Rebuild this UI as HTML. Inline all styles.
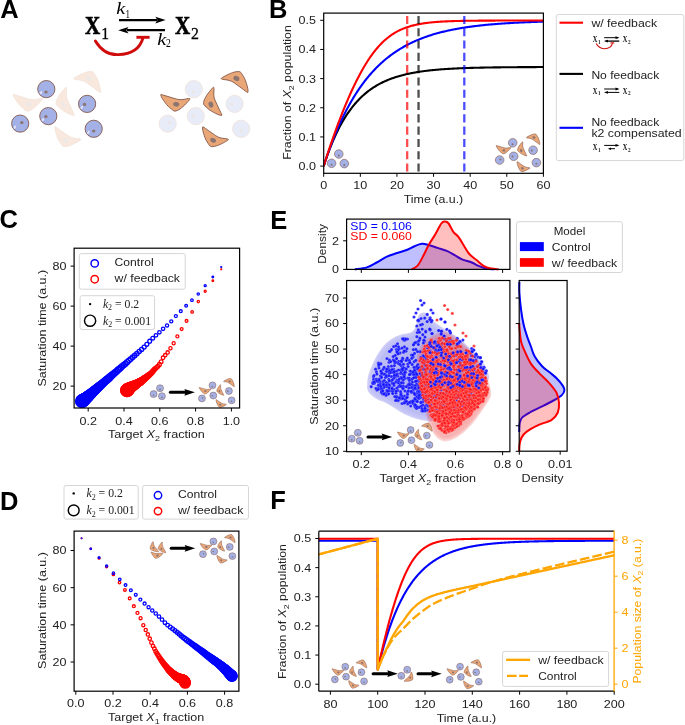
<!DOCTYPE html>
<html><head><meta charset="utf-8"><style>
html,body{margin:0;padding:0;background:#fff;}
svg{display:block;will-change:transform;}

</style></head><body>
<svg width="685" height="725" viewBox="0 0 685 725" font-family="'Liberation Sans', sans-serif" fill="#222222">
<rect width="685" height="725" fill="#fff"/>
<text x="0.30" y="18.00" font-size="25.5" fill="#000" font-weight="bold">A</text>
<text x="85.00" y="34.00" font-size="25" fill="#000" textLength="15.20" lengthAdjust="spacingAndGlyphs" font-weight="bold" font-family="'Liberation Serif', serif" stroke="#000" stroke-width="0.7">X</text>
<text x="101.30" y="38.90" font-size="16.5" fill="#000" textLength="7.80" lengthAdjust="spacingAndGlyphs" font-family="'Liberation Serif', serif" stroke="#000" stroke-width="0.3">1</text>
<text x="174.90" y="34.00" font-size="25" fill="#000" textLength="15.20" lengthAdjust="spacingAndGlyphs" font-weight="bold" font-family="'Liberation Serif', serif" stroke="#000" stroke-width="0.7">X</text>
<text x="190.90" y="38.90" font-size="16.5" fill="#000" textLength="7.90" lengthAdjust="spacingAndGlyphs" font-family="'Liberation Serif', serif" stroke="#000" stroke-width="0.3">2</text>
<text x="116.30" y="14.00" font-size="16.5" fill="#000" textLength="9.00" lengthAdjust="spacingAndGlyphs" font-family="'Liberation Serif', serif" font-style="italic">k</text>
<text x="125.50" y="17.60" font-size="11.5" fill="#000" textLength="4.50" lengthAdjust="spacingAndGlyphs" font-family="'Liberation Serif', serif">1</text>
<text x="157.20" y="44.60" font-size="16.5" fill="#000" textLength="9.00" lengthAdjust="spacingAndGlyphs" font-family="'Liberation Serif', serif" font-style="italic">k</text>
<text x="166.00" y="47.40" font-size="11.5" fill="#000" textLength="4.80" lengthAdjust="spacingAndGlyphs" font-family="'Liberation Serif', serif">2</text>
<line x1="119.00" y1="20.10" x2="157.00" y2="20.10" stroke="#000" stroke-width="2.3"/>
<path d="M165.6,20.1 L155.3,16.8 L157.5,20.1 L155.3,23.4 Z" fill="#000"/>
<line x1="127.00" y1="30.20" x2="165.00" y2="30.20" stroke="#000" stroke-width="2.3"/>
<path d="M118.2,30.2 L128.5,26.9 L126.3,30.2 L128.5,33.5 Z" fill="#000"/>
<path d="M95.4,40.9 Q104,55.2 118.2,54.6 Q138.5,54 143.0,37.8" stroke="#d00c0c" stroke-width="2.9" fill="none" stroke-linecap="round"/>
<line x1="136.40" y1="37.30" x2="149.60" y2="37.30" stroke="#d00c0c" stroke-width="2.9"/>
<path d="M73.70,78.40 C73.90,77.92 75.43,77.22 76.63,76.54 C77.82,75.86 79.45,74.97 80.86,74.32 C82.26,73.67 83.84,73.07 85.06,72.65 C86.28,72.22 87.15,71.95 88.19,71.77 C89.23,71.59 90.44,71.47 91.29,71.57 C92.14,71.67 92.65,71.76 93.31,72.38 C93.96,73.01 94.58,74.29 95.22,75.31 C95.85,76.33 96.50,77.17 97.11,78.52 C97.73,79.87 98.41,81.77 98.92,83.40 C99.44,85.04 99.94,86.95 100.21,88.32 C100.49,89.69 100.59,90.93 100.56,91.63 C100.52,92.32 100.51,92.65 100.00,92.50 C99.49,92.35 98.51,91.44 97.52,90.72 C96.53,90.00 95.20,89.02 94.05,88.17 C92.89,87.32 91.73,86.47 90.57,85.62 C89.42,84.77 88.26,83.83 87.10,83.07 C85.94,82.32 84.86,81.60 83.60,81.08 C82.34,80.56 80.90,80.24 79.54,79.96 C78.18,79.68 76.42,79.66 75.45,79.40 C74.48,79.14 73.50,78.88 73.70,78.40 Z" fill="#f8e8de" stroke="#f3e3da" stroke-width="0.9" stroke-linejoin="round"/>
<ellipse cx="88.90" cy="78.40" rx="3.13" ry="2.39" transform="rotate(28.2 88.90 78.40)" fill="#efe9e6"/>
<path d="M42.50,98.90 C42.48,99.40 41.29,100.56 40.41,101.58 C39.53,102.60 38.32,103.96 37.23,105.01 C36.15,106.07 34.89,107.14 33.90,107.93 C32.91,108.72 32.19,109.26 31.29,109.77 C30.39,110.27 29.32,110.78 28.50,110.97 C27.68,111.15 27.18,111.24 26.37,110.88 C25.56,110.52 24.57,109.54 23.65,108.80 C22.73,108.07 21.86,107.50 20.85,106.46 C19.83,105.42 18.59,103.88 17.58,102.55 C16.56,101.21 15.47,99.61 14.77,98.43 C14.07,97.25 13.57,96.14 13.37,95.49 C13.17,94.83 13.08,94.53 13.60,94.50 C14.12,94.47 15.32,94.99 16.47,95.33 C17.63,95.67 19.17,96.14 20.52,96.55 C21.86,96.95 23.21,97.36 24.56,97.76 C25.90,98.17 27.28,98.66 28.60,98.98 C29.92,99.29 31.15,99.60 32.48,99.67 C33.82,99.74 35.25,99.56 36.60,99.38 C37.95,99.19 39.57,98.63 40.56,98.55 C41.54,98.47 42.52,98.40 42.50,98.90 Z" fill="#f8e8de" stroke="#f3e3da" stroke-width="0.9" stroke-linejoin="round"/>
<ellipse cx="28.70" cy="104.30" rx="3.07" ry="2.34" transform="rotate(-171.3 28.70 104.30)" fill="#efe9e6"/>
<path d="M65.90,87.20 C65.41,87.30 64.44,88.63 63.57,89.65 C62.69,90.66 61.53,92.05 60.64,93.27 C59.76,94.49 58.89,95.88 58.26,96.97 C57.62,98.06 57.20,98.84 56.83,99.80 C56.46,100.75 56.11,101.89 56.05,102.72 C55.98,103.55 55.97,104.06 56.44,104.80 C56.91,105.54 58.02,106.38 58.88,107.18 C59.74,107.98 60.41,108.75 61.59,109.60 C62.76,110.44 64.45,111.45 65.91,112.25 C67.37,113.05 69.11,113.89 70.36,114.41 C71.62,114.93 72.79,115.27 73.46,115.37 C74.13,115.47 74.45,115.51 74.40,115.00 C74.35,114.49 73.67,113.38 73.17,112.29 C72.66,111.21 71.98,109.76 71.39,108.49 C70.80,107.22 70.20,105.96 69.61,104.69 C69.02,103.42 68.33,102.14 67.83,100.89 C67.33,99.63 66.85,98.47 66.59,97.17 C66.33,95.86 66.29,94.43 66.28,93.07 C66.27,91.72 66.59,90.04 66.52,89.06 C66.46,88.08 66.39,87.10 65.90,87.20 Z" fill="#f8e8de" stroke="#f3e3da" stroke-width="0.9" stroke-linejoin="round"/>
<ellipse cx="63.40" cy="104.60" rx="3.05" ry="2.33" transform="rotate(73.0 63.40 104.60)" fill="#efe9e6"/>
<path d="M80.90,139.70 C80.72,140.16 79.27,140.86 78.15,141.54 C77.02,142.21 75.48,143.10 74.16,143.75 C72.83,144.40 71.34,145.00 70.18,145.43 C69.02,145.86 68.20,146.14 67.21,146.33 C66.22,146.52 65.07,146.67 64.26,146.59 C63.44,146.51 62.95,146.44 62.31,145.86 C61.68,145.28 61.06,144.07 60.43,143.10 C59.80,142.14 59.17,141.36 58.55,140.08 C57.93,138.81 57.25,137.01 56.72,135.46 C56.19,133.91 55.67,132.10 55.39,130.79 C55.10,129.49 54.97,128.31 54.98,127.64 C55.00,126.98 55.01,126.67 55.50,126.80 C55.99,126.93 56.94,127.78 57.91,128.45 C58.87,129.12 60.15,130.02 61.27,130.81 C62.40,131.59 63.52,132.38 64.64,133.17 C65.76,133.95 66.89,134.83 68.01,135.52 C69.14,136.22 70.18,136.88 71.39,137.35 C72.61,137.82 73.99,138.10 75.29,138.34 C76.60,138.58 78.27,138.56 79.21,138.79 C80.14,139.01 81.08,139.24 80.90,139.70 Z" fill="#f8e8de" stroke="#f3e3da" stroke-width="0.9" stroke-linejoin="round"/>
<ellipse cx="65.60" cy="140.20" rx="2.99" ry="2.28" transform="rotate(-153.1 65.60 140.20)" fill="#efe9e6"/>
<circle cx="46.30" cy="89.10" r="8.60" fill="#a3b1e7" stroke="#84574a" stroke-width="0.9"/>
<ellipse cx="40.97" cy="92.71" rx="1.03" ry="1.72" transform="rotate(30 40.97 92.71)" fill="#dfe4fa"/>
<ellipse cx="45.96" cy="92.02" rx="1.72" ry="1.55" fill="#8c7470"/>
<circle cx="87.10" cy="103.90" r="8.60" fill="#a3b1e7" stroke="#84574a" stroke-width="0.9"/>
<ellipse cx="81.77" cy="107.51" rx="1.03" ry="1.72" transform="rotate(30 81.77 107.51)" fill="#dfe4fa"/>
<ellipse cx="84.52" cy="104.42" rx="1.72" ry="1.55" fill="#8c7470"/>
<circle cx="48.30" cy="116.10" r="8.60" fill="#a3b1e7" stroke="#84574a" stroke-width="0.9"/>
<ellipse cx="42.97" cy="119.71" rx="1.03" ry="1.72" transform="rotate(30 42.97 119.71)" fill="#dfe4fa"/>
<ellipse cx="45.89" cy="116.44" rx="1.72" ry="1.55" fill="#8c7470"/>
<circle cx="20.20" cy="123.60" r="8.60" fill="#a3b1e7" stroke="#84574a" stroke-width="0.9"/>
<ellipse cx="14.87" cy="127.21" rx="1.03" ry="1.72" transform="rotate(30 14.87 127.21)" fill="#dfe4fa"/>
<ellipse cx="21.83" cy="122.48" rx="1.72" ry="1.55" fill="#8c7470"/>
<circle cx="93.70" cy="128.80" r="8.60" fill="#a3b1e7" stroke="#84574a" stroke-width="0.9"/>
<ellipse cx="88.37" cy="132.41" rx="1.03" ry="1.72" transform="rotate(30 88.37 132.41)" fill="#dfe4fa"/>
<ellipse cx="93.70" cy="130.95" rx="1.72" ry="1.55" fill="#8c7470"/>
<path d="M221.20,78.40 C221.40,77.92 222.93,77.22 224.13,76.54 C225.32,75.86 226.95,74.97 228.36,74.32 C229.76,73.67 231.34,73.07 232.56,72.65 C233.78,72.22 234.65,71.95 235.69,71.77 C236.73,71.59 237.94,71.47 238.79,71.57 C239.64,71.67 240.15,71.76 240.81,72.38 C241.46,73.01 242.08,74.29 242.72,75.31 C243.35,76.33 244.00,77.17 244.61,78.52 C245.23,79.87 245.91,81.77 246.42,83.40 C246.94,85.04 247.44,86.95 247.71,88.32 C247.99,89.69 248.09,90.93 248.06,91.63 C248.02,92.32 248.01,92.65 247.50,92.50 C246.99,92.35 246.01,91.44 245.02,90.72 C244.03,90.00 242.70,89.02 241.55,88.17 C240.39,87.32 239.23,86.47 238.07,85.62 C236.92,84.77 235.76,83.83 234.60,83.07 C233.44,82.32 232.36,81.60 231.10,81.08 C229.84,80.56 228.40,80.24 227.04,79.96 C225.68,79.68 223.92,79.66 222.95,79.40 C221.98,79.14 221.00,78.88 221.20,78.40 Z" fill="#e9a677" stroke="#84574a" stroke-width="0.9" stroke-linejoin="round"/>
<ellipse cx="236.40" cy="78.40" rx="3.13" ry="2.39" transform="rotate(28.2 236.40 78.40)" fill="#8c7470"/>
<path d="M190.00,98.90 C189.98,99.40 188.79,100.56 187.91,101.58 C187.03,102.60 185.82,103.96 184.73,105.01 C183.65,106.07 182.39,107.14 181.40,107.93 C180.41,108.72 179.69,109.26 178.79,109.77 C177.89,110.27 176.82,110.78 176.00,110.97 C175.18,111.15 174.68,111.24 173.87,110.88 C173.06,110.52 172.07,109.54 171.15,108.80 C170.23,108.07 169.36,107.50 168.35,106.46 C167.33,105.42 166.09,103.88 165.08,102.55 C164.06,101.21 162.97,99.61 162.27,98.43 C161.57,97.25 161.07,96.14 160.87,95.49 C160.67,94.83 160.58,94.53 161.10,94.50 C161.62,94.47 162.82,94.99 163.97,95.33 C165.13,95.67 166.67,96.14 168.02,96.55 C169.36,96.95 170.71,97.36 172.06,97.76 C173.40,98.17 174.78,98.66 176.10,98.98 C177.42,99.29 178.65,99.60 179.98,99.67 C181.32,99.74 182.75,99.56 184.10,99.38 C185.45,99.19 187.07,98.63 188.06,98.55 C189.04,98.47 190.02,98.40 190.00,98.90 Z" fill="#e9a677" stroke="#84574a" stroke-width="0.9" stroke-linejoin="round"/>
<ellipse cx="176.20" cy="104.30" rx="3.07" ry="2.34" transform="rotate(-171.3 176.20 104.30)" fill="#8c7470"/>
<path d="M213.40,87.20 C212.91,87.30 211.94,88.63 211.07,89.65 C210.19,90.66 209.03,92.05 208.14,93.27 C207.26,94.49 206.39,95.88 205.76,96.97 C205.12,98.06 204.70,98.84 204.33,99.80 C203.96,100.75 203.61,101.89 203.55,102.72 C203.48,103.55 203.47,104.06 203.94,104.80 C204.41,105.54 205.52,106.38 206.38,107.18 C207.24,107.98 207.91,108.75 209.09,109.60 C210.26,110.44 211.95,111.45 213.41,112.25 C214.87,113.05 216.61,113.89 217.86,114.41 C219.12,114.93 220.29,115.27 220.96,115.37 C221.63,115.47 221.95,115.51 221.90,115.00 C221.85,114.49 221.17,113.38 220.67,112.29 C220.16,111.21 219.48,109.76 218.89,108.49 C218.30,107.22 217.70,105.96 217.11,104.69 C216.52,103.42 215.83,102.14 215.33,100.89 C214.83,99.63 214.35,98.47 214.09,97.17 C213.83,95.86 213.79,94.43 213.78,93.07 C213.77,91.72 214.09,90.04 214.02,89.06 C213.96,88.08 213.89,87.10 213.40,87.20 Z" fill="#e9a677" stroke="#84574a" stroke-width="0.9" stroke-linejoin="round"/>
<ellipse cx="210.90" cy="104.60" rx="3.05" ry="2.33" transform="rotate(73.0 210.90 104.60)" fill="#8c7470"/>
<path d="M228.40,139.70 C228.22,140.16 226.77,140.86 225.65,141.54 C224.52,142.21 222.98,143.10 221.66,143.75 C220.33,144.40 218.84,145.00 217.68,145.43 C216.52,145.86 215.70,146.14 214.71,146.33 C213.72,146.52 212.57,146.67 211.76,146.59 C210.94,146.51 210.45,146.44 209.81,145.86 C209.18,145.28 208.56,144.07 207.93,143.10 C207.30,142.14 206.67,141.36 206.05,140.08 C205.43,138.81 204.75,137.01 204.22,135.46 C203.69,133.91 203.17,132.10 202.89,130.79 C202.60,129.49 202.47,128.31 202.48,127.64 C202.50,126.98 202.51,126.67 203.00,126.80 C203.49,126.93 204.44,127.78 205.41,128.45 C206.37,129.12 207.65,130.02 208.77,130.81 C209.90,131.59 211.02,132.38 212.14,133.17 C213.26,133.95 214.39,134.83 215.51,135.52 C216.64,136.22 217.68,136.88 218.89,137.35 C220.11,137.82 221.49,138.10 222.79,138.34 C224.10,138.58 225.77,138.56 226.71,138.79 C227.64,139.01 228.58,139.24 228.40,139.70 Z" fill="#e9a677" stroke="#84574a" stroke-width="0.9" stroke-linejoin="round"/>
<ellipse cx="213.10" cy="140.20" rx="2.99" ry="2.28" transform="rotate(-153.1 213.10 140.20)" fill="#8c7470"/>
<circle cx="193.80" cy="89.10" r="8.60" fill="#e8ecf8" stroke="#efe3dc" stroke-width="0.9"/>
<circle cx="193.46" cy="92.02" r="1.72" fill="#ebe6e6"/>
<circle cx="234.60" cy="103.90" r="8.60" fill="#e8ecf8" stroke="#efe3dc" stroke-width="0.9"/>
<circle cx="232.02" cy="104.42" r="1.72" fill="#ebe6e6"/>
<circle cx="195.80" cy="116.10" r="8.60" fill="#e8ecf8" stroke="#efe3dc" stroke-width="0.9"/>
<circle cx="193.39" cy="116.44" r="1.72" fill="#ebe6e6"/>
<circle cx="167.70" cy="123.60" r="8.60" fill="#e8ecf8" stroke="#efe3dc" stroke-width="0.9"/>
<circle cx="169.33" cy="122.48" r="1.72" fill="#ebe6e6"/>
<circle cx="241.20" cy="128.80" r="8.60" fill="#e8ecf8" stroke="#efe3dc" stroke-width="0.9"/>
<circle cx="241.20" cy="130.95" r="1.72" fill="#ebe6e6"/>
<text x="269.00" y="18.20" font-size="25.5" fill="#000" font-weight="bold">B</text>
<clipPath id="cB"><rect x="323.7" y="13.1" width="219.7" height="160.20000000000002"/></clipPath>
<g clip-path="url(#cB)">
<circle cx="338.80" cy="154.00" r="4.30" fill="#a3b1e7" stroke="#84574a" stroke-width="0.6"/>
<ellipse cx="338.80" cy="155.46" rx="1.07" ry="0.99" fill="#8c7470"/>
<circle cx="331.60" cy="163.30" r="4.30" fill="#a3b1e7" stroke="#84574a" stroke-width="0.6"/>
<ellipse cx="331.60" cy="164.76" rx="1.07" ry="0.99" fill="#8c7470"/>
<circle cx="344.30" cy="163.60" r="4.30" fill="#a3b1e7" stroke="#84574a" stroke-width="0.6"/>
<ellipse cx="344.30" cy="165.06" rx="1.07" ry="0.99" fill="#8c7470"/>
<path d="M526.40,137.45 C526.50,137.21 527.27,136.86 527.86,136.52 C528.46,136.18 529.28,135.73 529.98,135.41 C530.68,135.08 531.47,134.79 532.08,134.57 C532.69,134.36 533.13,134.23 533.65,134.14 C534.17,134.05 534.77,133.98 535.20,134.04 C535.62,134.09 535.88,134.13 536.20,134.44 C536.53,134.75 536.84,135.39 537.16,135.91 C537.48,136.42 537.80,136.84 538.11,137.51 C538.42,138.18 538.75,139.13 539.01,139.95 C539.27,140.77 539.52,141.72 539.66,142.41 C539.79,143.10 539.85,143.72 539.83,144.06 C539.81,144.41 539.80,144.58 539.55,144.50 C539.30,144.42 538.81,143.97 538.31,143.61 C537.81,143.25 537.15,142.76 536.57,142.34 C535.99,141.91 535.42,141.49 534.84,141.06 C534.26,140.64 533.68,140.16 533.10,139.79 C532.52,139.41 531.98,139.05 531.35,138.79 C530.72,138.53 530.00,138.37 529.32,138.23 C528.64,138.09 527.76,138.08 527.28,137.95 C526.79,137.82 526.30,137.69 526.40,137.45 Z" fill="#e9a677" stroke="#84574a" stroke-width="0.6" stroke-linejoin="round"/>
<ellipse cx="534.00" cy="137.45" rx="1.57" ry="1.19" transform="rotate(28.2 534.00 137.45)" fill="#8c7470"/>
<path d="M510.80,147.70 C510.79,147.95 510.19,148.53 509.75,149.04 C509.31,149.55 508.71,150.23 508.17,150.76 C507.62,151.29 506.99,151.82 506.50,152.22 C506.00,152.61 505.65,152.88 505.20,153.13 C504.75,153.39 504.21,153.64 503.80,153.73 C503.39,153.83 503.14,153.87 502.74,153.69 C502.33,153.51 501.83,153.02 501.37,152.65 C500.91,152.28 500.48,152.00 499.97,151.48 C499.47,150.96 498.84,150.19 498.34,149.52 C497.83,148.85 497.29,148.05 496.94,147.46 C496.59,146.88 496.33,146.32 496.23,145.99 C496.14,145.67 496.09,145.51 496.35,145.50 C496.61,145.49 497.21,145.75 497.79,145.92 C498.36,146.09 499.13,146.32 499.81,146.52 C500.48,146.73 501.15,146.93 501.83,147.13 C502.50,147.33 503.19,147.58 503.85,147.74 C504.51,147.90 505.12,148.05 505.79,148.09 C506.46,148.12 507.18,148.03 507.85,147.94 C508.52,147.84 509.34,147.57 509.83,147.53 C510.32,147.49 510.81,147.45 510.80,147.70 Z" fill="#e9a677" stroke="#84574a" stroke-width="0.6" stroke-linejoin="round"/>
<ellipse cx="503.90" cy="150.40" rx="1.53" ry="1.17" transform="rotate(-171.3 503.90 150.40)" fill="#8c7470"/>
<path d="M522.50,141.85 C522.25,141.90 521.77,142.57 521.33,143.07 C520.90,143.58 520.31,144.27 519.87,144.88 C519.43,145.49 519.00,146.19 518.68,146.73 C518.36,147.28 518.15,147.67 517.96,148.15 C517.78,148.63 517.61,149.19 517.57,149.61 C517.54,150.03 517.53,150.28 517.77,150.65 C518.01,151.02 518.56,151.44 518.99,151.84 C519.42,152.24 519.76,152.63 520.34,153.05 C520.93,153.47 521.77,153.97 522.50,154.37 C523.24,154.78 524.10,155.20 524.73,155.46 C525.36,155.72 525.94,155.89 526.28,155.93 C526.62,155.98 526.77,156.01 526.75,155.75 C526.73,155.49 526.38,154.94 526.13,154.40 C525.88,153.85 525.54,153.13 525.24,152.50 C524.95,151.86 524.65,151.23 524.35,150.60 C524.06,149.96 523.72,149.32 523.47,148.69 C523.21,148.07 522.97,147.48 522.84,146.83 C522.72,146.18 522.70,145.46 522.69,144.79 C522.69,144.11 522.84,143.27 522.81,142.78 C522.78,142.29 522.75,141.80 522.50,141.85 Z" fill="#e9a677" stroke="#84574a" stroke-width="0.6" stroke-linejoin="round"/>
<ellipse cx="521.25" cy="150.55" rx="1.53" ry="1.16" transform="rotate(73.0 521.25 150.55)" fill="#8c7470"/>
<path d="M530.00,168.10 C529.91,168.33 529.18,168.68 528.62,169.02 C528.06,169.36 527.29,169.80 526.63,170.12 C525.96,170.45 525.22,170.75 524.64,170.97 C524.06,171.18 523.65,171.32 523.15,171.42 C522.66,171.51 522.09,171.58 521.68,171.55 C521.27,171.51 521.03,171.47 520.71,171.18 C520.39,170.89 520.08,170.28 519.76,169.80 C519.45,169.32 519.13,168.93 518.83,168.29 C518.52,167.65 518.17,166.75 517.91,165.98 C517.65,165.21 517.39,164.30 517.24,163.65 C517.10,163.00 517.03,162.41 517.04,162.07 C517.05,161.74 517.06,161.58 517.30,161.65 C517.54,161.72 518.02,162.14 518.50,162.47 C518.98,162.81 519.63,163.26 520.19,163.65 C520.75,164.05 521.31,164.44 521.87,164.83 C522.43,165.23 522.99,165.66 523.56,166.01 C524.12,166.36 524.64,166.69 525.25,166.93 C525.85,167.16 526.55,167.30 527.20,167.42 C527.85,167.54 528.69,167.53 529.15,167.64 C529.62,167.76 530.09,167.87 530.00,168.10 Z" fill="#e9a677" stroke="#84574a" stroke-width="0.6" stroke-linejoin="round"/>
<ellipse cx="522.35" cy="168.35" rx="1.50" ry="1.14" transform="rotate(-153.1 522.35 168.35)" fill="#8c7470"/>
<circle cx="512.70" cy="142.80" r="4.30" fill="#a3b1e7" stroke="#84574a" stroke-width="0.6"/>
<ellipse cx="512.53" cy="144.26" rx="1.07" ry="0.99" fill="#8c7470"/>
<circle cx="533.10" cy="150.20" r="4.30" fill="#a3b1e7" stroke="#84574a" stroke-width="0.6"/>
<ellipse cx="531.81" cy="150.46" rx="1.07" ry="0.99" fill="#8c7470"/>
<circle cx="513.70" cy="156.30" r="4.30" fill="#a3b1e7" stroke="#84574a" stroke-width="0.6"/>
<ellipse cx="512.50" cy="156.47" rx="1.07" ry="0.99" fill="#8c7470"/>
<circle cx="499.65" cy="160.05" r="4.30" fill="#a3b1e7" stroke="#84574a" stroke-width="0.6"/>
<ellipse cx="500.47" cy="159.49" rx="1.07" ry="0.99" fill="#8c7470"/>
<circle cx="536.40" cy="162.65" r="4.30" fill="#a3b1e7" stroke="#84574a" stroke-width="0.6"/>
<ellipse cx="536.40" cy="163.72" rx="1.07" ry="0.99" fill="#8c7470"/>
<path d="M323.70,166.10 L324.62,163.27 L325.53,160.52 L326.45,157.85 L327.36,155.26 L328.28,152.74 L329.19,150.29 L330.11,147.91 L331.02,145.60 L331.94,143.36 L332.85,141.18 L333.77,139.06 L334.69,137.00 L335.60,135.00 L336.52,133.06 L337.43,131.18 L338.35,129.34 L339.26,127.56 L340.18,125.83 L341.09,124.15 L342.01,122.52 L342.92,120.94 L343.84,119.40 L344.75,117.90 L345.67,116.45 L346.59,115.03 L347.50,113.66 L348.42,112.33 L349.33,111.03 L350.25,109.78 L351.16,108.55 L352.08,107.37 L352.99,106.21 L353.91,105.09 L354.82,104.01 L355.74,102.95 L356.65,101.92 L357.57,100.92 L358.49,99.95 L359.40,99.01 L360.32,98.10 L361.23,97.21 L362.15,96.35 L363.06,95.51 L363.98,94.69 L364.89,93.90 L365.81,93.13 L366.72,92.39 L367.64,91.66 L368.56,90.96 L369.47,90.27 L370.39,89.61 L371.30,88.96 L372.22,88.33 L373.13,87.72 L374.05,87.13 L374.96,86.55 L375.88,85.99 L376.79,85.45 L377.71,84.92 L378.62,84.41 L379.54,83.91 L380.46,83.43 L381.37,82.96 L382.29,82.50 L383.20,82.06 L384.12,81.63 L385.03,81.21 L385.95,80.80 L386.86,80.41 L387.78,80.02 L388.69,79.65 L389.61,79.29 L390.53,78.94 L391.44,78.59 L392.36,78.26 L393.27,77.94 L394.19,77.63 L395.10,77.32 L396.02,77.03 L396.93,76.74 L397.85,76.46 L398.76,76.19 L399.68,75.92 L400.59,75.67 L401.51,75.42 L402.43,75.18 L403.34,74.94 L404.26,74.72 L405.17,74.49 L406.09,74.28 L407.00,74.07 L407.92,73.87 L408.83,73.67 L409.75,73.48 L410.66,73.29 L411.58,73.11 L412.50,72.94 L413.41,72.77 L414.33,72.60 L415.24,72.44 L416.16,72.28 L417.07,72.13 L417.99,71.98 L418.90,71.84 L419.82,71.70 L420.73,71.56 L421.65,71.43 L422.56,71.31 L423.48,71.18 L424.40,71.06 L425.31,70.94 L426.23,70.83 L427.14,70.72 L428.06,70.61 L428.97,70.51 L429.89,70.41 L430.80,70.31 L431.72,70.21 L432.63,70.12 L433.55,70.03 L434.47,69.94 L435.38,69.86 L436.30,69.77 L437.21,69.69 L438.13,69.61 L439.04,69.54 L439.96,69.47 L440.87,69.39 L441.79,69.32 L442.70,69.26 L443.62,69.19 L444.53,69.13 L445.45,69.07 L446.37,69.00 L447.28,68.95 L448.20,68.89 L449.11,68.83 L450.03,68.78 L450.94,68.73 L451.86,68.68 L452.77,68.63 L453.69,68.58 L454.60,68.53 L455.52,68.49 L456.44,68.45 L457.35,68.40 L458.27,68.36 L459.18,68.32 L460.10,68.28 L461.01,68.25 L461.93,68.21 L462.84,68.17 L463.76,68.14 L464.67,68.10 L465.59,68.07 L466.50,68.04 L467.42,68.01 L468.34,67.98 L469.25,67.95 L470.17,67.92 L471.08,67.89 L472.00,67.87 L472.91,67.84 L473.83,67.82 L474.74,67.79 L475.66,67.77 L476.57,67.74 L477.49,67.72 L478.41,67.70 L479.32,67.68 L480.24,67.66 L481.15,67.64 L482.07,67.62 L482.98,67.60 L483.90,67.58 L484.81,67.56 L485.73,67.55 L486.64,67.53 L487.56,67.51 L488.48,67.50 L489.39,67.48 L490.31,67.47 L491.22,67.45 L492.14,67.44 L493.05,67.42 L493.97,67.41 L494.88,67.40 L495.80,67.39 L496.71,67.37 L497.63,67.36 L498.54,67.35 L499.46,67.34 L500.38,67.33 L501.29,67.32 L502.21,67.31 L503.12,67.30 L504.04,67.29 L504.95,67.28 L505.87,67.27 L506.78,67.26 L507.70,67.25 L508.61,67.24 L509.53,67.23 L510.44,67.23 L511.36,67.22 L512.28,67.21 L513.19,67.20 L514.11,67.20 L515.02,67.19 L515.94,67.18 L516.85,67.18 L517.77,67.17 L518.68,67.16 L519.60,67.16 L520.51,67.15 L521.43,67.15 L522.35,67.14 L523.26,67.14 L524.18,67.13 L525.09,67.13 L526.01,67.12 L526.92,67.12 L527.84,67.11 L528.75,67.11 L529.67,67.10 L530.58,67.10 L531.50,67.09 L532.41,67.09 L533.33,67.09 L534.25,67.08 L535.16,67.08 L536.08,67.08 L536.99,67.07 L537.91,67.07 L538.82,67.07 L539.74,67.06 L540.65,67.06 L541.57,67.06 L542.48,67.05 L543.40,67.05" stroke="#000" stroke-width="2.1" fill="none" stroke-linejoin="round"/>
<path d="M323.70,166.10 L324.62,163.28 L325.53,160.52 L326.45,157.82 L327.36,155.16 L328.28,152.56 L329.19,150.00 L330.11,147.50 L331.02,145.04 L331.94,142.63 L332.85,140.27 L333.77,137.95 L334.69,135.68 L335.60,133.45 L336.52,131.27 L337.43,129.12 L338.35,127.02 L339.26,124.96 L340.18,122.94 L341.09,120.96 L342.01,119.01 L342.92,117.11 L343.84,115.24 L344.75,113.41 L345.67,111.61 L346.59,109.84 L347.50,108.12 L348.42,106.42 L349.33,104.76 L350.25,103.13 L351.16,101.53 L352.08,99.96 L352.99,98.42 L353.91,96.91 L354.82,95.43 L355.74,93.98 L356.65,92.56 L357.57,91.16 L358.49,89.79 L359.40,88.45 L360.32,87.14 L361.23,85.84 L362.15,84.58 L363.06,83.34 L363.98,82.12 L364.89,80.93 L365.81,79.76 L366.72,78.61 L367.64,77.48 L368.56,76.38 L369.47,75.29 L370.39,74.23 L371.30,73.19 L372.22,72.17 L373.13,71.17 L374.05,70.19 L374.96,69.22 L375.88,68.28 L376.79,67.35 L377.71,66.44 L378.62,65.55 L379.54,64.68 L380.46,63.82 L381.37,62.98 L382.29,62.16 L383.20,61.35 L384.12,60.56 L385.03,59.78 L385.95,59.02 L386.86,58.27 L387.78,57.53 L388.69,56.82 L389.61,56.11 L390.53,55.42 L391.44,54.74 L392.36,54.08 L393.27,53.42 L394.19,52.78 L395.10,52.16 L396.02,51.54 L396.93,50.94 L397.85,50.35 L398.76,49.77 L399.68,49.20 L400.59,48.64 L401.51,48.09 L402.43,47.55 L403.34,47.03 L404.26,46.51 L405.17,46.01 L406.09,45.51 L407.00,45.02 L407.92,44.55 L408.83,44.08 L409.75,43.62 L410.66,43.17 L411.58,42.73 L412.50,42.29 L413.41,41.87 L414.33,41.45 L415.24,41.04 L416.16,40.64 L417.07,40.25 L417.99,39.86 L418.90,39.49 L419.82,39.12 L420.73,38.75 L421.65,38.40 L422.56,38.05 L423.48,37.70 L424.40,37.37 L425.31,37.04 L426.23,36.72 L427.14,36.40 L428.06,36.09 L428.97,35.78 L429.89,35.48 L430.80,35.19 L431.72,34.90 L432.63,34.62 L433.55,34.34 L434.47,34.07 L435.38,33.81 L436.30,33.55 L437.21,33.29 L438.13,33.04 L439.04,32.79 L439.96,32.55 L440.87,32.32 L441.79,32.08 L442.70,31.86 L443.62,31.63 L444.53,31.41 L445.45,31.20 L446.37,30.99 L447.28,30.78 L448.20,30.58 L449.11,30.38 L450.03,30.19 L450.94,30.00 L451.86,29.81 L452.77,29.63 L453.69,29.45 L454.60,29.27 L455.52,29.10 L456.44,28.93 L457.35,28.76 L458.27,28.60 L459.18,28.44 L460.10,28.28 L461.01,28.12 L461.93,27.97 L462.84,27.83 L463.76,27.68 L464.67,27.54 L465.59,27.40 L466.50,27.26 L467.42,27.13 L468.34,26.99 L469.25,26.86 L470.17,26.74 L471.08,26.61 L472.00,26.49 L472.91,26.37 L473.83,26.26 L474.74,26.14 L475.66,26.03 L476.57,25.92 L477.49,25.81 L478.41,25.70 L479.32,25.60 L480.24,25.50 L481.15,25.39 L482.07,25.30 L482.98,25.20 L483.90,25.11 L484.81,25.01 L485.73,24.92 L486.64,24.83 L487.56,24.74 L488.48,24.66 L489.39,24.57 L490.31,24.49 L491.22,24.41 L492.14,24.33 L493.05,24.25 L493.97,24.18 L494.88,24.10 L495.80,24.03 L496.71,23.96 L497.63,23.89 L498.54,23.82 L499.46,23.75 L500.38,23.68 L501.29,23.62 L502.21,23.55 L503.12,23.49 L504.04,23.43 L504.95,23.37 L505.87,23.31 L506.78,23.25 L507.70,23.19 L508.61,23.14 L509.53,23.08 L510.44,23.03 L511.36,22.98 L512.28,22.93 L513.19,22.87 L514.11,22.82 L515.02,22.78 L515.94,22.73 L516.85,22.68 L517.77,22.64 L518.68,22.59 L519.60,22.55 L520.51,22.50 L521.43,22.46 L522.35,22.42 L523.26,22.38 L524.18,22.34 L525.09,22.30 L526.01,22.26 L526.92,22.22 L527.84,22.18 L528.75,22.15 L529.67,22.11 L530.58,22.08 L531.50,22.04 L532.41,22.01 L533.33,21.98 L534.25,21.94 L535.16,21.91 L536.08,21.88 L536.99,21.85 L537.91,21.82 L538.82,21.79 L539.74,21.76 L540.65,21.73 L541.57,21.71 L542.48,21.68 L543.40,21.65" stroke="#0000ff" stroke-width="2.1" fill="none" stroke-linejoin="round"/>
<path d="M323.70,166.10 L324.62,163.19 L325.53,160.32 L326.45,157.47 L327.36,154.66 L328.28,151.87 L329.19,149.12 L330.11,146.40 L331.02,143.70 L331.94,141.04 L332.85,138.41 L333.77,135.80 L334.69,133.23 L335.60,130.68 L336.52,128.17 L337.43,125.68 L338.35,123.23 L339.26,120.80 L340.18,118.41 L341.09,116.04 L342.01,113.71 L342.92,111.40 L343.84,109.13 L344.75,106.88 L345.67,104.67 L346.59,102.48 L347.50,100.33 L348.42,98.20 L349.33,96.11 L350.25,94.05 L351.16,92.02 L352.08,90.02 L352.99,88.06 L353.91,86.12 L354.82,84.22 L355.74,82.35 L356.65,80.51 L357.57,78.70 L358.49,76.93 L359.40,75.19 L360.32,73.48 L361.23,71.81 L362.15,70.17 L363.06,68.56 L363.98,66.99 L364.89,65.45 L365.81,63.95 L366.72,62.47 L367.64,61.04 L368.56,59.64 L369.47,58.27 L370.39,56.93 L371.30,55.63 L372.22,54.36 L373.13,53.13 L374.05,51.93 L374.96,50.76 L375.88,49.63 L376.79,48.52 L377.71,47.45 L378.62,46.42 L379.54,45.41 L380.46,44.44 L381.37,43.49 L382.29,42.58 L383.20,41.70 L384.12,40.84 L385.03,40.02 L385.95,39.22 L386.86,38.45 L387.78,37.71 L388.69,36.99 L389.61,36.30 L390.53,35.64 L391.44,34.99 L392.36,34.38 L393.27,33.78 L394.19,33.21 L395.10,32.67 L396.02,32.14 L396.93,31.63 L397.85,31.15 L398.76,30.68 L399.68,30.23 L400.59,29.80 L401.51,29.39 L402.43,28.99 L403.34,28.62 L404.26,28.25 L405.17,27.90 L406.09,27.57 L407.00,27.25 L407.92,26.95 L408.83,26.66 L409.75,26.38 L410.66,26.11 L411.58,25.85 L412.50,25.61 L413.41,25.38 L414.33,25.15 L415.24,24.94 L416.16,24.73 L417.07,24.54 L417.99,24.35 L418.90,24.18 L419.82,24.01 L420.73,23.84 L421.65,23.69 L422.56,23.54 L423.48,23.40 L424.40,23.26 L425.31,23.14 L426.23,23.01 L427.14,22.90 L428.06,22.78 L428.97,22.68 L429.89,22.58 L430.80,22.48 L431.72,22.39 L432.63,22.30 L433.55,22.22 L434.47,22.14 L435.38,22.06 L436.30,21.99 L437.21,21.92 L438.13,21.85 L439.04,21.79 L439.96,21.73 L440.87,21.67 L441.79,21.61 L442.70,21.56 L443.62,21.51 L444.53,21.47 L445.45,21.42 L446.37,21.38 L447.28,21.34 L448.20,21.30 L449.11,21.26 L450.03,21.22 L450.94,21.19 L451.86,21.16 L452.77,21.13 L453.69,21.10 L454.60,21.07 L455.52,21.04 L456.44,21.02 L457.35,21.00 L458.27,20.97 L459.18,20.95 L460.10,20.93 L461.01,20.91 L461.93,20.89 L462.84,20.87 L463.76,20.86 L464.67,20.84 L465.59,20.82 L466.50,20.81 L467.42,20.80 L468.34,20.78 L469.25,20.77 L470.17,20.76 L471.08,20.75 L472.00,20.73 L472.91,20.72 L473.83,20.71 L474.74,20.70 L475.66,20.69 L476.57,20.69 L477.49,20.68 L478.41,20.67 L479.32,20.66 L480.24,20.66 L481.15,20.65 L482.07,20.64 L482.98,20.64 L483.90,20.63 L484.81,20.62 L485.73,20.62 L486.64,20.61 L487.56,20.61 L488.48,20.60 L489.39,20.60 L490.31,20.60 L491.22,20.59 L492.14,20.59 L493.05,20.58 L493.97,20.58 L494.88,20.58 L495.80,20.57 L496.71,20.57 L497.63,20.57 L498.54,20.57 L499.46,20.56 L500.38,20.56 L501.29,20.56 L502.21,20.56 L503.12,20.55 L504.04,20.55 L504.95,20.55 L505.87,20.55 L506.78,20.55 L507.70,20.55 L508.61,20.54 L509.53,20.54 L510.44,20.54 L511.36,20.54 L512.28,20.54 L513.19,20.54 L514.11,20.54 L515.02,20.54 L515.94,20.53 L516.85,20.53 L517.77,20.53 L518.68,20.53 L519.60,20.53 L520.51,20.53 L521.43,20.53 L522.35,20.53 L523.26,20.53 L524.18,20.53 L525.09,20.53 L526.01,20.53 L526.92,20.52 L527.84,20.52 L528.75,20.52 L529.67,20.52 L530.58,20.52 L531.50,20.52 L532.41,20.52 L533.33,20.52 L534.25,20.52 L535.16,20.52 L536.08,20.52 L536.99,20.52 L537.91,20.52 L538.82,20.52 L539.74,20.52 L540.65,20.52 L541.57,20.52 L542.48,20.52 L543.40,20.52" stroke="#ff0000" stroke-width="2.1" fill="none" stroke-linejoin="round"/>
<line x1="407.19" y1="13.10" x2="407.19" y2="173.30" stroke="#ff0000" stroke-width="2.3" stroke-dasharray="8.1,4.2" stroke-dashoffset="9.5" stroke-opacity="0.7"/>
<line x1="418.54" y1="13.10" x2="418.54" y2="173.30" stroke="#000" stroke-width="2.3" stroke-dasharray="8.1,4.2" stroke-dashoffset="9.5" stroke-opacity="0.7"/>
<line x1="464.31" y1="13.10" x2="464.31" y2="173.30" stroke="#0000ff" stroke-width="2.3" stroke-dasharray="8.1,4.2" stroke-dashoffset="9.5" stroke-opacity="0.7"/>
</g>
<rect x="323.70" y="13.10" width="219.70" height="160.20" fill="none" stroke="#000" stroke-width="1.2"/>
<line x1="320.20" y1="166.10" x2="323.70" y2="166.10" stroke="#000" stroke-width="1"/>
<text x="316.10" y="170.00" font-size="11.3" text-anchor="end" textLength="17.49" lengthAdjust="spacingAndGlyphs">0.0</text>
<line x1="320.20" y1="136.94" x2="323.70" y2="136.94" stroke="#000" stroke-width="1"/>
<text x="316.10" y="140.84" font-size="11.3" text-anchor="end" textLength="17.49" lengthAdjust="spacingAndGlyphs">0.1</text>
<line x1="320.20" y1="107.78" x2="323.70" y2="107.78" stroke="#000" stroke-width="1"/>
<text x="316.10" y="111.68" font-size="11.3" text-anchor="end" textLength="17.49" lengthAdjust="spacingAndGlyphs">0.2</text>
<line x1="320.20" y1="78.62" x2="323.70" y2="78.62" stroke="#000" stroke-width="1"/>
<text x="316.10" y="82.52" font-size="11.3" text-anchor="end" textLength="17.49" lengthAdjust="spacingAndGlyphs">0.3</text>
<line x1="320.20" y1="49.46" x2="323.70" y2="49.46" stroke="#000" stroke-width="1"/>
<text x="316.10" y="53.36" font-size="11.3" text-anchor="end" textLength="17.49" lengthAdjust="spacingAndGlyphs">0.4</text>
<line x1="320.20" y1="20.30" x2="323.70" y2="20.30" stroke="#000" stroke-width="1"/>
<text x="316.10" y="24.20" font-size="11.3" text-anchor="end" textLength="17.49" lengthAdjust="spacingAndGlyphs">0.5</text>
<line x1="323.70" y1="173.30" x2="323.70" y2="176.80" stroke="#000" stroke-width="1"/>
<text x="323.70" y="188.80" font-size="11.3" text-anchor="middle" textLength="7.00" lengthAdjust="spacingAndGlyphs">0</text>
<line x1="360.32" y1="173.30" x2="360.32" y2="176.80" stroke="#000" stroke-width="1"/>
<text x="360.32" y="188.80" font-size="11.3" text-anchor="middle" textLength="13.99" lengthAdjust="spacingAndGlyphs">10</text>
<line x1="396.93" y1="173.30" x2="396.93" y2="176.80" stroke="#000" stroke-width="1"/>
<text x="396.93" y="188.80" font-size="11.3" text-anchor="middle" textLength="13.99" lengthAdjust="spacingAndGlyphs">20</text>
<line x1="433.55" y1="173.30" x2="433.55" y2="176.80" stroke="#000" stroke-width="1"/>
<text x="433.55" y="188.80" font-size="11.3" text-anchor="middle" textLength="13.99" lengthAdjust="spacingAndGlyphs">30</text>
<line x1="470.17" y1="173.30" x2="470.17" y2="176.80" stroke="#000" stroke-width="1"/>
<text x="470.17" y="188.80" font-size="11.3" text-anchor="middle" textLength="13.99" lengthAdjust="spacingAndGlyphs">40</text>
<line x1="506.78" y1="173.30" x2="506.78" y2="176.80" stroke="#000" stroke-width="1"/>
<text x="506.78" y="188.80" font-size="11.3" text-anchor="middle" textLength="13.99" lengthAdjust="spacingAndGlyphs">50</text>
<line x1="543.40" y1="173.30" x2="543.40" y2="176.80" stroke="#000" stroke-width="1"/>
<text x="543.40" y="188.80" font-size="11.3" text-anchor="middle" textLength="13.99" lengthAdjust="spacingAndGlyphs">60</text>
<text x="433.50" y="202.50" font-size="11.3" text-anchor="middle" textLength="59.50" lengthAdjust="spacingAndGlyphs">Time (a.u.)</text>
<text transform="translate(291.4,92.5) rotate(-90)" font-size="11.3" text-anchor="middle" textLength="134.5" lengthAdjust="spacingAndGlyphs" fill="#222222">Fraction of <tspan font-style="italic">X</tspan><tspan font-size="8" dy="2.5">2</tspan><tspan dy="-2.5"> population</tspan></text>
<rect x="556.30" y="14.50" width="127.50" height="146.10" rx="2" fill="#fff" fill-opacity="0.8" stroke="#d6d6d6" stroke-width="1"/>
<line x1="559.50" y1="22.70" x2="583.00" y2="22.70" stroke="#ff0000" stroke-width="2.1"/>
<line x1="559.50" y1="73.90" x2="583.00" y2="73.90" stroke="#000" stroke-width="2.1"/>
<line x1="559.50" y1="127.80" x2="583.00" y2="127.80" stroke="#0000ff" stroke-width="2.1"/>
<text x="591.40" y="26.60" font-size="11.3" textLength="65.70" lengthAdjust="spacingAndGlyphs">w/ feedback</text>
<text x="591.40" y="78.50" font-size="11.3" textLength="67.80" lengthAdjust="spacingAndGlyphs">No feedback</text>
<text x="591.40" y="125.90" font-size="11.3" textLength="67.80" lengthAdjust="spacingAndGlyphs">No feedback</text>
<text x="591.40" y="137.30" font-size="11.3" textLength="90.30" lengthAdjust="spacingAndGlyphs">k2 compensated</text>
<text x="592.80" y="42.20" font-size="7.6" fill="#111" textLength="4.60" lengthAdjust="spacingAndGlyphs" font-weight="bold" font-family="'Liberation Serif', serif">X</text>
<text x="597.90" y="43.90" font-size="5.2" fill="#222" font-weight="bold" font-family="'Liberation Serif', serif">1</text>
<text x="622.80" y="42.20" font-size="7.6" fill="#111" textLength="4.60" lengthAdjust="spacingAndGlyphs" font-weight="bold" font-family="'Liberation Serif', serif">X</text>
<text x="628.00" y="43.90" font-size="5.2" fill="#222" font-weight="bold" font-family="'Liberation Serif', serif">2</text>
<line x1="604.20" y1="37.70" x2="618.00" y2="37.70" stroke="#000" stroke-width="1.0"/>
<path d="M619.5,37.70 L615.5,36.30 L615.5,39.10 Z" fill="#000"/>
<line x1="605.50" y1="41.10" x2="619.30" y2="41.10" stroke="#000" stroke-width="1.3"/>
<path d="M604.0,41.10 L608,39.70 L608,42.50 Z" fill="#000"/>
<path d="M596.2,43.60 Q599,48.90 604.5,48.70 Q611.5,48.30 612.5,43.10" stroke="#d00c0c" stroke-width="1.1" fill="none"/>
<line x1="610.40" y1="42.90" x2="614.30" y2="42.90" stroke="#d00c0c" stroke-width="1.1"/>
<text x="592.80" y="93.50" font-size="7.6" fill="#111" textLength="4.60" lengthAdjust="spacingAndGlyphs" font-weight="bold" font-family="'Liberation Serif', serif">X</text>
<text x="597.90" y="95.20" font-size="5.2" fill="#222" font-weight="bold" font-family="'Liberation Serif', serif">1</text>
<text x="622.80" y="93.50" font-size="7.6" fill="#111" textLength="4.60" lengthAdjust="spacingAndGlyphs" font-weight="bold" font-family="'Liberation Serif', serif">X</text>
<text x="628.00" y="95.20" font-size="5.2" fill="#222" font-weight="bold" font-family="'Liberation Serif', serif">2</text>
<line x1="604.20" y1="89.00" x2="618.00" y2="89.00" stroke="#000" stroke-width="1.0"/>
<path d="M619.5,89.00 L615.5,87.60 L615.5,90.40 Z" fill="#000"/>
<line x1="605.50" y1="92.40" x2="619.30" y2="92.40" stroke="#000" stroke-width="1.0"/>
<path d="M604.0,92.40 L608,91.00 L608,93.80 Z" fill="#000"/>
<text x="592.80" y="149.90" font-size="7.6" fill="#111" textLength="4.60" lengthAdjust="spacingAndGlyphs" font-weight="bold" font-family="'Liberation Serif', serif">X</text>
<text x="597.90" y="151.60" font-size="5.2" fill="#222" font-weight="bold" font-family="'Liberation Serif', serif">1</text>
<text x="622.80" y="149.90" font-size="7.6" fill="#111" textLength="4.60" lengthAdjust="spacingAndGlyphs" font-weight="bold" font-family="'Liberation Serif', serif">X</text>
<text x="628.00" y="151.60" font-size="5.2" fill="#222" font-weight="bold" font-family="'Liberation Serif', serif">2</text>
<line x1="604.20" y1="145.40" x2="618.00" y2="145.40" stroke="#000" stroke-width="1.0"/>
<path d="M619.5,145.40 L615.5,144.00 L615.5,146.80 Z" fill="#000"/>
<line x1="609.50" y1="148.70" x2="615.00" y2="148.70" stroke="#000" stroke-width="1.0"/>
<path d="M607.8,148.70 L611,147.50 L611,149.90 Z" fill="#000"/>
<text x="-0.60" y="228.30" font-size="25.5" fill="#000" font-weight="bold">C</text>
<clipPath id="cC"><rect x="74.1" y="248.2" width="165.5" height="159.8"/></clipPath>
<g fill="none" stroke="#0000ff" stroke-width="1.3" clip-path="url(#cC)">
<circle cx="221.25" cy="267.10" r="0.50"/>
<circle cx="212.82" cy="277.09" r="0.82"/>
<circle cx="205.20" cy="285.67" r="1.03"/>
<circle cx="198.26" cy="293.95" r="1.17"/>
<circle cx="191.93" cy="300.17" r="1.27"/>
<circle cx="186.13" cy="305.85" r="1.36"/>
<circle cx="180.79" cy="311.18" r="1.43"/>
<circle cx="175.86" cy="316.07" r="1.49"/>
<circle cx="171.29" cy="321.35" r="1.56"/>
<circle cx="167.05" cy="325.40" r="1.62"/>
<circle cx="163.10" cy="328.83" r="1.68"/>
<circle cx="159.42" cy="332.29" r="1.73"/>
<circle cx="155.97" cy="335.34" r="1.79"/>
<circle cx="152.74" cy="338.17" r="1.85"/>
<circle cx="149.70" cy="341.18" r="1.91"/>
<circle cx="146.84" cy="344.26" r="1.97"/>
<circle cx="144.15" cy="347.06" r="2.02"/>
<circle cx="141.60" cy="349.42" r="2.08"/>
<circle cx="139.19" cy="351.55" r="2.14"/>
<circle cx="136.91" cy="353.52" r="2.20"/>
<circle cx="134.75" cy="355.39" r="2.26"/>
<circle cx="132.69" cy="357.20" r="2.31"/>
<circle cx="130.73" cy="358.93" r="2.37"/>
<circle cx="128.87" cy="360.59" r="2.43"/>
<circle cx="127.09" cy="362.16" r="2.49"/>
<circle cx="125.40" cy="363.64" r="2.54"/>
<circle cx="123.78" cy="365.03" r="2.60"/>
<circle cx="122.23" cy="366.37" r="2.66"/>
<circle cx="120.74" cy="367.65" r="2.72"/>
<circle cx="119.32" cy="368.88" r="2.78"/>
<circle cx="117.96" cy="370.05" r="2.83"/>
<circle cx="116.65" cy="371.18" r="2.89"/>
<circle cx="115.39" cy="372.27" r="2.95"/>
<circle cx="114.18" cy="373.32" r="3.01"/>
<circle cx="113.01" cy="374.34" r="3.06"/>
<circle cx="111.89" cy="375.34" r="3.12"/>
<circle cx="110.81" cy="376.30" r="3.18"/>
<circle cx="109.77" cy="377.23" r="3.24"/>
<circle cx="108.76" cy="378.13" r="3.30"/>
<circle cx="107.79" cy="378.99" r="3.35"/>
<circle cx="106.85" cy="379.81" r="3.41"/>
<circle cx="105.94" cy="380.59" r="3.47"/>
<circle cx="105.07" cy="381.35" r="3.53"/>
<circle cx="104.22" cy="382.09" r="3.58"/>
<circle cx="103.40" cy="382.81" r="3.64"/>
<circle cx="102.60" cy="383.50" r="3.70"/>
<circle cx="101.83" cy="384.18" r="3.76"/>
<circle cx="101.08" cy="384.84" r="3.82"/>
<circle cx="100.35" cy="385.48" r="3.87"/>
<circle cx="99.65" cy="386.10" r="3.93"/>
<circle cx="98.96" cy="386.70" r="3.99"/>
<circle cx="98.30" cy="387.28" r="4.05"/>
<circle cx="97.65" cy="387.84" r="4.10"/>
<circle cx="97.03" cy="388.38" r="4.16"/>
<circle cx="96.41" cy="388.90" r="4.22"/>
<circle cx="95.82" cy="389.42" r="4.28"/>
<circle cx="95.24" cy="389.92" r="4.34"/>
<circle cx="94.68" cy="390.42" r="4.39"/>
<circle cx="94.13" cy="390.91" r="4.45"/>
<circle cx="93.59" cy="391.38" r="4.51"/>
<circle cx="93.07" cy="391.85" r="4.57"/>
<circle cx="92.57" cy="392.31" r="4.62"/>
<circle cx="92.07" cy="392.76" r="4.68"/>
<circle cx="91.59" cy="393.19" r="4.74"/>
<circle cx="91.11" cy="393.62" r="4.80"/>
<circle cx="90.65" cy="394.03" r="4.86"/>
<circle cx="90.20" cy="394.43" r="4.91"/>
<circle cx="89.76" cy="394.82" r="4.97"/>
<circle cx="89.34" cy="395.20" r="5.03"/>
<circle cx="88.92" cy="395.57" r="5.09"/>
<circle cx="88.51" cy="395.92" r="5.14"/>
<circle cx="88.10" cy="396.26" r="5.20"/>
<circle cx="87.71" cy="396.59" r="5.26"/>
<circle cx="87.33" cy="396.91" r="5.32"/>
<circle cx="86.95" cy="397.22" r="5.38"/>
<circle cx="86.59" cy="397.53" r="5.43"/>
<circle cx="86.23" cy="397.83" r="5.49"/>
<circle cx="85.87" cy="398.12" r="5.55"/>
<circle cx="85.53" cy="398.41" r="5.61"/>
<circle cx="85.19" cy="398.69" r="5.66"/>
<circle cx="84.86" cy="398.97" r="5.72"/>
<circle cx="84.54" cy="399.23" r="5.78"/>
<circle cx="84.22" cy="399.49" r="5.84"/>
<circle cx="83.91" cy="399.74" r="5.90"/>
<circle cx="83.60" cy="399.98" r="5.95"/>
<circle cx="83.30" cy="400.21" r="6.01"/>
<circle cx="83.01" cy="400.43" r="6.07"/>
<circle cx="82.72" cy="400.64" r="6.13"/>
<circle cx="82.43" cy="400.84" r="6.18"/>
<circle cx="82.16" cy="401.02" r="6.24"/>
<circle cx="81.88" cy="401.20" r="6.30"/>
</g>
<g fill="none" stroke="#ff0000" stroke-width="1.3" clip-path="url(#cC)">
<circle cx="221.25" cy="269.30" r="0.50"/>
<circle cx="212.82" cy="280.69" r="0.82"/>
<circle cx="205.21" cy="291.23" r="1.03"/>
<circle cx="198.31" cy="301.62" r="1.17"/>
<circle cx="192.10" cy="311.89" r="1.27"/>
<circle cx="186.55" cy="320.88" r="1.36"/>
<circle cx="181.65" cy="329.09" r="1.43"/>
<circle cx="177.37" cy="336.41" r="1.49"/>
<circle cx="173.66" cy="343.22" r="1.56"/>
<circle cx="170.45" cy="348.32" r="1.62"/>
<circle cx="167.66" cy="352.42" r="1.68"/>
<circle cx="165.21" cy="355.22" r="1.73"/>
<circle cx="163.06" cy="357.77" r="1.79"/>
<circle cx="161.14" cy="361.69" r="1.85"/>
<circle cx="159.43" cy="364.41" r="1.91"/>
<circle cx="157.87" cy="366.33" r="1.97"/>
<circle cx="156.46" cy="367.60" r="2.02"/>
<circle cx="155.17" cy="368.64" r="2.08"/>
<circle cx="153.98" cy="369.89" r="2.14"/>
<circle cx="152.88" cy="371.29" r="2.20"/>
<circle cx="151.85" cy="372.40" r="2.26"/>
<circle cx="150.90" cy="373.37" r="2.31"/>
<circle cx="150.00" cy="374.20" r="2.37"/>
<circle cx="149.15" cy="374.92" r="2.43"/>
<circle cx="148.36" cy="375.58" r="2.49"/>
<circle cx="147.60" cy="376.19" r="2.54"/>
<circle cx="146.88" cy="376.76" r="2.60"/>
<circle cx="146.20" cy="377.29" r="2.66"/>
<circle cx="145.55" cy="377.78" r="2.72"/>
<circle cx="144.93" cy="378.25" r="2.78"/>
<circle cx="144.33" cy="378.71" r="2.83"/>
<circle cx="143.76" cy="379.14" r="2.89"/>
<circle cx="143.21" cy="379.56" r="2.95"/>
<circle cx="142.69" cy="379.96" r="3.01"/>
<circle cx="142.18" cy="380.35" r="3.06"/>
<circle cx="141.69" cy="380.71" r="3.12"/>
<circle cx="141.21" cy="381.06" r="3.18"/>
<circle cx="140.76" cy="381.38" r="3.24"/>
<circle cx="140.31" cy="381.69" r="3.30"/>
<circle cx="139.88" cy="381.98" r="3.35"/>
<circle cx="139.47" cy="382.25" r="3.41"/>
<circle cx="139.06" cy="382.51" r="3.47"/>
<circle cx="138.67" cy="382.76" r="3.53"/>
<circle cx="138.29" cy="383.01" r="3.58"/>
<circle cx="137.92" cy="383.24" r="3.64"/>
<circle cx="137.55" cy="383.46" r="3.70"/>
<circle cx="137.20" cy="383.68" r="3.76"/>
<circle cx="136.86" cy="383.89" r="3.82"/>
<circle cx="136.52" cy="384.09" r="3.87"/>
<circle cx="136.20" cy="384.29" r="3.93"/>
<circle cx="135.88" cy="384.48" r="3.99"/>
<circle cx="135.56" cy="384.67" r="4.05"/>
<circle cx="135.26" cy="384.85" r="4.10"/>
<circle cx="134.96" cy="385.02" r="4.16"/>
<circle cx="134.67" cy="385.19" r="4.22"/>
<circle cx="134.38" cy="385.36" r="4.28"/>
<circle cx="134.10" cy="385.52" r="4.34"/>
<circle cx="133.83" cy="385.67" r="4.39"/>
<circle cx="133.56" cy="385.82" r="4.45"/>
<circle cx="133.29" cy="385.97" r="4.51"/>
<circle cx="133.03" cy="386.11" r="4.57"/>
<circle cx="132.78" cy="386.25" r="4.62"/>
<circle cx="132.53" cy="386.38" r="4.68"/>
<circle cx="132.28" cy="386.52" r="4.74"/>
<circle cx="132.04" cy="386.65" r="4.80"/>
<circle cx="131.81" cy="386.78" r="4.86"/>
<circle cx="131.57" cy="386.92" r="4.91"/>
<circle cx="131.34" cy="387.05" r="4.97"/>
<circle cx="131.12" cy="387.18" r="5.03"/>
<circle cx="130.90" cy="387.31" r="5.09"/>
<circle cx="130.68" cy="387.45" r="5.14"/>
<circle cx="130.46" cy="387.59" r="5.20"/>
<circle cx="130.25" cy="387.73" r="5.26"/>
<circle cx="130.04" cy="387.87" r="5.32"/>
<circle cx="129.84" cy="388.01" r="5.38"/>
<circle cx="129.64" cy="388.16" r="5.43"/>
<circle cx="129.44" cy="388.31" r="5.49"/>
<circle cx="129.24" cy="388.45" r="5.55"/>
<circle cx="129.05" cy="388.60" r="5.61"/>
<circle cx="128.86" cy="388.75" r="5.66"/>
<circle cx="128.67" cy="388.90" r="5.72"/>
<circle cx="128.48" cy="389.05" r="5.78"/>
<circle cx="128.30" cy="389.20" r="5.84"/>
<circle cx="128.12" cy="389.34" r="5.90"/>
<circle cx="127.94" cy="389.49" r="5.95"/>
<circle cx="127.77" cy="389.64" r="6.01"/>
<circle cx="127.59" cy="389.80" r="6.07"/>
<circle cx="127.42" cy="389.95" r="6.13"/>
<circle cx="127.25" cy="390.10" r="6.18"/>
<circle cx="127.08" cy="390.25" r="6.24"/>
<circle cx="126.92" cy="390.40" r="6.30"/>
</g>
<circle cx="160.00" cy="388.20" r="3.50" fill="#a3b1e7" stroke="#84574a" stroke-width="0.5"/>
<ellipse cx="160.00" cy="389.39" rx="0.88" ry="0.81" fill="#8c7470"/>
<circle cx="153.60" cy="394.10" r="3.50" fill="#a3b1e7" stroke="#84574a" stroke-width="0.5"/>
<ellipse cx="153.60" cy="395.29" rx="0.88" ry="0.81" fill="#8c7470"/>
<circle cx="161.90" cy="396.20" r="3.50" fill="#a3b1e7" stroke="#84574a" stroke-width="0.5"/>
<ellipse cx="161.90" cy="397.39" rx="0.88" ry="0.81" fill="#8c7470"/>
<line x1="170.40" y1="392.30" x2="186.50" y2="392.30" stroke="#000" stroke-width="3.0" stroke-linecap="round"/>
<path d="M194.90,392.30 L184.40,388.90 L185.66,392.30 L184.40,395.70 Z" fill="#000"/>
<path d="M223.53,381.31 C223.61,381.12 224.21,380.82 224.68,380.54 C225.15,380.26 225.78,379.89 226.34,379.61 C226.89,379.34 227.51,379.09 227.99,378.91 C228.47,378.73 228.81,378.61 229.23,378.53 C229.64,378.44 230.11,378.38 230.45,378.41 C230.79,378.45 231.00,378.47 231.26,378.72 C231.53,378.96 231.79,379.46 232.05,379.86 C232.32,380.26 232.58,380.59 232.84,381.12 C233.10,381.64 233.39,382.39 233.61,383.04 C233.83,383.68 234.05,384.44 234.17,384.98 C234.30,385.52 234.35,386.01 234.35,386.29 C234.34,386.57 234.34,386.70 234.13,386.64 C233.93,386.59 233.53,386.24 233.13,385.96 C232.73,385.68 232.19,385.31 231.72,384.98 C231.25,384.66 230.78,384.33 230.32,384.01 C229.85,383.68 229.38,383.32 228.91,383.03 C228.44,382.74 228.00,382.47 227.50,382.27 C226.99,382.08 226.41,381.97 225.87,381.87 C225.33,381.77 224.63,381.78 224.24,381.69 C223.85,381.60 223.46,381.50 223.53,381.31 Z" fill="#e9a677" stroke="#84574a" stroke-width="0.5" stroke-linejoin="round"/>
<ellipse cx="229.66" cy="381.31" rx="1.25" ry="0.95" transform="rotate(26.7 229.66 381.31)" fill="#8c7470"/>
<path d="M210.96,389.06 C210.95,389.26 210.48,389.73 210.13,390.15 C209.78,390.56 209.30,391.11 208.86,391.54 C208.43,391.97 207.93,392.40 207.53,392.73 C207.14,393.05 206.85,393.27 206.49,393.47 C206.13,393.68 205.70,393.89 205.37,393.97 C205.04,394.05 204.84,394.08 204.51,393.94 C204.19,393.80 203.78,393.41 203.41,393.12 C203.04,392.82 202.69,392.60 202.27,392.18 C201.86,391.77 201.36,391.16 200.94,390.62 C200.53,390.09 200.09,389.44 199.80,388.97 C199.51,388.50 199.31,388.06 199.23,387.80 C199.14,387.53 199.11,387.41 199.31,387.40 C199.52,387.38 200.01,387.59 200.47,387.72 C200.94,387.85 201.56,388.04 202.10,388.19 C202.65,388.35 203.19,388.51 203.74,388.67 C204.28,388.83 204.83,389.02 205.37,389.14 C205.90,389.27 206.40,389.39 206.93,389.41 C207.47,389.43 208.05,389.35 208.59,389.27 C209.13,389.19 209.78,388.96 210.18,388.93 C210.57,388.89 210.97,388.86 210.96,389.06 Z" fill="#e9a677" stroke="#84574a" stroke-width="0.5" stroke-linejoin="round"/>
<ellipse cx="205.40" cy="391.10" rx="1.24" ry="0.94" transform="rotate(-171.9 205.40 391.10)" fill="#8c7470"/>
<path d="M220.39,384.64 C220.20,384.68 219.85,385.19 219.52,385.58 C219.20,385.97 218.76,386.51 218.44,386.98 C218.11,387.45 217.79,387.99 217.55,388.40 C217.32,388.82 217.16,389.12 217.03,389.49 C216.90,389.86 216.77,390.29 216.75,390.61 C216.74,390.92 216.73,391.11 216.92,391.39 C217.10,391.67 217.53,391.98 217.86,392.28 C218.19,392.58 218.46,392.87 218.91,393.18 C219.36,393.49 220.01,393.86 220.57,394.16 C221.13,394.45 221.80,394.76 222.28,394.95 C222.76,395.14 223.21,395.26 223.46,395.29 C223.72,395.33 223.84,395.34 223.82,395.15 C223.79,394.95 223.53,394.53 223.33,394.13 C223.13,393.72 222.86,393.17 222.63,392.69 C222.39,392.22 222.16,391.74 221.92,391.26 C221.69,390.78 221.42,390.30 221.22,389.83 C221.02,389.35 220.83,388.91 220.72,388.42 C220.62,387.93 220.59,387.38 220.58,386.87 C220.56,386.35 220.67,385.71 220.64,385.34 C220.61,384.97 220.58,384.60 220.39,384.64 Z" fill="#e9a677" stroke="#84574a" stroke-width="0.5" stroke-linejoin="round"/>
<ellipse cx="219.38" cy="391.21" rx="1.16" ry="0.88" transform="rotate(71.9 219.38 391.21)" fill="#8c7470"/>
<path d="M226.44,404.48 C226.37,404.67 225.80,404.96 225.36,405.24 C224.92,405.52 224.32,405.89 223.79,406.16 C223.27,406.43 222.69,406.69 222.23,406.87 C221.77,407.05 221.45,407.17 221.06,407.26 C220.66,407.35 220.21,407.42 219.88,407.39 C219.56,407.37 219.36,407.35 219.10,407.12 C218.84,406.90 218.58,406.42 218.33,406.04 C218.07,405.67 217.81,405.36 217.55,404.86 C217.29,404.36 217.00,403.65 216.77,403.04 C216.55,402.43 216.32,401.71 216.19,401.20 C216.07,400.68 216.00,400.21 216.00,399.95 C216.00,399.68 216.00,399.56 216.20,399.61 C216.40,399.65 216.78,399.98 217.17,400.24 C217.56,400.49 218.08,400.84 218.54,401.14 C218.99,401.44 219.45,401.75 219.90,402.05 C220.36,402.35 220.81,402.69 221.27,402.95 C221.72,403.22 222.14,403.47 222.63,403.64 C223.12,403.82 223.67,403.92 224.19,404.00 C224.71,404.08 225.38,404.05 225.75,404.14 C226.13,404.22 226.50,404.30 226.44,404.48 Z" fill="#e9a677" stroke="#84574a" stroke-width="0.5" stroke-linejoin="round"/>
<ellipse cx="220.27" cy="404.67" rx="1.19" ry="0.91" transform="rotate(-154.5 220.27 404.67)" fill="#8c7470"/>
<circle cx="212.49" cy="385.36" r="3.47" fill="#a3b1e7" stroke="#84574a" stroke-width="0.5"/>
<ellipse cx="212.35" cy="386.53" rx="0.87" ry="0.80" fill="#8c7470"/>
<circle cx="228.93" cy="390.95" r="3.47" fill="#a3b1e7" stroke="#84574a" stroke-width="0.5"/>
<ellipse cx="227.90" cy="391.16" rx="0.87" ry="0.80" fill="#8c7470"/>
<circle cx="213.30" cy="395.56" r="3.47" fill="#a3b1e7" stroke="#84574a" stroke-width="0.5"/>
<ellipse cx="212.33" cy="395.70" rx="0.87" ry="0.80" fill="#8c7470"/>
<circle cx="201.97" cy="398.40" r="3.47" fill="#a3b1e7" stroke="#84574a" stroke-width="0.5"/>
<ellipse cx="202.63" cy="397.95" rx="0.87" ry="0.80" fill="#8c7470"/>
<circle cx="231.59" cy="400.36" r="3.47" fill="#a3b1e7" stroke="#84574a" stroke-width="0.5"/>
<ellipse cx="231.59" cy="401.23" rx="0.87" ry="0.80" fill="#8c7470"/>
<rect x="74.10" y="248.20" width="165.50" height="159.80" fill="none" stroke="#000" stroke-width="1.2"/>
<line x1="70.60" y1="386.10" x2="74.10" y2="386.10" stroke="#000" stroke-width="1"/>
<text x="66.50" y="390.00" font-size="11.3" text-anchor="end" textLength="13.99" lengthAdjust="spacingAndGlyphs">20</text>
<line x1="70.60" y1="346.10" x2="74.10" y2="346.10" stroke="#000" stroke-width="1"/>
<text x="66.50" y="350.00" font-size="11.3" text-anchor="end" textLength="13.99" lengthAdjust="spacingAndGlyphs">40</text>
<line x1="70.60" y1="306.10" x2="74.10" y2="306.10" stroke="#000" stroke-width="1"/>
<text x="66.50" y="310.00" font-size="11.3" text-anchor="end" textLength="13.99" lengthAdjust="spacingAndGlyphs">60</text>
<line x1="70.60" y1="266.10" x2="74.10" y2="266.10" stroke="#000" stroke-width="1"/>
<text x="66.50" y="270.00" font-size="11.3" text-anchor="end" textLength="13.99" lengthAdjust="spacingAndGlyphs">80</text>
<line x1="88.20" y1="408.00" x2="88.20" y2="411.50" stroke="#000" stroke-width="1"/>
<text x="88.20" y="425.00" font-size="11.3" text-anchor="middle" textLength="17.49" lengthAdjust="spacingAndGlyphs">0.2</text>
<line x1="124.00" y1="408.00" x2="124.00" y2="411.50" stroke="#000" stroke-width="1"/>
<text x="124.00" y="425.00" font-size="11.3" text-anchor="middle" textLength="17.49" lengthAdjust="spacingAndGlyphs">0.4</text>
<line x1="159.80" y1="408.00" x2="159.80" y2="411.50" stroke="#000" stroke-width="1"/>
<text x="159.80" y="425.00" font-size="11.3" text-anchor="middle" textLength="17.49" lengthAdjust="spacingAndGlyphs">0.6</text>
<line x1="195.60" y1="408.00" x2="195.60" y2="411.50" stroke="#000" stroke-width="1"/>
<text x="195.60" y="425.00" font-size="11.3" text-anchor="middle" textLength="17.49" lengthAdjust="spacingAndGlyphs">0.8</text>
<line x1="231.40" y1="408.00" x2="231.40" y2="411.50" stroke="#000" stroke-width="1"/>
<text x="231.40" y="425.00" font-size="11.3" text-anchor="middle" textLength="17.49" lengthAdjust="spacingAndGlyphs">1.0</text>
<text x="156.4" y="438.3" font-size="11.3" text-anchor="middle" textLength="96.8" lengthAdjust="spacingAndGlyphs" fill="#222222">Target <tspan font-style="italic">X</tspan><tspan font-size="8" dy="2.5">2</tspan><tspan dy="-2.5"> fraction</tspan></text>
<text x="46.30" y="328.20" font-size="11.3" text-anchor="middle" textLength="116.80" lengthAdjust="spacingAndGlyphs" transform="rotate(-90 46.30 328.20)">Saturation time (a.u.)</text>
<rect x="79.30" y="253.60" width="105.90" height="35.60" rx="2" fill="#fff" fill-opacity="0.8" stroke="#d6d6d6" stroke-width="1"/>
<circle cx="94.7" cy="263.4" r="3.7" fill="none" stroke="#0000ff" stroke-width="1.45"/>
<circle cx="94.7" cy="279.2" r="3.7" fill="none" stroke="#ff0000" stroke-width="1.45"/>
<text x="114.60" y="266.40" font-size="11.3" textLength="39.10" lengthAdjust="spacingAndGlyphs">Control</text>
<text x="114.60" y="282.40" font-size="11.3" textLength="65.40" lengthAdjust="spacingAndGlyphs">w/ feedback</text>
<rect x="80.10" y="295.70" width="74.50" height="33.80" rx="2" fill="#fff" fill-opacity="0.8" stroke="#d6d6d6" stroke-width="1"/>
<circle cx="90.1" cy="304.1" r="1.2" fill="#000"/>
<circle cx="90.1" cy="320.7" r="5.6" fill="none" stroke="#000" stroke-width="1.45"/>
<text x="102.90" y="308.10" font-family="'Liberation Serif', serif" font-size="12.5" fill="#222222" textLength="36.30" lengthAdjust="spacingAndGlyphs"><tspan font-style="italic">k</tspan><tspan font-size="8.5" dy="2.2">2</tspan><tspan dy="-2.2"> = 0.2</tspan></text>
<text x="102.90" y="325.10" font-family="'Liberation Serif', serif" font-size="12.5" fill="#222222" textLength="48.20" lengthAdjust="spacingAndGlyphs"><tspan font-style="italic">k</tspan><tspan font-size="8.5" dy="2.2">2</tspan><tspan dy="-2.2"> = 0.001</tspan></text>
<text x="0.00" y="510.40" font-size="25.5" fill="#000" font-weight="bold">D</text>
<clipPath id="cD"><rect x="74.1" y="531.1" width="164.8" height="160.10000000000002"/></clipPath>
<g fill="none" stroke="#ff0000" stroke-width="1.3" clip-path="url(#cD)">
<circle cx="81.57" cy="538.30" r="0.30"/>
<circle cx="90.77" cy="548.76" r="0.70"/>
<circle cx="99.07" cy="558.22" r="0.94"/>
<circle cx="106.58" cy="566.66" r="1.09"/>
<circle cx="113.38" cy="574.44" r="1.20"/>
<circle cx="119.49" cy="582.57" r="1.28"/>
<circle cx="124.92" cy="589.93" r="1.34"/>
<circle cx="129.69" cy="598.38" r="1.39"/>
<circle cx="133.85" cy="606.20" r="1.44"/>
<circle cx="137.45" cy="612.93" r="1.49"/>
<circle cx="140.58" cy="618.21" r="1.53"/>
<circle cx="143.31" cy="625.18" r="1.58"/>
<circle cx="145.71" cy="630.00" r="1.62"/>
<circle cx="147.83" cy="634.42" r="1.67"/>
<circle cx="149.73" cy="638.70" r="1.71"/>
<circle cx="151.44" cy="642.71" r="1.75"/>
<circle cx="152.99" cy="646.09" r="1.80"/>
<circle cx="154.40" cy="648.85" r="1.84"/>
<circle cx="155.70" cy="651.18" r="1.89"/>
<circle cx="156.89" cy="653.26" r="1.93"/>
<circle cx="158.01" cy="655.11" r="1.97"/>
<circle cx="159.04" cy="656.73" r="2.02"/>
<circle cx="160.01" cy="658.23" r="2.06"/>
<circle cx="160.92" cy="659.63" r="2.10"/>
<circle cx="161.78" cy="660.92" r="2.15"/>
<circle cx="162.59" cy="662.08" r="2.19"/>
<circle cx="163.36" cy="663.12" r="2.23"/>
<circle cx="164.10" cy="664.06" r="2.28"/>
<circle cx="164.79" cy="664.95" r="2.32"/>
<circle cx="165.46" cy="665.80" r="2.36"/>
<circle cx="166.09" cy="666.60" r="2.41"/>
<circle cx="166.70" cy="667.36" r="2.45"/>
<circle cx="167.29" cy="668.08" r="2.50"/>
<circle cx="167.85" cy="668.74" r="2.54"/>
<circle cx="168.39" cy="669.36" r="2.58"/>
<circle cx="168.91" cy="669.92" r="2.63"/>
<circle cx="169.42" cy="670.43" r="2.67"/>
<circle cx="169.90" cy="670.89" r="2.71"/>
<circle cx="170.37" cy="671.32" r="2.76"/>
<circle cx="170.83" cy="671.75" r="2.80"/>
<circle cx="171.27" cy="672.15" r="2.84"/>
<circle cx="171.70" cy="672.55" r="2.89"/>
<circle cx="172.12" cy="672.92" r="2.93"/>
<circle cx="172.52" cy="673.29" r="2.98"/>
<circle cx="172.91" cy="673.64" r="3.02"/>
<circle cx="173.30" cy="673.97" r="3.06"/>
<circle cx="173.67" cy="674.29" r="3.11"/>
<circle cx="174.03" cy="674.60" r="3.15"/>
<circle cx="174.39" cy="674.90" r="3.19"/>
<circle cx="174.73" cy="675.18" r="3.24"/>
<circle cx="175.07" cy="675.45" r="3.28"/>
<circle cx="175.40" cy="675.71" r="3.32"/>
<circle cx="175.72" cy="675.96" r="3.37"/>
<circle cx="176.04" cy="676.19" r="3.41"/>
<circle cx="176.35" cy="676.42" r="3.46"/>
<circle cx="176.65" cy="676.63" r="3.50"/>
<circle cx="176.95" cy="676.83" r="3.54"/>
<circle cx="177.24" cy="677.02" r="3.59"/>
<circle cx="177.52" cy="677.20" r="3.63"/>
<circle cx="177.80" cy="677.37" r="3.67"/>
<circle cx="178.07" cy="677.52" r="3.72"/>
<circle cx="178.34" cy="677.67" r="3.76"/>
<circle cx="178.60" cy="677.80" r="3.80"/>
<circle cx="178.86" cy="677.92" r="3.85"/>
<circle cx="179.12" cy="678.04" r="3.89"/>
<circle cx="179.37" cy="678.15" r="3.94"/>
<circle cx="179.61" cy="678.25" r="3.98"/>
<circle cx="179.85" cy="678.35" r="4.02"/>
<circle cx="180.09" cy="678.44" r="4.07"/>
<circle cx="180.32" cy="678.53" r="4.11"/>
<circle cx="180.55" cy="678.61" r="4.15"/>
<circle cx="180.78" cy="678.70" r="4.20"/>
<circle cx="181.00" cy="678.78" r="4.24"/>
<circle cx="181.22" cy="678.86" r="4.28"/>
<circle cx="181.43" cy="678.95" r="4.33"/>
<circle cx="181.65" cy="679.03" r="4.37"/>
<circle cx="181.86" cy="679.12" r="4.41"/>
<circle cx="182.06" cy="679.21" r="4.46"/>
<circle cx="182.27" cy="679.31" r="4.50"/>
<circle cx="182.47" cy="679.41" r="4.55"/>
<circle cx="182.66" cy="679.52" r="4.59"/>
<circle cx="182.86" cy="679.64" r="4.63"/>
<circle cx="183.05" cy="679.76" r="4.68"/>
<circle cx="183.24" cy="679.90" r="4.72"/>
<circle cx="183.43" cy="680.04" r="4.76"/>
<circle cx="183.61" cy="680.19" r="4.81"/>
<circle cx="183.80" cy="680.36" r="4.85"/>
<circle cx="183.98" cy="680.54" r="4.89"/>
<circle cx="184.15" cy="680.74" r="4.94"/>
<circle cx="184.33" cy="680.94" r="4.98"/>
<circle cx="184.50" cy="681.17" r="5.03"/>
<circle cx="184.68" cy="681.43" r="5.07"/>
<circle cx="184.85" cy="681.88" r="5.11"/>
<circle cx="185.01" cy="682.44" r="5.16"/>
<circle cx="185.18" cy="683.00" r="5.20"/>
</g>
<g fill="none" stroke="#0000ff" stroke-width="1.3" clip-path="url(#cD)">
<circle cx="81.57" cy="538.30" r="0.30"/>
<circle cx="90.77" cy="548.79" r="0.70"/>
<circle cx="99.07" cy="557.57" r="0.94"/>
<circle cx="106.61" cy="565.95" r="1.09"/>
<circle cx="113.47" cy="573.13" r="1.20"/>
<circle cx="119.76" cy="579.34" r="1.28"/>
<circle cx="125.54" cy="585.11" r="1.34"/>
<circle cx="130.86" cy="590.28" r="1.39"/>
<circle cx="135.78" cy="594.79" r="1.44"/>
<circle cx="140.35" cy="599.62" r="1.49"/>
<circle cx="144.60" cy="603.53" r="1.53"/>
<circle cx="148.56" cy="607.19" r="1.58"/>
<circle cx="152.26" cy="610.49" r="1.62"/>
<circle cx="155.73" cy="613.45" r="1.67"/>
<circle cx="158.98" cy="616.58" r="1.71"/>
<circle cx="162.04" cy="619.68" r="1.75"/>
<circle cx="164.93" cy="622.68" r="1.80"/>
<circle cx="167.65" cy="625.16" r="1.84"/>
<circle cx="170.22" cy="627.06" r="1.89"/>
<circle cx="172.66" cy="628.78" r="1.93"/>
<circle cx="174.97" cy="630.55" r="1.97"/>
<circle cx="177.16" cy="632.30" r="2.02"/>
<circle cx="179.24" cy="634.01" r="2.06"/>
<circle cx="181.23" cy="635.65" r="2.10"/>
<circle cx="183.12" cy="637.19" r="2.15"/>
<circle cx="184.92" cy="638.59" r="2.19"/>
<circle cx="186.65" cy="639.89" r="2.23"/>
<circle cx="188.30" cy="641.13" r="2.28"/>
<circle cx="189.87" cy="642.31" r="2.32"/>
<circle cx="191.39" cy="643.44" r="2.36"/>
<circle cx="192.83" cy="644.51" r="2.41"/>
<circle cx="194.23" cy="645.54" r="2.45"/>
<circle cx="195.56" cy="646.52" r="2.50"/>
<circle cx="196.84" cy="647.46" r="2.54"/>
<circle cx="198.08" cy="648.37" r="2.58"/>
<circle cx="199.27" cy="649.25" r="2.63"/>
<circle cx="200.41" cy="650.10" r="2.67"/>
<circle cx="201.52" cy="650.93" r="2.71"/>
<circle cx="202.58" cy="651.74" r="2.76"/>
<circle cx="203.61" cy="652.52" r="2.80"/>
<circle cx="204.60" cy="653.28" r="2.84"/>
<circle cx="205.56" cy="654.01" r="2.89"/>
<circle cx="206.49" cy="654.71" r="2.93"/>
<circle cx="207.39" cy="655.39" r="2.98"/>
<circle cx="208.26" cy="656.04" r="3.02"/>
<circle cx="209.10" cy="656.66" r="3.06"/>
<circle cx="209.92" cy="657.26" r="3.11"/>
<circle cx="210.71" cy="657.83" r="3.15"/>
<circle cx="211.48" cy="658.39" r="3.19"/>
<circle cx="212.22" cy="658.93" r="3.24"/>
<circle cx="212.94" cy="659.46" r="3.28"/>
<circle cx="213.64" cy="659.98" r="3.32"/>
<circle cx="214.33" cy="660.48" r="3.37"/>
<circle cx="214.99" cy="660.97" r="3.41"/>
<circle cx="215.63" cy="661.45" r="3.46"/>
<circle cx="216.26" cy="661.91" r="3.50"/>
<circle cx="216.87" cy="662.37" r="3.54"/>
<circle cx="217.47" cy="662.82" r="3.59"/>
<circle cx="218.05" cy="663.26" r="3.63"/>
<circle cx="218.61" cy="663.69" r="3.67"/>
<circle cx="219.16" cy="664.12" r="3.72"/>
<circle cx="219.69" cy="664.54" r="3.76"/>
<circle cx="220.22" cy="664.95" r="3.80"/>
<circle cx="220.73" cy="665.36" r="3.85"/>
<circle cx="221.22" cy="665.77" r="3.89"/>
<circle cx="221.71" cy="666.17" r="3.94"/>
<circle cx="222.18" cy="666.57" r="3.98"/>
<circle cx="222.65" cy="666.97" r="4.02"/>
<circle cx="223.10" cy="667.36" r="4.07"/>
<circle cx="223.54" cy="667.76" r="4.11"/>
<circle cx="223.97" cy="668.14" r="4.15"/>
<circle cx="224.39" cy="668.53" r="4.20"/>
<circle cx="224.81" cy="668.91" r="4.24"/>
<circle cx="225.21" cy="669.29" r="4.28"/>
<circle cx="225.61" cy="669.67" r="4.33"/>
<circle cx="225.99" cy="670.04" r="4.37"/>
<circle cx="226.37" cy="670.40" r="4.41"/>
<circle cx="226.74" cy="670.77" r="4.46"/>
<circle cx="227.10" cy="671.13" r="4.50"/>
<circle cx="227.46" cy="671.48" r="4.55"/>
<circle cx="227.81" cy="671.83" r="4.59"/>
<circle cx="228.15" cy="672.18" r="4.63"/>
<circle cx="228.48" cy="672.52" r="4.68"/>
<circle cx="228.81" cy="672.85" r="4.72"/>
<circle cx="229.13" cy="673.19" r="4.76"/>
<circle cx="229.45" cy="673.51" r="4.81"/>
<circle cx="229.76" cy="673.83" r="4.85"/>
<circle cx="230.06" cy="674.15" r="4.89"/>
<circle cx="230.36" cy="674.46" r="4.94"/>
<circle cx="230.65" cy="674.76" r="4.98"/>
<circle cx="230.94" cy="675.06" r="5.03"/>
<circle cx="231.22" cy="675.36" r="5.07"/>
<circle cx="231.50" cy="675.64" r="5.11"/>
<circle cx="231.77" cy="675.92" r="5.16"/>
<circle cx="232.04" cy="676.20" r="5.20"/>
</g>
<path d="M152.90,541.60 C152.71,541.69 152.42,542.31 152.15,542.79 C151.87,543.27 151.51,543.92 151.24,544.49 C150.98,545.05 150.74,545.68 150.57,546.16 C150.40,546.65 150.29,546.99 150.21,547.40 C150.14,547.81 150.09,548.28 150.13,548.61 C150.17,548.93 150.21,549.13 150.46,549.37 C150.71,549.60 151.23,549.81 151.64,550.02 C152.06,550.24 152.40,550.47 152.94,550.67 C153.49,550.87 154.26,551.08 154.92,551.24 C155.58,551.39 156.35,551.53 156.91,551.60 C157.46,551.67 157.96,551.67 158.25,551.64 C158.53,551.61 158.66,551.59 158.60,551.40 C158.54,551.21 158.17,550.85 157.88,550.49 C157.59,550.12 157.19,549.64 156.85,549.21 C156.51,548.79 156.16,548.36 155.82,547.94 C155.47,547.51 155.09,547.09 154.79,546.66 C154.48,546.23 154.19,545.84 153.98,545.36 C153.77,544.89 153.64,544.34 153.53,543.82 C153.42,543.30 153.41,542.62 153.30,542.25 C153.20,541.88 153.09,541.51 152.90,541.60 Z" fill="#e9a677" stroke="#84574a" stroke-width="0.5" stroke-linejoin="round"/>
<ellipse cx="153.40" cy="548.00" rx="1.19" ry="0.91" transform="rotate(59.8 153.40 548.00)" fill="#8c7470"/>
<path d="M162.10,542.00 C161.90,542.05 161.51,542.60 161.16,543.02 C160.81,543.43 160.34,544.01 159.99,544.51 C159.63,545.01 159.29,545.57 159.04,546.01 C158.79,546.45 158.62,546.77 158.48,547.15 C158.33,547.53 158.20,547.98 158.18,548.30 C158.16,548.63 158.16,548.82 158.37,549.10 C158.57,549.37 159.04,549.66 159.40,549.94 C159.76,550.23 160.05,550.51 160.54,550.80 C161.04,551.09 161.75,551.43 162.36,551.69 C162.97,551.96 163.70,552.23 164.22,552.39 C164.75,552.56 165.24,552.65 165.52,552.67 C165.79,552.69 165.93,552.70 165.90,552.50 C165.87,552.30 165.58,551.89 165.36,551.49 C165.14,551.08 164.85,550.54 164.59,550.07 C164.33,549.60 164.07,549.13 163.81,548.66 C163.55,548.18 163.26,547.71 163.04,547.24 C162.82,546.77 162.61,546.33 162.49,545.84 C162.37,545.34 162.34,544.78 162.32,544.26 C162.30,543.74 162.41,543.08 162.38,542.70 C162.34,542.32 162.30,541.95 162.10,542.00 Z" fill="#e9a677" stroke="#84574a" stroke-width="0.5" stroke-linejoin="round"/>
<ellipse cx="161.40" cy="548.80" rx="1.17" ry="0.89" transform="rotate(70.1 161.40 548.80)" fill="#8c7470"/>
<path d="M151.00,552.10 C150.96,552.30 151.33,552.87 151.58,553.36 C151.83,553.85 152.18,554.51 152.51,555.03 C152.84,555.55 153.24,556.10 153.56,556.51 C153.88,556.91 154.11,557.20 154.42,557.48 C154.73,557.77 155.11,558.07 155.42,558.23 C155.72,558.38 155.91,558.46 156.27,558.39 C156.62,558.33 157.11,558.03 157.55,557.83 C157.98,557.62 158.38,557.48 158.88,557.16 C159.39,556.84 160.03,556.35 160.56,555.92 C161.08,555.48 161.67,554.95 162.06,554.55 C162.45,554.15 162.76,553.76 162.90,553.51 C163.04,553.27 163.10,553.16 162.90,553.10 C162.70,553.04 162.17,553.13 161.68,553.16 C161.19,553.18 160.53,553.22 159.96,553.26 C159.38,553.29 158.81,553.32 158.24,553.35 C157.66,553.39 157.07,553.45 156.52,553.45 C155.96,553.45 155.44,553.46 154.91,553.36 C154.37,553.26 153.82,553.05 153.30,552.85 C152.78,552.65 152.19,552.27 151.80,552.15 C151.42,552.02 151.04,551.90 151.00,552.10 Z" fill="#e9a677" stroke="#84574a" stroke-width="0.5" stroke-linejoin="round"/>
<ellipse cx="157.40" cy="555.50" rx="1.25" ry="0.96" transform="rotate(4.8 157.40 555.50)" fill="#8c7470"/>
<line x1="171.20" y1="548.30" x2="186.80" y2="548.30" stroke="#000" stroke-width="3.0" stroke-linecap="round"/>
<path d="M195.20,548.30 L184.70,544.90 L185.96,548.30 L184.70,551.70 Z" fill="#000"/>
<path d="M224.38,537.45 C224.45,537.26 225.05,536.96 225.51,536.68 C225.97,536.40 226.60,536.03 227.14,535.75 C227.69,535.48 228.30,535.23 228.78,535.04 C229.25,534.86 229.59,534.74 230.00,534.66 C230.40,534.58 230.88,534.51 231.21,534.54 C231.55,534.57 231.75,534.60 232.02,534.84 C232.28,535.07 232.54,535.57 232.80,535.96 C233.07,536.36 233.33,536.68 233.59,537.20 C233.85,537.73 234.14,538.46 234.36,539.10 C234.59,539.74 234.81,540.48 234.93,541.02 C235.06,541.55 235.11,542.04 235.11,542.31 C235.10,542.59 235.10,542.72 234.90,542.66 C234.70,542.61 234.30,542.27 233.90,542.00 C233.50,541.72 232.97,541.36 232.50,541.04 C232.04,540.72 231.57,540.40 231.11,540.08 C230.64,539.76 230.17,539.40 229.71,539.12 C229.24,538.83 228.81,538.57 228.31,538.38 C227.81,538.19 227.23,538.08 226.70,537.99 C226.16,537.89 225.47,537.91 225.08,537.82 C224.70,537.73 224.31,537.64 224.38,537.45 Z" fill="#e9a677" stroke="#84574a" stroke-width="0.5" stroke-linejoin="round"/>
<ellipse cx="230.46" cy="537.45" rx="1.23" ry="0.94" transform="rotate(26.4 230.46 537.45)" fill="#8c7470"/>
<path d="M211.90,545.03 C211.89,545.23 211.42,545.70 211.08,546.11 C210.73,546.52 210.25,547.07 209.82,547.50 C209.39,547.93 208.90,548.36 208.51,548.68 C208.11,549.00 207.83,549.22 207.47,549.42 C207.12,549.63 206.69,549.84 206.36,549.91 C206.04,549.99 205.84,550.03 205.51,549.89 C205.19,549.75 204.79,549.36 204.42,549.07 C204.04,548.78 203.70,548.56 203.29,548.15 C202.88,547.74 202.37,547.13 201.96,546.60 C201.55,546.07 201.11,545.44 200.83,544.97 C200.54,544.50 200.33,544.06 200.25,543.80 C200.17,543.54 200.13,543.42 200.34,543.40 C200.55,543.39 201.03,543.59 201.49,543.72 C201.95,543.86 202.57,544.04 203.11,544.19 C203.65,544.35 204.19,544.50 204.73,544.66 C205.27,544.81 205.82,545.00 206.35,545.13 C206.88,545.25 207.37,545.36 207.90,545.39 C208.44,545.41 209.01,545.33 209.55,545.25 C210.08,545.17 210.73,544.94 211.12,544.90 C211.51,544.87 211.91,544.83 211.90,545.03 Z" fill="#e9a677" stroke="#84574a" stroke-width="0.5" stroke-linejoin="round"/>
<ellipse cx="206.38" cy="547.03" rx="1.23" ry="0.93" transform="rotate(-172.0 206.38 547.03)" fill="#8c7470"/>
<path d="M221.26,540.70 C221.08,540.74 220.73,541.25 220.41,541.63 C220.09,542.02 219.67,542.55 219.35,543.01 C219.03,543.47 218.72,544.00 218.49,544.41 C218.27,544.82 218.11,545.11 217.99,545.47 C217.86,545.83 217.74,546.26 217.72,546.57 C217.70,546.88 217.70,547.07 217.88,547.34 C218.07,547.61 218.49,547.92 218.81,548.21 C219.14,548.50 219.40,548.78 219.84,549.08 C220.28,549.39 220.92,549.75 221.47,550.04 C222.03,550.32 222.68,550.62 223.15,550.81 C223.62,550.99 224.06,551.10 224.31,551.14 C224.56,551.17 224.68,551.18 224.66,550.99 C224.64,550.80 224.37,550.39 224.18,549.99 C223.98,549.59 223.72,549.06 223.48,548.59 C223.25,548.12 223.02,547.66 222.79,547.19 C222.56,546.72 222.29,546.25 222.09,545.79 C221.90,545.32 221.71,544.89 221.60,544.41 C221.49,543.93 221.47,543.39 221.45,542.89 C221.44,542.39 221.54,541.76 221.51,541.39 C221.48,541.03 221.44,540.66 221.26,540.70 Z" fill="#e9a677" stroke="#84574a" stroke-width="0.5" stroke-linejoin="round"/>
<ellipse cx="220.26" cy="547.14" rx="1.14" ry="0.87" transform="rotate(71.7 220.26 547.14)" fill="#8c7470"/>
<path d="M227.26,560.13 C227.20,560.31 226.63,560.61 226.20,560.89 C225.76,561.17 225.17,561.53 224.65,561.81 C224.14,562.08 223.56,562.33 223.11,562.52 C222.66,562.70 222.33,562.82 221.95,562.91 C221.56,562.99 221.11,563.07 220.79,563.04 C220.47,563.02 220.27,563.00 220.01,562.78 C219.76,562.56 219.50,562.09 219.24,561.72 C218.98,561.35 218.72,561.04 218.46,560.55 C218.20,560.06 217.91,559.36 217.69,558.75 C217.46,558.15 217.23,557.44 217.10,556.93 C216.97,556.42 216.91,555.96 216.91,555.69 C216.91,555.43 216.91,555.31 217.10,555.36 C217.29,555.40 217.68,555.72 218.07,555.98 C218.45,556.23 218.97,556.57 219.42,556.86 C219.87,557.16 220.33,557.46 220.78,557.75 C221.23,558.05 221.68,558.38 222.13,558.64 C222.59,558.90 223.00,559.15 223.49,559.32 C223.97,559.49 224.52,559.58 225.04,559.66 C225.55,559.74 226.21,559.71 226.58,559.79 C226.95,559.87 227.32,559.95 227.26,560.13 Z" fill="#e9a677" stroke="#84574a" stroke-width="0.5" stroke-linejoin="round"/>
<ellipse cx="221.14" cy="560.31" rx="1.18" ry="0.90" transform="rotate(-154.8 221.14 560.31)" fill="#8c7470"/>
<circle cx="213.42" cy="541.41" r="3.44" fill="#a3b1e7" stroke="#84574a" stroke-width="0.5"/>
<ellipse cx="213.28" cy="542.58" rx="0.86" ry="0.79" fill="#8c7470"/>
<circle cx="229.74" cy="546.88" r="3.44" fill="#a3b1e7" stroke="#84574a" stroke-width="0.5"/>
<ellipse cx="228.71" cy="547.09" rx="0.86" ry="0.79" fill="#8c7470"/>
<circle cx="214.22" cy="551.40" r="3.44" fill="#a3b1e7" stroke="#84574a" stroke-width="0.5"/>
<ellipse cx="213.26" cy="551.53" rx="0.86" ry="0.79" fill="#8c7470"/>
<circle cx="202.98" cy="554.17" r="3.44" fill="#a3b1e7" stroke="#84574a" stroke-width="0.5"/>
<ellipse cx="203.63" cy="553.72" rx="0.86" ry="0.79" fill="#8c7470"/>
<circle cx="232.38" cy="556.10" r="3.44" fill="#a3b1e7" stroke="#84574a" stroke-width="0.5"/>
<ellipse cx="232.38" cy="556.96" rx="0.86" ry="0.79" fill="#8c7470"/>
<rect x="74.10" y="531.10" width="164.80" height="160.10" fill="none" stroke="#000" stroke-width="1.2"/>
<line x1="70.60" y1="662.00" x2="74.10" y2="662.00" stroke="#000" stroke-width="1"/>
<text x="66.50" y="665.90" font-size="11.3" text-anchor="end" textLength="13.99" lengthAdjust="spacingAndGlyphs">20</text>
<line x1="70.60" y1="624.84" x2="74.10" y2="624.84" stroke="#000" stroke-width="1"/>
<text x="66.50" y="628.74" font-size="11.3" text-anchor="end" textLength="13.99" lengthAdjust="spacingAndGlyphs">40</text>
<line x1="70.60" y1="587.68" x2="74.10" y2="587.68" stroke="#000" stroke-width="1"/>
<text x="66.50" y="591.58" font-size="11.3" text-anchor="end" textLength="13.99" lengthAdjust="spacingAndGlyphs">60</text>
<line x1="70.60" y1="550.52" x2="74.10" y2="550.52" stroke="#000" stroke-width="1"/>
<text x="66.50" y="554.42" font-size="11.3" text-anchor="end" textLength="13.99" lengthAdjust="spacingAndGlyphs">80</text>
<line x1="75.80" y1="691.20" x2="75.80" y2="694.70" stroke="#000" stroke-width="1"/>
<text x="75.80" y="707.40" font-size="11.3" text-anchor="middle" textLength="17.49" lengthAdjust="spacingAndGlyphs">0.0</text>
<line x1="113.00" y1="691.20" x2="113.00" y2="694.70" stroke="#000" stroke-width="1"/>
<text x="113.00" y="707.40" font-size="11.3" text-anchor="middle" textLength="17.49" lengthAdjust="spacingAndGlyphs">0.2</text>
<line x1="150.20" y1="691.20" x2="150.20" y2="694.70" stroke="#000" stroke-width="1"/>
<text x="150.20" y="707.40" font-size="11.3" text-anchor="middle" textLength="17.49" lengthAdjust="spacingAndGlyphs">0.4</text>
<line x1="187.40" y1="691.20" x2="187.40" y2="694.70" stroke="#000" stroke-width="1"/>
<text x="187.40" y="707.40" font-size="11.3" text-anchor="middle" textLength="17.49" lengthAdjust="spacingAndGlyphs">0.6</text>
<line x1="224.60" y1="691.20" x2="224.60" y2="694.70" stroke="#000" stroke-width="1"/>
<text x="224.60" y="707.40" font-size="11.3" text-anchor="middle" textLength="17.49" lengthAdjust="spacingAndGlyphs">0.8</text>
<text x="156.1" y="721.2" font-size="11.3" text-anchor="middle" textLength="96.2" lengthAdjust="spacingAndGlyphs" fill="#222222">Target <tspan font-style="italic">X</tspan><tspan font-size="8" dy="2.5">1</tspan><tspan dy="-2.5"> fraction</tspan></text>
<text x="46.30" y="610.50" font-size="11.3" text-anchor="middle" textLength="116.80" lengthAdjust="spacingAndGlyphs" transform="rotate(-90 46.30 610.50)">Saturation time (a.u.)</text>
<rect x="64.00" y="485.50" width="74.20" height="33.60" rx="2" fill="#fff" fill-opacity="0.8" stroke="#d6d6d6" stroke-width="1"/>
<circle cx="73.7" cy="493.4" r="1.2" fill="#000"/>
<circle cx="73.7" cy="510.4" r="5.4" fill="none" stroke="#000" stroke-width="1.45"/>
<text x="86.40" y="497.40" font-family="'Liberation Serif', serif" font-size="12.5" fill="#222222" textLength="36.50" lengthAdjust="spacingAndGlyphs"><tspan font-style="italic">k</tspan><tspan font-size="8.5" dy="2.2">2</tspan><tspan dy="-2.2"> = 0.2</tspan></text>
<text x="86.40" y="514.40" font-family="'Liberation Serif', serif" font-size="12.5" fill="#222222" textLength="48.20" lengthAdjust="spacingAndGlyphs"><tspan font-style="italic">k</tspan><tspan font-size="8.5" dy="2.2">2</tspan><tspan dy="-2.2"> = 0.001</tspan></text>
<rect x="142.60" y="485.50" width="105.90" height="33.60" rx="2" fill="#fff" fill-opacity="0.8" stroke="#d6d6d6" stroke-width="1"/>
<circle cx="158.0" cy="495.3" r="3.7" fill="none" stroke="#0000ff" stroke-width="1.45"/>
<circle cx="158.0" cy="511.1" r="3.7" fill="none" stroke="#ff0000" stroke-width="1.45"/>
<text x="177.90" y="498.30" font-size="11.3" textLength="39.10" lengthAdjust="spacingAndGlyphs">Control</text>
<text x="177.90" y="514.30" font-size="11.3" textLength="65.40" lengthAdjust="spacingAndGlyphs">w/ feedback</text>
<text x="270.30" y="228.50" font-size="25.5" fill="#000" font-weight="bold">E</text>
<clipPath id="cE"><rect x="346.6" y="280.5" width="163.29999999999995" height="171.2"/></clipPath>
<g clip-path="url(#cE)">
<path d="M367.20,384.90 C367.37,382.13 367.25,378.58 368.80,373.80 C370.35,369.02 373.75,361.17 376.50,356.20 C379.25,351.23 382.37,347.13 385.30,344.00 C388.23,340.87 391.17,339.05 394.10,337.40 C397.03,335.75 399.95,335.02 402.90,334.10 C405.85,333.18 409.58,333.37 411.80,331.90 C414.02,330.43 415.28,327.50 416.20,325.30 C417.12,323.10 416.57,320.72 417.30,318.70 C418.03,316.68 418.95,314.12 420.60,313.20 C422.25,312.28 425.55,312.28 427.20,313.20 C428.85,314.12 429.03,317.05 430.50,318.70 C431.97,320.35 433.23,321.08 436.00,323.10 C438.77,325.12 443.42,328.42 447.10,330.80 C450.78,333.18 454.43,334.63 458.10,337.40 C461.77,340.17 465.80,344.27 469.10,347.40 C472.40,350.53 475.32,353.27 477.90,356.20 C480.48,359.13 482.75,361.70 484.60,365.00 C486.45,368.30 488.63,373.05 489.00,376.00 C489.37,378.95 488.63,379.70 486.80,382.70 C484.97,385.70 482.13,390.12 478.00,394.00 C473.87,397.88 467.50,402.33 462.00,406.00 C456.50,409.67 450.00,413.50 445.00,416.00 C440.00,418.50 435.32,420.20 432.00,421.00 C428.68,421.80 427.62,421.12 425.10,420.80 C422.58,420.48 419.63,419.88 416.90,419.10 C414.17,418.32 411.43,417.28 408.70,416.10 C405.97,414.92 403.03,413.45 400.50,412.00 C397.97,410.55 396.02,408.95 393.50,407.40 C390.98,405.85 388.12,404.07 385.40,402.70 C382.68,401.33 379.55,400.47 377.20,399.20 C374.85,397.93 372.87,396.57 371.30,395.10 C369.73,393.63 368.48,392.10 367.80,390.40 C367.12,388.70 367.03,387.67 367.20,384.90 Z" fill="#5a5ae6" fill-opacity="0.3"/>
<path d="M369.51,384.38 C369.67,381.73 369.56,378.32 371.05,373.73 C372.54,369.14 375.80,361.60 378.44,356.83 C381.08,352.06 384.07,348.13 386.89,345.12 C389.70,342.11 392.52,340.37 395.34,338.78 C398.15,337.20 400.95,336.50 403.78,335.62 C406.62,334.74 410.20,334.91 412.33,333.50 C414.46,332.10 415.67,329.28 416.55,327.17 C417.43,325.06 416.90,322.77 417.61,320.83 C418.31,318.90 419.19,316.43 420.78,315.55 C422.36,314.67 425.53,314.67 427.11,315.55 C428.70,316.43 428.87,319.25 430.28,320.83 C431.69,322.42 432.90,323.12 435.56,325.06 C438.22,326.99 442.68,330.16 446.22,332.45 C449.75,334.74 453.26,336.13 456.78,338.78 C460.30,341.44 464.17,345.38 467.34,348.38 C470.50,351.39 473.30,354.02 475.78,356.83 C478.26,359.65 480.44,362.11 482.22,365.28 C483.99,368.45 486.09,373.01 486.44,375.84 C486.79,378.67 486.09,379.39 484.33,382.27 C482.57,385.15 479.85,389.39 475.88,393.12 C471.91,396.85 465.80,401.12 460.52,404.64 C455.24,408.16 449.00,411.84 444.20,414.24 C439.40,416.64 434.90,418.27 431.72,419.04 C428.54,419.81 427.51,419.15 425.10,418.85 C422.68,418.54 419.85,417.97 417.22,417.22 C414.60,416.46 411.98,415.47 409.35,414.34 C406.73,413.20 403.91,411.79 401.48,410.40 C399.05,409.01 397.18,407.47 394.76,405.98 C392.34,404.50 389.59,402.78 386.98,401.47 C384.38,400.16 381.37,399.33 379.11,398.11 C376.86,396.90 374.95,395.58 373.45,394.18 C371.94,392.77 370.74,391.30 370.09,389.66 C369.43,388.03 369.35,387.04 369.51,384.38 Z" fill="#5a5ae6" fill-opacity="0.08"/>
<path d="M372.98,383.61 C373.13,381.12 373.03,377.93 374.42,373.62 C375.81,369.31 378.88,362.25 381.35,357.78 C383.83,353.31 386.63,349.62 389.27,346.80 C391.91,343.98 394.55,342.34 397.19,340.86 C399.83,339.37 402.45,338.72 405.11,337.89 C407.76,337.07 411.12,337.23 413.12,335.91 C415.12,334.59 416.25,331.95 417.08,329.97 C417.90,327.99 417.41,325.84 418.07,324.03 C418.73,322.21 419.56,319.90 421.04,319.08 C422.53,318.25 425.50,318.25 426.98,319.08 C428.47,319.90 428.63,322.54 429.95,324.03 C431.27,325.51 432.41,326.18 434.90,327.99 C437.39,329.81 441.58,332.78 444.89,334.92 C448.21,337.06 451.49,338.37 454.79,340.86 C458.09,343.35 461.72,347.04 464.69,349.86 C467.66,352.68 470.28,355.14 472.61,357.78 C474.93,360.42 476.98,362.73 478.64,365.70 C480.31,368.67 482.27,372.95 482.60,375.60 C482.93,378.25 482.27,378.93 480.62,381.63 C478.97,384.33 476.42,388.31 472.70,391.80 C468.98,395.30 463.25,399.30 458.30,402.60 C453.35,405.90 447.50,409.35 443.00,411.60 C438.50,413.85 434.29,415.38 431.30,416.10 C428.31,416.82 427.36,416.21 425.09,415.92 C422.83,415.63 420.17,415.10 417.71,414.39 C415.25,413.69 412.79,412.75 410.33,411.69 C407.87,410.62 405.23,409.31 402.95,408.00 C400.67,406.69 398.91,405.25 396.65,403.86 C394.38,402.46 391.80,400.86 389.36,399.63 C386.91,398.40 384.10,397.62 381.98,396.48 C379.87,395.34 378.08,394.11 376.67,392.79 C375.26,391.47 374.13,390.09 373.52,388.56 C372.90,387.03 372.83,386.10 372.98,383.61 Z" fill="#5a5ae6" fill-opacity="0.06"/>
<path d="M381.65,381.67 C381.77,379.60 381.69,376.94 382.85,373.35 C384.01,369.76 386.56,363.88 388.62,360.15 C390.69,356.42 393.03,353.35 395.23,351.00 C397.43,348.65 399.63,347.29 401.83,346.05 C404.03,344.81 406.21,344.26 408.42,343.58 C410.64,342.89 413.44,343.02 415.10,341.92 C416.76,340.82 417.71,338.62 418.40,336.98 C419.09,335.33 418.68,333.54 419.23,332.02 C419.78,330.51 420.46,328.59 421.70,327.90 C422.94,327.21 425.41,327.21 426.65,327.90 C427.89,328.59 428.02,330.79 429.12,332.02 C430.23,333.26 431.18,333.81 433.25,335.33 C435.32,336.84 438.81,339.31 441.58,341.10 C444.34,342.89 447.08,343.97 449.83,346.05 C452.58,348.12 455.60,351.20 458.08,353.55 C460.55,355.90 462.74,357.95 464.67,360.15 C466.61,362.35 468.31,364.27 469.70,366.75 C471.09,369.23 472.73,372.79 473.00,375.00 C473.27,377.21 472.73,377.77 471.35,380.02 C469.98,382.27 467.85,385.59 464.75,388.50 C461.65,391.41 456.88,394.75 452.75,397.50 C448.62,400.25 443.75,403.12 440.00,405.00 C436.25,406.88 432.74,408.15 430.25,408.75 C427.76,409.35 426.96,408.84 425.08,408.60 C423.19,408.36 420.97,407.91 418.92,407.33 C416.87,406.74 414.82,405.96 412.77,405.08 C410.72,404.19 408.52,403.09 406.62,402.00 C404.73,400.91 403.26,399.71 401.38,398.55 C399.49,397.39 397.34,396.05 395.30,395.02 C393.26,394.00 390.91,393.35 389.15,392.40 C387.39,391.45 385.90,390.43 384.73,389.33 C383.55,388.23 382.61,387.07 382.10,385.80 C381.59,384.52 381.52,383.75 381.65,381.67 Z" fill="#5a5ae6" fill-opacity="0.05"/>
<path d="M393.21,379.09 C393.30,377.57 393.24,375.62 394.09,372.99 C394.94,370.36 396.81,366.04 398.32,363.31 C399.84,360.58 401.55,358.32 403.17,356.60 C404.78,354.88 406.39,353.88 408.00,352.97 C409.62,352.06 411.22,351.66 412.84,351.16 C414.47,350.65 416.52,350.75 417.74,349.94 C418.96,349.14 419.66,347.52 420.16,346.31 C420.66,345.11 420.36,343.79 420.76,342.69 C421.17,341.58 421.67,340.16 422.58,339.66 C423.49,339.16 425.30,339.16 426.21,339.66 C427.12,340.16 427.22,341.78 428.02,342.69 C428.83,343.59 429.53,344.00 431.05,345.11 C432.57,346.21 435.13,348.03 437.16,349.34 C439.18,350.65 441.19,351.45 443.21,352.97 C445.22,354.49 447.44,356.75 449.25,358.47 C451.07,360.19 452.67,361.70 454.09,363.31 C455.52,364.92 456.76,366.33 457.78,368.15 C458.80,369.96 460.00,372.58 460.20,374.20 C460.40,375.82 460.00,376.24 458.99,377.88 C457.98,379.53 456.42,381.96 454.15,384.10 C451.88,386.24 448.38,388.68 445.35,390.70 C442.33,392.72 438.75,394.82 436.00,396.20 C433.25,397.57 430.67,398.51 428.85,398.95 C427.03,399.39 426.44,399.01 425.06,398.84 C423.67,398.67 422.05,398.34 420.54,397.91 C419.04,397.47 417.54,396.91 416.03,396.25 C414.53,395.60 412.92,394.80 411.52,394.00 C410.13,393.20 409.06,392.32 407.68,391.47 C406.29,390.62 404.71,389.64 403.22,388.88 C401.73,388.13 400.00,387.66 398.71,386.96 C397.42,386.26 396.33,385.51 395.47,384.71 C394.60,383.90 393.92,383.06 393.54,382.12 C393.16,381.19 393.12,380.62 393.21,379.09 Z" fill="#5a5ae6" fill-opacity="0.04"/>
<path d="M418.40,351.80 C419.87,348.12 421.70,343.83 425.00,340.70 C428.30,337.57 434.52,334.47 438.20,333.00 C441.88,331.53 443.42,330.62 447.10,331.90 C450.78,333.18 455.90,337.02 460.30,340.70 C464.70,344.38 469.82,349.58 473.50,354.00 C477.18,358.42 479.82,362.42 482.40,367.20 C484.98,371.98 487.53,378.28 489.00,382.70 C490.47,387.12 491.20,390.77 491.20,393.70 C491.20,396.63 490.47,397.55 489.00,400.30 C487.53,403.05 484.98,406.52 482.40,410.20 C479.82,413.88 476.82,418.53 473.50,422.40 C470.18,426.27 466.17,430.47 462.50,433.40 C458.83,436.33 454.80,438.72 451.50,440.00 C448.20,441.28 445.47,441.83 442.70,441.10 C439.93,440.37 437.12,438.35 434.90,435.60 C432.68,432.85 431.05,428.65 429.40,424.60 C427.75,420.55 426.47,416.08 425.00,411.30 C423.53,406.52 422.07,401.42 420.60,395.90 C419.13,390.38 416.93,383.72 416.20,378.20 C415.47,372.68 415.83,367.20 416.20,362.80 C416.57,358.40 416.93,355.48 418.40,351.80 Z" fill="#f03a3a" fill-opacity="0.22"/>
<path d="M419.68,353.21 C421.10,349.65 422.87,345.52 426.05,342.50 C429.23,339.47 435.23,336.48 438.79,335.06 C442.34,333.65 443.82,332.77 447.38,334.00 C450.93,335.24 455.87,338.94 460.11,342.50 C464.36,346.05 469.30,351.07 472.85,355.33 C476.41,359.59 478.95,363.45 481.44,368.07 C483.93,372.68 486.39,378.76 487.81,383.03 C489.23,387.29 489.93,390.81 489.93,393.64 C489.93,396.47 489.23,397.36 487.81,400.01 C486.39,402.66 483.93,406.01 481.44,409.56 C478.95,413.12 476.05,417.60 472.85,421.34 C469.65,425.07 465.78,429.12 462.24,431.95 C458.70,434.78 454.81,437.08 451.62,438.32 C448.44,439.56 445.80,440.09 443.13,439.38 C440.46,438.67 437.74,436.73 435.60,434.07 C433.46,431.42 431.89,427.37 430.30,423.46 C428.70,419.55 427.47,415.24 426.05,410.62 C424.63,406.01 423.22,401.09 421.80,395.76 C420.39,390.44 418.27,384.01 417.56,378.68 C416.85,373.36 417.20,368.07 417.56,363.82 C417.91,359.58 418.27,356.76 419.68,353.21 Z" fill="#f03a3a" fill-opacity="0.12"/>
<path d="M420.96,354.61 C422.33,351.19 424.03,347.20 427.10,344.29 C430.17,341.38 435.95,338.49 439.38,337.13 C442.80,335.77 444.23,334.91 447.65,336.11 C451.08,337.30 455.84,340.87 459.93,344.29 C464.02,347.72 468.78,352.55 472.20,356.66 C475.63,360.77 478.08,364.49 480.48,368.94 C482.88,373.38 485.26,379.24 486.62,383.35 C487.98,387.46 488.67,390.85 488.67,393.58 C488.67,396.31 487.98,397.16 486.62,399.72 C485.26,402.28 482.88,405.50 480.48,408.93 C478.08,412.35 475.29,416.68 472.20,420.27 C469.12,423.87 465.38,427.77 461.98,430.50 C458.57,433.23 454.81,435.45 451.75,436.64 C448.68,437.83 446.13,438.35 443.56,437.66 C440.99,436.98 438.37,435.11 436.31,432.55 C434.25,429.99 432.73,426.08 431.19,422.32 C429.66,418.55 428.46,414.40 427.10,409.95 C425.74,405.50 424.37,400.76 423.01,395.63 C421.64,390.50 419.60,384.30 418.92,379.17 C418.23,374.04 418.57,368.94 418.92,364.84 C419.26,360.75 419.60,358.04 420.96,354.61 Z" fill="#f03a3a" fill-opacity="0.1"/>
<path d="M423.89,357.83 C425.14,354.70 426.69,351.06 429.50,348.39 C432.31,345.73 437.59,343.10 440.72,341.85 C443.85,340.60 445.15,339.82 448.29,340.91 C451.42,342.01 455.76,345.26 459.50,348.39 C463.25,351.53 467.59,355.95 470.73,359.70 C473.86,363.45 476.09,366.85 478.29,370.92 C480.49,374.99 482.65,380.34 483.90,384.09 C485.15,387.85 485.77,390.95 485.77,393.44 C485.77,395.94 485.15,396.72 483.90,399.06 C482.65,401.39 480.49,404.34 478.29,407.47 C476.09,410.60 473.54,414.55 470.73,417.84 C467.91,421.13 464.49,424.70 461.38,427.19 C458.26,429.68 454.83,431.71 452.02,432.80 C449.22,433.89 446.90,434.36 444.55,433.74 C442.19,433.11 439.80,431.40 437.91,429.06 C436.03,426.72 434.64,423.15 433.24,419.71 C431.84,416.27 430.75,412.47 429.50,408.41 C428.25,404.34 427.01,400.00 425.76,395.31 C424.51,390.63 422.64,384.96 422.02,380.27 C421.40,375.58 421.71,370.92 422.02,367.18 C422.33,363.44 422.64,360.96 423.89,357.83 Z" fill="#f03a3a" fill-opacity="0.08"/>
<path d="M429.38,363.86 C430.41,361.28 431.69,358.28 434.00,356.09 C436.31,353.90 440.66,351.73 443.24,350.70 C445.82,349.67 446.89,349.03 449.47,349.93 C452.05,350.83 455.63,353.51 458.71,356.09 C461.79,358.67 465.37,362.31 467.95,365.40 C470.53,368.49 472.37,371.29 474.18,374.64 C475.99,377.99 477.77,382.40 478.80,385.49 C479.83,388.58 480.34,391.14 480.34,393.19 C480.34,395.24 479.83,395.88 478.80,397.81 C477.77,399.74 475.99,402.16 474.18,404.74 C472.37,407.32 470.27,410.57 467.95,413.28 C465.63,415.99 462.82,418.93 460.25,420.98 C457.68,423.03 454.86,424.70 452.55,425.60 C450.24,426.50 448.33,426.88 446.39,426.37 C444.45,425.86 442.48,424.45 440.93,422.52 C439.38,420.60 438.24,417.65 437.08,414.82 C435.92,411.99 435.03,408.86 434.00,405.51 C432.97,402.16 431.95,398.59 430.92,394.73 C429.89,390.87 428.35,386.20 427.84,382.34 C427.33,378.48 427.58,374.64 427.84,371.56 C428.10,368.48 428.35,366.44 429.38,363.86 Z" fill="#f03a3a" fill-opacity="0.06"/>
<g stroke="#fff" stroke-width="0.35" stroke-opacity="0.45">
<circle cx="447.4" cy="340.8" r="1.6" fill="#1010ff" fill-opacity="0.9"/>
<circle cx="462.1" cy="381.0" r="1.6" fill="#1010ff" fill-opacity="0.9"/>
<circle cx="393.6" cy="369.1" r="1.6" fill="#1010ff" fill-opacity="0.9"/>
<circle cx="411.1" cy="373.0" r="1.6" fill="#1010ff" fill-opacity="0.9"/>
<circle cx="463.8" cy="401.0" r="1.6" fill="#1010ff" fill-opacity="0.9"/>
<circle cx="424.4" cy="340.9" r="1.6" fill="#1010ff" fill-opacity="0.9"/>
<circle cx="474.8" cy="356.5" r="1.6" fill="#1010ff" fill-opacity="0.9"/>
<circle cx="476.0" cy="383.7" r="1.6" fill="#1010ff" fill-opacity="0.9"/>
<circle cx="439.9" cy="403.9" r="1.6" fill="#1010ff" fill-opacity="0.9"/>
<circle cx="404.0" cy="386.8" r="1.6" fill="#1010ff" fill-opacity="0.9"/>
<circle cx="387.2" cy="376.5" r="1.6" fill="#1010ff" fill-opacity="0.9"/>
<circle cx="421.6" cy="392.8" r="1.6" fill="#1010ff" fill-opacity="0.9"/>
<circle cx="398.3" cy="349.1" r="1.6" fill="#1010ff" fill-opacity="0.9"/>
<circle cx="471.8" cy="377.5" r="1.6" fill="#1010ff" fill-opacity="0.9"/>
<circle cx="383.1" cy="369.3" r="1.6" fill="#1010ff" fill-opacity="0.9"/>
<circle cx="407.7" cy="378.2" r="1.6" fill="#1010ff" fill-opacity="0.9"/>
<circle cx="416.0" cy="405.6" r="1.6" fill="#1010ff" fill-opacity="0.9"/>
<circle cx="476.1" cy="384.0" r="1.6" fill="#1010ff" fill-opacity="0.9"/>
<circle cx="464.3" cy="382.3" r="1.6" fill="#1010ff" fill-opacity="0.9"/>
<circle cx="401.0" cy="393.1" r="1.6" fill="#1010ff" fill-opacity="0.9"/>
<circle cx="403.2" cy="374.4" r="1.6" fill="#1010ff" fill-opacity="0.9"/>
<circle cx="397.8" cy="376.1" r="1.6" fill="#1010ff" fill-opacity="0.9"/>
<circle cx="418.3" cy="369.1" r="1.6" fill="#1010ff" fill-opacity="0.9"/>
<circle cx="387.8" cy="394.1" r="1.6" fill="#1010ff" fill-opacity="0.9"/>
<circle cx="404.7" cy="378.4" r="1.6" fill="#1010ff" fill-opacity="0.9"/>
<circle cx="457.6" cy="351.9" r="1.6" fill="#1010ff" fill-opacity="0.9"/>
<circle cx="435.3" cy="392.4" r="1.6" fill="#1010ff" fill-opacity="0.9"/>
<circle cx="434.8" cy="395.7" r="1.6" fill="#1010ff" fill-opacity="0.9"/>
<circle cx="394.0" cy="385.4" r="1.6" fill="#1010ff" fill-opacity="0.9"/>
<circle cx="412.2" cy="364.4" r="1.6" fill="#1010ff" fill-opacity="0.9"/>
<circle cx="414.9" cy="388.0" r="1.6" fill="#1010ff" fill-opacity="0.9"/>
<circle cx="422.7" cy="401.8" r="1.6" fill="#1010ff" fill-opacity="0.9"/>
<circle cx="412.5" cy="403.1" r="1.6" fill="#1010ff" fill-opacity="0.9"/>
<circle cx="417.4" cy="388.7" r="1.6" fill="#1010ff" fill-opacity="0.9"/>
<circle cx="387.6" cy="371.3" r="1.6" fill="#1010ff" fill-opacity="0.9"/>
<circle cx="439.3" cy="381.3" r="1.6" fill="#1010ff" fill-opacity="0.9"/>
<circle cx="389.1" cy="362.3" r="1.6" fill="#1010ff" fill-opacity="0.9"/>
<circle cx="389.4" cy="373.2" r="1.6" fill="#1010ff" fill-opacity="0.9"/>
<circle cx="415.6" cy="372.1" r="1.6" fill="#1010ff" fill-opacity="0.9"/>
<circle cx="425.7" cy="366.1" r="1.6" fill="#1010ff" fill-opacity="0.9"/>
<circle cx="446.9" cy="329.3" r="1.6" fill="#1010ff" fill-opacity="0.9"/>
<circle cx="418.4" cy="392.8" r="1.6" fill="#1010ff" fill-opacity="0.9"/>
<circle cx="375.6" cy="369.2" r="1.6" fill="#1010ff" fill-opacity="0.9"/>
<circle cx="411.3" cy="379.5" r="1.6" fill="#1010ff" fill-opacity="0.9"/>
<circle cx="377.9" cy="381.8" r="1.6" fill="#1010ff" fill-opacity="0.9"/>
<circle cx="398.8" cy="386.3" r="1.6" fill="#1010ff" fill-opacity="0.9"/>
<circle cx="405.5" cy="372.3" r="1.6" fill="#1010ff" fill-opacity="0.9"/>
<circle cx="413.8" cy="385.5" r="1.6" fill="#1010ff" fill-opacity="0.9"/>
<circle cx="441.7" cy="331.0" r="1.6" fill="#1010ff" fill-opacity="0.9"/>
<circle cx="461.2" cy="355.6" r="1.6" fill="#1010ff" fill-opacity="0.9"/>
<circle cx="415.9" cy="394.2" r="1.6" fill="#1010ff" fill-opacity="0.9"/>
<circle cx="442.1" cy="376.8" r="1.6" fill="#1010ff" fill-opacity="0.9"/>
<circle cx="391.5" cy="366.2" r="1.6" fill="#1010ff" fill-opacity="0.9"/>
<circle cx="445.0" cy="374.6" r="1.6" fill="#1010ff" fill-opacity="0.9"/>
<circle cx="407.8" cy="364.0" r="1.6" fill="#1010ff" fill-opacity="0.9"/>
<circle cx="406.5" cy="401.1" r="1.6" fill="#1010ff" fill-opacity="0.9"/>
<circle cx="452.8" cy="386.3" r="1.6" fill="#1010ff" fill-opacity="0.9"/>
<circle cx="444.1" cy="336.0" r="1.6" fill="#1010ff" fill-opacity="0.9"/>
<circle cx="400.6" cy="396.0" r="1.6" fill="#1010ff" fill-opacity="0.9"/>
<circle cx="396.4" cy="349.5" r="1.6" fill="#1010ff" fill-opacity="0.9"/>
<circle cx="430.5" cy="382.1" r="1.6" fill="#1010ff" fill-opacity="0.9"/>
<circle cx="398.7" cy="361.3" r="1.6" fill="#1010ff" fill-opacity="0.9"/>
<circle cx="388.3" cy="366.7" r="1.6" fill="#1010ff" fill-opacity="0.9"/>
<circle cx="451.0" cy="381.0" r="1.6" fill="#1010ff" fill-opacity="0.9"/>
<circle cx="444.6" cy="406.6" r="1.6" fill="#1010ff" fill-opacity="0.9"/>
<circle cx="420.9" cy="402.0" r="1.6" fill="#1010ff" fill-opacity="0.9"/>
<circle cx="442.9" cy="398.9" r="1.6" fill="#1010ff" fill-opacity="0.9"/>
<circle cx="442.4" cy="411.5" r="1.6" fill="#1010ff" fill-opacity="0.9"/>
<circle cx="450.2" cy="344.3" r="1.6" fill="#1010ff" fill-opacity="0.9"/>
<circle cx="422.2" cy="361.6" r="1.6" fill="#1010ff" fill-opacity="0.9"/>
<circle cx="400.6" cy="373.4" r="1.6" fill="#1010ff" fill-opacity="0.9"/>
<circle cx="376.9" cy="390.1" r="1.6" fill="#1010ff" fill-opacity="0.9"/>
<circle cx="462.3" cy="360.0" r="1.6" fill="#1010ff" fill-opacity="0.9"/>
<circle cx="435.5" cy="357.8" r="1.6" fill="#1010ff" fill-opacity="0.9"/>
<circle cx="425.9" cy="378.7" r="1.6" fill="#1010ff" fill-opacity="0.9"/>
<circle cx="426.1" cy="401.4" r="1.6" fill="#1010ff" fill-opacity="0.9"/>
<circle cx="412.3" cy="382.2" r="1.6" fill="#1010ff" fill-opacity="0.9"/>
<circle cx="399.5" cy="382.5" r="1.6" fill="#1010ff" fill-opacity="0.9"/>
<circle cx="430.3" cy="404.5" r="1.6" fill="#1010ff" fill-opacity="0.9"/>
<circle cx="392.6" cy="370.3" r="1.6" fill="#1010ff" fill-opacity="0.9"/>
<circle cx="438.6" cy="390.0" r="1.6" fill="#1010ff" fill-opacity="0.9"/>
<circle cx="385.2" cy="374.0" r="1.6" fill="#1010ff" fill-opacity="0.9"/>
<circle cx="453.8" cy="389.3" r="1.6" fill="#1010ff" fill-opacity="0.9"/>
<circle cx="400.2" cy="384.1" r="1.6" fill="#1010ff" fill-opacity="0.9"/>
<circle cx="413.4" cy="401.4" r="1.6" fill="#1010ff" fill-opacity="0.9"/>
<circle cx="412.5" cy="387.1" r="1.6" fill="#1010ff" fill-opacity="0.9"/>
<circle cx="401.0" cy="399.0" r="1.6" fill="#1010ff" fill-opacity="0.9"/>
<circle cx="415.4" cy="395.0" r="1.6" fill="#1010ff" fill-opacity="0.9"/>
<circle cx="459.4" cy="394.1" r="1.6" fill="#1010ff" fill-opacity="0.9"/>
<circle cx="420.9" cy="402.7" r="1.6" fill="#1010ff" fill-opacity="0.9"/>
<circle cx="465.2" cy="367.6" r="1.6" fill="#1010ff" fill-opacity="0.9"/>
<circle cx="448.6" cy="386.7" r="1.6" fill="#1010ff" fill-opacity="0.9"/>
<circle cx="405.0" cy="391.0" r="1.6" fill="#1010ff" fill-opacity="0.9"/>
<circle cx="432.7" cy="394.8" r="1.6" fill="#1010ff" fill-opacity="0.9"/>
<circle cx="457.3" cy="370.2" r="1.6" fill="#1010ff" fill-opacity="0.9"/>
<circle cx="438.0" cy="352.6" r="1.6" fill="#1010ff" fill-opacity="0.9"/>
<circle cx="418.8" cy="320.8" r="1.6" fill="#1010ff" fill-opacity="0.9"/>
<circle cx="438.1" cy="396.7" r="1.6" fill="#1010ff" fill-opacity="0.9"/>
<circle cx="402.2" cy="368.4" r="1.6" fill="#1010ff" fill-opacity="0.9"/>
<circle cx="396.9" cy="380.1" r="1.6" fill="#1010ff" fill-opacity="0.9"/>
<circle cx="429.9" cy="376.6" r="1.6" fill="#1010ff" fill-opacity="0.9"/>
<circle cx="409.2" cy="378.0" r="1.6" fill="#1010ff" fill-opacity="0.9"/>
<circle cx="425.9" cy="358.8" r="1.6" fill="#1010ff" fill-opacity="0.9"/>
<circle cx="436.3" cy="380.9" r="1.6" fill="#1010ff" fill-opacity="0.9"/>
<circle cx="396.5" cy="358.3" r="1.6" fill="#1010ff" fill-opacity="0.9"/>
<circle cx="396.6" cy="374.8" r="1.6" fill="#1010ff" fill-opacity="0.9"/>
<circle cx="425.3" cy="372.4" r="1.6" fill="#1010ff" fill-opacity="0.9"/>
<circle cx="450.4" cy="340.1" r="1.6" fill="#1010ff" fill-opacity="0.9"/>
<circle cx="418.3" cy="344.4" r="1.6" fill="#1010ff" fill-opacity="0.9"/>
<circle cx="450.4" cy="376.2" r="1.6" fill="#1010ff" fill-opacity="0.9"/>
<circle cx="380.3" cy="381.8" r="1.6" fill="#1010ff" fill-opacity="0.9"/>
<circle cx="441.6" cy="352.8" r="1.6" fill="#1010ff" fill-opacity="0.9"/>
<circle cx="471.1" cy="394.0" r="1.6" fill="#1010ff" fill-opacity="0.9"/>
<circle cx="417.4" cy="392.9" r="1.6" fill="#1010ff" fill-opacity="0.9"/>
<circle cx="445.7" cy="354.1" r="1.6" fill="#1010ff" fill-opacity="0.9"/>
<circle cx="443.7" cy="358.0" r="1.6" fill="#1010ff" fill-opacity="0.9"/>
<circle cx="401.2" cy="365.8" r="1.6" fill="#1010ff" fill-opacity="0.9"/>
<circle cx="449.5" cy="356.3" r="1.6" fill="#1010ff" fill-opacity="0.9"/>
<circle cx="407.3" cy="402.0" r="1.6" fill="#1010ff" fill-opacity="0.9"/>
<circle cx="419.9" cy="390.2" r="1.6" fill="#1010ff" fill-opacity="0.9"/>
<circle cx="404.8" cy="401.7" r="1.6" fill="#1010ff" fill-opacity="0.9"/>
<circle cx="388.4" cy="368.8" r="1.6" fill="#1010ff" fill-opacity="0.9"/>
<circle cx="401.2" cy="372.1" r="1.6" fill="#1010ff" fill-opacity="0.9"/>
<circle cx="433.4" cy="347.6" r="1.6" fill="#1010ff" fill-opacity="0.9"/>
<circle cx="417.8" cy="364.6" r="1.6" fill="#1010ff" fill-opacity="0.9"/>
<circle cx="410.0" cy="371.0" r="1.6" fill="#1010ff" fill-opacity="0.9"/>
<circle cx="426.8" cy="397.3" r="1.6" fill="#1010ff" fill-opacity="0.9"/>
<circle cx="392.8" cy="370.0" r="1.6" fill="#1010ff" fill-opacity="0.9"/>
<circle cx="426.6" cy="381.9" r="1.6" fill="#1010ff" fill-opacity="0.9"/>
<circle cx="463.9" cy="386.1" r="1.6" fill="#1010ff" fill-opacity="0.9"/>
<circle cx="459.9" cy="341.7" r="1.6" fill="#1010ff" fill-opacity="0.9"/>
<circle cx="431.2" cy="346.3" r="1.6" fill="#1010ff" fill-opacity="0.9"/>
<circle cx="398.3" cy="383.0" r="1.6" fill="#1010ff" fill-opacity="0.9"/>
<circle cx="380.5" cy="389.2" r="1.6" fill="#1010ff" fill-opacity="0.9"/>
<circle cx="456.5" cy="398.8" r="1.6" fill="#1010ff" fill-opacity="0.9"/>
<circle cx="420.7" cy="397.6" r="1.6" fill="#1010ff" fill-opacity="0.9"/>
<circle cx="376.5" cy="371.9" r="1.6" fill="#1010ff" fill-opacity="0.9"/>
<circle cx="469.6" cy="369.8" r="1.6" fill="#1010ff" fill-opacity="0.9"/>
<circle cx="412.0" cy="391.9" r="1.6" fill="#1010ff" fill-opacity="0.9"/>
<circle cx="429.5" cy="395.7" r="1.6" fill="#1010ff" fill-opacity="0.9"/>
<circle cx="410.8" cy="371.4" r="1.6" fill="#1010ff" fill-opacity="0.9"/>
<circle cx="400.4" cy="398.2" r="1.6" fill="#1010ff" fill-opacity="0.9"/>
<circle cx="454.4" cy="400.3" r="1.6" fill="#1010ff" fill-opacity="0.9"/>
<circle cx="373.5" cy="376.8" r="1.6" fill="#1010ff" fill-opacity="0.9"/>
<circle cx="400.0" cy="352.9" r="1.6" fill="#1010ff" fill-opacity="0.9"/>
<circle cx="403.3" cy="374.1" r="1.6" fill="#1010ff" fill-opacity="0.9"/>
<circle cx="441.1" cy="379.0" r="1.6" fill="#1010ff" fill-opacity="0.9"/>
<circle cx="373.7" cy="379.4" r="1.6" fill="#1010ff" fill-opacity="0.9"/>
<circle cx="395.2" cy="355.4" r="1.6" fill="#1010ff" fill-opacity="0.9"/>
<circle cx="388.7" cy="393.8" r="1.6" fill="#1010ff" fill-opacity="0.9"/>
<circle cx="469.7" cy="381.7" r="1.6" fill="#1010ff" fill-opacity="0.9"/>
<circle cx="425.4" cy="369.3" r="1.6" fill="#1010ff" fill-opacity="0.9"/>
<circle cx="459.3" cy="397.6" r="1.6" fill="#1010ff" fill-opacity="0.9"/>
<circle cx="450.3" cy="391.1" r="1.6" fill="#1010ff" fill-opacity="0.9"/>
<circle cx="383.4" cy="385.3" r="1.6" fill="#1010ff" fill-opacity="0.9"/>
<circle cx="476.1" cy="355.3" r="1.6" fill="#1010ff" fill-opacity="0.9"/>
<circle cx="456.6" cy="395.5" r="1.6" fill="#1010ff" fill-opacity="0.9"/>
<circle cx="397.5" cy="343.8" r="1.6" fill="#1010ff" fill-opacity="0.9"/>
<circle cx="476.5" cy="383.0" r="1.6" fill="#1010ff" fill-opacity="0.9"/>
<circle cx="443.0" cy="399.8" r="1.6" fill="#1010ff" fill-opacity="0.9"/>
<circle cx="472.9" cy="376.2" r="1.6" fill="#1010ff" fill-opacity="0.9"/>
<circle cx="434.3" cy="372.7" r="1.6" fill="#1010ff" fill-opacity="0.9"/>
<circle cx="409.3" cy="402.7" r="1.6" fill="#1010ff" fill-opacity="0.9"/>
<circle cx="381.7" cy="384.6" r="1.6" fill="#1010ff" fill-opacity="0.9"/>
<circle cx="380.6" cy="363.6" r="1.6" fill="#1010ff" fill-opacity="0.9"/>
<circle cx="403.1" cy="388.8" r="1.6" fill="#1010ff" fill-opacity="0.9"/>
<circle cx="402.4" cy="368.0" r="1.6" fill="#1010ff" fill-opacity="0.9"/>
<circle cx="376.9" cy="374.1" r="1.6" fill="#1010ff" fill-opacity="0.9"/>
<circle cx="450.3" cy="388.8" r="1.6" fill="#1010ff" fill-opacity="0.9"/>
<circle cx="403.2" cy="382.9" r="1.6" fill="#1010ff" fill-opacity="0.9"/>
<circle cx="411.3" cy="391.2" r="1.6" fill="#1010ff" fill-opacity="0.9"/>
<circle cx="422.2" cy="385.2" r="1.6" fill="#1010ff" fill-opacity="0.9"/>
<circle cx="451.5" cy="409.0" r="1.6" fill="#1010ff" fill-opacity="0.9"/>
<circle cx="458.1" cy="378.8" r="1.6" fill="#1010ff" fill-opacity="0.9"/>
<circle cx="462.5" cy="405.6" r="1.6" fill="#1010ff" fill-opacity="0.9"/>
<circle cx="456.6" cy="400.9" r="1.6" fill="#1010ff" fill-opacity="0.9"/>
<circle cx="379.0" cy="368.0" r="1.6" fill="#1010ff" fill-opacity="0.9"/>
<circle cx="448.4" cy="359.8" r="1.6" fill="#1010ff" fill-opacity="0.9"/>
<circle cx="403.5" cy="364.3" r="1.6" fill="#1010ff" fill-opacity="0.9"/>
<circle cx="415.9" cy="367.9" r="1.6" fill="#1010ff" fill-opacity="0.9"/>
<circle cx="427.7" cy="369.0" r="1.6" fill="#1010ff" fill-opacity="0.9"/>
<circle cx="480.8" cy="367.5" r="1.6" fill="#1010ff" fill-opacity="0.9"/>
<circle cx="455.0" cy="361.8" r="1.6" fill="#1010ff" fill-opacity="0.9"/>
<circle cx="414.2" cy="361.7" r="1.6" fill="#1010ff" fill-opacity="0.9"/>
<circle cx="450.4" cy="332.8" r="1.6" fill="#1010ff" fill-opacity="0.9"/>
<circle cx="434.8" cy="391.6" r="1.6" fill="#1010ff" fill-opacity="0.9"/>
<circle cx="425.0" cy="337.1" r="1.6" fill="#1010ff" fill-opacity="0.9"/>
<circle cx="476.1" cy="354.2" r="1.6" fill="#1010ff" fill-opacity="0.9"/>
<circle cx="444.5" cy="359.3" r="1.6" fill="#1010ff" fill-opacity="0.9"/>
<circle cx="400.4" cy="397.5" r="1.6" fill="#1010ff" fill-opacity="0.9"/>
<circle cx="415.2" cy="377.4" r="1.6" fill="#1010ff" fill-opacity="0.9"/>
<circle cx="402.5" cy="358.2" r="1.6" fill="#1010ff" fill-opacity="0.9"/>
<circle cx="414.5" cy="404.6" r="1.6" fill="#1010ff" fill-opacity="0.9"/>
<circle cx="416.6" cy="400.3" r="1.6" fill="#1010ff" fill-opacity="0.9"/>
<circle cx="378.4" cy="388.3" r="1.6" fill="#1010ff" fill-opacity="0.9"/>
<circle cx="441.3" cy="348.5" r="1.6" fill="#1010ff" fill-opacity="0.9"/>
<circle cx="407.5" cy="339.0" r="1.6" fill="#1010ff" fill-opacity="0.9"/>
<circle cx="398.9" cy="386.6" r="1.6" fill="#1010ff" fill-opacity="0.9"/>
<circle cx="438.4" cy="345.2" r="1.6" fill="#1010ff" fill-opacity="0.9"/>
<circle cx="477.7" cy="375.5" r="1.6" fill="#1010ff" fill-opacity="0.9"/>
<circle cx="432.8" cy="405.2" r="1.6" fill="#1010ff" fill-opacity="0.9"/>
<circle cx="469.6" cy="359.9" r="1.6" fill="#1010ff" fill-opacity="0.9"/>
<circle cx="425.1" cy="406.4" r="1.6" fill="#1010ff" fill-opacity="0.9"/>
<circle cx="436.2" cy="392.8" r="1.6" fill="#1010ff" fill-opacity="0.9"/>
<circle cx="383.2" cy="374.2" r="1.6" fill="#1010ff" fill-opacity="0.9"/>
<circle cx="424.5" cy="375.9" r="1.6" fill="#1010ff" fill-opacity="0.9"/>
<circle cx="423.9" cy="399.0" r="1.6" fill="#1010ff" fill-opacity="0.9"/>
<circle cx="447.3" cy="385.7" r="1.6" fill="#1010ff" fill-opacity="0.9"/>
<circle cx="393.8" cy="376.4" r="1.6" fill="#1010ff" fill-opacity="0.9"/>
<circle cx="387.0" cy="358.6" r="1.6" fill="#1010ff" fill-opacity="0.9"/>
<circle cx="375.7" cy="380.7" r="1.6" fill="#1010ff" fill-opacity="0.9"/>
<circle cx="414.5" cy="353.4" r="1.6" fill="#1010ff" fill-opacity="0.9"/>
<circle cx="409.8" cy="374.7" r="1.6" fill="#1010ff" fill-opacity="0.9"/>
<circle cx="388.7" cy="384.8" r="1.6" fill="#1010ff" fill-opacity="0.9"/>
<circle cx="416.3" cy="375.4" r="1.6" fill="#1010ff" fill-opacity="0.9"/>
<circle cx="447.2" cy="372.8" r="1.6" fill="#1010ff" fill-opacity="0.9"/>
<circle cx="387.5" cy="369.4" r="1.6" fill="#1010ff" fill-opacity="0.9"/>
<circle cx="402.8" cy="358.6" r="1.6" fill="#1010ff" fill-opacity="0.9"/>
<circle cx="408.4" cy="360.1" r="1.6" fill="#1010ff" fill-opacity="0.9"/>
<circle cx="419.5" cy="407.2" r="1.6" fill="#1010ff" fill-opacity="0.9"/>
<circle cx="418.1" cy="396.0" r="1.6" fill="#1010ff" fill-opacity="0.9"/>
<circle cx="417.0" cy="407.9" r="1.6" fill="#1010ff" fill-opacity="0.9"/>
<circle cx="466.1" cy="352.8" r="1.6" fill="#1010ff" fill-opacity="0.9"/>
<circle cx="418.3" cy="395.9" r="1.6" fill="#1010ff" fill-opacity="0.9"/>
<circle cx="431.5" cy="367.2" r="1.6" fill="#1010ff" fill-opacity="0.9"/>
<circle cx="462.9" cy="365.4" r="1.6" fill="#1010ff" fill-opacity="0.9"/>
<circle cx="482.8" cy="384.6" r="1.6" fill="#1010ff" fill-opacity="0.9"/>
<circle cx="483.4" cy="371.6" r="1.6" fill="#1010ff" fill-opacity="0.9"/>
<circle cx="485.6" cy="373.0" r="1.6" fill="#1010ff" fill-opacity="0.9"/>
<circle cx="413.1" cy="356.7" r="1.6" fill="#1010ff" fill-opacity="0.9"/>
<circle cx="420.5" cy="382.8" r="1.6" fill="#1010ff" fill-opacity="0.9"/>
<circle cx="390.2" cy="370.5" r="1.6" fill="#1010ff" fill-opacity="0.9"/>
<circle cx="473.7" cy="350.0" r="1.6" fill="#1010ff" fill-opacity="0.9"/>
<circle cx="482.9" cy="379.9" r="1.6" fill="#1010ff" fill-opacity="0.9"/>
<circle cx="468.0" cy="384.8" r="1.6" fill="#1010ff" fill-opacity="0.9"/>
<circle cx="453.9" cy="387.8" r="1.6" fill="#1010ff" fill-opacity="0.9"/>
<circle cx="459.6" cy="377.1" r="1.6" fill="#1010ff" fill-opacity="0.9"/>
<circle cx="407.1" cy="396.5" r="1.6" fill="#1010ff" fill-opacity="0.9"/>
<circle cx="402.5" cy="338.8" r="1.6" fill="#1010ff" fill-opacity="0.9"/>
<circle cx="403.1" cy="386.1" r="1.6" fill="#1010ff" fill-opacity="0.9"/>
<circle cx="406.9" cy="359.2" r="1.6" fill="#1010ff" fill-opacity="0.9"/>
<circle cx="389.1" cy="389.6" r="1.6" fill="#1010ff" fill-opacity="0.9"/>
<circle cx="473.7" cy="390.5" r="1.6" fill="#1010ff" fill-opacity="0.9"/>
<circle cx="471.5" cy="355.7" r="1.6" fill="#1010ff" fill-opacity="0.9"/>
<circle cx="422.8" cy="334.7" r="1.6" fill="#1010ff" fill-opacity="0.9"/>
<circle cx="473.7" cy="382.5" r="1.6" fill="#1010ff" fill-opacity="0.9"/>
<circle cx="430.9" cy="387.3" r="1.6" fill="#1010ff" fill-opacity="0.9"/>
<circle cx="404.4" cy="346.9" r="1.6" fill="#1010ff" fill-opacity="0.9"/>
<circle cx="467.9" cy="370.4" r="1.6" fill="#1010ff" fill-opacity="0.9"/>
<circle cx="419.7" cy="339.7" r="1.6" fill="#1010ff" fill-opacity="0.9"/>
<circle cx="404.4" cy="396.1" r="1.6" fill="#1010ff" fill-opacity="0.9"/>
<circle cx="420.1" cy="351.7" r="1.6" fill="#1010ff" fill-opacity="0.9"/>
<circle cx="427.2" cy="314.4" r="1.6" fill="#1010ff" fill-opacity="0.9"/>
<circle cx="383.6" cy="387.8" r="1.6" fill="#1010ff" fill-opacity="0.9"/>
<circle cx="458.5" cy="343.1" r="1.6" fill="#1010ff" fill-opacity="0.9"/>
<circle cx="434.5" cy="342.0" r="1.6" fill="#1010ff" fill-opacity="0.9"/>
<circle cx="486.4" cy="370.8" r="1.6" fill="#1010ff" fill-opacity="0.9"/>
<circle cx="381.2" cy="371.9" r="1.6" fill="#1010ff" fill-opacity="0.9"/>
<circle cx="417.9" cy="398.7" r="1.6" fill="#1010ff" fill-opacity="0.9"/>
<circle cx="424.6" cy="392.9" r="1.6" fill="#1010ff" fill-opacity="0.9"/>
<circle cx="435.6" cy="381.8" r="1.6" fill="#1010ff" fill-opacity="0.9"/>
<circle cx="394.4" cy="365.6" r="1.6" fill="#1010ff" fill-opacity="0.9"/>
<circle cx="436.5" cy="396.8" r="1.6" fill="#1010ff" fill-opacity="0.9"/>
<circle cx="398.1" cy="363.3" r="1.6" fill="#1010ff" fill-opacity="0.9"/>
<circle cx="386.4" cy="371.3" r="1.6" fill="#1010ff" fill-opacity="0.9"/>
<circle cx="441.9" cy="405.8" r="1.6" fill="#1010ff" fill-opacity="0.9"/>
<circle cx="383.1" cy="381.7" r="1.6" fill="#1010ff" fill-opacity="0.9"/>
<circle cx="432.0" cy="333.6" r="1.6" fill="#1010ff" fill-opacity="0.9"/>
<circle cx="447.5" cy="385.2" r="1.6" fill="#1010ff" fill-opacity="0.9"/>
<circle cx="443.6" cy="369.1" r="1.6" fill="#1010ff" fill-opacity="0.9"/>
<circle cx="385.4" cy="377.5" r="1.6" fill="#1010ff" fill-opacity="0.9"/>
<circle cx="391.2" cy="380.9" r="1.6" fill="#1010ff" fill-opacity="0.9"/>
<circle cx="459.7" cy="382.3" r="1.6" fill="#1010ff" fill-opacity="0.9"/>
<circle cx="444.4" cy="338.9" r="1.6" fill="#1010ff" fill-opacity="0.9"/>
<circle cx="423.8" cy="340.2" r="1.6" fill="#1010ff" fill-opacity="0.9"/>
<circle cx="414.6" cy="405.9" r="1.6" fill="#1010ff" fill-opacity="0.9"/>
<circle cx="477.5" cy="390.6" r="1.6" fill="#1010ff" fill-opacity="0.9"/>
<circle cx="407.7" cy="403.9" r="1.6" fill="#1010ff" fill-opacity="0.9"/>
<circle cx="411.5" cy="391.8" r="1.6" fill="#1010ff" fill-opacity="0.9"/>
<circle cx="449.5" cy="388.9" r="1.6" fill="#1010ff" fill-opacity="0.9"/>
<circle cx="461.6" cy="387.0" r="1.6" fill="#1010ff" fill-opacity="0.9"/>
<circle cx="430.3" cy="371.1" r="1.6" fill="#1010ff" fill-opacity="0.9"/>
<circle cx="407.3" cy="358.1" r="1.6" fill="#1010ff" fill-opacity="0.9"/>
<circle cx="436.4" cy="384.1" r="1.6" fill="#1010ff" fill-opacity="0.9"/>
<circle cx="408.1" cy="366.6" r="1.6" fill="#1010ff" fill-opacity="0.9"/>
<circle cx="384.2" cy="374.1" r="1.6" fill="#1010ff" fill-opacity="0.9"/>
<circle cx="393.7" cy="346.7" r="1.6" fill="#1010ff" fill-opacity="0.9"/>
<circle cx="373.0" cy="382.2" r="1.6" fill="#1010ff" fill-opacity="0.9"/>
<circle cx="441.5" cy="376.6" r="1.6" fill="#1010ff" fill-opacity="0.9"/>
<circle cx="430.1" cy="362.7" r="1.6" fill="#1010ff" fill-opacity="0.9"/>
<circle cx="407.7" cy="385.7" r="1.6" fill="#1010ff" fill-opacity="0.9"/>
<circle cx="395.7" cy="382.1" r="1.6" fill="#1010ff" fill-opacity="0.9"/>
<circle cx="381.6" cy="388.9" r="1.6" fill="#1010ff" fill-opacity="0.9"/>
<circle cx="391.5" cy="391.0" r="1.6" fill="#1010ff" fill-opacity="0.9"/>
<circle cx="436.6" cy="343.5" r="1.6" fill="#1010ff" fill-opacity="0.9"/>
<circle cx="409.5" cy="360.5" r="1.6" fill="#1010ff" fill-opacity="0.9"/>
<circle cx="404.7" cy="402.7" r="1.6" fill="#1010ff" fill-opacity="0.9"/>
<circle cx="384.3" cy="380.5" r="1.6" fill="#1010ff" fill-opacity="0.9"/>
<circle cx="430.1" cy="352.7" r="1.6" fill="#1010ff" fill-opacity="0.9"/>
<circle cx="398.1" cy="353.4" r="1.6" fill="#1010ff" fill-opacity="0.9"/>
<circle cx="436.2" cy="357.3" r="1.6" fill="#1010ff" fill-opacity="0.9"/>
<circle cx="380.5" cy="375.8" r="1.6" fill="#1010ff" fill-opacity="0.9"/>
<circle cx="386.8" cy="390.4" r="1.6" fill="#1010ff" fill-opacity="0.9"/>
<circle cx="399.4" cy="348.8" r="1.6" fill="#1010ff" fill-opacity="0.9"/>
<circle cx="418.2" cy="385.7" r="1.6" fill="#1010ff" fill-opacity="0.9"/>
<circle cx="477.2" cy="366.0" r="1.6" fill="#1010ff" fill-opacity="0.9"/>
<circle cx="472.7" cy="366.3" r="1.6" fill="#1010ff" fill-opacity="0.9"/>
<circle cx="389.7" cy="385.5" r="1.6" fill="#1010ff" fill-opacity="0.9"/>
<circle cx="414.0" cy="344.1" r="1.6" fill="#1010ff" fill-opacity="0.9"/>
<circle cx="471.6" cy="373.5" r="1.6" fill="#1010ff" fill-opacity="0.9"/>
<circle cx="420.5" cy="392.1" r="1.6" fill="#1010ff" fill-opacity="0.9"/>
<circle cx="425.3" cy="408.7" r="1.6" fill="#1010ff" fill-opacity="0.9"/>
<circle cx="473.7" cy="373.8" r="1.6" fill="#1010ff" fill-opacity="0.9"/>
<circle cx="418.3" cy="380.4" r="1.6" fill="#1010ff" fill-opacity="0.9"/>
<circle cx="464.6" cy="384.5" r="1.6" fill="#1010ff" fill-opacity="0.9"/>
<circle cx="440.7" cy="398.6" r="1.6" fill="#1010ff" fill-opacity="0.9"/>
<circle cx="462.6" cy="368.9" r="1.6" fill="#1010ff" fill-opacity="0.9"/>
<circle cx="436.3" cy="375.4" r="1.6" fill="#1010ff" fill-opacity="0.9"/>
<circle cx="458.0" cy="406.1" r="1.6" fill="#1010ff" fill-opacity="0.9"/>
<circle cx="441.1" cy="389.8" r="1.6" fill="#1010ff" fill-opacity="0.9"/>
<circle cx="478.1" cy="383.9" r="1.6" fill="#1010ff" fill-opacity="0.9"/>
<circle cx="460.9" cy="395.8" r="1.6" fill="#1010ff" fill-opacity="0.9"/>
<circle cx="424.2" cy="411.0" r="1.6" fill="#1010ff" fill-opacity="0.9"/>
<circle cx="483.2" cy="367.5" r="1.6" fill="#1010ff" fill-opacity="0.9"/>
<circle cx="381.7" cy="392.3" r="1.6" fill="#1010ff" fill-opacity="0.9"/>
<circle cx="423.2" cy="357.8" r="1.6" fill="#1010ff" fill-opacity="0.9"/>
<circle cx="430.1" cy="329.8" r="1.6" fill="#1010ff" fill-opacity="0.9"/>
<circle cx="432.1" cy="388.4" r="1.6" fill="#1010ff" fill-opacity="0.9"/>
<circle cx="433.1" cy="382.3" r="1.6" fill="#1010ff" fill-opacity="0.9"/>
<circle cx="427.2" cy="321.6" r="1.6" fill="#1010ff" fill-opacity="0.9"/>
<circle cx="405.0" cy="371.1" r="1.6" fill="#1010ff" fill-opacity="0.9"/>
<circle cx="453.2" cy="352.9" r="1.6" fill="#1010ff" fill-opacity="0.9"/>
<circle cx="481.8" cy="380.0" r="1.6" fill="#1010ff" fill-opacity="0.9"/>
<circle cx="429.7" cy="344.3" r="1.6" fill="#1010ff" fill-opacity="0.9"/>
<circle cx="395.9" cy="393.2" r="1.6" fill="#1010ff" fill-opacity="0.9"/>
<circle cx="438.5" cy="410.5" r="1.6" fill="#1010ff" fill-opacity="0.9"/>
<circle cx="445.8" cy="372.0" r="1.6" fill="#1010ff" fill-opacity="0.9"/>
<circle cx="425.4" cy="409.1" r="1.6" fill="#1010ff" fill-opacity="0.9"/>
<circle cx="440.5" cy="393.5" r="1.6" fill="#1010ff" fill-opacity="0.9"/>
<circle cx="397.0" cy="400.1" r="1.6" fill="#1010ff" fill-opacity="0.9"/>
<circle cx="439.6" cy="409.8" r="1.6" fill="#1010ff" fill-opacity="0.9"/>
<circle cx="472.0" cy="398.5" r="1.6" fill="#1010ff" fill-opacity="0.9"/>
<circle cx="455.4" cy="407.9" r="1.6" fill="#1010ff" fill-opacity="0.9"/>
<circle cx="389.6" cy="370.8" r="1.6" fill="#1010ff" fill-opacity="0.9"/>
<circle cx="460.2" cy="365.2" r="1.6" fill="#1010ff" fill-opacity="0.9"/>
<circle cx="418.9" cy="388.2" r="1.6" fill="#1010ff" fill-opacity="0.9"/>
<circle cx="467.0" cy="367.3" r="1.6" fill="#1010ff" fill-opacity="0.9"/>
<circle cx="432.5" cy="398.1" r="1.6" fill="#1010ff" fill-opacity="0.9"/>
<circle cx="469.1" cy="360.7" r="1.6" fill="#1010ff" fill-opacity="0.9"/>
<circle cx="381.5" cy="392.6" r="1.6" fill="#1010ff" fill-opacity="0.9"/>
<circle cx="394.3" cy="373.2" r="1.6" fill="#1010ff" fill-opacity="0.9"/>
<circle cx="443.4" cy="403.9" r="1.6" fill="#1010ff" fill-opacity="0.9"/>
<circle cx="440.4" cy="404.7" r="1.6" fill="#1010ff" fill-opacity="0.9"/>
<circle cx="435.0" cy="395.1" r="1.6" fill="#1010ff" fill-opacity="0.9"/>
<circle cx="426.9" cy="361.3" r="1.6" fill="#1010ff" fill-opacity="0.9"/>
<circle cx="454.4" cy="393.3" r="1.6" fill="#1010ff" fill-opacity="0.9"/>
<circle cx="442.4" cy="401.7" r="1.6" fill="#1010ff" fill-opacity="0.9"/>
<circle cx="375.0" cy="381.7" r="1.6" fill="#1010ff" fill-opacity="0.9"/>
<circle cx="412.2" cy="391.6" r="1.6" fill="#1010ff" fill-opacity="0.9"/>
<circle cx="376.0" cy="388.4" r="1.6" fill="#1010ff" fill-opacity="0.9"/>
<circle cx="384.6" cy="386.8" r="1.6" fill="#1010ff" fill-opacity="0.9"/>
<circle cx="412.8" cy="371.6" r="1.6" fill="#1010ff" fill-opacity="0.9"/>
<circle cx="412.4" cy="373.8" r="1.6" fill="#1010ff" fill-opacity="0.9"/>
<circle cx="469.2" cy="385.4" r="1.6" fill="#1010ff" fill-opacity="0.9"/>
<circle cx="404.8" cy="340.3" r="1.6" fill="#1010ff" fill-opacity="0.9"/>
<circle cx="435.9" cy="351.7" r="1.6" fill="#1010ff" fill-opacity="0.9"/>
<circle cx="373.9" cy="383.4" r="1.6" fill="#1010ff" fill-opacity="0.9"/>
<circle cx="386.6" cy="369.0" r="1.6" fill="#1010ff" fill-opacity="0.9"/>
<circle cx="414.8" cy="398.4" r="1.6" fill="#1010ff" fill-opacity="0.9"/>
<circle cx="447.7" cy="356.0" r="1.6" fill="#1010ff" fill-opacity="0.9"/>
<circle cx="431.3" cy="321.7" r="1.6" fill="#1010ff" fill-opacity="0.9"/>
<circle cx="449.4" cy="379.7" r="1.6" fill="#1010ff" fill-opacity="0.9"/>
<circle cx="388.0" cy="383.5" r="1.6" fill="#1010ff" fill-opacity="0.9"/>
<circle cx="481.4" cy="380.0" r="1.6" fill="#1010ff" fill-opacity="0.9"/>
<circle cx="415.7" cy="406.7" r="1.6" fill="#1010ff" fill-opacity="0.9"/>
<circle cx="424.6" cy="364.5" r="1.6" fill="#1010ff" fill-opacity="0.9"/>
<circle cx="424.7" cy="318.1" r="1.6" fill="#1010ff" fill-opacity="0.9"/>
<circle cx="432.6" cy="393.5" r="1.6" fill="#1010ff" fill-opacity="0.9"/>
<circle cx="457.3" cy="338.4" r="1.6" fill="#1010ff" fill-opacity="0.9"/>
<circle cx="438.8" cy="330.6" r="1.6" fill="#1010ff" fill-opacity="0.9"/>
<circle cx="396.8" cy="388.2" r="1.6" fill="#1010ff" fill-opacity="0.9"/>
<circle cx="437.1" cy="403.2" r="1.6" fill="#1010ff" fill-opacity="0.9"/>
<circle cx="421.3" cy="376.1" r="1.6" fill="#1010ff" fill-opacity="0.9"/>
<circle cx="437.5" cy="405.7" r="1.6" fill="#1010ff" fill-opacity="0.9"/>
<circle cx="430.1" cy="406.7" r="1.6" fill="#1010ff" fill-opacity="0.9"/>
<circle cx="391.1" cy="372.3" r="1.6" fill="#1010ff" fill-opacity="0.9"/>
<circle cx="423.0" cy="356.2" r="1.6" fill="#1010ff" fill-opacity="0.9"/>
<circle cx="409.0" cy="384.8" r="1.6" fill="#1010ff" fill-opacity="0.9"/>
<circle cx="410.6" cy="374.0" r="1.6" fill="#1010ff" fill-opacity="0.9"/>
<circle cx="472.0" cy="351.0" r="1.6" fill="#1010ff" fill-opacity="0.9"/>
<circle cx="481.7" cy="361.8" r="1.6" fill="#1010ff" fill-opacity="0.9"/>
<circle cx="385.7" cy="393.4" r="1.6" fill="#1010ff" fill-opacity="0.9"/>
<circle cx="434.2" cy="383.8" r="1.6" fill="#1010ff" fill-opacity="0.9"/>
<circle cx="422.3" cy="374.7" r="1.6" fill="#1010ff" fill-opacity="0.9"/>
<circle cx="439.1" cy="385.8" r="1.6" fill="#1010ff" fill-opacity="0.9"/>
<circle cx="392.3" cy="383.3" r="1.6" fill="#1010ff" fill-opacity="0.9"/>
<circle cx="427.3" cy="386.0" r="1.6" fill="#1010ff" fill-opacity="0.9"/>
<circle cx="473.7" cy="395.0" r="1.6" fill="#1010ff" fill-opacity="0.9"/>
<circle cx="412.0" cy="384.6" r="1.6" fill="#1010ff" fill-opacity="0.9"/>
<circle cx="447.2" cy="395.6" r="1.6" fill="#1010ff" fill-opacity="0.9"/>
<circle cx="442.9" cy="377.0" r="1.6" fill="#1010ff" fill-opacity="0.9"/>
<circle cx="397.7" cy="390.5" r="1.6" fill="#1010ff" fill-opacity="0.9"/>
<circle cx="446.6" cy="376.0" r="1.6" fill="#1010ff" fill-opacity="0.9"/>
<circle cx="425.7" cy="331.0" r="1.6" fill="#1010ff" fill-opacity="0.9"/>
<circle cx="391.3" cy="376.5" r="1.6" fill="#1010ff" fill-opacity="0.9"/>
<circle cx="471.7" cy="348.5" r="1.6" fill="#1010ff" fill-opacity="0.9"/>
<circle cx="459.6" cy="385.0" r="1.6" fill="#1010ff" fill-opacity="0.9"/>
<circle cx="436.6" cy="372.8" r="1.6" fill="#1010ff" fill-opacity="0.9"/>
<circle cx="389.0" cy="391.0" r="1.6" fill="#1010ff" fill-opacity="0.9"/>
<circle cx="415.9" cy="372.9" r="1.6" fill="#1010ff" fill-opacity="0.9"/>
<circle cx="440.4" cy="364.4" r="1.6" fill="#1010ff" fill-opacity="0.9"/>
<circle cx="382.6" cy="393.8" r="1.6" fill="#1010ff" fill-opacity="0.9"/>
<circle cx="436.4" cy="399.1" r="1.6" fill="#1010ff" fill-opacity="0.9"/>
<circle cx="467.1" cy="369.1" r="1.6" fill="#1010ff" fill-opacity="0.9"/>
<circle cx="442.6" cy="373.6" r="1.6" fill="#1010ff" fill-opacity="0.9"/>
<circle cx="444.5" cy="406.3" r="1.6" fill="#1010ff" fill-opacity="0.9"/>
<circle cx="457.6" cy="406.1" r="1.6" fill="#1010ff" fill-opacity="0.9"/>
<circle cx="427.7" cy="381.9" r="1.6" fill="#1010ff" fill-opacity="0.9"/>
<circle cx="427.6" cy="391.1" r="1.6" fill="#1010ff" fill-opacity="0.9"/>
<circle cx="403.5" cy="352.3" r="1.6" fill="#1010ff" fill-opacity="0.9"/>
<circle cx="477.4" cy="391.2" r="1.6" fill="#1010ff" fill-opacity="0.9"/>
<circle cx="417.3" cy="332.5" r="1.6" fill="#1010ff" fill-opacity="0.9"/>
<circle cx="417.3" cy="375.2" r="1.6" fill="#1010ff" fill-opacity="0.9"/>
<circle cx="398.2" cy="400.6" r="1.6" fill="#1010ff" fill-opacity="0.9"/>
<circle cx="414.6" cy="369.6" r="1.6" fill="#1010ff" fill-opacity="0.9"/>
<circle cx="457.0" cy="391.8" r="1.6" fill="#1010ff" fill-opacity="0.9"/>
<circle cx="426.3" cy="398.9" r="1.6" fill="#1010ff" fill-opacity="0.9"/>
<circle cx="414.1" cy="392.8" r="1.6" fill="#1010ff" fill-opacity="0.9"/>
<circle cx="422.3" cy="324.3" r="1.6" fill="#1010ff" fill-opacity="0.9"/>
<circle cx="433.0" cy="364.4" r="1.6" fill="#1010ff" fill-opacity="0.9"/>
<circle cx="470.7" cy="367.3" r="1.6" fill="#1010ff" fill-opacity="0.9"/>
<circle cx="423.6" cy="389.0" r="1.6" fill="#1010ff" fill-opacity="0.9"/>
<circle cx="429.7" cy="376.0" r="1.6" fill="#1010ff" fill-opacity="0.9"/>
<circle cx="371.2" cy="386.7" r="1.6" fill="#1010ff" fill-opacity="0.9"/>
<circle cx="425.2" cy="384.5" r="1.6" fill="#1010ff" fill-opacity="0.9"/>
<circle cx="419.7" cy="367.7" r="1.6" fill="#1010ff" fill-opacity="0.9"/>
<circle cx="407.6" cy="392.2" r="1.6" fill="#1010ff" fill-opacity="0.9"/>
<circle cx="426.9" cy="396.2" r="1.6" fill="#1010ff" fill-opacity="0.9"/>
<circle cx="460.8" cy="351.6" r="1.6" fill="#1010ff" fill-opacity="0.9"/>
<circle cx="434.1" cy="342.9" r="1.6" fill="#1010ff" fill-opacity="0.9"/>
<circle cx="418.3" cy="396.8" r="1.6" fill="#1010ff" fill-opacity="0.9"/>
<circle cx="427.1" cy="388.7" r="1.6" fill="#1010ff" fill-opacity="0.9"/>
<circle cx="389.2" cy="385.0" r="1.6" fill="#1010ff" fill-opacity="0.9"/>
<circle cx="411.5" cy="355.1" r="1.6" fill="#1010ff" fill-opacity="0.9"/>
<circle cx="450.5" cy="362.9" r="1.6" fill="#1010ff" fill-opacity="0.9"/>
<circle cx="467.6" cy="400.7" r="1.6" fill="#1010ff" fill-opacity="0.9"/>
<circle cx="431.3" cy="403.8" r="1.6" fill="#1010ff" fill-opacity="0.9"/>
<circle cx="398.1" cy="350.1" r="1.6" fill="#1010ff" fill-opacity="0.9"/>
<circle cx="416.3" cy="401.2" r="1.6" fill="#1010ff" fill-opacity="0.9"/>
<circle cx="457.2" cy="344.1" r="1.6" fill="#1010ff" fill-opacity="0.9"/>
<circle cx="417.8" cy="320.6" r="1.6" fill="#1010ff" fill-opacity="0.9"/>
<circle cx="416.8" cy="326.0" r="1.6" fill="#1010ff" fill-opacity="0.9"/>
<circle cx="423.3" cy="368.6" r="1.6" fill="#1010ff" fill-opacity="0.9"/>
<circle cx="389.5" cy="360.1" r="1.6" fill="#1010ff" fill-opacity="0.9"/>
<circle cx="429.7" cy="329.0" r="1.6" fill="#1010ff" fill-opacity="0.9"/>
<circle cx="409.5" cy="374.5" r="1.6" fill="#1010ff" fill-opacity="0.9"/>
<circle cx="417.5" cy="369.1" r="1.6" fill="#1010ff" fill-opacity="0.9"/>
<circle cx="435.7" cy="349.7" r="1.6" fill="#1010ff" fill-opacity="0.9"/>
<circle cx="398.5" cy="346.8" r="1.6" fill="#1010ff" fill-opacity="0.9"/>
<circle cx="416.9" cy="396.9" r="1.6" fill="#1010ff" fill-opacity="0.9"/>
<circle cx="386.3" cy="382.5" r="1.6" fill="#1010ff" fill-opacity="0.9"/>
<circle cx="438.8" cy="402.8" r="1.6" fill="#1010ff" fill-opacity="0.9"/>
<circle cx="462.4" cy="386.6" r="1.6" fill="#1010ff" fill-opacity="0.9"/>
<circle cx="437.4" cy="352.6" r="1.6" fill="#1010ff" fill-opacity="0.9"/>
<circle cx="450.3" cy="371.8" r="1.6" fill="#1010ff" fill-opacity="0.9"/>
<circle cx="397.6" cy="397.1" r="1.6" fill="#1010ff" fill-opacity="0.9"/>
<circle cx="419.0" cy="387.7" r="1.6" fill="#1010ff" fill-opacity="0.9"/>
<circle cx="456.7" cy="405.3" r="1.6" fill="#1010ff" fill-opacity="0.9"/>
<circle cx="441.7" cy="373.2" r="1.6" fill="#1010ff" fill-opacity="0.9"/>
<circle cx="394.8" cy="362.8" r="1.6" fill="#1010ff" fill-opacity="0.9"/>
<circle cx="390.8" cy="361.6" r="1.6" fill="#1010ff" fill-opacity="0.9"/>
<circle cx="402.6" cy="397.2" r="1.6" fill="#1010ff" fill-opacity="0.9"/>
<circle cx="412.4" cy="378.8" r="1.6" fill="#1010ff" fill-opacity="0.9"/>
<circle cx="447.1" cy="403.3" r="1.6" fill="#1010ff" fill-opacity="0.9"/>
<circle cx="404.8" cy="338.9" r="1.6" fill="#1010ff" fill-opacity="0.9"/>
<circle cx="441.5" cy="381.2" r="1.6" fill="#1010ff" fill-opacity="0.9"/>
<circle cx="381.8" cy="372.5" r="1.6" fill="#1010ff" fill-opacity="0.9"/>
<circle cx="401.1" cy="369.8" r="1.6" fill="#1010ff" fill-opacity="0.9"/>
<circle cx="470.8" cy="397.8" r="1.6" fill="#1010ff" fill-opacity="0.9"/>
<circle cx="437.5" cy="396.4" r="1.6" fill="#1010ff" fill-opacity="0.9"/>
<circle cx="422.8" cy="405.0" r="1.6" fill="#1010ff" fill-opacity="0.9"/>
<circle cx="405.1" cy="368.4" r="1.6" fill="#1010ff" fill-opacity="0.9"/>
<circle cx="374.6" cy="382.8" r="1.6" fill="#1010ff" fill-opacity="0.9"/>
<circle cx="447.4" cy="409.2" r="1.6" fill="#1010ff" fill-opacity="0.9"/>
<circle cx="457.1" cy="372.8" r="1.6" fill="#1010ff" fill-opacity="0.9"/>
<circle cx="454.2" cy="398.8" r="1.6" fill="#1010ff" fill-opacity="0.9"/>
<circle cx="414.8" cy="376.2" r="1.6" fill="#1010ff" fill-opacity="0.9"/>
<circle cx="429.9" cy="406.2" r="1.6" fill="#1010ff" fill-opacity="0.9"/>
<circle cx="438.8" cy="385.3" r="1.6" fill="#1010ff" fill-opacity="0.9"/>
<circle cx="386.0" cy="395.3" r="1.6" fill="#1010ff" fill-opacity="0.9"/>
<circle cx="435.2" cy="341.6" r="1.6" fill="#1010ff" fill-opacity="0.9"/>
<circle cx="465.5" cy="376.0" r="1.6" fill="#1010ff" fill-opacity="0.9"/>
<circle cx="459.1" cy="361.6" r="1.6" fill="#1010ff" fill-opacity="0.9"/>
<circle cx="478.0" cy="377.3" r="1.6" fill="#1010ff" fill-opacity="0.9"/>
<circle cx="450.3" cy="395.1" r="1.6" fill="#1010ff" fill-opacity="0.9"/>
<circle cx="387.3" cy="386.7" r="1.6" fill="#1010ff" fill-opacity="0.9"/>
<circle cx="425.9" cy="372.7" r="1.6" fill="#1010ff" fill-opacity="0.9"/>
<circle cx="401.6" cy="396.0" r="1.6" fill="#1010ff" fill-opacity="0.9"/>
<circle cx="376.4" cy="379.0" r="1.6" fill="#1010ff" fill-opacity="0.9"/>
<circle cx="402.7" cy="370.2" r="1.6" fill="#1010ff" fill-opacity="0.9"/>
<circle cx="418.5" cy="320.1" r="1.6" fill="#1010ff" fill-opacity="0.9"/>
<circle cx="431.2" cy="382.3" r="1.6" fill="#1010ff" fill-opacity="0.9"/>
<circle cx="425.3" cy="356.3" r="1.6" fill="#1010ff" fill-opacity="0.9"/>
<circle cx="430.0" cy="342.6" r="1.6" fill="#1010ff" fill-opacity="0.9"/>
<circle cx="439.5" cy="346.4" r="1.6" fill="#1010ff" fill-opacity="0.9"/>
<circle cx="402.0" cy="348.1" r="1.6" fill="#1010ff" fill-opacity="0.9"/>
<circle cx="415.3" cy="407.1" r="1.6" fill="#1010ff" fill-opacity="0.9"/>
<circle cx="381.7" cy="373.3" r="1.6" fill="#1010ff" fill-opacity="0.9"/>
<circle cx="447.9" cy="376.5" r="1.6" fill="#1010ff" fill-opacity="0.9"/>
<circle cx="402.3" cy="360.1" r="1.6" fill="#1010ff" fill-opacity="0.9"/>
<circle cx="446.5" cy="391.9" r="1.6" fill="#1010ff" fill-opacity="0.9"/>
<circle cx="419.4" cy="398.3" r="1.6" fill="#1010ff" fill-opacity="0.9"/>
<circle cx="401.6" cy="382.7" r="1.6" fill="#1010ff" fill-opacity="0.9"/>
<circle cx="387.6" cy="391.3" r="1.6" fill="#1010ff" fill-opacity="0.9"/>
<circle cx="407.5" cy="394.3" r="1.6" fill="#1010ff" fill-opacity="0.9"/>
<circle cx="403.8" cy="340.0" r="1.6" fill="#1010ff" fill-opacity="0.9"/>
<circle cx="450.5" cy="383.1" r="1.6" fill="#1010ff" fill-opacity="0.9"/>
<circle cx="435.6" cy="372.1" r="1.6" fill="#1010ff" fill-opacity="0.9"/>
<circle cx="416.5" cy="384.0" r="1.6" fill="#1010ff" fill-opacity="0.9"/>
<circle cx="425.6" cy="398.6" r="1.6" fill="#1010ff" fill-opacity="0.9"/>
<circle cx="383.7" cy="383.9" r="1.6" fill="#1010ff" fill-opacity="0.9"/>
<circle cx="413.4" cy="374.5" r="1.6" fill="#1010ff" fill-opacity="0.9"/>
<circle cx="418.5" cy="341.2" r="1.6" fill="#1010ff" fill-opacity="0.9"/>
<circle cx="411.4" cy="392.3" r="1.6" fill="#1010ff" fill-opacity="0.9"/>
<circle cx="419.0" cy="407.3" r="1.6" fill="#1010ff" fill-opacity="0.9"/>
<circle cx="400.9" cy="377.4" r="1.6" fill="#1010ff" fill-opacity="0.9"/>
<circle cx="472.7" cy="377.4" r="1.6" fill="#1010ff" fill-opacity="0.9"/>
<circle cx="416.0" cy="377.5" r="1.6" fill="#1010ff" fill-opacity="0.9"/>
<circle cx="448.6" cy="382.2" r="1.6" fill="#1010ff" fill-opacity="0.9"/>
<circle cx="454.4" cy="380.5" r="1.6" fill="#1010ff" fill-opacity="0.9"/>
<circle cx="425.3" cy="386.4" r="1.6" fill="#1010ff" fill-opacity="0.9"/>
<circle cx="396.6" cy="371.0" r="1.6" fill="#1010ff" fill-opacity="0.9"/>
<circle cx="390.2" cy="351.3" r="1.6" fill="#1010ff" fill-opacity="0.9"/>
<circle cx="411.2" cy="401.4" r="1.6" fill="#1010ff" fill-opacity="0.9"/>
<circle cx="416.8" cy="366.4" r="1.6" fill="#1010ff" fill-opacity="0.9"/>
<circle cx="402.8" cy="388.3" r="1.6" fill="#1010ff" fill-opacity="0.9"/>
<circle cx="452.2" cy="396.8" r="1.6" fill="#1010ff" fill-opacity="0.9"/>
<circle cx="477.5" cy="383.7" r="1.6" fill="#1010ff" fill-opacity="0.9"/>
<circle cx="479.7" cy="383.0" r="1.6" fill="#1010ff" fill-opacity="0.9"/>
<circle cx="423.1" cy="369.0" r="1.6" fill="#1010ff" fill-opacity="0.9"/>
<circle cx="413.8" cy="374.6" r="1.6" fill="#1010ff" fill-opacity="0.9"/>
<circle cx="447.4" cy="344.2" r="1.6" fill="#1010ff" fill-opacity="0.9"/>
<circle cx="406.1" cy="360.5" r="1.6" fill="#1010ff" fill-opacity="0.9"/>
<circle cx="455.8" cy="355.5" r="1.6" fill="#1010ff" fill-opacity="0.9"/>
<circle cx="428.2" cy="403.8" r="1.6" fill="#1010ff" fill-opacity="0.9"/>
<circle cx="380.8" cy="364.1" r="1.6" fill="#1010ff" fill-opacity="0.9"/>
<circle cx="421.3" cy="406.2" r="1.6" fill="#1010ff" fill-opacity="0.9"/>
<circle cx="435.1" cy="348.9" r="1.6" fill="#1010ff" fill-opacity="0.9"/>
<circle cx="416.0" cy="342.4" r="1.6" fill="#1010ff" fill-opacity="0.9"/>
<circle cx="458.5" cy="404.3" r="1.6" fill="#1010ff" fill-opacity="0.9"/>
<circle cx="431.8" cy="320.7" r="1.6" fill="#1010ff" fill-opacity="0.9"/>
<circle cx="432.3" cy="404.7" r="1.6" fill="#1010ff" fill-opacity="0.9"/>
<circle cx="410.6" cy="384.2" r="1.6" fill="#1010ff" fill-opacity="0.9"/>
<circle cx="413.4" cy="349.6" r="1.6" fill="#1010ff" fill-opacity="0.9"/>
<circle cx="479.5" cy="387.3" r="1.6" fill="#1010ff" fill-opacity="0.9"/>
<circle cx="402.1" cy="403.5" r="1.6" fill="#1010ff" fill-opacity="0.9"/>
<circle cx="427.8" cy="360.6" r="1.6" fill="#1010ff" fill-opacity="0.9"/>
<circle cx="399.9" cy="364.3" r="1.6" fill="#1010ff" fill-opacity="0.9"/>
<circle cx="425.0" cy="356.3" r="1.6" fill="#1010ff" fill-opacity="0.9"/>
<circle cx="432.3" cy="396.9" r="1.6" fill="#1010ff" fill-opacity="0.9"/>
<circle cx="427.1" cy="396.9" r="1.6" fill="#1010ff" fill-opacity="0.9"/>
<circle cx="446.0" cy="374.4" r="1.6" fill="#1010ff" fill-opacity="0.9"/>
<circle cx="435.4" cy="396.7" r="1.6" fill="#1010ff" fill-opacity="0.9"/>
<circle cx="470.7" cy="398.1" r="1.6" fill="#1010ff" fill-opacity="0.9"/>
<circle cx="393.8" cy="383.7" r="1.6" fill="#1010ff" fill-opacity="0.9"/>
<circle cx="417.0" cy="401.1" r="1.6" fill="#1010ff" fill-opacity="0.9"/>
<circle cx="395.4" cy="376.4" r="1.6" fill="#1010ff" fill-opacity="0.9"/>
<circle cx="423.1" cy="410.3" r="1.6" fill="#1010ff" fill-opacity="0.9"/>
<circle cx="418.3" cy="329.8" r="1.6" fill="#1010ff" fill-opacity="0.9"/>
<circle cx="372.9" cy="383.4" r="1.6" fill="#1010ff" fill-opacity="0.9"/>
<circle cx="435.7" cy="410.7" r="1.6" fill="#1010ff" fill-opacity="0.9"/>
<circle cx="403.2" cy="338.8" r="1.6" fill="#1010ff" fill-opacity="0.9"/>
<circle cx="436.2" cy="368.9" r="1.6" fill="#1010ff" fill-opacity="0.9"/>
<circle cx="431.1" cy="374.4" r="1.6" fill="#1010ff" fill-opacity="0.9"/>
<circle cx="397.3" cy="373.9" r="1.6" fill="#1010ff" fill-opacity="0.9"/>
<circle cx="389.0" cy="375.7" r="1.6" fill="#1010ff" fill-opacity="0.9"/>
<circle cx="450.0" cy="399.9" r="1.6" fill="#1010ff" fill-opacity="0.9"/>
<circle cx="438.8" cy="350.0" r="1.6" fill="#1010ff" fill-opacity="0.9"/>
<circle cx="469.3" cy="383.9" r="1.6" fill="#1010ff" fill-opacity="0.9"/>
<circle cx="439.5" cy="404.0" r="1.6" fill="#1010ff" fill-opacity="0.9"/>
<circle cx="477.1" cy="393.9" r="1.6" fill="#1010ff" fill-opacity="0.9"/>
<circle cx="450.7" cy="369.5" r="1.6" fill="#1010ff" fill-opacity="0.9"/>
<circle cx="402.0" cy="378.8" r="1.6" fill="#1010ff" fill-opacity="0.9"/>
<circle cx="477.8" cy="393.2" r="1.6" fill="#1010ff" fill-opacity="0.9"/>
<circle cx="444.7" cy="407.3" r="1.6" fill="#1010ff" fill-opacity="0.9"/>
<circle cx="478.4" cy="357.2" r="1.6" fill="#1010ff" fill-opacity="0.9"/>
<circle cx="452.3" cy="377.0" r="1.6" fill="#1010ff" fill-opacity="0.9"/>
<circle cx="417.5" cy="351.6" r="1.6" fill="#1010ff" fill-opacity="0.9"/>
<circle cx="428.4" cy="382.9" r="1.6" fill="#1010ff" fill-opacity="0.9"/>
<circle cx="460.1" cy="375.9" r="1.6" fill="#1010ff" fill-opacity="0.9"/>
<circle cx="398.6" cy="380.7" r="1.6" fill="#1010ff" fill-opacity="0.9"/>
<circle cx="420.6" cy="325.0" r="1.6" fill="#1010ff" fill-opacity="0.9"/>
<circle cx="466.2" cy="401.4" r="1.6" fill="#1010ff" fill-opacity="0.9"/>
<circle cx="430.1" cy="350.9" r="1.6" fill="#1010ff" fill-opacity="0.9"/>
<circle cx="417.3" cy="401.5" r="1.6" fill="#1010ff" fill-opacity="0.9"/>
<circle cx="425.3" cy="410.7" r="1.6" fill="#1010ff" fill-opacity="0.9"/>
<circle cx="431.5" cy="320.5" r="1.6" fill="#1010ff" fill-opacity="0.9"/>
<circle cx="423.6" cy="376.9" r="1.6" fill="#1010ff" fill-opacity="0.9"/>
<circle cx="413.7" cy="377.8" r="1.6" fill="#1010ff" fill-opacity="0.9"/>
<circle cx="454.3" cy="388.9" r="1.6" fill="#1010ff" fill-opacity="0.9"/>
<circle cx="414.2" cy="374.3" r="1.6" fill="#1010ff" fill-opacity="0.9"/>
<circle cx="423.2" cy="385.1" r="1.6" fill="#1010ff" fill-opacity="0.9"/>
<circle cx="417.6" cy="391.4" r="1.6" fill="#1010ff" fill-opacity="0.9"/>
<circle cx="441.8" cy="344.1" r="1.6" fill="#1010ff" fill-opacity="0.9"/>
<circle cx="460.1" cy="394.8" r="1.6" fill="#1010ff" fill-opacity="0.9"/>
<circle cx="453.9" cy="377.1" r="1.6" fill="#1010ff" fill-opacity="0.9"/>
<circle cx="391.9" cy="369.7" r="1.6" fill="#1010ff" fill-opacity="0.9"/>
<circle cx="394.0" cy="389.5" r="1.6" fill="#1010ff" fill-opacity="0.9"/>
<circle cx="396.6" cy="396.6" r="1.6" fill="#1010ff" fill-opacity="0.9"/>
<circle cx="423.8" cy="399.2" r="1.6" fill="#1010ff" fill-opacity="0.9"/>
<circle cx="418.8" cy="393.6" r="1.6" fill="#1010ff" fill-opacity="0.9"/>
<circle cx="448.2" cy="384.6" r="1.6" fill="#1010ff" fill-opacity="0.9"/>
<circle cx="429.9" cy="399.8" r="1.6" fill="#1010ff" fill-opacity="0.9"/>
<circle cx="441.4" cy="372.9" r="1.6" fill="#1010ff" fill-opacity="0.9"/>
<circle cx="381.1" cy="378.0" r="1.6" fill="#1010ff" fill-opacity="0.9"/>
<circle cx="381.5" cy="377.1" r="1.6" fill="#1010ff" fill-opacity="0.9"/>
<circle cx="468.0" cy="393.8" r="1.6" fill="#1010ff" fill-opacity="0.9"/>
<circle cx="421.8" cy="410.8" r="1.6" fill="#1010ff" fill-opacity="0.9"/>
<circle cx="425.4" cy="372.7" r="1.6" fill="#1010ff" fill-opacity="0.9"/>
<circle cx="381.7" cy="391.4" r="1.6" fill="#1010ff" fill-opacity="0.9"/>
<circle cx="424.9" cy="408.4" r="1.6" fill="#1010ff" fill-opacity="0.9"/>
<circle cx="426.9" cy="366.4" r="1.6" fill="#1010ff" fill-opacity="0.9"/>
<circle cx="432.2" cy="401.9" r="1.6" fill="#1010ff" fill-opacity="0.9"/>
<circle cx="435.2" cy="384.7" r="1.6" fill="#1010ff" fill-opacity="0.9"/>
<circle cx="439.9" cy="385.7" r="1.6" fill="#1010ff" fill-opacity="0.9"/>
<circle cx="443.4" cy="408.2" r="1.6" fill="#1010ff" fill-opacity="0.9"/>
<circle cx="378.5" cy="363.2" r="1.6" fill="#1010ff" fill-opacity="0.9"/>
<circle cx="418.8" cy="398.2" r="1.6" fill="#1010ff" fill-opacity="0.9"/>
<circle cx="442.3" cy="384.6" r="1.6" fill="#1010ff" fill-opacity="0.9"/>
<circle cx="426.1" cy="387.9" r="1.6" fill="#1010ff" fill-opacity="0.9"/>
<circle cx="448.8" cy="341.9" r="1.6" fill="#1010ff" fill-opacity="0.9"/>
<circle cx="413.6" cy="389.3" r="1.6" fill="#1010ff" fill-opacity="0.9"/>
<circle cx="447.8" cy="405.8" r="1.6" fill="#1010ff" fill-opacity="0.9"/>
<circle cx="448.1" cy="342.4" r="1.6" fill="#1010ff" fill-opacity="0.9"/>
<circle cx="428.2" cy="410.2" r="1.6" fill="#1010ff" fill-opacity="0.9"/>
<circle cx="444.5" cy="365.3" r="1.6" fill="#1010ff" fill-opacity="0.9"/>
<circle cx="403.3" cy="367.7" r="1.6" fill="#1010ff" fill-opacity="0.9"/>
<circle cx="428.2" cy="396.2" r="1.6" fill="#1010ff" fill-opacity="0.9"/>
<circle cx="396.4" cy="397.3" r="1.6" fill="#1010ff" fill-opacity="0.9"/>
<circle cx="457.8" cy="405.7" r="1.6" fill="#1010ff" fill-opacity="0.9"/>
<circle cx="447.8" cy="368.4" r="1.6" fill="#1010ff" fill-opacity="0.9"/>
<circle cx="430.0" cy="319.5" r="1.6" fill="#1010ff" fill-opacity="0.9"/>
<circle cx="392.7" cy="391.5" r="1.6" fill="#1010ff" fill-opacity="0.9"/>
<circle cx="422.7" cy="410.9" r="1.6" fill="#1010ff" fill-opacity="0.9"/>
<circle cx="433.9" cy="402.4" r="1.6" fill="#1010ff" fill-opacity="0.9"/>
<circle cx="457.9" cy="384.8" r="1.6" fill="#1010ff" fill-opacity="0.9"/>
<circle cx="437.6" cy="408.4" r="1.6" fill="#1010ff" fill-opacity="0.9"/>
<circle cx="389.1" cy="387.8" r="1.6" fill="#1010ff" fill-opacity="0.9"/>
<circle cx="449.5" cy="368.7" r="1.6" fill="#1010ff" fill-opacity="0.9"/>
<circle cx="389.5" cy="351.4" r="1.6" fill="#1010ff" fill-opacity="0.9"/>
<circle cx="460.2" cy="359.1" r="1.6" fill="#1010ff" fill-opacity="0.9"/>
<circle cx="431.1" cy="363.3" r="1.6" fill="#1010ff" fill-opacity="0.9"/>
<circle cx="436.1" cy="381.5" r="1.6" fill="#1010ff" fill-opacity="0.9"/>
<circle cx="419.2" cy="392.1" r="1.6" fill="#1010ff" fill-opacity="0.9"/>
<circle cx="415.3" cy="388.8" r="1.6" fill="#1010ff" fill-opacity="0.9"/>
<circle cx="423.9" cy="387.1" r="1.6" fill="#1010ff" fill-opacity="0.9"/>
<circle cx="409.3" cy="380.4" r="1.6" fill="#1010ff" fill-opacity="0.9"/>
<circle cx="426.3" cy="388.5" r="1.6" fill="#1010ff" fill-opacity="0.9"/>
<circle cx="393.4" cy="372.3" r="1.6" fill="#1010ff" fill-opacity="0.9"/>
<circle cx="476.0" cy="377.0" r="1.6" fill="#1010ff" fill-opacity="0.9"/>
<circle cx="399.4" cy="398.0" r="1.6" fill="#1010ff" fill-opacity="0.9"/>
<circle cx="439.9" cy="384.6" r="1.6" fill="#1010ff" fill-opacity="0.9"/>
<circle cx="437.0" cy="345.9" r="1.6" fill="#1010ff" fill-opacity="0.9"/>
<circle cx="374.0" cy="375.6" r="1.6" fill="#1010ff" fill-opacity="0.9"/>
<circle cx="393.3" cy="359.9" r="1.6" fill="#1010ff" fill-opacity="0.9"/>
<circle cx="435.7" cy="409.0" r="1.6" fill="#1010ff" fill-opacity="0.9"/>
<circle cx="459.9" cy="385.3" r="1.6" fill="#1010ff" fill-opacity="0.9"/>
<circle cx="480.5" cy="364.0" r="1.6" fill="#1010ff" fill-opacity="0.9"/>
<circle cx="405.9" cy="351.2" r="1.6" fill="#1010ff" fill-opacity="0.9"/>
<circle cx="395.7" cy="362.1" r="1.6" fill="#1010ff" fill-opacity="0.9"/>
<circle cx="378.7" cy="365.8" r="1.6" fill="#1010ff" fill-opacity="0.9"/>
<circle cx="445.0" cy="366.0" r="1.6" fill="#1010ff" fill-opacity="0.9"/>
<circle cx="478.7" cy="387.9" r="1.6" fill="#1010ff" fill-opacity="0.9"/>
<circle cx="457.2" cy="384.3" r="1.6" fill="#1010ff" fill-opacity="0.9"/>
<circle cx="416.5" cy="408.3" r="1.6" fill="#1010ff" fill-opacity="0.9"/>
<circle cx="450.8" cy="387.6" r="1.6" fill="#1010ff" fill-opacity="0.9"/>
<circle cx="416.9" cy="336.7" r="1.6" fill="#1010ff" fill-opacity="0.9"/>
<circle cx="405.9" cy="339.2" r="1.6" fill="#1010ff" fill-opacity="0.9"/>
<circle cx="399.9" cy="385.5" r="1.6" fill="#1010ff" fill-opacity="0.9"/>
<circle cx="428.3" cy="394.8" r="1.6" fill="#1010ff" fill-opacity="0.9"/>
<circle cx="392.0" cy="387.9" r="1.6" fill="#1010ff" fill-opacity="0.9"/>
<circle cx="393.2" cy="356.5" r="1.6" fill="#1010ff" fill-opacity="0.9"/>
<circle cx="484.1" cy="367.3" r="1.6" fill="#1010ff" fill-opacity="0.9"/>
<circle cx="396.5" cy="374.9" r="1.6" fill="#1010ff" fill-opacity="0.9"/>
<circle cx="413.4" cy="400.6" r="1.6" fill="#1010ff" fill-opacity="0.9"/>
<circle cx="473.8" cy="370.1" r="1.6" fill="#1010ff" fill-opacity="0.9"/>
<circle cx="409.5" cy="362.7" r="1.6" fill="#1010ff" fill-opacity="0.9"/>
<circle cx="426.8" cy="391.9" r="1.6" fill="#1010ff" fill-opacity="0.9"/>
<circle cx="404.2" cy="350.9" r="1.6" fill="#1010ff" fill-opacity="0.9"/>
<circle cx="411.8" cy="358.3" r="1.6" fill="#1010ff" fill-opacity="0.9"/>
<circle cx="437.6" cy="371.0" r="1.6" fill="#1010ff" fill-opacity="0.9"/>
<circle cx="428.6" cy="375.7" r="1.6" fill="#1010ff" fill-opacity="0.9"/>
<circle cx="400.6" cy="391.7" r="1.6" fill="#1010ff" fill-opacity="0.9"/>
<circle cx="423.4" cy="342.9" r="1.6" fill="#1010ff" fill-opacity="0.9"/>
<circle cx="406.9" cy="348.7" r="1.6" fill="#1010ff" fill-opacity="0.9"/>
<circle cx="377.9" cy="389.6" r="1.6" fill="#1010ff" fill-opacity="0.9"/>
<circle cx="437.6" cy="409.1" r="1.6" fill="#1010ff" fill-opacity="0.9"/>
<circle cx="473.1" cy="360.6" r="1.6" fill="#1010ff" fill-opacity="0.9"/>
<circle cx="396.5" cy="358.8" r="1.6" fill="#1010ff" fill-opacity="0.9"/>
<circle cx="423.0" cy="389.0" r="1.6" fill="#1010ff" fill-opacity="0.9"/>
<circle cx="428.1" cy="405.9" r="1.6" fill="#1010ff" fill-opacity="0.9"/>
<circle cx="395.7" cy="400.4" r="1.6" fill="#1010ff" fill-opacity="0.9"/>
<circle cx="431.1" cy="386.1" r="1.6" fill="#1010ff" fill-opacity="0.9"/>
<circle cx="423.8" cy="369.2" r="1.6" fill="#1010ff" fill-opacity="0.9"/>
<circle cx="379.1" cy="379.1" r="1.6" fill="#1010ff" fill-opacity="0.9"/>
<circle cx="398.6" cy="370.0" r="1.6" fill="#1010ff" fill-opacity="0.9"/>
<circle cx="431.8" cy="407.0" r="1.6" fill="#1010ff" fill-opacity="0.9"/>
<circle cx="411.2" cy="387.5" r="1.6" fill="#1010ff" fill-opacity="0.9"/>
<circle cx="379.0" cy="364.6" r="1.6" fill="#1010ff" fill-opacity="0.9"/>
<circle cx="451.8" cy="383.0" r="1.6" fill="#1010ff" fill-opacity="0.9"/>
<circle cx="406.4" cy="386.7" r="1.6" fill="#1010ff" fill-opacity="0.9"/>
<circle cx="410.0" cy="362.6" r="1.6" fill="#1010ff" fill-opacity="0.9"/>
<circle cx="403.9" cy="376.3" r="1.6" fill="#1010ff" fill-opacity="0.9"/>
<circle cx="435.1" cy="408.8" r="1.6" fill="#1010ff" fill-opacity="0.9"/>
<circle cx="415.4" cy="385.8" r="1.6" fill="#1010ff" fill-opacity="0.9"/>
<circle cx="424.0" cy="376.8" r="1.6" fill="#1010ff" fill-opacity="0.9"/>
<circle cx="434.9" cy="401.7" r="1.6" fill="#1010ff" fill-opacity="0.9"/>
<circle cx="457.4" cy="376.7" r="1.6" fill="#1010ff" fill-opacity="0.9"/>
<circle cx="415.3" cy="381.6" r="1.6" fill="#1010ff" fill-opacity="0.9"/>
<circle cx="419.8" cy="382.3" r="1.6" fill="#1010ff" fill-opacity="0.9"/>
<circle cx="397.4" cy="352.4" r="1.6" fill="#1010ff" fill-opacity="0.9"/>
<circle cx="420.0" cy="373.4" r="1.6" fill="#1010ff" fill-opacity="0.9"/>
<circle cx="412.7" cy="402.9" r="1.6" fill="#1010ff" fill-opacity="0.9"/>
<circle cx="449.4" cy="388.0" r="1.6" fill="#1010ff" fill-opacity="0.9"/>
<circle cx="380.0" cy="383.8" r="1.6" fill="#1010ff" fill-opacity="0.9"/>
<circle cx="427.0" cy="396.4" r="1.6" fill="#1010ff" fill-opacity="0.9"/>
<circle cx="455.9" cy="389.4" r="1.6" fill="#1010ff" fill-opacity="0.9"/>
<circle cx="388.9" cy="379.4" r="1.6" fill="#1010ff" fill-opacity="0.9"/>
<circle cx="407.0" cy="397.2" r="1.6" fill="#1010ff" fill-opacity="0.9"/>
<circle cx="392.0" cy="388.7" r="1.6" fill="#1010ff" fill-opacity="0.9"/>
<circle cx="408.9" cy="388.0" r="1.6" fill="#1010ff" fill-opacity="0.9"/>
<circle cx="445.1" cy="395.8" r="1.6" fill="#1010ff" fill-opacity="0.9"/>
<circle cx="476.2" cy="386.0" r="1.6" fill="#1010ff" fill-opacity="0.9"/>
<circle cx="483.1" cy="368.8" r="1.6" fill="#1010ff" fill-opacity="0.9"/>
<circle cx="394.8" cy="396.6" r="1.6" fill="#1010ff" fill-opacity="0.9"/>
<circle cx="415.9" cy="349.4" r="1.6" fill="#1010ff" fill-opacity="0.9"/>
<circle cx="400.9" cy="394.5" r="1.6" fill="#1010ff" fill-opacity="0.9"/>
<circle cx="480.6" cy="371.1" r="1.6" fill="#1010ff" fill-opacity="0.9"/>
<circle cx="398.1" cy="353.8" r="1.6" fill="#1010ff" fill-opacity="0.9"/>
<circle cx="383.6" cy="384.7" r="1.6" fill="#1010ff" fill-opacity="0.9"/>
<circle cx="420.0" cy="338.1" r="1.6" fill="#1010ff" fill-opacity="0.9"/>
<circle cx="414.6" cy="370.6" r="1.6" fill="#1010ff" fill-opacity="0.9"/>
<circle cx="384.1" cy="367.4" r="1.6" fill="#1010ff" fill-opacity="0.9"/>
<circle cx="403.3" cy="380.0" r="1.6" fill="#1010ff" fill-opacity="0.9"/>
<circle cx="472.1" cy="399.2" r="1.6" fill="#1010ff" fill-opacity="0.9"/>
<circle cx="415.0" cy="387.9" r="1.6" fill="#1010ff" fill-opacity="0.9"/>
<circle cx="431.6" cy="320.3" r="1.6" fill="#1010ff" fill-opacity="0.9"/>
<circle cx="412.8" cy="355.0" r="1.6" fill="#1010ff" fill-opacity="0.9"/>
<circle cx="418.8" cy="397.3" r="1.6" fill="#1010ff" fill-opacity="0.9"/>
<circle cx="462.8" cy="389.7" r="1.6" fill="#1010ff" fill-opacity="0.9"/>
<circle cx="472.2" cy="351.6" r="1.6" fill="#1010ff" fill-opacity="0.9"/>
<circle cx="409.7" cy="402.4" r="1.6" fill="#1010ff" fill-opacity="0.9"/>
<circle cx="441.2" cy="349.5" r="1.6" fill="#1010ff" fill-opacity="0.9"/>
<circle cx="394.3" cy="375.4" r="1.6" fill="#1010ff" fill-opacity="0.9"/>
<circle cx="433.0" cy="359.6" r="1.6" fill="#1010ff" fill-opacity="0.9"/>
<circle cx="466.0" cy="392.9" r="1.6" fill="#1010ff" fill-opacity="0.9"/>
<circle cx="443.1" cy="400.2" r="1.6" fill="#1010ff" fill-opacity="0.9"/>
<circle cx="420.8" cy="395.3" r="1.6" fill="#1010ff" fill-opacity="0.9"/>
<circle cx="456.9" cy="374.5" r="1.6" fill="#1010ff" fill-opacity="0.9"/>
<circle cx="423.6" cy="355.9" r="1.6" fill="#1010ff" fill-opacity="0.9"/>
<circle cx="401.5" cy="362.0" r="1.6" fill="#1010ff" fill-opacity="0.9"/>
<circle cx="440.9" cy="411.2" r="1.6" fill="#1010ff" fill-opacity="0.9"/>
<circle cx="414.8" cy="342.8" r="1.6" fill="#1010ff" fill-opacity="0.9"/>
<circle cx="408.4" cy="384.7" r="1.6" fill="#1010ff" fill-opacity="0.9"/>
<circle cx="379.9" cy="384.9" r="1.6" fill="#1010ff" fill-opacity="0.9"/>
<circle cx="413.1" cy="372.3" r="1.6" fill="#1010ff" fill-opacity="0.9"/>
<circle cx="449.7" cy="331.0" r="1.6" fill="#1010ff" fill-opacity="0.9"/>
<circle cx="386.3" cy="375.7" r="1.6" fill="#1010ff" fill-opacity="0.9"/>
<circle cx="477.2" cy="381.9" r="1.6" fill="#1010ff" fill-opacity="0.9"/>
<circle cx="402.4" cy="369.1" r="1.6" fill="#1010ff" fill-opacity="0.9"/>
<circle cx="481.4" cy="371.4" r="1.6" fill="#1010ff" fill-opacity="0.9"/>
<circle cx="439.9" cy="347.2" r="1.6" fill="#1010ff" fill-opacity="0.9"/>
<circle cx="457.2" cy="400.8" r="1.6" fill="#1010ff" fill-opacity="0.9"/>
<circle cx="437.0" cy="409.1" r="1.6" fill="#1010ff" fill-opacity="0.9"/>
<circle cx="430.5" cy="372.8" r="1.6" fill="#1010ff" fill-opacity="0.9"/>
<circle cx="427.0" cy="404.4" r="1.6" fill="#1010ff" fill-opacity="0.9"/>
<circle cx="435.6" cy="401.2" r="1.6" fill="#1010ff" fill-opacity="0.9"/>
<circle cx="437.6" cy="378.3" r="1.6" fill="#1010ff" fill-opacity="0.9"/>
<circle cx="380.9" cy="371.1" r="1.6" fill="#1010ff" fill-opacity="0.9"/>
<circle cx="425.0" cy="393.1" r="1.6" fill="#1010ff" fill-opacity="0.9"/>
<circle cx="453.6" cy="394.9" r="1.6" fill="#1010ff" fill-opacity="0.9"/>
<circle cx="404.5" cy="375.1" r="1.6" fill="#1010ff" fill-opacity="0.9"/>
<circle cx="442.3" cy="400.4" r="1.6" fill="#1010ff" fill-opacity="0.9"/>
<circle cx="405.2" cy="399.4" r="1.6" fill="#1010ff" fill-opacity="0.9"/>
<circle cx="391.5" cy="349.7" r="1.6" fill="#1010ff" fill-opacity="0.9"/>
<circle cx="416.6" cy="374.1" r="1.6" fill="#1010ff" fill-opacity="0.9"/>
<circle cx="386.4" cy="385.0" r="1.6" fill="#1010ff" fill-opacity="0.9"/>
<circle cx="394.4" cy="371.7" r="1.6" fill="#1010ff" fill-opacity="0.9"/>
<circle cx="406.3" cy="369.0" r="1.6" fill="#1010ff" fill-opacity="0.9"/>
<circle cx="415.1" cy="399.2" r="1.6" fill="#1010ff" fill-opacity="0.9"/>
<circle cx="438.9" cy="397.7" r="1.6" fill="#1010ff" fill-opacity="0.9"/>
<circle cx="374.0" cy="382.1" r="1.6" fill="#1010ff" fill-opacity="0.9"/>
<circle cx="414.0" cy="367.3" r="1.6" fill="#1010ff" fill-opacity="0.9"/>
<circle cx="404.8" cy="372.5" r="1.6" fill="#1010ff" fill-opacity="0.9"/>
<circle cx="410.7" cy="406.0" r="1.6" fill="#1010ff" fill-opacity="0.9"/>
<circle cx="378.4" cy="385.3" r="1.6" fill="#1010ff" fill-opacity="0.9"/>
<circle cx="409.3" cy="383.5" r="1.6" fill="#1010ff" fill-opacity="0.9"/>
<circle cx="384.3" cy="393.7" r="1.6" fill="#1010ff" fill-opacity="0.9"/>
<circle cx="447.5" cy="366.4" r="1.6" fill="#1010ff" fill-opacity="0.9"/>
<circle cx="437.9" cy="388.1" r="1.6" fill="#1010ff" fill-opacity="0.9"/>
<circle cx="477.1" cy="377.9" r="1.6" fill="#1010ff" fill-opacity="0.9"/>
<circle cx="417.0" cy="381.0" r="1.6" fill="#1010ff" fill-opacity="0.9"/>
<circle cx="376.4" cy="380.7" r="1.6" fill="#1010ff" fill-opacity="0.9"/>
<circle cx="439.8" cy="409.9" r="1.6" fill="#1010ff" fill-opacity="0.9"/>
<circle cx="416.0" cy="381.1" r="1.6" fill="#1010ff" fill-opacity="0.9"/>
<circle cx="411.0" cy="391.3" r="1.6" fill="#1010ff" fill-opacity="0.9"/>
<circle cx="434.2" cy="372.9" r="1.6" fill="#1010ff" fill-opacity="0.9"/>
<circle cx="396.9" cy="351.8" r="1.6" fill="#1010ff" fill-opacity="0.9"/>
<circle cx="416.6" cy="406.5" r="1.6" fill="#1010ff" fill-opacity="0.9"/>
<circle cx="459.8" cy="358.7" r="1.6" fill="#1010ff" fill-opacity="0.9"/>
<circle cx="415.8" cy="360.4" r="1.6" fill="#1010ff" fill-opacity="0.9"/>
<circle cx="395.8" cy="345.9" r="1.6" fill="#1010ff" fill-opacity="0.9"/>
<circle cx="428.2" cy="390.3" r="1.6" fill="#1010ff" fill-opacity="0.9"/>
<circle cx="419.4" cy="332.2" r="1.6" fill="#1010ff" fill-opacity="0.9"/>
<circle cx="468.5" cy="387.2" r="1.6" fill="#1010ff" fill-opacity="0.9"/>
<circle cx="383.9" cy="394.0" r="1.6" fill="#1010ff" fill-opacity="0.9"/>
<circle cx="439.8" cy="410.5" r="1.6" fill="#1010ff" fill-opacity="0.9"/>
<circle cx="401.1" cy="386.5" r="1.6" fill="#1010ff" fill-opacity="0.9"/>
<circle cx="426.6" cy="400.3" r="1.6" fill="#1010ff" fill-opacity="0.9"/>
<circle cx="404.1" cy="377.1" r="1.6" fill="#1010ff" fill-opacity="0.9"/>
<circle cx="457.3" cy="403.1" r="1.6" fill="#1010ff" fill-opacity="0.9"/>
<circle cx="401.4" cy="378.1" r="1.6" fill="#1010ff" fill-opacity="0.9"/>
<circle cx="466.9" cy="398.1" r="1.6" fill="#1010ff" fill-opacity="0.9"/>
<circle cx="421.6" cy="391.2" r="1.6" fill="#1010ff" fill-opacity="0.9"/>
<circle cx="402.7" cy="398.5" r="1.6" fill="#1010ff" fill-opacity="0.9"/>
<circle cx="455.4" cy="397.7" r="1.6" fill="#1010ff" fill-opacity="0.9"/>
<circle cx="421.0" cy="318.5" r="1.6" fill="#1010ff" fill-opacity="0.9"/>
<circle cx="422.2" cy="329.1" r="1.6" fill="#1010ff" fill-opacity="0.9"/>
<circle cx="404.5" cy="403.0" r="1.6" fill="#1010ff" fill-opacity="0.9"/>
<circle cx="428.4" cy="405.8" r="1.6" fill="#1010ff" fill-opacity="0.9"/>
<circle cx="394.4" cy="360.9" r="1.6" fill="#1010ff" fill-opacity="0.9"/>
<circle cx="436.4" cy="401.3" r="1.6" fill="#1010ff" fill-opacity="0.9"/>
<circle cx="427.7" cy="348.2" r="1.6" fill="#1010ff" fill-opacity="0.9"/>
<circle cx="377.1" cy="380.7" r="1.6" fill="#1010ff" fill-opacity="0.9"/>
<circle cx="449.4" cy="398.6" r="1.6" fill="#1010ff" fill-opacity="0.9"/>
<circle cx="421.0" cy="357.4" r="1.6" fill="#1010ff" fill-opacity="0.9"/>
<circle cx="392.7" cy="393.6" r="1.6" fill="#1010ff" fill-opacity="0.9"/>
<circle cx="448.1" cy="374.2" r="1.6" fill="#1010ff" fill-opacity="0.9"/>
<circle cx="422.0" cy="408.5" r="1.6" fill="#1010ff" fill-opacity="0.9"/>
<circle cx="396.1" cy="391.3" r="1.6" fill="#1010ff" fill-opacity="0.9"/>
<circle cx="443.6" cy="404.8" r="1.6" fill="#1010ff" fill-opacity="0.9"/>
<circle cx="458.9" cy="370.2" r="1.6" fill="#1010ff" fill-opacity="0.9"/>
<circle cx="419.0" cy="395.4" r="1.6" fill="#1010ff" fill-opacity="0.9"/>
<circle cx="380.8" cy="386.5" r="1.6" fill="#1010ff" fill-opacity="0.9"/>
<circle cx="480.4" cy="357.7" r="1.6" fill="#1010ff" fill-opacity="0.9"/>
<circle cx="457.6" cy="361.5" r="1.6" fill="#1010ff" fill-opacity="0.9"/>
<circle cx="415.2" cy="404.8" r="1.6" fill="#1010ff" fill-opacity="0.9"/>
<circle cx="440.1" cy="377.3" r="1.6" fill="#1010ff" fill-opacity="0.9"/>
<circle cx="462.9" cy="340.1" r="1.6" fill="#1010ff" fill-opacity="0.9"/>
<circle cx="393.9" cy="378.3" r="1.6" fill="#1010ff" fill-opacity="0.9"/>
<circle cx="399.2" cy="379.1" r="1.6" fill="#1010ff" fill-opacity="0.9"/>
<circle cx="441.0" cy="382.9" r="1.6" fill="#1010ff" fill-opacity="0.9"/>
<circle cx="382.9" cy="390.9" r="1.6" fill="#1010ff" fill-opacity="0.9"/>
<circle cx="437.6" cy="364.0" r="1.6" fill="#1010ff" fill-opacity="0.9"/>
<circle cx="409.5" cy="385.0" r="1.6" fill="#1010ff" fill-opacity="0.9"/>
<circle cx="451.3" cy="363.9" r="1.6" fill="#1010ff" fill-opacity="0.9"/>
<circle cx="438.1" cy="344.2" r="1.6" fill="#1010ff" fill-opacity="0.9"/>
<circle cx="413.4" cy="344.8" r="1.6" fill="#1010ff" fill-opacity="0.9"/>
<circle cx="454.9" cy="407.3" r="1.6" fill="#1010ff" fill-opacity="0.9"/>
<circle cx="425.7" cy="332.0" r="1.6" fill="#1010ff" fill-opacity="0.9"/>
<circle cx="408.3" cy="390.9" r="1.6" fill="#1010ff" fill-opacity="0.9"/>
<circle cx="392.4" cy="379.9" r="1.6" fill="#1010ff" fill-opacity="0.9"/>
<circle cx="406.9" cy="397.6" r="1.6" fill="#1010ff" fill-opacity="0.9"/>
<circle cx="457.8" cy="406.7" r="1.6" fill="#1010ff" fill-opacity="0.9"/>
<circle cx="475.9" cy="359.9" r="1.6" fill="#1010ff" fill-opacity="0.9"/>
<circle cx="468.7" cy="360.6" r="1.6" fill="#1010ff" fill-opacity="0.9"/>
<circle cx="441.2" cy="355.4" r="1.6" fill="#1010ff" fill-opacity="0.9"/>
<circle cx="438.3" cy="364.1" r="1.6" fill="#1010ff" fill-opacity="0.9"/>
<circle cx="419.2" cy="391.3" r="1.6" fill="#1010ff" fill-opacity="0.9"/>
<circle cx="379.0" cy="380.2" r="1.6" fill="#1010ff" fill-opacity="0.9"/>
<circle cx="430.2" cy="317.8" r="1.6" fill="#1010ff" fill-opacity="0.9"/>
<circle cx="453.0" cy="377.1" r="1.6" fill="#1010ff" fill-opacity="0.9"/>
<circle cx="449.1" cy="407.4" r="1.6" fill="#1010ff" fill-opacity="0.9"/>
<circle cx="449.3" cy="367.5" r="1.6" fill="#1010ff" fill-opacity="0.9"/>
<circle cx="444.9" cy="382.6" r="1.6" fill="#1010ff" fill-opacity="0.9"/>
<circle cx="441.2" cy="333.9" r="1.6" fill="#1010ff" fill-opacity="0.9"/>
<circle cx="441.3" cy="331.3" r="1.6" fill="#1010ff" fill-opacity="0.9"/>
<circle cx="424.8" cy="398.6" r="1.6" fill="#1010ff" fill-opacity="0.9"/>
<circle cx="438.5" cy="394.7" r="1.6" fill="#1010ff" fill-opacity="0.9"/>
<circle cx="470.8" cy="359.8" r="1.6" fill="#1010ff" fill-opacity="0.9"/>
<circle cx="447.3" cy="390.6" r="1.6" fill="#1010ff" fill-opacity="0.9"/>
<circle cx="478.7" cy="389.6" r="1.6" fill="#1010ff" fill-opacity="0.9"/>
<circle cx="440.2" cy="365.3" r="1.6" fill="#1010ff" fill-opacity="0.9"/>
<circle cx="456.6" cy="362.7" r="1.6" fill="#1010ff" fill-opacity="0.9"/>
<circle cx="467.6" cy="375.9" r="1.6" fill="#1010ff" fill-opacity="0.9"/>
<circle cx="420.6" cy="390.4" r="1.6" fill="#1010ff" fill-opacity="0.9"/>
<circle cx="414.4" cy="393.9" r="1.6" fill="#1010ff" fill-opacity="0.9"/>
<circle cx="461.2" cy="402.4" r="1.6" fill="#1010ff" fill-opacity="0.9"/>
<circle cx="447.1" cy="394.4" r="1.6" fill="#1010ff" fill-opacity="0.9"/>
<circle cx="459.9" cy="371.0" r="1.6" fill="#1010ff" fill-opacity="0.9"/>
<circle cx="401.3" cy="360.9" r="1.6" fill="#1010ff" fill-opacity="0.9"/>
<circle cx="412.8" cy="401.4" r="1.6" fill="#1010ff" fill-opacity="0.9"/>
<circle cx="418.3" cy="368.1" r="1.6" fill="#1010ff" fill-opacity="0.9"/>
<circle cx="423.8" cy="398.6" r="1.6" fill="#1010ff" fill-opacity="0.9"/>
<circle cx="406.1" cy="401.5" r="1.6" fill="#1010ff" fill-opacity="0.9"/>
<circle cx="463.5" cy="382.0" r="1.6" fill="#1010ff" fill-opacity="0.9"/>
<circle cx="389.2" cy="380.9" r="1.6" fill="#1010ff" fill-opacity="0.9"/>
<circle cx="423.9" cy="375.8" r="1.6" fill="#1010ff" fill-opacity="0.9"/>
<circle cx="426.5" cy="391.2" r="1.6" fill="#1010ff" fill-opacity="0.9"/>
<circle cx="421.6" cy="380.6" r="1.6" fill="#1010ff" fill-opacity="0.9"/>
<circle cx="420.6" cy="300.5" r="1.6" fill="#1010ff" fill-opacity="0.9"/>
<circle cx="424.0" cy="303.0" r="1.6" fill="#1010ff" fill-opacity="0.9"/>
<circle cx="422.0" cy="305.0" r="1.6" fill="#1010ff" fill-opacity="0.9"/>
<circle cx="416.0" cy="313.0" r="1.6" fill="#1010ff" fill-opacity="0.9"/>
<circle cx="431.0" cy="310.0" r="1.6" fill="#1010ff" fill-opacity="0.9"/>
<circle cx="433.0" cy="313.0" r="1.6" fill="#1010ff" fill-opacity="0.9"/>
<circle cx="414.0" cy="317.0" r="1.6" fill="#1010ff" fill-opacity="0.9"/>
<circle cx="441.0" cy="319.0" r="1.6" fill="#1010ff" fill-opacity="0.9"/>
<circle cx="445.0" cy="322.0" r="1.6" fill="#1010ff" fill-opacity="0.9"/>
<circle cx="418.0" cy="309.0" r="1.6" fill="#1010ff" fill-opacity="0.9"/>
<circle cx="480.9" cy="385.5" r="1.6" fill="#ff1414" fill-opacity="0.8"/>
<circle cx="480.2" cy="402.7" r="1.6" fill="#ff1414" fill-opacity="0.8"/>
<circle cx="458.8" cy="357.2" r="1.6" fill="#ff1414" fill-opacity="0.8"/>
<circle cx="434.0" cy="404.1" r="1.6" fill="#ff1414" fill-opacity="0.8"/>
<circle cx="467.4" cy="360.5" r="1.6" fill="#ff1414" fill-opacity="0.8"/>
<circle cx="477.7" cy="394.3" r="1.6" fill="#ff1414" fill-opacity="0.8"/>
<circle cx="434.4" cy="392.5" r="1.6" fill="#ff1414" fill-opacity="0.8"/>
<circle cx="460.0" cy="395.2" r="1.6" fill="#ff1414" fill-opacity="0.8"/>
<circle cx="436.3" cy="406.7" r="1.6" fill="#ff1414" fill-opacity="0.8"/>
<circle cx="470.5" cy="411.2" r="1.6" fill="#ff1414" fill-opacity="0.8"/>
<circle cx="432.6" cy="410.3" r="1.6" fill="#ff1414" fill-opacity="0.8"/>
<circle cx="452.0" cy="353.2" r="1.6" fill="#ff1414" fill-opacity="0.8"/>
<circle cx="451.7" cy="428.3" r="1.6" fill="#ff1414" fill-opacity="0.8"/>
<circle cx="450.4" cy="363.1" r="1.6" fill="#ff1414" fill-opacity="0.8"/>
<circle cx="486.2" cy="387.7" r="1.6" fill="#ff1414" fill-opacity="0.8"/>
<circle cx="427.0" cy="397.4" r="1.6" fill="#ff1414" fill-opacity="0.8"/>
<circle cx="453.3" cy="395.2" r="1.6" fill="#ff1414" fill-opacity="0.8"/>
<circle cx="458.0" cy="412.3" r="1.6" fill="#ff1414" fill-opacity="0.8"/>
<circle cx="445.8" cy="390.5" r="1.6" fill="#ff1414" fill-opacity="0.8"/>
<circle cx="447.0" cy="343.9" r="1.6" fill="#ff1414" fill-opacity="0.8"/>
<circle cx="436.4" cy="377.4" r="1.6" fill="#ff1414" fill-opacity="0.8"/>
<circle cx="470.0" cy="405.2" r="1.6" fill="#ff1414" fill-opacity="0.8"/>
<circle cx="446.1" cy="358.0" r="1.6" fill="#ff1414" fill-opacity="0.8"/>
<circle cx="456.3" cy="392.1" r="1.6" fill="#ff1414" fill-opacity="0.8"/>
<circle cx="459.7" cy="407.7" r="1.6" fill="#ff1414" fill-opacity="0.8"/>
<circle cx="448.2" cy="377.8" r="1.6" fill="#ff1414" fill-opacity="0.8"/>
<circle cx="443.8" cy="372.6" r="1.6" fill="#ff1414" fill-opacity="0.8"/>
<circle cx="466.6" cy="413.6" r="1.6" fill="#ff1414" fill-opacity="0.8"/>
<circle cx="469.4" cy="385.0" r="1.6" fill="#ff1414" fill-opacity="0.8"/>
<circle cx="473.2" cy="397.5" r="1.6" fill="#ff1414" fill-opacity="0.8"/>
<circle cx="446.9" cy="343.3" r="1.6" fill="#ff1414" fill-opacity="0.8"/>
<circle cx="434.5" cy="383.1" r="1.6" fill="#ff1414" fill-opacity="0.8"/>
<circle cx="453.8" cy="366.0" r="1.6" fill="#ff1414" fill-opacity="0.8"/>
<circle cx="448.7" cy="392.6" r="1.6" fill="#ff1414" fill-opacity="0.8"/>
<circle cx="477.3" cy="401.0" r="1.6" fill="#ff1414" fill-opacity="0.8"/>
<circle cx="444.8" cy="346.6" r="1.6" fill="#ff1414" fill-opacity="0.8"/>
<circle cx="451.0" cy="416.2" r="1.6" fill="#ff1414" fill-opacity="0.8"/>
<circle cx="448.8" cy="404.3" r="1.6" fill="#ff1414" fill-opacity="0.8"/>
<circle cx="476.4" cy="389.5" r="1.6" fill="#ff1414" fill-opacity="0.8"/>
<circle cx="441.2" cy="398.8" r="1.6" fill="#ff1414" fill-opacity="0.8"/>
<circle cx="439.9" cy="427.0" r="1.6" fill="#ff1414" fill-opacity="0.8"/>
<circle cx="466.2" cy="350.2" r="1.6" fill="#ff1414" fill-opacity="0.8"/>
<circle cx="466.4" cy="372.0" r="1.6" fill="#ff1414" fill-opacity="0.8"/>
<circle cx="468.2" cy="359.0" r="1.6" fill="#ff1414" fill-opacity="0.8"/>
<circle cx="436.6" cy="412.4" r="1.6" fill="#ff1414" fill-opacity="0.8"/>
<circle cx="440.5" cy="387.6" r="1.6" fill="#ff1414" fill-opacity="0.8"/>
<circle cx="435.0" cy="373.3" r="1.6" fill="#ff1414" fill-opacity="0.8"/>
<circle cx="441.0" cy="355.0" r="1.6" fill="#ff1414" fill-opacity="0.8"/>
<circle cx="461.1" cy="379.9" r="1.6" fill="#ff1414" fill-opacity="0.8"/>
<circle cx="429.0" cy="388.4" r="1.6" fill="#ff1414" fill-opacity="0.8"/>
<circle cx="453.5" cy="377.9" r="1.6" fill="#ff1414" fill-opacity="0.8"/>
<circle cx="473.8" cy="406.3" r="1.6" fill="#ff1414" fill-opacity="0.8"/>
<circle cx="461.5" cy="377.2" r="1.6" fill="#ff1414" fill-opacity="0.8"/>
<circle cx="473.2" cy="391.2" r="1.6" fill="#ff1414" fill-opacity="0.8"/>
<circle cx="451.3" cy="407.9" r="1.6" fill="#ff1414" fill-opacity="0.8"/>
<circle cx="460.0" cy="393.1" r="1.6" fill="#ff1414" fill-opacity="0.8"/>
<circle cx="452.4" cy="428.3" r="1.6" fill="#ff1414" fill-opacity="0.8"/>
<circle cx="464.1" cy="370.0" r="1.6" fill="#ff1414" fill-opacity="0.8"/>
<circle cx="442.5" cy="400.8" r="1.6" fill="#ff1414" fill-opacity="0.8"/>
<circle cx="466.1" cy="399.8" r="1.6" fill="#ff1414" fill-opacity="0.8"/>
<circle cx="440.1" cy="389.2" r="1.6" fill="#ff1414" fill-opacity="0.8"/>
<circle cx="461.2" cy="420.7" r="1.6" fill="#ff1414" fill-opacity="0.8"/>
<circle cx="449.9" cy="359.6" r="1.6" fill="#ff1414" fill-opacity="0.8"/>
<circle cx="482.3" cy="380.9" r="1.6" fill="#ff1414" fill-opacity="0.8"/>
<circle cx="471.8" cy="404.0" r="1.6" fill="#ff1414" fill-opacity="0.8"/>
<circle cx="473.1" cy="397.4" r="1.6" fill="#ff1414" fill-opacity="0.8"/>
<circle cx="445.4" cy="380.5" r="1.6" fill="#ff1414" fill-opacity="0.8"/>
<circle cx="433.2" cy="389.3" r="1.6" fill="#ff1414" fill-opacity="0.8"/>
<circle cx="445.3" cy="389.5" r="1.6" fill="#ff1414" fill-opacity="0.8"/>
<circle cx="476.4" cy="404.8" r="1.6" fill="#ff1414" fill-opacity="0.8"/>
<circle cx="442.7" cy="384.1" r="1.6" fill="#ff1414" fill-opacity="0.8"/>
<circle cx="427.0" cy="387.1" r="1.6" fill="#ff1414" fill-opacity="0.8"/>
<circle cx="454.8" cy="427.6" r="1.6" fill="#ff1414" fill-opacity="0.8"/>
<circle cx="445.9" cy="396.9" r="1.6" fill="#ff1414" fill-opacity="0.8"/>
<circle cx="426.9" cy="402.2" r="1.6" fill="#ff1414" fill-opacity="0.8"/>
<circle cx="427.7" cy="395.5" r="1.6" fill="#ff1414" fill-opacity="0.8"/>
<circle cx="455.9" cy="403.5" r="1.6" fill="#ff1414" fill-opacity="0.8"/>
<circle cx="423.7" cy="391.6" r="1.6" fill="#ff1414" fill-opacity="0.8"/>
<circle cx="477.3" cy="378.0" r="1.6" fill="#ff1414" fill-opacity="0.8"/>
<circle cx="457.5" cy="372.4" r="1.6" fill="#ff1414" fill-opacity="0.8"/>
<circle cx="476.3" cy="396.8" r="1.6" fill="#ff1414" fill-opacity="0.8"/>
<circle cx="427.9" cy="402.7" r="1.6" fill="#ff1414" fill-opacity="0.8"/>
<circle cx="472.6" cy="356.0" r="1.6" fill="#ff1414" fill-opacity="0.8"/>
<circle cx="439.4" cy="344.3" r="1.6" fill="#ff1414" fill-opacity="0.8"/>
<circle cx="452.7" cy="421.9" r="1.6" fill="#ff1414" fill-opacity="0.8"/>
<circle cx="453.0" cy="398.9" r="1.6" fill="#ff1414" fill-opacity="0.8"/>
<circle cx="444.3" cy="408.0" r="1.6" fill="#ff1414" fill-opacity="0.8"/>
<circle cx="421.7" cy="379.2" r="1.6" fill="#ff1414" fill-opacity="0.8"/>
<circle cx="472.1" cy="377.6" r="1.6" fill="#ff1414" fill-opacity="0.8"/>
<circle cx="479.4" cy="389.4" r="1.6" fill="#ff1414" fill-opacity="0.8"/>
<circle cx="456.9" cy="369.8" r="1.6" fill="#ff1414" fill-opacity="0.8"/>
<circle cx="451.5" cy="377.9" r="1.6" fill="#ff1414" fill-opacity="0.8"/>
<circle cx="471.6" cy="406.3" r="1.6" fill="#ff1414" fill-opacity="0.8"/>
<circle cx="430.7" cy="380.3" r="1.6" fill="#ff1414" fill-opacity="0.8"/>
<circle cx="468.3" cy="381.2" r="1.6" fill="#ff1414" fill-opacity="0.8"/>
<circle cx="486.2" cy="380.8" r="1.6" fill="#ff1414" fill-opacity="0.8"/>
<circle cx="443.3" cy="407.2" r="1.6" fill="#ff1414" fill-opacity="0.8"/>
<circle cx="472.0" cy="407.7" r="1.6" fill="#ff1414" fill-opacity="0.8"/>
<circle cx="471.1" cy="360.6" r="1.6" fill="#ff1414" fill-opacity="0.8"/>
<circle cx="444.4" cy="344.2" r="1.6" fill="#ff1414" fill-opacity="0.8"/>
<circle cx="450.0" cy="391.8" r="1.6" fill="#ff1414" fill-opacity="0.8"/>
<circle cx="430.8" cy="410.4" r="1.6" fill="#ff1414" fill-opacity="0.8"/>
<circle cx="435.8" cy="412.5" r="1.6" fill="#ff1414" fill-opacity="0.8"/>
<circle cx="467.7" cy="386.5" r="1.6" fill="#ff1414" fill-opacity="0.8"/>
<circle cx="453.8" cy="390.7" r="1.6" fill="#ff1414" fill-opacity="0.8"/>
<circle cx="449.3" cy="343.1" r="1.6" fill="#ff1414" fill-opacity="0.8"/>
<circle cx="428.4" cy="374.0" r="1.6" fill="#ff1414" fill-opacity="0.8"/>
<circle cx="468.0" cy="374.7" r="1.6" fill="#ff1414" fill-opacity="0.8"/>
<circle cx="445.1" cy="419.2" r="1.6" fill="#ff1414" fill-opacity="0.8"/>
<circle cx="473.6" cy="363.2" r="1.6" fill="#ff1414" fill-opacity="0.8"/>
<circle cx="464.2" cy="356.4" r="1.6" fill="#ff1414" fill-opacity="0.8"/>
<circle cx="436.2" cy="384.1" r="1.6" fill="#ff1414" fill-opacity="0.8"/>
<circle cx="480.5" cy="393.1" r="1.6" fill="#ff1414" fill-opacity="0.8"/>
<circle cx="434.8" cy="352.6" r="1.6" fill="#ff1414" fill-opacity="0.8"/>
<circle cx="419.5" cy="378.4" r="1.6" fill="#ff1414" fill-opacity="0.8"/>
<circle cx="430.9" cy="344.9" r="1.6" fill="#ff1414" fill-opacity="0.8"/>
<circle cx="435.8" cy="360.4" r="1.6" fill="#ff1414" fill-opacity="0.8"/>
<circle cx="433.2" cy="407.1" r="1.6" fill="#ff1414" fill-opacity="0.8"/>
<circle cx="431.9" cy="409.2" r="1.6" fill="#ff1414" fill-opacity="0.8"/>
<circle cx="455.2" cy="381.5" r="1.6" fill="#ff1414" fill-opacity="0.8"/>
<circle cx="450.6" cy="378.4" r="1.6" fill="#ff1414" fill-opacity="0.8"/>
<circle cx="450.3" cy="348.4" r="1.6" fill="#ff1414" fill-opacity="0.8"/>
<circle cx="457.9" cy="380.4" r="1.6" fill="#ff1414" fill-opacity="0.8"/>
<circle cx="454.9" cy="393.8" r="1.6" fill="#ff1414" fill-opacity="0.8"/>
<circle cx="435.4" cy="362.0" r="1.6" fill="#ff1414" fill-opacity="0.8"/>
<circle cx="442.5" cy="416.4" r="1.6" fill="#ff1414" fill-opacity="0.8"/>
<circle cx="465.1" cy="405.8" r="1.6" fill="#ff1414" fill-opacity="0.8"/>
<circle cx="423.8" cy="392.4" r="1.6" fill="#ff1414" fill-opacity="0.8"/>
<circle cx="431.1" cy="408.3" r="1.6" fill="#ff1414" fill-opacity="0.8"/>
<circle cx="434.2" cy="367.0" r="1.6" fill="#ff1414" fill-opacity="0.8"/>
<circle cx="443.2" cy="368.9" r="1.6" fill="#ff1414" fill-opacity="0.8"/>
<circle cx="456.4" cy="398.4" r="1.6" fill="#ff1414" fill-opacity="0.8"/>
<circle cx="427.8" cy="388.6" r="1.6" fill="#ff1414" fill-opacity="0.8"/>
<circle cx="441.9" cy="411.7" r="1.6" fill="#ff1414" fill-opacity="0.8"/>
<circle cx="427.4" cy="368.9" r="1.6" fill="#ff1414" fill-opacity="0.8"/>
<circle cx="460.9" cy="410.1" r="1.6" fill="#ff1414" fill-opacity="0.8"/>
<circle cx="444.4" cy="415.6" r="1.6" fill="#ff1414" fill-opacity="0.8"/>
<circle cx="464.9" cy="400.9" r="1.6" fill="#ff1414" fill-opacity="0.8"/>
<circle cx="427.7" cy="392.8" r="1.6" fill="#ff1414" fill-opacity="0.8"/>
<circle cx="451.6" cy="382.3" r="1.6" fill="#ff1414" fill-opacity="0.8"/>
<circle cx="422.0" cy="385.6" r="1.6" fill="#ff1414" fill-opacity="0.8"/>
<circle cx="430.1" cy="411.5" r="1.6" fill="#ff1414" fill-opacity="0.8"/>
<circle cx="441.3" cy="410.7" r="1.6" fill="#ff1414" fill-opacity="0.8"/>
<circle cx="449.7" cy="414.4" r="1.6" fill="#ff1414" fill-opacity="0.8"/>
<circle cx="431.3" cy="395.6" r="1.6" fill="#ff1414" fill-opacity="0.8"/>
<circle cx="458.9" cy="388.2" r="1.6" fill="#ff1414" fill-opacity="0.8"/>
<circle cx="462.4" cy="353.7" r="1.6" fill="#ff1414" fill-opacity="0.8"/>
<circle cx="465.8" cy="394.5" r="1.6" fill="#ff1414" fill-opacity="0.8"/>
<circle cx="454.7" cy="402.1" r="1.6" fill="#ff1414" fill-opacity="0.8"/>
<circle cx="450.8" cy="399.3" r="1.6" fill="#ff1414" fill-opacity="0.8"/>
<circle cx="434.6" cy="369.8" r="1.6" fill="#ff1414" fill-opacity="0.8"/>
<circle cx="482.5" cy="400.2" r="1.6" fill="#ff1414" fill-opacity="0.8"/>
<circle cx="469.5" cy="391.9" r="1.6" fill="#ff1414" fill-opacity="0.8"/>
<circle cx="430.0" cy="374.6" r="1.6" fill="#ff1414" fill-opacity="0.8"/>
<circle cx="461.8" cy="391.6" r="1.6" fill="#ff1414" fill-opacity="0.8"/>
<circle cx="438.6" cy="413.9" r="1.6" fill="#ff1414" fill-opacity="0.8"/>
<circle cx="429.3" cy="403.1" r="1.6" fill="#ff1414" fill-opacity="0.8"/>
<circle cx="483.0" cy="380.2" r="1.6" fill="#ff1414" fill-opacity="0.8"/>
<circle cx="422.7" cy="362.8" r="1.6" fill="#ff1414" fill-opacity="0.8"/>
<circle cx="481.4" cy="394.4" r="1.6" fill="#ff1414" fill-opacity="0.8"/>
<circle cx="453.2" cy="406.5" r="1.6" fill="#ff1414" fill-opacity="0.8"/>
<circle cx="451.8" cy="412.1" r="1.6" fill="#ff1414" fill-opacity="0.8"/>
<circle cx="421.7" cy="384.1" r="1.6" fill="#ff1414" fill-opacity="0.8"/>
<circle cx="464.1" cy="394.1" r="1.6" fill="#ff1414" fill-opacity="0.8"/>
<circle cx="429.2" cy="379.5" r="1.6" fill="#ff1414" fill-opacity="0.8"/>
<circle cx="460.3" cy="398.3" r="1.6" fill="#ff1414" fill-opacity="0.8"/>
<circle cx="438.1" cy="389.1" r="1.6" fill="#ff1414" fill-opacity="0.8"/>
<circle cx="440.4" cy="340.4" r="1.6" fill="#ff1414" fill-opacity="0.8"/>
<circle cx="465.8" cy="402.5" r="1.6" fill="#ff1414" fill-opacity="0.8"/>
<circle cx="477.8" cy="400.3" r="1.6" fill="#ff1414" fill-opacity="0.8"/>
<circle cx="441.4" cy="372.0" r="1.6" fill="#ff1414" fill-opacity="0.8"/>
<circle cx="428.8" cy="390.2" r="1.6" fill="#ff1414" fill-opacity="0.8"/>
<circle cx="436.4" cy="358.0" r="1.6" fill="#ff1414" fill-opacity="0.8"/>
<circle cx="456.1" cy="381.7" r="1.6" fill="#ff1414" fill-opacity="0.8"/>
<circle cx="455.7" cy="410.5" r="1.6" fill="#ff1414" fill-opacity="0.8"/>
<circle cx="450.9" cy="341.7" r="1.6" fill="#ff1414" fill-opacity="0.8"/>
<circle cx="444.8" cy="350.4" r="1.6" fill="#ff1414" fill-opacity="0.8"/>
<circle cx="449.2" cy="420.1" r="1.6" fill="#ff1414" fill-opacity="0.8"/>
<circle cx="441.7" cy="416.6" r="1.6" fill="#ff1414" fill-opacity="0.8"/>
<circle cx="436.4" cy="396.3" r="1.6" fill="#ff1414" fill-opacity="0.8"/>
<circle cx="432.1" cy="395.6" r="1.6" fill="#ff1414" fill-opacity="0.8"/>
<circle cx="460.2" cy="410.4" r="1.6" fill="#ff1414" fill-opacity="0.8"/>
<circle cx="448.8" cy="431.6" r="1.6" fill="#ff1414" fill-opacity="0.8"/>
<circle cx="469.7" cy="398.4" r="1.6" fill="#ff1414" fill-opacity="0.8"/>
<circle cx="432.2" cy="398.0" r="1.6" fill="#ff1414" fill-opacity="0.8"/>
<circle cx="440.7" cy="388.0" r="1.6" fill="#ff1414" fill-opacity="0.8"/>
<circle cx="479.1" cy="381.1" r="1.6" fill="#ff1414" fill-opacity="0.8"/>
<circle cx="434.9" cy="392.7" r="1.6" fill="#ff1414" fill-opacity="0.8"/>
<circle cx="431.2" cy="400.4" r="1.6" fill="#ff1414" fill-opacity="0.8"/>
<circle cx="460.0" cy="380.3" r="1.6" fill="#ff1414" fill-opacity="0.8"/>
<circle cx="433.0" cy="407.0" r="1.6" fill="#ff1414" fill-opacity="0.8"/>
<circle cx="439.3" cy="401.6" r="1.6" fill="#ff1414" fill-opacity="0.8"/>
<circle cx="442.2" cy="411.3" r="1.6" fill="#ff1414" fill-opacity="0.8"/>
<circle cx="459.8" cy="356.6" r="1.6" fill="#ff1414" fill-opacity="0.8"/>
<circle cx="433.6" cy="406.8" r="1.6" fill="#ff1414" fill-opacity="0.8"/>
<circle cx="448.8" cy="365.1" r="1.6" fill="#ff1414" fill-opacity="0.8"/>
<circle cx="441.2" cy="414.6" r="1.6" fill="#ff1414" fill-opacity="0.8"/>
<circle cx="433.8" cy="417.4" r="1.6" fill="#ff1414" fill-opacity="0.8"/>
<circle cx="453.8" cy="403.3" r="1.6" fill="#ff1414" fill-opacity="0.8"/>
<circle cx="456.9" cy="388.5" r="1.6" fill="#ff1414" fill-opacity="0.8"/>
<circle cx="442.3" cy="384.9" r="1.6" fill="#ff1414" fill-opacity="0.8"/>
<circle cx="444.4" cy="380.1" r="1.6" fill="#ff1414" fill-opacity="0.8"/>
<circle cx="465.9" cy="358.5" r="1.6" fill="#ff1414" fill-opacity="0.8"/>
<circle cx="450.2" cy="416.4" r="1.6" fill="#ff1414" fill-opacity="0.8"/>
<circle cx="456.7" cy="425.8" r="1.6" fill="#ff1414" fill-opacity="0.8"/>
<circle cx="428.1" cy="361.5" r="1.6" fill="#ff1414" fill-opacity="0.8"/>
<circle cx="460.5" cy="417.1" r="1.6" fill="#ff1414" fill-opacity="0.8"/>
<circle cx="477.1" cy="394.5" r="1.6" fill="#ff1414" fill-opacity="0.8"/>
<circle cx="427.2" cy="369.1" r="1.6" fill="#ff1414" fill-opacity="0.8"/>
<circle cx="422.2" cy="382.1" r="1.6" fill="#ff1414" fill-opacity="0.8"/>
<circle cx="445.4" cy="395.5" r="1.6" fill="#ff1414" fill-opacity="0.8"/>
<circle cx="451.2" cy="405.5" r="1.6" fill="#ff1414" fill-opacity="0.8"/>
<circle cx="439.2" cy="414.4" r="1.6" fill="#ff1414" fill-opacity="0.8"/>
<circle cx="471.5" cy="391.9" r="1.6" fill="#ff1414" fill-opacity="0.8"/>
<circle cx="438.6" cy="421.4" r="1.6" fill="#ff1414" fill-opacity="0.8"/>
<circle cx="452.3" cy="372.9" r="1.6" fill="#ff1414" fill-opacity="0.8"/>
<circle cx="462.4" cy="354.3" r="1.6" fill="#ff1414" fill-opacity="0.8"/>
<circle cx="436.0" cy="371.5" r="1.6" fill="#ff1414" fill-opacity="0.8"/>
<circle cx="446.0" cy="401.5" r="1.6" fill="#ff1414" fill-opacity="0.8"/>
<circle cx="464.6" cy="393.9" r="1.6" fill="#ff1414" fill-opacity="0.8"/>
<circle cx="451.9" cy="385.5" r="1.6" fill="#ff1414" fill-opacity="0.8"/>
<circle cx="450.2" cy="338.0" r="1.6" fill="#ff1414" fill-opacity="0.8"/>
<circle cx="482.9" cy="400.4" r="1.6" fill="#ff1414" fill-opacity="0.8"/>
<circle cx="472.9" cy="395.8" r="1.6" fill="#ff1414" fill-opacity="0.8"/>
<circle cx="454.8" cy="427.9" r="1.6" fill="#ff1414" fill-opacity="0.8"/>
<circle cx="434.8" cy="419.7" r="1.6" fill="#ff1414" fill-opacity="0.8"/>
<circle cx="464.9" cy="386.4" r="1.6" fill="#ff1414" fill-opacity="0.8"/>
<circle cx="429.4" cy="376.7" r="1.6" fill="#ff1414" fill-opacity="0.8"/>
<circle cx="455.2" cy="392.9" r="1.6" fill="#ff1414" fill-opacity="0.8"/>
<circle cx="444.7" cy="377.3" r="1.6" fill="#ff1414" fill-opacity="0.8"/>
<circle cx="434.6" cy="418.0" r="1.6" fill="#ff1414" fill-opacity="0.8"/>
<circle cx="425.8" cy="398.1" r="1.6" fill="#ff1414" fill-opacity="0.8"/>
<circle cx="483.6" cy="387.6" r="1.6" fill="#ff1414" fill-opacity="0.8"/>
<circle cx="443.0" cy="337.4" r="1.6" fill="#ff1414" fill-opacity="0.8"/>
<circle cx="455.0" cy="377.3" r="1.6" fill="#ff1414" fill-opacity="0.8"/>
<circle cx="441.8" cy="413.5" r="1.6" fill="#ff1414" fill-opacity="0.8"/>
<circle cx="437.2" cy="416.1" r="1.6" fill="#ff1414" fill-opacity="0.8"/>
<circle cx="464.3" cy="365.7" r="1.6" fill="#ff1414" fill-opacity="0.8"/>
<circle cx="448.1" cy="426.2" r="1.6" fill="#ff1414" fill-opacity="0.8"/>
<circle cx="422.4" cy="385.8" r="1.6" fill="#ff1414" fill-opacity="0.8"/>
<circle cx="468.1" cy="389.1" r="1.6" fill="#ff1414" fill-opacity="0.8"/>
<circle cx="457.0" cy="405.7" r="1.6" fill="#ff1414" fill-opacity="0.8"/>
<circle cx="427.4" cy="359.7" r="1.6" fill="#ff1414" fill-opacity="0.8"/>
<circle cx="485.7" cy="389.3" r="1.6" fill="#ff1414" fill-opacity="0.8"/>
<circle cx="461.2" cy="417.3" r="1.6" fill="#ff1414" fill-opacity="0.8"/>
<circle cx="447.3" cy="418.5" r="1.6" fill="#ff1414" fill-opacity="0.8"/>
<circle cx="445.6" cy="425.7" r="1.6" fill="#ff1414" fill-opacity="0.8"/>
<circle cx="451.4" cy="356.3" r="1.6" fill="#ff1414" fill-opacity="0.8"/>
<circle cx="445.8" cy="359.6" r="1.6" fill="#ff1414" fill-opacity="0.8"/>
<circle cx="447.4" cy="400.1" r="1.6" fill="#ff1414" fill-opacity="0.8"/>
<circle cx="456.3" cy="393.2" r="1.6" fill="#ff1414" fill-opacity="0.8"/>
<circle cx="420.8" cy="370.4" r="1.6" fill="#ff1414" fill-opacity="0.8"/>
<circle cx="470.3" cy="353.3" r="1.6" fill="#ff1414" fill-opacity="0.8"/>
<circle cx="460.6" cy="411.3" r="1.6" fill="#ff1414" fill-opacity="0.8"/>
<circle cx="440.2" cy="418.9" r="1.6" fill="#ff1414" fill-opacity="0.8"/>
<circle cx="464.5" cy="380.8" r="1.6" fill="#ff1414" fill-opacity="0.8"/>
<circle cx="452.7" cy="402.3" r="1.6" fill="#ff1414" fill-opacity="0.8"/>
<circle cx="481.1" cy="377.4" r="1.6" fill="#ff1414" fill-opacity="0.8"/>
<circle cx="441.5" cy="416.1" r="1.6" fill="#ff1414" fill-opacity="0.8"/>
<circle cx="430.3" cy="409.6" r="1.6" fill="#ff1414" fill-opacity="0.8"/>
<circle cx="474.6" cy="403.2" r="1.6" fill="#ff1414" fill-opacity="0.8"/>
<circle cx="449.3" cy="399.2" r="1.6" fill="#ff1414" fill-opacity="0.8"/>
<circle cx="431.7" cy="352.3" r="1.6" fill="#ff1414" fill-opacity="0.8"/>
<circle cx="456.3" cy="352.2" r="1.6" fill="#ff1414" fill-opacity="0.8"/>
<circle cx="443.1" cy="411.3" r="1.6" fill="#ff1414" fill-opacity="0.8"/>
<circle cx="448.1" cy="407.0" r="1.6" fill="#ff1414" fill-opacity="0.8"/>
<circle cx="440.6" cy="394.3" r="1.6" fill="#ff1414" fill-opacity="0.8"/>
<circle cx="443.6" cy="359.9" r="1.6" fill="#ff1414" fill-opacity="0.8"/>
<circle cx="444.6" cy="397.7" r="1.6" fill="#ff1414" fill-opacity="0.8"/>
<circle cx="453.0" cy="416.3" r="1.6" fill="#ff1414" fill-opacity="0.8"/>
<circle cx="442.0" cy="423.6" r="1.6" fill="#ff1414" fill-opacity="0.8"/>
<circle cx="445.9" cy="432.7" r="1.6" fill="#ff1414" fill-opacity="0.8"/>
<circle cx="435.0" cy="378.5" r="1.6" fill="#ff1414" fill-opacity="0.8"/>
<circle cx="452.8" cy="382.8" r="1.6" fill="#ff1414" fill-opacity="0.8"/>
<circle cx="452.9" cy="423.2" r="1.6" fill="#ff1414" fill-opacity="0.8"/>
<circle cx="458.8" cy="419.5" r="1.6" fill="#ff1414" fill-opacity="0.8"/>
<circle cx="450.7" cy="375.5" r="1.6" fill="#ff1414" fill-opacity="0.8"/>
<circle cx="437.1" cy="405.6" r="1.6" fill="#ff1414" fill-opacity="0.8"/>
<circle cx="428.8" cy="383.4" r="1.6" fill="#ff1414" fill-opacity="0.8"/>
<circle cx="447.6" cy="350.8" r="1.6" fill="#ff1414" fill-opacity="0.8"/>
<circle cx="471.7" cy="373.3" r="1.6" fill="#ff1414" fill-opacity="0.8"/>
<circle cx="466.2" cy="415.3" r="1.6" fill="#ff1414" fill-opacity="0.8"/>
<circle cx="465.8" cy="391.0" r="1.6" fill="#ff1414" fill-opacity="0.8"/>
<circle cx="440.3" cy="397.1" r="1.6" fill="#ff1414" fill-opacity="0.8"/>
<circle cx="468.6" cy="404.4" r="1.6" fill="#ff1414" fill-opacity="0.8"/>
<circle cx="428.3" cy="384.8" r="1.6" fill="#ff1414" fill-opacity="0.8"/>
<circle cx="470.2" cy="389.9" r="1.6" fill="#ff1414" fill-opacity="0.8"/>
<circle cx="469.5" cy="405.2" r="1.6" fill="#ff1414" fill-opacity="0.8"/>
<circle cx="473.0" cy="389.5" r="1.6" fill="#ff1414" fill-opacity="0.8"/>
<circle cx="456.5" cy="425.1" r="1.6" fill="#ff1414" fill-opacity="0.8"/>
<circle cx="465.4" cy="367.4" r="1.6" fill="#ff1414" fill-opacity="0.8"/>
<circle cx="432.0" cy="342.2" r="1.6" fill="#ff1414" fill-opacity="0.8"/>
<circle cx="452.3" cy="415.5" r="1.6" fill="#ff1414" fill-opacity="0.8"/>
<circle cx="432.0" cy="399.0" r="1.6" fill="#ff1414" fill-opacity="0.8"/>
<circle cx="458.1" cy="367.0" r="1.6" fill="#ff1414" fill-opacity="0.8"/>
<circle cx="484.1" cy="389.5" r="1.6" fill="#ff1414" fill-opacity="0.8"/>
<circle cx="437.8" cy="381.6" r="1.6" fill="#ff1414" fill-opacity="0.8"/>
<circle cx="478.2" cy="394.1" r="1.6" fill="#ff1414" fill-opacity="0.8"/>
<circle cx="427.1" cy="392.2" r="1.6" fill="#ff1414" fill-opacity="0.8"/>
<circle cx="446.8" cy="410.4" r="1.6" fill="#ff1414" fill-opacity="0.8"/>
<circle cx="429.4" cy="403.6" r="1.6" fill="#ff1414" fill-opacity="0.8"/>
<circle cx="475.9" cy="386.4" r="1.6" fill="#ff1414" fill-opacity="0.8"/>
<circle cx="438.5" cy="366.0" r="1.6" fill="#ff1414" fill-opacity="0.8"/>
<circle cx="449.6" cy="359.6" r="1.6" fill="#ff1414" fill-opacity="0.8"/>
<circle cx="467.4" cy="403.1" r="1.6" fill="#ff1414" fill-opacity="0.8"/>
<circle cx="424.7" cy="388.9" r="1.6" fill="#ff1414" fill-opacity="0.8"/>
<circle cx="481.0" cy="399.4" r="1.6" fill="#ff1414" fill-opacity="0.8"/>
<circle cx="452.5" cy="360.6" r="1.6" fill="#ff1414" fill-opacity="0.8"/>
<circle cx="436.6" cy="358.8" r="1.6" fill="#ff1414" fill-opacity="0.8"/>
<circle cx="480.9" cy="389.7" r="1.6" fill="#ff1414" fill-opacity="0.8"/>
<circle cx="463.4" cy="415.9" r="1.6" fill="#ff1414" fill-opacity="0.8"/>
<circle cx="431.2" cy="389.8" r="1.6" fill="#ff1414" fill-opacity="0.8"/>
<circle cx="437.4" cy="390.5" r="1.6" fill="#ff1414" fill-opacity="0.8"/>
<circle cx="432.6" cy="401.7" r="1.6" fill="#ff1414" fill-opacity="0.8"/>
<circle cx="457.3" cy="394.3" r="1.6" fill="#ff1414" fill-opacity="0.8"/>
<circle cx="471.6" cy="378.3" r="1.6" fill="#ff1414" fill-opacity="0.8"/>
<circle cx="451.8" cy="361.2" r="1.6" fill="#ff1414" fill-opacity="0.8"/>
<circle cx="442.2" cy="377.2" r="1.6" fill="#ff1414" fill-opacity="0.8"/>
<circle cx="449.2" cy="402.2" r="1.6" fill="#ff1414" fill-opacity="0.8"/>
<circle cx="482.0" cy="376.8" r="1.6" fill="#ff1414" fill-opacity="0.8"/>
<circle cx="440.0" cy="427.1" r="1.6" fill="#ff1414" fill-opacity="0.8"/>
<circle cx="463.3" cy="414.3" r="1.6" fill="#ff1414" fill-opacity="0.8"/>
<circle cx="452.2" cy="409.6" r="1.6" fill="#ff1414" fill-opacity="0.8"/>
<circle cx="444.8" cy="428.8" r="1.6" fill="#ff1414" fill-opacity="0.8"/>
<circle cx="485.8" cy="389.4" r="1.6" fill="#ff1414" fill-opacity="0.8"/>
<circle cx="475.0" cy="390.9" r="1.6" fill="#ff1414" fill-opacity="0.8"/>
<circle cx="439.6" cy="419.5" r="1.6" fill="#ff1414" fill-opacity="0.8"/>
<circle cx="432.3" cy="401.8" r="1.6" fill="#ff1414" fill-opacity="0.8"/>
<circle cx="430.5" cy="391.3" r="1.6" fill="#ff1414" fill-opacity="0.8"/>
<circle cx="445.1" cy="372.0" r="1.6" fill="#ff1414" fill-opacity="0.8"/>
<circle cx="444.3" cy="425.3" r="1.6" fill="#ff1414" fill-opacity="0.8"/>
<circle cx="460.3" cy="393.4" r="1.6" fill="#ff1414" fill-opacity="0.8"/>
<circle cx="465.7" cy="388.9" r="1.6" fill="#ff1414" fill-opacity="0.8"/>
<circle cx="460.5" cy="404.9" r="1.6" fill="#ff1414" fill-opacity="0.8"/>
<circle cx="446.8" cy="383.0" r="1.6" fill="#ff1414" fill-opacity="0.8"/>
<circle cx="467.6" cy="392.4" r="1.6" fill="#ff1414" fill-opacity="0.8"/>
<circle cx="433.5" cy="397.8" r="1.6" fill="#ff1414" fill-opacity="0.8"/>
<circle cx="458.7" cy="425.5" r="1.6" fill="#ff1414" fill-opacity="0.8"/>
<circle cx="448.8" cy="381.1" r="1.6" fill="#ff1414" fill-opacity="0.8"/>
<circle cx="448.3" cy="431.0" r="1.6" fill="#ff1414" fill-opacity="0.8"/>
<circle cx="454.5" cy="396.3" r="1.6" fill="#ff1414" fill-opacity="0.8"/>
<circle cx="458.3" cy="421.9" r="1.6" fill="#ff1414" fill-opacity="0.8"/>
<circle cx="474.7" cy="394.4" r="1.6" fill="#ff1414" fill-opacity="0.8"/>
<circle cx="434.4" cy="382.6" r="1.6" fill="#ff1414" fill-opacity="0.8"/>
<circle cx="446.1" cy="420.5" r="1.6" fill="#ff1414" fill-opacity="0.8"/>
<circle cx="458.9" cy="414.6" r="1.6" fill="#ff1414" fill-opacity="0.8"/>
<circle cx="463.9" cy="411.7" r="1.6" fill="#ff1414" fill-opacity="0.8"/>
<circle cx="433.2" cy="417.6" r="1.6" fill="#ff1414" fill-opacity="0.8"/>
<circle cx="485.7" cy="395.7" r="1.6" fill="#ff1414" fill-opacity="0.8"/>
<circle cx="446.8" cy="419.0" r="1.6" fill="#ff1414" fill-opacity="0.8"/>
<circle cx="447.6" cy="407.3" r="1.6" fill="#ff1414" fill-opacity="0.8"/>
<circle cx="458.6" cy="392.0" r="1.6" fill="#ff1414" fill-opacity="0.8"/>
<circle cx="477.8" cy="399.5" r="1.6" fill="#ff1414" fill-opacity="0.8"/>
<circle cx="470.0" cy="374.6" r="1.6" fill="#ff1414" fill-opacity="0.8"/>
<circle cx="477.6" cy="387.3" r="1.6" fill="#ff1414" fill-opacity="0.8"/>
<circle cx="443.6" cy="349.5" r="1.6" fill="#ff1414" fill-opacity="0.8"/>
<circle cx="467.3" cy="403.7" r="1.6" fill="#ff1414" fill-opacity="0.8"/>
<circle cx="446.1" cy="405.2" r="1.6" fill="#ff1414" fill-opacity="0.8"/>
<circle cx="455.7" cy="348.0" r="1.6" fill="#ff1414" fill-opacity="0.8"/>
<circle cx="462.0" cy="417.8" r="1.6" fill="#ff1414" fill-opacity="0.8"/>
<circle cx="450.7" cy="402.8" r="1.6" fill="#ff1414" fill-opacity="0.8"/>
<circle cx="450.5" cy="401.0" r="1.6" fill="#ff1414" fill-opacity="0.8"/>
<circle cx="463.7" cy="419.5" r="1.6" fill="#ff1414" fill-opacity="0.8"/>
<circle cx="460.9" cy="418.3" r="1.6" fill="#ff1414" fill-opacity="0.8"/>
<circle cx="444.8" cy="352.8" r="1.6" fill="#ff1414" fill-opacity="0.8"/>
<circle cx="421.6" cy="358.4" r="1.6" fill="#ff1414" fill-opacity="0.8"/>
<circle cx="468.9" cy="410.6" r="1.6" fill="#ff1414" fill-opacity="0.8"/>
<circle cx="431.0" cy="415.4" r="1.6" fill="#ff1414" fill-opacity="0.8"/>
<circle cx="457.1" cy="386.0" r="1.6" fill="#ff1414" fill-opacity="0.8"/>
<circle cx="468.2" cy="375.9" r="1.6" fill="#ff1414" fill-opacity="0.8"/>
<circle cx="442.9" cy="372.3" r="1.6" fill="#ff1414" fill-opacity="0.8"/>
<circle cx="423.5" cy="395.3" r="1.6" fill="#ff1414" fill-opacity="0.8"/>
<circle cx="434.2" cy="379.2" r="1.6" fill="#ff1414" fill-opacity="0.8"/>
<circle cx="448.4" cy="427.4" r="1.6" fill="#ff1414" fill-opacity="0.8"/>
<circle cx="434.2" cy="409.4" r="1.6" fill="#ff1414" fill-opacity="0.8"/>
<circle cx="467.6" cy="394.9" r="1.6" fill="#ff1414" fill-opacity="0.8"/>
<circle cx="441.3" cy="411.3" r="1.6" fill="#ff1414" fill-opacity="0.8"/>
<circle cx="430.0" cy="411.4" r="1.6" fill="#ff1414" fill-opacity="0.8"/>
<circle cx="462.3" cy="415.2" r="1.6" fill="#ff1414" fill-opacity="0.8"/>
<circle cx="470.4" cy="396.1" r="1.6" fill="#ff1414" fill-opacity="0.8"/>
<circle cx="429.0" cy="386.9" r="1.6" fill="#ff1414" fill-opacity="0.8"/>
<circle cx="453.4" cy="400.3" r="1.6" fill="#ff1414" fill-opacity="0.8"/>
<circle cx="447.9" cy="417.5" r="1.6" fill="#ff1414" fill-opacity="0.8"/>
<circle cx="467.9" cy="377.4" r="1.6" fill="#ff1414" fill-opacity="0.8"/>
<circle cx="456.3" cy="404.4" r="1.6" fill="#ff1414" fill-opacity="0.8"/>
<circle cx="439.6" cy="387.1" r="1.6" fill="#ff1414" fill-opacity="0.8"/>
<circle cx="440.1" cy="366.3" r="1.6" fill="#ff1414" fill-opacity="0.8"/>
<circle cx="435.6" cy="361.8" r="1.6" fill="#ff1414" fill-opacity="0.8"/>
<circle cx="466.3" cy="397.9" r="1.6" fill="#ff1414" fill-opacity="0.8"/>
<circle cx="430.2" cy="366.0" r="1.6" fill="#ff1414" fill-opacity="0.8"/>
<circle cx="478.2" cy="365.7" r="1.6" fill="#ff1414" fill-opacity="0.8"/>
<circle cx="482.9" cy="400.7" r="1.6" fill="#ff1414" fill-opacity="0.8"/>
<circle cx="431.2" cy="414.9" r="1.6" fill="#ff1414" fill-opacity="0.8"/>
<circle cx="445.7" cy="408.1" r="1.6" fill="#ff1414" fill-opacity="0.8"/>
<circle cx="472.5" cy="408.8" r="1.6" fill="#ff1414" fill-opacity="0.8"/>
<circle cx="438.1" cy="400.2" r="1.6" fill="#ff1414" fill-opacity="0.8"/>
<circle cx="442.3" cy="407.0" r="1.6" fill="#ff1414" fill-opacity="0.8"/>
<circle cx="436.7" cy="393.1" r="1.6" fill="#ff1414" fill-opacity="0.8"/>
<circle cx="446.5" cy="406.4" r="1.6" fill="#ff1414" fill-opacity="0.8"/>
<circle cx="436.1" cy="389.1" r="1.6" fill="#ff1414" fill-opacity="0.8"/>
<circle cx="465.3" cy="378.6" r="1.6" fill="#ff1414" fill-opacity="0.8"/>
<circle cx="443.0" cy="351.8" r="1.6" fill="#ff1414" fill-opacity="0.8"/>
<circle cx="445.7" cy="379.3" r="1.6" fill="#ff1414" fill-opacity="0.8"/>
<circle cx="450.4" cy="429.1" r="1.6" fill="#ff1414" fill-opacity="0.8"/>
<circle cx="428.9" cy="381.9" r="1.6" fill="#ff1414" fill-opacity="0.8"/>
<circle cx="483.4" cy="398.8" r="1.6" fill="#ff1414" fill-opacity="0.8"/>
<circle cx="473.2" cy="367.9" r="1.6" fill="#ff1414" fill-opacity="0.8"/>
<circle cx="465.9" cy="417.7" r="1.6" fill="#ff1414" fill-opacity="0.8"/>
<circle cx="469.4" cy="410.9" r="1.6" fill="#ff1414" fill-opacity="0.8"/>
<circle cx="458.4" cy="417.8" r="1.6" fill="#ff1414" fill-opacity="0.8"/>
<circle cx="445.4" cy="351.4" r="1.6" fill="#ff1414" fill-opacity="0.8"/>
<circle cx="471.4" cy="400.0" r="1.6" fill="#ff1414" fill-opacity="0.8"/>
<circle cx="438.8" cy="398.2" r="1.6" fill="#ff1414" fill-opacity="0.8"/>
<circle cx="449.4" cy="379.6" r="1.6" fill="#ff1414" fill-opacity="0.8"/>
<circle cx="453.0" cy="415.9" r="1.6" fill="#ff1414" fill-opacity="0.8"/>
<circle cx="446.8" cy="365.9" r="1.6" fill="#ff1414" fill-opacity="0.8"/>
<circle cx="465.5" cy="410.3" r="1.6" fill="#ff1414" fill-opacity="0.8"/>
<circle cx="431.3" cy="374.5" r="1.6" fill="#ff1414" fill-opacity="0.8"/>
<circle cx="444.5" cy="420.9" r="1.6" fill="#ff1414" fill-opacity="0.8"/>
<circle cx="420.4" cy="369.6" r="1.6" fill="#ff1414" fill-opacity="0.8"/>
<circle cx="457.9" cy="346.5" r="1.6" fill="#ff1414" fill-opacity="0.8"/>
<circle cx="451.8" cy="393.2" r="1.6" fill="#ff1414" fill-opacity="0.8"/>
<circle cx="469.9" cy="409.8" r="1.6" fill="#ff1414" fill-opacity="0.8"/>
<circle cx="432.9" cy="384.5" r="1.6" fill="#ff1414" fill-opacity="0.8"/>
<circle cx="448.1" cy="406.1" r="1.6" fill="#ff1414" fill-opacity="0.8"/>
<circle cx="446.4" cy="349.6" r="1.6" fill="#ff1414" fill-opacity="0.8"/>
<circle cx="433.0" cy="414.8" r="1.6" fill="#ff1414" fill-opacity="0.8"/>
<circle cx="439.0" cy="378.2" r="1.6" fill="#ff1414" fill-opacity="0.8"/>
<circle cx="461.7" cy="378.3" r="1.6" fill="#ff1414" fill-opacity="0.8"/>
<circle cx="443.1" cy="423.4" r="1.6" fill="#ff1414" fill-opacity="0.8"/>
<circle cx="437.1" cy="366.2" r="1.6" fill="#ff1414" fill-opacity="0.8"/>
<circle cx="469.5" cy="407.2" r="1.6" fill="#ff1414" fill-opacity="0.8"/>
<circle cx="432.0" cy="414.5" r="1.6" fill="#ff1414" fill-opacity="0.8"/>
<circle cx="480.0" cy="371.5" r="1.6" fill="#ff1414" fill-opacity="0.8"/>
<circle cx="451.5" cy="422.1" r="1.6" fill="#ff1414" fill-opacity="0.8"/>
<circle cx="476.5" cy="391.7" r="1.6" fill="#ff1414" fill-opacity="0.8"/>
<circle cx="453.7" cy="402.2" r="1.6" fill="#ff1414" fill-opacity="0.8"/>
<circle cx="448.2" cy="410.1" r="1.6" fill="#ff1414" fill-opacity="0.8"/>
<circle cx="442.8" cy="423.5" r="1.6" fill="#ff1414" fill-opacity="0.8"/>
<circle cx="450.1" cy="421.3" r="1.6" fill="#ff1414" fill-opacity="0.8"/>
<circle cx="440.3" cy="406.2" r="1.6" fill="#ff1414" fill-opacity="0.8"/>
<circle cx="447.0" cy="350.8" r="1.6" fill="#ff1414" fill-opacity="0.8"/>
<circle cx="428.9" cy="402.5" r="1.6" fill="#ff1414" fill-opacity="0.8"/>
<circle cx="460.1" cy="402.4" r="1.6" fill="#ff1414" fill-opacity="0.8"/>
<circle cx="454.4" cy="388.3" r="1.6" fill="#ff1414" fill-opacity="0.8"/>
<circle cx="451.5" cy="371.9" r="1.6" fill="#ff1414" fill-opacity="0.8"/>
<circle cx="438.7" cy="415.5" r="1.6" fill="#ff1414" fill-opacity="0.8"/>
<circle cx="434.7" cy="375.8" r="1.6" fill="#ff1414" fill-opacity="0.8"/>
<circle cx="449.9" cy="396.0" r="1.6" fill="#ff1414" fill-opacity="0.8"/>
<circle cx="482.9" cy="388.9" r="1.6" fill="#ff1414" fill-opacity="0.8"/>
<circle cx="451.6" cy="404.3" r="1.6" fill="#ff1414" fill-opacity="0.8"/>
<circle cx="453.3" cy="404.5" r="1.6" fill="#ff1414" fill-opacity="0.8"/>
<circle cx="448.3" cy="430.3" r="1.6" fill="#ff1414" fill-opacity="0.8"/>
<circle cx="468.0" cy="415.8" r="1.6" fill="#ff1414" fill-opacity="0.8"/>
<circle cx="456.8" cy="426.6" r="1.6" fill="#ff1414" fill-opacity="0.8"/>
<circle cx="449.9" cy="383.9" r="1.6" fill="#ff1414" fill-opacity="0.8"/>
<circle cx="425.0" cy="346.3" r="1.6" fill="#ff1414" fill-opacity="0.8"/>
<circle cx="428.7" cy="402.8" r="1.6" fill="#ff1414" fill-opacity="0.8"/>
<circle cx="467.2" cy="356.7" r="1.6" fill="#ff1414" fill-opacity="0.8"/>
<circle cx="459.8" cy="388.3" r="1.6" fill="#ff1414" fill-opacity="0.8"/>
<circle cx="458.5" cy="385.4" r="1.6" fill="#ff1414" fill-opacity="0.8"/>
<circle cx="443.7" cy="389.9" r="1.6" fill="#ff1414" fill-opacity="0.8"/>
<circle cx="430.4" cy="390.6" r="1.6" fill="#ff1414" fill-opacity="0.8"/>
<circle cx="469.5" cy="409.0" r="1.6" fill="#ff1414" fill-opacity="0.8"/>
<circle cx="445.8" cy="408.7" r="1.6" fill="#ff1414" fill-opacity="0.8"/>
<circle cx="458.3" cy="383.1" r="1.6" fill="#ff1414" fill-opacity="0.8"/>
<circle cx="447.3" cy="413.5" r="1.6" fill="#ff1414" fill-opacity="0.8"/>
<circle cx="431.9" cy="388.4" r="1.6" fill="#ff1414" fill-opacity="0.8"/>
<circle cx="474.7" cy="362.0" r="1.6" fill="#ff1414" fill-opacity="0.8"/>
<circle cx="426.4" cy="378.5" r="1.6" fill="#ff1414" fill-opacity="0.8"/>
<circle cx="425.9" cy="370.8" r="1.6" fill="#ff1414" fill-opacity="0.8"/>
<circle cx="424.8" cy="382.3" r="1.6" fill="#ff1414" fill-opacity="0.8"/>
<circle cx="469.3" cy="410.0" r="1.6" fill="#ff1414" fill-opacity="0.8"/>
<circle cx="477.9" cy="390.7" r="1.6" fill="#ff1414" fill-opacity="0.8"/>
<circle cx="439.5" cy="395.5" r="1.6" fill="#ff1414" fill-opacity="0.8"/>
<circle cx="429.7" cy="377.0" r="1.6" fill="#ff1414" fill-opacity="0.8"/>
<circle cx="431.7" cy="401.9" r="1.6" fill="#ff1414" fill-opacity="0.8"/>
<circle cx="449.5" cy="404.3" r="1.6" fill="#ff1414" fill-opacity="0.8"/>
<circle cx="438.9" cy="419.5" r="1.6" fill="#ff1414" fill-opacity="0.8"/>
<circle cx="450.0" cy="422.8" r="1.6" fill="#ff1414" fill-opacity="0.8"/>
<circle cx="422.3" cy="367.3" r="1.6" fill="#ff1414" fill-opacity="0.8"/>
<circle cx="453.1" cy="386.6" r="1.6" fill="#ff1414" fill-opacity="0.8"/>
<circle cx="468.5" cy="361.4" r="1.6" fill="#ff1414" fill-opacity="0.8"/>
<circle cx="465.3" cy="381.2" r="1.6" fill="#ff1414" fill-opacity="0.8"/>
<circle cx="433.8" cy="381.6" r="1.6" fill="#ff1414" fill-opacity="0.8"/>
<circle cx="466.3" cy="369.8" r="1.6" fill="#ff1414" fill-opacity="0.8"/>
<circle cx="441.1" cy="367.0" r="1.6" fill="#ff1414" fill-opacity="0.8"/>
<circle cx="441.5" cy="382.1" r="1.6" fill="#ff1414" fill-opacity="0.8"/>
<circle cx="476.8" cy="387.6" r="1.6" fill="#ff1414" fill-opacity="0.8"/>
<circle cx="464.5" cy="385.5" r="1.6" fill="#ff1414" fill-opacity="0.8"/>
<circle cx="481.4" cy="370.6" r="1.6" fill="#ff1414" fill-opacity="0.8"/>
<circle cx="475.6" cy="406.6" r="1.6" fill="#ff1414" fill-opacity="0.8"/>
<circle cx="443.6" cy="403.3" r="1.6" fill="#ff1414" fill-opacity="0.8"/>
<circle cx="466.4" cy="363.4" r="1.6" fill="#ff1414" fill-opacity="0.8"/>
<circle cx="477.9" cy="390.8" r="1.6" fill="#ff1414" fill-opacity="0.8"/>
<circle cx="451.9" cy="343.7" r="1.6" fill="#ff1414" fill-opacity="0.8"/>
<circle cx="456.9" cy="383.6" r="1.6" fill="#ff1414" fill-opacity="0.8"/>
<circle cx="463.8" cy="367.6" r="1.6" fill="#ff1414" fill-opacity="0.8"/>
<circle cx="469.5" cy="414.3" r="1.6" fill="#ff1414" fill-opacity="0.8"/>
<circle cx="464.6" cy="388.5" r="1.6" fill="#ff1414" fill-opacity="0.8"/>
<circle cx="436.1" cy="406.6" r="1.6" fill="#ff1414" fill-opacity="0.8"/>
<circle cx="446.2" cy="407.4" r="1.6" fill="#ff1414" fill-opacity="0.8"/>
<circle cx="465.9" cy="400.2" r="1.6" fill="#ff1414" fill-opacity="0.8"/>
<circle cx="430.3" cy="394.1" r="1.6" fill="#ff1414" fill-opacity="0.8"/>
<circle cx="461.4" cy="391.1" r="1.6" fill="#ff1414" fill-opacity="0.8"/>
<circle cx="448.7" cy="345.2" r="1.6" fill="#ff1414" fill-opacity="0.8"/>
<circle cx="446.1" cy="410.7" r="1.6" fill="#ff1414" fill-opacity="0.8"/>
<circle cx="464.3" cy="418.4" r="1.6" fill="#ff1414" fill-opacity="0.8"/>
<circle cx="473.7" cy="400.0" r="1.6" fill="#ff1414" fill-opacity="0.8"/>
<circle cx="432.4" cy="386.7" r="1.6" fill="#ff1414" fill-opacity="0.8"/>
<circle cx="449.3" cy="385.9" r="1.6" fill="#ff1414" fill-opacity="0.8"/>
<circle cx="425.1" cy="375.0" r="1.6" fill="#ff1414" fill-opacity="0.8"/>
<circle cx="452.3" cy="398.4" r="1.6" fill="#ff1414" fill-opacity="0.8"/>
<circle cx="435.9" cy="412.4" r="1.6" fill="#ff1414" fill-opacity="0.8"/>
<circle cx="450.2" cy="429.7" r="1.6" fill="#ff1414" fill-opacity="0.8"/>
<circle cx="458.5" cy="412.2" r="1.6" fill="#ff1414" fill-opacity="0.8"/>
<circle cx="442.7" cy="415.4" r="1.6" fill="#ff1414" fill-opacity="0.8"/>
<circle cx="436.2" cy="416.5" r="1.6" fill="#ff1414" fill-opacity="0.8"/>
<circle cx="473.9" cy="405.8" r="1.6" fill="#ff1414" fill-opacity="0.8"/>
<circle cx="469.4" cy="397.0" r="1.6" fill="#ff1414" fill-opacity="0.8"/>
<circle cx="449.9" cy="398.9" r="1.6" fill="#ff1414" fill-opacity="0.8"/>
<circle cx="438.2" cy="403.1" r="1.6" fill="#ff1414" fill-opacity="0.8"/>
<circle cx="443.5" cy="411.5" r="1.6" fill="#ff1414" fill-opacity="0.8"/>
<circle cx="469.7" cy="400.1" r="1.6" fill="#ff1414" fill-opacity="0.8"/>
<circle cx="450.7" cy="402.7" r="1.6" fill="#ff1414" fill-opacity="0.8"/>
<circle cx="445.3" cy="419.2" r="1.6" fill="#ff1414" fill-opacity="0.8"/>
<circle cx="447.6" cy="372.1" r="1.6" fill="#ff1414" fill-opacity="0.8"/>
<circle cx="459.8" cy="407.4" r="1.6" fill="#ff1414" fill-opacity="0.8"/>
<circle cx="453.3" cy="427.3" r="1.6" fill="#ff1414" fill-opacity="0.8"/>
<circle cx="438.5" cy="345.0" r="1.6" fill="#ff1414" fill-opacity="0.8"/>
<circle cx="433.2" cy="379.4" r="1.6" fill="#ff1414" fill-opacity="0.8"/>
<circle cx="466.6" cy="408.6" r="1.6" fill="#ff1414" fill-opacity="0.8"/>
<circle cx="435.9" cy="418.9" r="1.6" fill="#ff1414" fill-opacity="0.8"/>
<circle cx="465.3" cy="377.0" r="1.6" fill="#ff1414" fill-opacity="0.8"/>
<circle cx="481.5" cy="393.9" r="1.6" fill="#ff1414" fill-opacity="0.8"/>
<circle cx="452.0" cy="428.7" r="1.6" fill="#ff1414" fill-opacity="0.8"/>
<circle cx="453.8" cy="367.5" r="1.6" fill="#ff1414" fill-opacity="0.8"/>
<circle cx="453.5" cy="397.1" r="1.6" fill="#ff1414" fill-opacity="0.8"/>
<circle cx="475.4" cy="387.1" r="1.6" fill="#ff1414" fill-opacity="0.8"/>
<circle cx="447.0" cy="375.7" r="1.6" fill="#ff1414" fill-opacity="0.8"/>
<circle cx="432.5" cy="364.5" r="1.6" fill="#ff1414" fill-opacity="0.8"/>
<circle cx="464.0" cy="396.7" r="1.6" fill="#ff1414" fill-opacity="0.8"/>
<circle cx="477.1" cy="403.5" r="1.6" fill="#ff1414" fill-opacity="0.8"/>
<circle cx="458.4" cy="401.5" r="1.6" fill="#ff1414" fill-opacity="0.8"/>
<circle cx="446.9" cy="413.2" r="1.6" fill="#ff1414" fill-opacity="0.8"/>
<circle cx="424.1" cy="363.2" r="1.6" fill="#ff1414" fill-opacity="0.8"/>
<circle cx="433.1" cy="384.1" r="1.6" fill="#ff1414" fill-opacity="0.8"/>
<circle cx="467.8" cy="416.7" r="1.6" fill="#ff1414" fill-opacity="0.8"/>
<circle cx="423.7" cy="389.9" r="1.6" fill="#ff1414" fill-opacity="0.8"/>
<circle cx="439.0" cy="353.1" r="1.6" fill="#ff1414" fill-opacity="0.8"/>
<circle cx="467.6" cy="383.5" r="1.6" fill="#ff1414" fill-opacity="0.8"/>
<circle cx="474.2" cy="377.1" r="1.6" fill="#ff1414" fill-opacity="0.8"/>
<circle cx="454.8" cy="364.4" r="1.6" fill="#ff1414" fill-opacity="0.8"/>
<circle cx="470.6" cy="372.3" r="1.6" fill="#ff1414" fill-opacity="0.8"/>
<circle cx="443.1" cy="422.0" r="1.6" fill="#ff1414" fill-opacity="0.8"/>
<circle cx="453.3" cy="396.5" r="1.6" fill="#ff1414" fill-opacity="0.8"/>
<circle cx="445.5" cy="412.9" r="1.6" fill="#ff1414" fill-opacity="0.8"/>
<circle cx="449.1" cy="396.6" r="1.6" fill="#ff1414" fill-opacity="0.8"/>
<circle cx="442.6" cy="430.4" r="1.6" fill="#ff1414" fill-opacity="0.8"/>
<circle cx="475.2" cy="380.1" r="1.6" fill="#ff1414" fill-opacity="0.8"/>
<circle cx="428.2" cy="391.7" r="1.6" fill="#ff1414" fill-opacity="0.8"/>
<circle cx="466.9" cy="388.9" r="1.6" fill="#ff1414" fill-opacity="0.8"/>
<circle cx="446.2" cy="421.2" r="1.6" fill="#ff1414" fill-opacity="0.8"/>
<circle cx="454.8" cy="360.0" r="1.6" fill="#ff1414" fill-opacity="0.8"/>
<circle cx="433.2" cy="366.7" r="1.6" fill="#ff1414" fill-opacity="0.8"/>
<circle cx="464.4" cy="374.6" r="1.6" fill="#ff1414" fill-opacity="0.8"/>
<circle cx="484.7" cy="381.5" r="1.6" fill="#ff1414" fill-opacity="0.8"/>
<circle cx="438.6" cy="379.6" r="1.6" fill="#ff1414" fill-opacity="0.8"/>
<circle cx="441.3" cy="402.5" r="1.6" fill="#ff1414" fill-opacity="0.8"/>
<circle cx="430.6" cy="352.8" r="1.6" fill="#ff1414" fill-opacity="0.8"/>
<circle cx="464.1" cy="397.7" r="1.6" fill="#ff1414" fill-opacity="0.8"/>
<circle cx="476.2" cy="361.2" r="1.6" fill="#ff1414" fill-opacity="0.8"/>
<circle cx="427.1" cy="351.1" r="1.6" fill="#ff1414" fill-opacity="0.8"/>
<circle cx="460.6" cy="405.7" r="1.6" fill="#ff1414" fill-opacity="0.8"/>
<circle cx="482.0" cy="377.2" r="1.6" fill="#ff1414" fill-opacity="0.8"/>
<circle cx="450.1" cy="412.2" r="1.6" fill="#ff1414" fill-opacity="0.8"/>
<circle cx="454.7" cy="389.9" r="1.6" fill="#ff1414" fill-opacity="0.8"/>
<circle cx="483.4" cy="384.7" r="1.6" fill="#ff1414" fill-opacity="0.8"/>
<circle cx="459.6" cy="418.6" r="1.6" fill="#ff1414" fill-opacity="0.8"/>
<circle cx="460.0" cy="383.4" r="1.6" fill="#ff1414" fill-opacity="0.8"/>
<circle cx="449.7" cy="400.6" r="1.6" fill="#ff1414" fill-opacity="0.8"/>
<circle cx="435.8" cy="372.0" r="1.6" fill="#ff1414" fill-opacity="0.8"/>
<circle cx="427.7" cy="390.2" r="1.6" fill="#ff1414" fill-opacity="0.8"/>
<circle cx="446.9" cy="393.9" r="1.6" fill="#ff1414" fill-opacity="0.8"/>
<circle cx="457.0" cy="345.0" r="1.6" fill="#ff1414" fill-opacity="0.8"/>
<circle cx="443.0" cy="359.9" r="1.6" fill="#ff1414" fill-opacity="0.8"/>
<circle cx="451.1" cy="399.0" r="1.6" fill="#ff1414" fill-opacity="0.8"/>
<circle cx="461.1" cy="368.0" r="1.6" fill="#ff1414" fill-opacity="0.8"/>
<circle cx="426.5" cy="381.1" r="1.6" fill="#ff1414" fill-opacity="0.8"/>
<circle cx="456.8" cy="397.9" r="1.6" fill="#ff1414" fill-opacity="0.8"/>
<circle cx="426.0" cy="355.1" r="1.6" fill="#ff1414" fill-opacity="0.8"/>
<circle cx="450.4" cy="342.5" r="1.6" fill="#ff1414" fill-opacity="0.8"/>
<circle cx="439.2" cy="402.0" r="1.6" fill="#ff1414" fill-opacity="0.8"/>
<circle cx="465.0" cy="364.0" r="1.6" fill="#ff1414" fill-opacity="0.8"/>
<circle cx="439.1" cy="394.8" r="1.6" fill="#ff1414" fill-opacity="0.8"/>
<circle cx="453.8" cy="412.7" r="1.6" fill="#ff1414" fill-opacity="0.8"/>
<circle cx="472.5" cy="409.3" r="1.6" fill="#ff1414" fill-opacity="0.8"/>
<circle cx="446.7" cy="400.8" r="1.6" fill="#ff1414" fill-opacity="0.8"/>
<circle cx="427.3" cy="362.3" r="1.6" fill="#ff1414" fill-opacity="0.8"/>
<circle cx="483.5" cy="398.2" r="1.6" fill="#ff1414" fill-opacity="0.8"/>
<circle cx="449.8" cy="372.6" r="1.6" fill="#ff1414" fill-opacity="0.8"/>
<circle cx="445.0" cy="423.7" r="1.6" fill="#ff1414" fill-opacity="0.8"/>
<circle cx="449.5" cy="409.1" r="1.6" fill="#ff1414" fill-opacity="0.8"/>
<circle cx="448.7" cy="423.0" r="1.6" fill="#ff1414" fill-opacity="0.8"/>
<circle cx="464.8" cy="407.6" r="1.6" fill="#ff1414" fill-opacity="0.8"/>
<circle cx="478.2" cy="387.5" r="1.6" fill="#ff1414" fill-opacity="0.8"/>
<circle cx="477.4" cy="403.8" r="1.6" fill="#ff1414" fill-opacity="0.8"/>
<circle cx="450.4" cy="386.8" r="1.6" fill="#ff1414" fill-opacity="0.8"/>
<circle cx="435.8" cy="397.0" r="1.6" fill="#ff1414" fill-opacity="0.8"/>
<circle cx="463.9" cy="403.4" r="1.6" fill="#ff1414" fill-opacity="0.8"/>
<circle cx="444.6" cy="431.3" r="1.6" fill="#ff1414" fill-opacity="0.8"/>
<circle cx="430.1" cy="405.7" r="1.6" fill="#ff1414" fill-opacity="0.8"/>
<circle cx="464.9" cy="367.5" r="1.6" fill="#ff1414" fill-opacity="0.8"/>
<circle cx="430.8" cy="394.1" r="1.6" fill="#ff1414" fill-opacity="0.8"/>
<circle cx="437.4" cy="411.7" r="1.6" fill="#ff1414" fill-opacity="0.8"/>
<circle cx="428.1" cy="399.7" r="1.6" fill="#ff1414" fill-opacity="0.8"/>
<circle cx="462.8" cy="385.5" r="1.6" fill="#ff1414" fill-opacity="0.8"/>
<circle cx="443.9" cy="382.6" r="1.6" fill="#ff1414" fill-opacity="0.8"/>
<circle cx="484.2" cy="389.9" r="1.6" fill="#ff1414" fill-opacity="0.8"/>
<circle cx="435.4" cy="402.8" r="1.6" fill="#ff1414" fill-opacity="0.8"/>
<circle cx="446.5" cy="384.5" r="1.6" fill="#ff1414" fill-opacity="0.8"/>
<circle cx="451.2" cy="389.3" r="1.6" fill="#ff1414" fill-opacity="0.8"/>
<circle cx="438.8" cy="410.5" r="1.6" fill="#ff1414" fill-opacity="0.8"/>
<circle cx="471.3" cy="376.5" r="1.6" fill="#ff1414" fill-opacity="0.8"/>
<circle cx="437.1" cy="392.1" r="1.6" fill="#ff1414" fill-opacity="0.8"/>
<circle cx="448.3" cy="430.6" r="1.6" fill="#ff1414" fill-opacity="0.8"/>
<circle cx="474.8" cy="391.3" r="1.6" fill="#ff1414" fill-opacity="0.8"/>
<circle cx="457.3" cy="409.8" r="1.6" fill="#ff1414" fill-opacity="0.8"/>
<circle cx="457.4" cy="376.3" r="1.6" fill="#ff1414" fill-opacity="0.8"/>
<circle cx="436.7" cy="400.8" r="1.6" fill="#ff1414" fill-opacity="0.8"/>
<circle cx="455.2" cy="405.8" r="1.6" fill="#ff1414" fill-opacity="0.8"/>
<circle cx="452.7" cy="352.5" r="1.6" fill="#ff1414" fill-opacity="0.8"/>
<circle cx="424.7" cy="361.3" r="1.6" fill="#ff1414" fill-opacity="0.8"/>
<circle cx="451.5" cy="420.7" r="1.6" fill="#ff1414" fill-opacity="0.8"/>
<circle cx="431.6" cy="409.6" r="1.6" fill="#ff1414" fill-opacity="0.8"/>
<circle cx="474.2" cy="394.8" r="1.6" fill="#ff1414" fill-opacity="0.8"/>
<circle cx="450.5" cy="362.7" r="1.6" fill="#ff1414" fill-opacity="0.8"/>
<circle cx="462.6" cy="411.7" r="1.6" fill="#ff1414" fill-opacity="0.8"/>
<circle cx="454.5" cy="369.8" r="1.6" fill="#ff1414" fill-opacity="0.8"/>
<circle cx="430.1" cy="376.3" r="1.6" fill="#ff1414" fill-opacity="0.8"/>
<circle cx="442.2" cy="357.3" r="1.6" fill="#ff1414" fill-opacity="0.8"/>
<circle cx="478.3" cy="378.3" r="1.6" fill="#ff1414" fill-opacity="0.8"/>
<circle cx="438.6" cy="413.8" r="1.6" fill="#ff1414" fill-opacity="0.8"/>
<circle cx="482.4" cy="371.8" r="1.6" fill="#ff1414" fill-opacity="0.8"/>
<circle cx="478.0" cy="384.8" r="1.6" fill="#ff1414" fill-opacity="0.8"/>
<circle cx="465.6" cy="413.7" r="1.6" fill="#ff1414" fill-opacity="0.8"/>
<circle cx="466.0" cy="384.3" r="1.6" fill="#ff1414" fill-opacity="0.8"/>
<circle cx="473.5" cy="396.1" r="1.6" fill="#ff1414" fill-opacity="0.8"/>
<circle cx="463.1" cy="392.7" r="1.6" fill="#ff1414" fill-opacity="0.8"/>
<circle cx="449.8" cy="411.5" r="1.6" fill="#ff1414" fill-opacity="0.8"/>
<circle cx="483.2" cy="396.0" r="1.6" fill="#ff1414" fill-opacity="0.8"/>
<circle cx="437.8" cy="402.8" r="1.6" fill="#ff1414" fill-opacity="0.8"/>
<circle cx="432.9" cy="358.0" r="1.6" fill="#ff1414" fill-opacity="0.8"/>
<circle cx="433.2" cy="414.4" r="1.6" fill="#ff1414" fill-opacity="0.8"/>
<circle cx="431.5" cy="383.0" r="1.6" fill="#ff1414" fill-opacity="0.8"/>
<circle cx="449.1" cy="430.9" r="1.6" fill="#ff1414" fill-opacity="0.8"/>
<circle cx="447.9" cy="425.4" r="1.6" fill="#ff1414" fill-opacity="0.8"/>
<circle cx="427.1" cy="382.2" r="1.6" fill="#ff1414" fill-opacity="0.8"/>
<circle cx="469.9" cy="384.5" r="1.6" fill="#ff1414" fill-opacity="0.8"/>
<circle cx="467.6" cy="374.6" r="1.6" fill="#ff1414" fill-opacity="0.8"/>
<circle cx="469.9" cy="368.3" r="1.6" fill="#ff1414" fill-opacity="0.8"/>
<circle cx="453.6" cy="392.3" r="1.6" fill="#ff1414" fill-opacity="0.8"/>
<circle cx="448.1" cy="409.3" r="1.6" fill="#ff1414" fill-opacity="0.8"/>
<circle cx="477.3" cy="392.0" r="1.6" fill="#ff1414" fill-opacity="0.8"/>
<circle cx="461.4" cy="396.5" r="1.6" fill="#ff1414" fill-opacity="0.8"/>
<circle cx="430.8" cy="376.4" r="1.6" fill="#ff1414" fill-opacity="0.8"/>
<circle cx="437.0" cy="360.2" r="1.6" fill="#ff1414" fill-opacity="0.8"/>
<circle cx="434.3" cy="375.8" r="1.6" fill="#ff1414" fill-opacity="0.8"/>
<circle cx="468.7" cy="403.7" r="1.6" fill="#ff1414" fill-opacity="0.8"/>
<circle cx="435.0" cy="370.3" r="1.6" fill="#ff1414" fill-opacity="0.8"/>
<circle cx="431.2" cy="392.5" r="1.6" fill="#ff1414" fill-opacity="0.8"/>
<circle cx="471.7" cy="359.5" r="1.6" fill="#ff1414" fill-opacity="0.8"/>
<circle cx="433.9" cy="415.5" r="1.6" fill="#ff1414" fill-opacity="0.8"/>
<circle cx="457.6" cy="409.7" r="1.6" fill="#ff1414" fill-opacity="0.8"/>
<circle cx="465.9" cy="380.6" r="1.6" fill="#ff1414" fill-opacity="0.8"/>
<circle cx="461.7" cy="388.8" r="1.6" fill="#ff1414" fill-opacity="0.8"/>
<circle cx="443.2" cy="396.4" r="1.6" fill="#ff1414" fill-opacity="0.8"/>
<circle cx="465.8" cy="359.4" r="1.6" fill="#ff1414" fill-opacity="0.8"/>
<circle cx="426.6" cy="390.8" r="1.6" fill="#ff1414" fill-opacity="0.8"/>
<circle cx="454.0" cy="412.6" r="1.6" fill="#ff1414" fill-opacity="0.8"/>
<circle cx="456.3" cy="408.8" r="1.6" fill="#ff1414" fill-opacity="0.8"/>
<circle cx="421.5" cy="390.0" r="1.6" fill="#ff1414" fill-opacity="0.8"/>
<circle cx="438.0" cy="371.2" r="1.6" fill="#ff1414" fill-opacity="0.8"/>
<circle cx="432.9" cy="417.1" r="1.6" fill="#ff1414" fill-opacity="0.8"/>
<circle cx="447.8" cy="426.6" r="1.6" fill="#ff1414" fill-opacity="0.8"/>
<circle cx="443.8" cy="363.8" r="1.6" fill="#ff1414" fill-opacity="0.8"/>
<circle cx="444.0" cy="400.7" r="1.6" fill="#ff1414" fill-opacity="0.8"/>
<circle cx="443.7" cy="413.3" r="1.6" fill="#ff1414" fill-opacity="0.8"/>
<circle cx="478.8" cy="365.2" r="1.6" fill="#ff1414" fill-opacity="0.8"/>
<circle cx="474.5" cy="368.7" r="1.6" fill="#ff1414" fill-opacity="0.8"/>
<circle cx="484.0" cy="389.0" r="1.6" fill="#ff1414" fill-opacity="0.8"/>
<circle cx="448.0" cy="385.3" r="1.6" fill="#ff1414" fill-opacity="0.8"/>
<circle cx="487.8" cy="388.7" r="1.6" fill="#ff1414" fill-opacity="0.8"/>
<circle cx="453.0" cy="390.6" r="1.6" fill="#ff1414" fill-opacity="0.8"/>
<circle cx="473.6" cy="396.2" r="1.6" fill="#ff1414" fill-opacity="0.8"/>
<circle cx="437.5" cy="407.9" r="1.6" fill="#ff1414" fill-opacity="0.8"/>
<circle cx="462.2" cy="414.8" r="1.6" fill="#ff1414" fill-opacity="0.8"/>
<circle cx="440.1" cy="428.7" r="1.6" fill="#ff1414" fill-opacity="0.8"/>
<circle cx="419.7" cy="384.0" r="1.6" fill="#ff1414" fill-opacity="0.8"/>
<circle cx="443.6" cy="385.5" r="1.6" fill="#ff1414" fill-opacity="0.8"/>
<circle cx="455.9" cy="415.6" r="1.6" fill="#ff1414" fill-opacity="0.8"/>
<circle cx="437.1" cy="381.1" r="1.6" fill="#ff1414" fill-opacity="0.8"/>
<circle cx="471.0" cy="382.1" r="1.6" fill="#ff1414" fill-opacity="0.8"/>
<circle cx="440.5" cy="404.4" r="1.6" fill="#ff1414" fill-opacity="0.8"/>
<circle cx="468.7" cy="415.7" r="1.6" fill="#ff1414" fill-opacity="0.8"/>
<circle cx="462.3" cy="396.8" r="1.6" fill="#ff1414" fill-opacity="0.8"/>
<circle cx="452.0" cy="399.1" r="1.6" fill="#ff1414" fill-opacity="0.8"/>
<circle cx="438.3" cy="341.7" r="1.6" fill="#ff1414" fill-opacity="0.8"/>
<circle cx="442.4" cy="425.6" r="1.6" fill="#ff1414" fill-opacity="0.8"/>
<circle cx="456.0" cy="412.5" r="1.6" fill="#ff1414" fill-opacity="0.8"/>
<circle cx="448.0" cy="423.3" r="1.6" fill="#ff1414" fill-opacity="0.8"/>
<circle cx="475.5" cy="397.0" r="1.6" fill="#ff1414" fill-opacity="0.8"/>
<circle cx="464.7" cy="356.8" r="1.6" fill="#ff1414" fill-opacity="0.8"/>
<circle cx="443.2" cy="360.7" r="1.6" fill="#ff1414" fill-opacity="0.8"/>
<circle cx="446.1" cy="414.9" r="1.6" fill="#ff1414" fill-opacity="0.8"/>
<circle cx="471.3" cy="412.6" r="1.6" fill="#ff1414" fill-opacity="0.8"/>
<circle cx="436.3" cy="354.8" r="1.6" fill="#ff1414" fill-opacity="0.8"/>
<circle cx="480.4" cy="368.2" r="1.6" fill="#ff1414" fill-opacity="0.8"/>
<circle cx="454.3" cy="420.9" r="1.6" fill="#ff1414" fill-opacity="0.8"/>
<circle cx="431.0" cy="394.3" r="1.6" fill="#ff1414" fill-opacity="0.8"/>
<circle cx="431.5" cy="378.3" r="1.6" fill="#ff1414" fill-opacity="0.8"/>
<circle cx="448.3" cy="414.3" r="1.6" fill="#ff1414" fill-opacity="0.8"/>
<circle cx="434.5" cy="383.4" r="1.6" fill="#ff1414" fill-opacity="0.8"/>
<circle cx="452.8" cy="399.9" r="1.6" fill="#ff1414" fill-opacity="0.8"/>
<circle cx="442.2" cy="343.1" r="1.6" fill="#ff1414" fill-opacity="0.8"/>
<circle cx="435.9" cy="377.9" r="1.6" fill="#ff1414" fill-opacity="0.8"/>
<circle cx="444.7" cy="372.8" r="1.6" fill="#ff1414" fill-opacity="0.8"/>
<circle cx="482.1" cy="386.8" r="1.6" fill="#ff1414" fill-opacity="0.8"/>
<circle cx="437.1" cy="388.7" r="1.6" fill="#ff1414" fill-opacity="0.8"/>
<circle cx="423.7" cy="379.2" r="1.6" fill="#ff1414" fill-opacity="0.8"/>
<circle cx="452.5" cy="424.1" r="1.6" fill="#ff1414" fill-opacity="0.8"/>
<circle cx="481.1" cy="385.1" r="1.6" fill="#ff1414" fill-opacity="0.8"/>
<circle cx="480.3" cy="401.7" r="1.6" fill="#ff1414" fill-opacity="0.8"/>
<circle cx="447.3" cy="350.9" r="1.6" fill="#ff1414" fill-opacity="0.8"/>
<circle cx="424.7" cy="382.4" r="1.6" fill="#ff1414" fill-opacity="0.8"/>
<circle cx="456.9" cy="406.3" r="1.6" fill="#ff1414" fill-opacity="0.8"/>
<circle cx="454.4" cy="402.9" r="1.6" fill="#ff1414" fill-opacity="0.8"/>
<circle cx="438.6" cy="361.9" r="1.6" fill="#ff1414" fill-opacity="0.8"/>
<circle cx="433.4" cy="392.6" r="1.6" fill="#ff1414" fill-opacity="0.8"/>
<circle cx="428.0" cy="396.8" r="1.6" fill="#ff1414" fill-opacity="0.8"/>
<circle cx="459.5" cy="418.5" r="1.6" fill="#ff1414" fill-opacity="0.8"/>
<circle cx="440.8" cy="346.1" r="1.6" fill="#ff1414" fill-opacity="0.8"/>
<circle cx="436.7" cy="415.8" r="1.6" fill="#ff1414" fill-opacity="0.8"/>
<circle cx="455.3" cy="402.3" r="1.6" fill="#ff1414" fill-opacity="0.8"/>
<circle cx="464.2" cy="363.9" r="1.6" fill="#ff1414" fill-opacity="0.8"/>
<circle cx="419.4" cy="370.6" r="1.6" fill="#ff1414" fill-opacity="0.8"/>
<circle cx="447.0" cy="403.7" r="1.6" fill="#ff1414" fill-opacity="0.8"/>
<circle cx="436.1" cy="369.1" r="1.6" fill="#ff1414" fill-opacity="0.8"/>
<circle cx="480.9" cy="390.8" r="1.6" fill="#ff1414" fill-opacity="0.8"/>
<circle cx="476.7" cy="391.4" r="1.6" fill="#ff1414" fill-opacity="0.8"/>
<circle cx="451.6" cy="407.2" r="1.6" fill="#ff1414" fill-opacity="0.8"/>
<circle cx="437.3" cy="413.8" r="1.6" fill="#ff1414" fill-opacity="0.8"/>
<circle cx="477.8" cy="391.2" r="1.6" fill="#ff1414" fill-opacity="0.8"/>
<circle cx="461.2" cy="381.4" r="1.6" fill="#ff1414" fill-opacity="0.8"/>
<circle cx="463.3" cy="389.8" r="1.6" fill="#ff1414" fill-opacity="0.8"/>
<circle cx="445.7" cy="420.4" r="1.6" fill="#ff1414" fill-opacity="0.8"/>
<circle cx="445.9" cy="339.3" r="1.6" fill="#ff1414" fill-opacity="0.8"/>
<circle cx="454.8" cy="387.7" r="1.6" fill="#ff1414" fill-opacity="0.8"/>
<circle cx="449.8" cy="388.8" r="1.6" fill="#ff1414" fill-opacity="0.8"/>
<circle cx="425.9" cy="353.6" r="1.6" fill="#ff1414" fill-opacity="0.8"/>
<circle cx="422.9" cy="395.3" r="1.6" fill="#ff1414" fill-opacity="0.8"/>
<circle cx="457.7" cy="409.4" r="1.6" fill="#ff1414" fill-opacity="0.8"/>
<circle cx="463.8" cy="388.7" r="1.6" fill="#ff1414" fill-opacity="0.8"/>
<circle cx="458.2" cy="403.8" r="1.6" fill="#ff1414" fill-opacity="0.8"/>
<circle cx="467.2" cy="399.7" r="1.6" fill="#ff1414" fill-opacity="0.8"/>
<circle cx="437.6" cy="414.2" r="1.6" fill="#ff1414" fill-opacity="0.8"/>
<circle cx="477.6" cy="406.7" r="1.6" fill="#ff1414" fill-opacity="0.8"/>
<circle cx="483.2" cy="395.3" r="1.6" fill="#ff1414" fill-opacity="0.8"/>
<circle cx="482.8" cy="378.2" r="1.6" fill="#ff1414" fill-opacity="0.8"/>
<circle cx="463.7" cy="381.4" r="1.6" fill="#ff1414" fill-opacity="0.8"/>
<circle cx="430.6" cy="401.3" r="1.6" fill="#ff1414" fill-opacity="0.8"/>
<circle cx="447.2" cy="420.7" r="1.6" fill="#ff1414" fill-opacity="0.8"/>
<circle cx="428.5" cy="350.6" r="1.6" fill="#ff1414" fill-opacity="0.8"/>
<circle cx="451.1" cy="410.4" r="1.6" fill="#ff1414" fill-opacity="0.8"/>
<circle cx="436.7" cy="413.8" r="1.6" fill="#ff1414" fill-opacity="0.8"/>
<circle cx="422.0" cy="372.9" r="1.6" fill="#ff1414" fill-opacity="0.8"/>
<circle cx="450.6" cy="413.3" r="1.6" fill="#ff1414" fill-opacity="0.8"/>
<circle cx="460.3" cy="354.2" r="1.6" fill="#ff1414" fill-opacity="0.8"/>
<circle cx="448.2" cy="384.4" r="1.6" fill="#ff1414" fill-opacity="0.8"/>
<circle cx="443.8" cy="421.0" r="1.6" fill="#ff1414" fill-opacity="0.8"/>
<circle cx="485.9" cy="381.5" r="1.6" fill="#ff1414" fill-opacity="0.8"/>
<circle cx="479.0" cy="388.6" r="1.6" fill="#ff1414" fill-opacity="0.8"/>
<circle cx="424.7" cy="396.6" r="1.6" fill="#ff1414" fill-opacity="0.8"/>
<circle cx="443.4" cy="403.7" r="1.6" fill="#ff1414" fill-opacity="0.8"/>
<circle cx="447.8" cy="387.7" r="1.6" fill="#ff1414" fill-opacity="0.8"/>
<circle cx="482.1" cy="383.6" r="1.6" fill="#ff1414" fill-opacity="0.8"/>
<circle cx="460.0" cy="389.6" r="1.6" fill="#ff1414" fill-opacity="0.8"/>
<circle cx="459.4" cy="393.9" r="1.6" fill="#ff1414" fill-opacity="0.8"/>
<circle cx="428.6" cy="365.8" r="1.6" fill="#ff1414" fill-opacity="0.8"/>
<circle cx="462.4" cy="379.4" r="1.6" fill="#ff1414" fill-opacity="0.8"/>
<circle cx="437.2" cy="360.8" r="1.6" fill="#ff1414" fill-opacity="0.8"/>
<circle cx="440.0" cy="406.0" r="1.6" fill="#ff1414" fill-opacity="0.8"/>
<circle cx="426.8" cy="380.3" r="1.6" fill="#ff1414" fill-opacity="0.8"/>
<circle cx="468.9" cy="411.3" r="1.6" fill="#ff1414" fill-opacity="0.8"/>
<circle cx="471.6" cy="362.8" r="1.6" fill="#ff1414" fill-opacity="0.8"/>
<circle cx="431.4" cy="368.1" r="1.6" fill="#ff1414" fill-opacity="0.8"/>
<circle cx="464.4" cy="409.9" r="1.6" fill="#ff1414" fill-opacity="0.8"/>
<circle cx="444.3" cy="417.2" r="1.6" fill="#ff1414" fill-opacity="0.8"/>
<circle cx="477.3" cy="386.6" r="1.6" fill="#ff1414" fill-opacity="0.8"/>
<circle cx="467.1" cy="368.7" r="1.6" fill="#ff1414" fill-opacity="0.8"/>
<circle cx="449.2" cy="357.1" r="1.6" fill="#ff1414" fill-opacity="0.8"/>
<circle cx="441.8" cy="410.9" r="1.6" fill="#ff1414" fill-opacity="0.8"/>
<circle cx="468.2" cy="403.6" r="1.6" fill="#ff1414" fill-opacity="0.8"/>
<circle cx="420.7" cy="383.4" r="1.6" fill="#ff1414" fill-opacity="0.8"/>
<circle cx="466.9" cy="405.9" r="1.6" fill="#ff1414" fill-opacity="0.8"/>
<circle cx="423.4" cy="382.2" r="1.6" fill="#ff1414" fill-opacity="0.8"/>
<circle cx="431.6" cy="355.6" r="1.6" fill="#ff1414" fill-opacity="0.8"/>
<circle cx="483.8" cy="380.6" r="1.6" fill="#ff1414" fill-opacity="0.8"/>
<circle cx="445.2" cy="367.9" r="1.6" fill="#ff1414" fill-opacity="0.8"/>
<circle cx="475.4" cy="401.3" r="1.6" fill="#ff1414" fill-opacity="0.8"/>
<circle cx="441.4" cy="394.2" r="1.6" fill="#ff1414" fill-opacity="0.8"/>
<circle cx="436.4" cy="388.7" r="1.6" fill="#ff1414" fill-opacity="0.8"/>
<circle cx="454.8" cy="354.8" r="1.6" fill="#ff1414" fill-opacity="0.8"/>
<circle cx="472.1" cy="411.1" r="1.6" fill="#ff1414" fill-opacity="0.8"/>
<circle cx="473.3" cy="382.0" r="1.6" fill="#ff1414" fill-opacity="0.8"/>
<circle cx="456.0" cy="383.8" r="1.6" fill="#ff1414" fill-opacity="0.8"/>
<circle cx="431.7" cy="372.8" r="1.6" fill="#ff1414" fill-opacity="0.8"/>
<circle cx="455.2" cy="391.6" r="1.6" fill="#ff1414" fill-opacity="0.8"/>
<circle cx="481.6" cy="394.8" r="1.6" fill="#ff1414" fill-opacity="0.8"/>
<circle cx="464.4" cy="362.5" r="1.6" fill="#ff1414" fill-opacity="0.8"/>
<circle cx="463.2" cy="404.3" r="1.6" fill="#ff1414" fill-opacity="0.8"/>
<circle cx="433.2" cy="403.4" r="1.6" fill="#ff1414" fill-opacity="0.8"/>
<circle cx="453.9" cy="386.5" r="1.6" fill="#ff1414" fill-opacity="0.8"/>
<circle cx="459.5" cy="402.0" r="1.6" fill="#ff1414" fill-opacity="0.8"/>
<circle cx="453.8" cy="376.8" r="1.6" fill="#ff1414" fill-opacity="0.8"/>
<circle cx="476.6" cy="393.1" r="1.6" fill="#ff1414" fill-opacity="0.8"/>
<circle cx="452.4" cy="388.3" r="1.6" fill="#ff1414" fill-opacity="0.8"/>
<circle cx="454.3" cy="394.7" r="1.6" fill="#ff1414" fill-opacity="0.8"/>
<circle cx="451.4" cy="404.0" r="1.6" fill="#ff1414" fill-opacity="0.8"/>
<circle cx="433.4" cy="403.4" r="1.6" fill="#ff1414" fill-opacity="0.8"/>
<circle cx="432.3" cy="352.5" r="1.6" fill="#ff1414" fill-opacity="0.8"/>
<circle cx="483.4" cy="395.0" r="1.6" fill="#ff1414" fill-opacity="0.8"/>
<circle cx="471.1" cy="410.7" r="1.6" fill="#ff1414" fill-opacity="0.8"/>
<circle cx="462.4" cy="370.6" r="1.6" fill="#ff1414" fill-opacity="0.8"/>
<circle cx="468.6" cy="361.2" r="1.6" fill="#ff1414" fill-opacity="0.8"/>
<circle cx="467.4" cy="402.9" r="1.6" fill="#ff1414" fill-opacity="0.8"/>
<circle cx="463.8" cy="385.1" r="1.6" fill="#ff1414" fill-opacity="0.8"/>
<circle cx="433.3" cy="347.8" r="1.6" fill="#ff1414" fill-opacity="0.8"/>
<circle cx="478.5" cy="377.9" r="1.6" fill="#ff1414" fill-opacity="0.8"/>
<circle cx="437.9" cy="387.3" r="1.6" fill="#ff1414" fill-opacity="0.8"/>
<circle cx="440.5" cy="419.0" r="1.6" fill="#ff1414" fill-opacity="0.8"/>
<circle cx="442.1" cy="425.8" r="1.6" fill="#ff1414" fill-opacity="0.8"/>
<circle cx="481.3" cy="385.5" r="1.6" fill="#ff1414" fill-opacity="0.8"/>
<circle cx="483.2" cy="393.4" r="1.6" fill="#ff1414" fill-opacity="0.8"/>
<circle cx="461.0" cy="421.0" r="1.6" fill="#ff1414" fill-opacity="0.8"/>
<circle cx="456.7" cy="403.4" r="1.6" fill="#ff1414" fill-opacity="0.8"/>
<circle cx="458.4" cy="346.1" r="1.6" fill="#ff1414" fill-opacity="0.8"/>
<circle cx="421.1" cy="381.0" r="1.6" fill="#ff1414" fill-opacity="0.8"/>
<circle cx="449.7" cy="356.0" r="1.6" fill="#ff1414" fill-opacity="0.8"/>
<circle cx="449.3" cy="418.5" r="1.6" fill="#ff1414" fill-opacity="0.8"/>
<circle cx="478.0" cy="370.8" r="1.6" fill="#ff1414" fill-opacity="0.8"/>
<circle cx="440.7" cy="383.0" r="1.6" fill="#ff1414" fill-opacity="0.8"/>
<circle cx="474.6" cy="395.7" r="1.6" fill="#ff1414" fill-opacity="0.8"/>
<circle cx="448.7" cy="371.1" r="1.6" fill="#ff1414" fill-opacity="0.8"/>
<circle cx="456.5" cy="354.8" r="1.6" fill="#ff1414" fill-opacity="0.8"/>
<circle cx="422.5" cy="375.4" r="1.6" fill="#ff1414" fill-opacity="0.8"/>
<circle cx="459.6" cy="387.6" r="1.6" fill="#ff1414" fill-opacity="0.8"/>
<circle cx="428.0" cy="346.2" r="1.6" fill="#ff1414" fill-opacity="0.8"/>
<circle cx="430.1" cy="382.4" r="1.6" fill="#ff1414" fill-opacity="0.8"/>
<circle cx="480.3" cy="388.5" r="1.6" fill="#ff1414" fill-opacity="0.8"/>
<circle cx="449.3" cy="346.6" r="1.6" fill="#ff1414" fill-opacity="0.8"/>
<circle cx="468.0" cy="390.9" r="1.6" fill="#ff1414" fill-opacity="0.8"/>
<circle cx="431.0" cy="396.6" r="1.6" fill="#ff1414" fill-opacity="0.8"/>
<circle cx="467.3" cy="378.2" r="1.6" fill="#ff1414" fill-opacity="0.8"/>
<circle cx="429.2" cy="356.6" r="1.6" fill="#ff1414" fill-opacity="0.8"/>
<circle cx="432.4" cy="416.7" r="1.6" fill="#ff1414" fill-opacity="0.8"/>
<circle cx="469.3" cy="364.3" r="1.6" fill="#ff1414" fill-opacity="0.8"/>
<circle cx="440.8" cy="362.1" r="1.6" fill="#ff1414" fill-opacity="0.8"/>
<circle cx="434.9" cy="419.3" r="1.6" fill="#ff1414" fill-opacity="0.8"/>
<circle cx="437.5" cy="392.1" r="1.6" fill="#ff1414" fill-opacity="0.8"/>
<circle cx="447.0" cy="349.7" r="1.6" fill="#ff1414" fill-opacity="0.8"/>
<circle cx="439.2" cy="386.0" r="1.6" fill="#ff1414" fill-opacity="0.8"/>
<circle cx="471.1" cy="403.8" r="1.6" fill="#ff1414" fill-opacity="0.8"/>
<circle cx="471.4" cy="385.3" r="1.6" fill="#ff1414" fill-opacity="0.8"/>
<circle cx="465.0" cy="364.8" r="1.6" fill="#ff1414" fill-opacity="0.8"/>
<circle cx="442.2" cy="398.7" r="1.6" fill="#ff1414" fill-opacity="0.8"/>
<circle cx="470.8" cy="414.3" r="1.6" fill="#ff1414" fill-opacity="0.8"/>
<circle cx="456.7" cy="418.9" r="1.6" fill="#ff1414" fill-opacity="0.8"/>
<circle cx="479.3" cy="387.8" r="1.6" fill="#ff1414" fill-opacity="0.8"/>
<circle cx="460.7" cy="418.9" r="1.6" fill="#ff1414" fill-opacity="0.8"/>
<circle cx="446.2" cy="365.5" r="1.6" fill="#ff1414" fill-opacity="0.8"/>
<circle cx="473.0" cy="401.1" r="1.6" fill="#ff1414" fill-opacity="0.8"/>
<circle cx="439.3" cy="428.3" r="1.6" fill="#ff1414" fill-opacity="0.8"/>
<circle cx="479.1" cy="382.1" r="1.6" fill="#ff1414" fill-opacity="0.8"/>
<circle cx="446.6" cy="377.5" r="1.6" fill="#ff1414" fill-opacity="0.8"/>
<circle cx="478.6" cy="381.1" r="1.6" fill="#ff1414" fill-opacity="0.8"/>
<circle cx="426.8" cy="365.4" r="1.6" fill="#ff1414" fill-opacity="0.8"/>
<circle cx="452.5" cy="421.4" r="1.6" fill="#ff1414" fill-opacity="0.8"/>
<circle cx="453.7" cy="407.1" r="1.6" fill="#ff1414" fill-opacity="0.8"/>
<circle cx="426.1" cy="365.7" r="1.6" fill="#ff1414" fill-opacity="0.8"/>
<circle cx="441.7" cy="430.1" r="1.6" fill="#ff1414" fill-opacity="0.8"/>
<circle cx="430.3" cy="406.2" r="1.6" fill="#ff1414" fill-opacity="0.8"/>
<circle cx="454.7" cy="410.2" r="1.6" fill="#ff1414" fill-opacity="0.8"/>
<circle cx="461.9" cy="416.3" r="1.6" fill="#ff1414" fill-opacity="0.8"/>
<circle cx="476.3" cy="375.0" r="1.6" fill="#ff1414" fill-opacity="0.8"/>
<circle cx="435.1" cy="411.2" r="1.6" fill="#ff1414" fill-opacity="0.8"/>
<circle cx="435.4" cy="404.5" r="1.6" fill="#ff1414" fill-opacity="0.8"/>
<circle cx="435.0" cy="420.4" r="1.6" fill="#ff1414" fill-opacity="0.8"/>
<circle cx="439.0" cy="373.2" r="1.6" fill="#ff1414" fill-opacity="0.8"/>
<circle cx="452.3" cy="419.4" r="1.6" fill="#ff1414" fill-opacity="0.8"/>
<circle cx="419.5" cy="379.0" r="1.6" fill="#ff1414" fill-opacity="0.8"/>
<circle cx="485.5" cy="391.0" r="1.6" fill="#ff1414" fill-opacity="0.8"/>
<circle cx="448.1" cy="409.8" r="1.6" fill="#ff1414" fill-opacity="0.8"/>
<circle cx="432.9" cy="382.3" r="1.6" fill="#ff1414" fill-opacity="0.8"/>
<circle cx="454.7" cy="424.8" r="1.6" fill="#ff1414" fill-opacity="0.8"/>
<circle cx="465.3" cy="388.4" r="1.6" fill="#ff1414" fill-opacity="0.8"/>
<circle cx="430.2" cy="394.1" r="1.6" fill="#ff1414" fill-opacity="0.8"/>
<circle cx="474.3" cy="389.6" r="1.6" fill="#ff1414" fill-opacity="0.8"/>
<circle cx="461.0" cy="416.3" r="1.6" fill="#ff1414" fill-opacity="0.8"/>
<circle cx="435.8" cy="378.8" r="1.6" fill="#ff1414" fill-opacity="0.8"/>
<circle cx="457.3" cy="354.3" r="1.6" fill="#ff1414" fill-opacity="0.8"/>
<circle cx="429.5" cy="391.5" r="1.6" fill="#ff1414" fill-opacity="0.8"/>
<circle cx="465.6" cy="359.4" r="1.6" fill="#ff1414" fill-opacity="0.8"/>
<circle cx="425.1" cy="369.5" r="1.6" fill="#ff1414" fill-opacity="0.8"/>
<circle cx="432.6" cy="360.9" r="1.6" fill="#ff1414" fill-opacity="0.8"/>
<circle cx="428.4" cy="382.7" r="1.6" fill="#ff1414" fill-opacity="0.8"/>
<circle cx="431.4" cy="339.9" r="1.6" fill="#ff1414" fill-opacity="0.8"/>
<circle cx="447.9" cy="362.0" r="1.6" fill="#ff1414" fill-opacity="0.8"/>
<circle cx="469.3" cy="376.8" r="1.6" fill="#ff1414" fill-opacity="0.8"/>
<circle cx="474.8" cy="408.0" r="1.6" fill="#ff1414" fill-opacity="0.8"/>
<circle cx="468.9" cy="411.2" r="1.6" fill="#ff1414" fill-opacity="0.8"/>
<circle cx="452.9" cy="392.4" r="1.6" fill="#ff1414" fill-opacity="0.8"/>
<circle cx="429.5" cy="346.3" r="1.6" fill="#ff1414" fill-opacity="0.8"/>
<circle cx="444.6" cy="398.2" r="1.6" fill="#ff1414" fill-opacity="0.8"/>
<circle cx="460.4" cy="363.1" r="1.6" fill="#ff1414" fill-opacity="0.8"/>
<circle cx="472.5" cy="395.5" r="1.6" fill="#ff1414" fill-opacity="0.8"/>
<circle cx="438.1" cy="416.9" r="1.6" fill="#ff1414" fill-opacity="0.8"/>
<circle cx="464.9" cy="397.2" r="1.6" fill="#ff1414" fill-opacity="0.8"/>
<circle cx="480.7" cy="384.7" r="1.6" fill="#ff1414" fill-opacity="0.8"/>
<circle cx="444.6" cy="431.2" r="1.6" fill="#ff1414" fill-opacity="0.8"/>
<circle cx="442.9" cy="402.5" r="1.6" fill="#ff1414" fill-opacity="0.8"/>
<circle cx="473.9" cy="406.1" r="1.6" fill="#ff1414" fill-opacity="0.8"/>
<circle cx="430.3" cy="357.7" r="1.6" fill="#ff1414" fill-opacity="0.8"/>
<circle cx="468.7" cy="383.7" r="1.6" fill="#ff1414" fill-opacity="0.8"/>
<circle cx="463.9" cy="393.5" r="1.6" fill="#ff1414" fill-opacity="0.8"/>
<circle cx="459.9" cy="416.2" r="1.6" fill="#ff1414" fill-opacity="0.8"/>
<circle cx="448.8" cy="394.3" r="1.6" fill="#ff1414" fill-opacity="0.8"/>
<circle cx="438.0" cy="372.8" r="1.6" fill="#ff1414" fill-opacity="0.8"/>
<circle cx="433.6" cy="414.3" r="1.6" fill="#ff1414" fill-opacity="0.8"/>
<circle cx="466.9" cy="374.8" r="1.6" fill="#ff1414" fill-opacity="0.8"/>
<circle cx="437.3" cy="407.4" r="1.6" fill="#ff1414" fill-opacity="0.8"/>
<circle cx="420.8" cy="383.6" r="1.6" fill="#ff1414" fill-opacity="0.8"/>
<circle cx="444.4" cy="397.6" r="1.6" fill="#ff1414" fill-opacity="0.8"/>
<circle cx="451.9" cy="384.5" r="1.6" fill="#ff1414" fill-opacity="0.8"/>
<circle cx="424.6" cy="387.0" r="1.6" fill="#ff1414" fill-opacity="0.8"/>
<circle cx="462.1" cy="416.0" r="1.6" fill="#ff1414" fill-opacity="0.8"/>
<circle cx="472.4" cy="385.4" r="1.6" fill="#ff1414" fill-opacity="0.8"/>
<circle cx="458.7" cy="366.6" r="1.6" fill="#ff1414" fill-opacity="0.8"/>
<circle cx="450.2" cy="371.1" r="1.6" fill="#ff1414" fill-opacity="0.8"/>
<circle cx="419.9" cy="360.7" r="1.6" fill="#ff1414" fill-opacity="0.8"/>
<circle cx="445.8" cy="371.6" r="1.6" fill="#ff1414" fill-opacity="0.8"/>
<circle cx="451.0" cy="416.8" r="1.6" fill="#ff1414" fill-opacity="0.8"/>
<circle cx="428.1" cy="390.9" r="1.6" fill="#ff1414" fill-opacity="0.8"/>
<circle cx="436.9" cy="394.6" r="1.6" fill="#ff1414" fill-opacity="0.8"/>
<circle cx="471.4" cy="399.7" r="1.6" fill="#ff1414" fill-opacity="0.8"/>
<circle cx="463.0" cy="385.7" r="1.6" fill="#ff1414" fill-opacity="0.8"/>
<circle cx="443.7" cy="379.8" r="1.6" fill="#ff1414" fill-opacity="0.8"/>
<circle cx="478.6" cy="396.2" r="1.6" fill="#ff1414" fill-opacity="0.8"/>
<circle cx="455.1" cy="412.9" r="1.6" fill="#ff1414" fill-opacity="0.8"/>
<circle cx="451.8" cy="430.4" r="1.6" fill="#ff1414" fill-opacity="0.8"/>
<circle cx="469.6" cy="388.4" r="1.6" fill="#ff1414" fill-opacity="0.8"/>
<circle cx="439.5" cy="363.3" r="1.6" fill="#ff1414" fill-opacity="0.8"/>
<circle cx="485.3" cy="394.5" r="1.6" fill="#ff1414" fill-opacity="0.8"/>
<circle cx="438.1" cy="420.7" r="1.6" fill="#ff1414" fill-opacity="0.8"/>
<circle cx="473.5" cy="403.5" r="1.6" fill="#ff1414" fill-opacity="0.8"/>
<circle cx="469.4" cy="373.2" r="1.6" fill="#ff1414" fill-opacity="0.8"/>
<circle cx="482.4" cy="396.7" r="1.6" fill="#ff1414" fill-opacity="0.8"/>
<circle cx="430.6" cy="390.2" r="1.6" fill="#ff1414" fill-opacity="0.8"/>
<circle cx="424.4" cy="382.6" r="1.6" fill="#ff1414" fill-opacity="0.8"/>
<circle cx="463.3" cy="419.1" r="1.6" fill="#ff1414" fill-opacity="0.8"/>
<circle cx="422.7" cy="352.0" r="1.6" fill="#ff1414" fill-opacity="0.8"/>
<circle cx="457.0" cy="345.6" r="1.6" fill="#ff1414" fill-opacity="0.8"/>
<circle cx="473.1" cy="386.4" r="1.6" fill="#ff1414" fill-opacity="0.8"/>
<circle cx="472.7" cy="372.5" r="1.6" fill="#ff1414" fill-opacity="0.8"/>
<circle cx="462.9" cy="411.6" r="1.6" fill="#ff1414" fill-opacity="0.8"/>
<circle cx="447.0" cy="405.3" r="1.6" fill="#ff1414" fill-opacity="0.8"/>
<circle cx="430.2" cy="389.9" r="1.6" fill="#ff1414" fill-opacity="0.8"/>
<circle cx="459.5" cy="395.2" r="1.6" fill="#ff1414" fill-opacity="0.8"/>
<circle cx="438.4" cy="415.9" r="1.6" fill="#ff1414" fill-opacity="0.8"/>
<circle cx="441.1" cy="369.7" r="1.6" fill="#ff1414" fill-opacity="0.8"/>
<circle cx="453.6" cy="366.0" r="1.6" fill="#ff1414" fill-opacity="0.8"/>
<circle cx="462.7" cy="390.1" r="1.6" fill="#ff1414" fill-opacity="0.8"/>
<circle cx="425.6" cy="398.6" r="1.6" fill="#ff1414" fill-opacity="0.8"/>
<circle cx="485.9" cy="390.5" r="1.6" fill="#ff1414" fill-opacity="0.8"/>
<circle cx="445.0" cy="402.9" r="1.6" fill="#ff1414" fill-opacity="0.8"/>
<circle cx="467.1" cy="383.1" r="1.6" fill="#ff1414" fill-opacity="0.8"/>
<circle cx="475.0" cy="396.0" r="1.6" fill="#ff1414" fill-opacity="0.8"/>
<circle cx="455.9" cy="410.0" r="1.6" fill="#ff1414" fill-opacity="0.8"/>
<circle cx="442.2" cy="402.1" r="1.6" fill="#ff1414" fill-opacity="0.8"/>
<circle cx="458.9" cy="410.2" r="1.6" fill="#ff1414" fill-opacity="0.8"/>
<circle cx="427.3" cy="345.6" r="1.6" fill="#ff1414" fill-opacity="0.8"/>
<circle cx="453.7" cy="362.8" r="1.6" fill="#ff1414" fill-opacity="0.8"/>
<circle cx="439.2" cy="418.6" r="1.6" fill="#ff1414" fill-opacity="0.8"/>
<circle cx="443.5" cy="394.6" r="1.6" fill="#ff1414" fill-opacity="0.8"/>
<circle cx="435.9" cy="401.6" r="1.6" fill="#ff1414" fill-opacity="0.8"/>
<circle cx="447.9" cy="377.0" r="1.6" fill="#ff1414" fill-opacity="0.8"/>
<circle cx="474.4" cy="409.1" r="1.6" fill="#ff1414" fill-opacity="0.8"/>
<circle cx="464.0" cy="403.1" r="1.6" fill="#ff1414" fill-opacity="0.8"/>
<circle cx="450.6" cy="357.7" r="1.6" fill="#ff1414" fill-opacity="0.8"/>
<circle cx="477.9" cy="387.2" r="1.6" fill="#ff1414" fill-opacity="0.8"/>
<circle cx="427.9" cy="357.0" r="1.6" fill="#ff1414" fill-opacity="0.8"/>
<circle cx="444.7" cy="402.2" r="1.6" fill="#ff1414" fill-opacity="0.8"/>
<circle cx="452.2" cy="386.2" r="1.6" fill="#ff1414" fill-opacity="0.8"/>
<circle cx="451.7" cy="380.9" r="1.6" fill="#ff1414" fill-opacity="0.8"/>
<circle cx="473.6" cy="382.5" r="1.6" fill="#ff1414" fill-opacity="0.8"/>
<circle cx="432.4" cy="391.9" r="1.6" fill="#ff1414" fill-opacity="0.8"/>
<circle cx="434.0" cy="393.5" r="1.6" fill="#ff1414" fill-opacity="0.8"/>
<circle cx="457.9" cy="417.1" r="1.6" fill="#ff1414" fill-opacity="0.8"/>
<circle cx="440.6" cy="406.4" r="1.6" fill="#ff1414" fill-opacity="0.8"/>
<circle cx="438.4" cy="382.4" r="1.6" fill="#ff1414" fill-opacity="0.8"/>
<circle cx="427.6" cy="368.2" r="1.6" fill="#ff1414" fill-opacity="0.8"/>
<circle cx="477.7" cy="403.4" r="1.6" fill="#ff1414" fill-opacity="0.8"/>
<circle cx="442.9" cy="381.7" r="1.6" fill="#ff1414" fill-opacity="0.8"/>
<circle cx="467.6" cy="394.8" r="1.6" fill="#ff1414" fill-opacity="0.8"/>
<circle cx="425.9" cy="388.1" r="1.6" fill="#ff1414" fill-opacity="0.8"/>
<circle cx="434.5" cy="380.2" r="1.6" fill="#ff1414" fill-opacity="0.8"/>
<circle cx="426.1" cy="372.8" r="1.6" fill="#ff1414" fill-opacity="0.8"/>
<circle cx="451.5" cy="394.1" r="1.6" fill="#ff1414" fill-opacity="0.8"/>
<circle cx="458.0" cy="387.1" r="1.6" fill="#ff1414" fill-opacity="0.8"/>
<circle cx="422.5" cy="392.0" r="1.6" fill="#ff1414" fill-opacity="0.8"/>
<circle cx="485.6" cy="386.3" r="1.6" fill="#ff1414" fill-opacity="0.8"/>
<circle cx="443.2" cy="393.4" r="1.6" fill="#ff1414" fill-opacity="0.8"/>
<circle cx="468.5" cy="414.8" r="1.6" fill="#ff1414" fill-opacity="0.8"/>
<circle cx="427.0" cy="390.4" r="1.6" fill="#ff1414" fill-opacity="0.8"/>
<circle cx="451.0" cy="410.5" r="1.6" fill="#ff1414" fill-opacity="0.8"/>
<circle cx="453.6" cy="412.4" r="1.6" fill="#ff1414" fill-opacity="0.8"/>
<circle cx="465.4" cy="391.1" r="1.6" fill="#ff1414" fill-opacity="0.8"/>
<circle cx="467.8" cy="363.2" r="1.6" fill="#ff1414" fill-opacity="0.8"/>
<circle cx="472.2" cy="401.0" r="1.6" fill="#ff1414" fill-opacity="0.8"/>
<circle cx="437.8" cy="363.8" r="1.6" fill="#ff1414" fill-opacity="0.8"/>
<circle cx="469.4" cy="415.0" r="1.6" fill="#ff1414" fill-opacity="0.8"/>
<circle cx="448.6" cy="372.8" r="1.6" fill="#ff1414" fill-opacity="0.8"/>
<circle cx="448.4" cy="338.5" r="1.6" fill="#ff1414" fill-opacity="0.8"/>
<circle cx="423.8" cy="397.6" r="1.6" fill="#ff1414" fill-opacity="0.8"/>
<circle cx="447.3" cy="387.9" r="1.6" fill="#ff1414" fill-opacity="0.8"/>
<circle cx="450.6" cy="383.3" r="1.6" fill="#ff1414" fill-opacity="0.8"/>
<circle cx="482.2" cy="377.0" r="1.6" fill="#ff1414" fill-opacity="0.8"/>
<circle cx="468.2" cy="403.4" r="1.6" fill="#ff1414" fill-opacity="0.8"/>
<circle cx="467.3" cy="354.8" r="1.6" fill="#ff1414" fill-opacity="0.8"/>
<circle cx="428.6" cy="384.1" r="1.6" fill="#ff1414" fill-opacity="0.8"/>
<circle cx="438.4" cy="366.0" r="1.6" fill="#ff1414" fill-opacity="0.8"/>
<circle cx="450.9" cy="394.2" r="1.6" fill="#ff1414" fill-opacity="0.8"/>
<circle cx="447.1" cy="400.4" r="1.6" fill="#ff1414" fill-opacity="0.8"/>
<circle cx="473.3" cy="388.9" r="1.6" fill="#ff1414" fill-opacity="0.8"/>
<circle cx="462.9" cy="409.0" r="1.6" fill="#ff1414" fill-opacity="0.8"/>
<circle cx="456.1" cy="411.0" r="1.6" fill="#ff1414" fill-opacity="0.8"/>
<circle cx="469.2" cy="415.7" r="1.6" fill="#ff1414" fill-opacity="0.8"/>
<circle cx="452.7" cy="425.5" r="1.6" fill="#ff1414" fill-opacity="0.8"/>
<circle cx="485.6" cy="378.6" r="1.6" fill="#ff1414" fill-opacity="0.8"/>
<circle cx="467.7" cy="362.1" r="1.6" fill="#ff1414" fill-opacity="0.8"/>
<circle cx="444.4" cy="413.5" r="1.6" fill="#ff1414" fill-opacity="0.8"/>
<circle cx="443.2" cy="401.2" r="1.6" fill="#ff1414" fill-opacity="0.8"/>
<circle cx="483.0" cy="395.3" r="1.6" fill="#ff1414" fill-opacity="0.8"/>
<circle cx="431.3" cy="376.9" r="1.6" fill="#ff1414" fill-opacity="0.8"/>
<circle cx="456.2" cy="385.5" r="1.6" fill="#ff1414" fill-opacity="0.8"/>
<circle cx="430.8" cy="340.7" r="1.6" fill="#ff1414" fill-opacity="0.8"/>
<circle cx="441.8" cy="396.2" r="1.6" fill="#ff1414" fill-opacity="0.8"/>
<circle cx="472.0" cy="381.8" r="1.6" fill="#ff1414" fill-opacity="0.8"/>
<circle cx="455.6" cy="374.7" r="1.6" fill="#ff1414" fill-opacity="0.8"/>
<circle cx="460.9" cy="404.5" r="1.6" fill="#ff1414" fill-opacity="0.8"/>
<circle cx="421.0" cy="386.2" r="1.6" fill="#ff1414" fill-opacity="0.8"/>
<circle cx="445.4" cy="410.1" r="1.6" fill="#ff1414" fill-opacity="0.8"/>
<circle cx="438.4" cy="359.9" r="1.6" fill="#ff1414" fill-opacity="0.8"/>
<circle cx="457.3" cy="404.3" r="1.6" fill="#ff1414" fill-opacity="0.8"/>
<circle cx="447.3" cy="407.0" r="1.6" fill="#ff1414" fill-opacity="0.8"/>
<circle cx="469.7" cy="391.1" r="1.6" fill="#ff1414" fill-opacity="0.8"/>
<circle cx="477.5" cy="366.9" r="1.6" fill="#ff1414" fill-opacity="0.8"/>
<circle cx="433.9" cy="414.4" r="1.6" fill="#ff1414" fill-opacity="0.8"/>
<circle cx="437.9" cy="375.0" r="1.6" fill="#ff1414" fill-opacity="0.8"/>
<circle cx="435.4" cy="401.5" r="1.6" fill="#ff1414" fill-opacity="0.8"/>
<circle cx="480.5" cy="395.6" r="1.6" fill="#ff1414" fill-opacity="0.8"/>
<circle cx="433.5" cy="409.3" r="1.6" fill="#ff1414" fill-opacity="0.8"/>
<circle cx="425.3" cy="392.4" r="1.6" fill="#ff1414" fill-opacity="0.8"/>
<circle cx="440.1" cy="376.9" r="1.6" fill="#ff1414" fill-opacity="0.8"/>
<circle cx="464.0" cy="407.3" r="1.6" fill="#ff1414" fill-opacity="0.8"/>
<circle cx="452.2" cy="402.7" r="1.6" fill="#ff1414" fill-opacity="0.8"/>
<circle cx="449.1" cy="429.5" r="1.6" fill="#ff1414" fill-opacity="0.8"/>
<circle cx="466.0" cy="404.7" r="1.6" fill="#ff1414" fill-opacity="0.8"/>
<circle cx="444.2" cy="412.7" r="1.6" fill="#ff1414" fill-opacity="0.8"/>
<circle cx="431.0" cy="400.1" r="1.6" fill="#ff1414" fill-opacity="0.8"/>
<circle cx="472.9" cy="383.4" r="1.6" fill="#ff1414" fill-opacity="0.8"/>
<circle cx="444.8" cy="343.6" r="1.6" fill="#ff1414" fill-opacity="0.8"/>
<circle cx="420.8" cy="388.7" r="1.6" fill="#ff1414" fill-opacity="0.8"/>
<circle cx="469.4" cy="360.1" r="1.6" fill="#ff1414" fill-opacity="0.8"/>
<circle cx="463.5" cy="397.3" r="1.6" fill="#ff1414" fill-opacity="0.8"/>
<circle cx="453.6" cy="341.4" r="1.6" fill="#ff1414" fill-opacity="0.8"/>
<circle cx="479.9" cy="372.7" r="1.6" fill="#ff1414" fill-opacity="0.8"/>
<circle cx="466.8" cy="415.6" r="1.6" fill="#ff1414" fill-opacity="0.8"/>
<circle cx="440.9" cy="428.4" r="1.6" fill="#ff1414" fill-opacity="0.8"/>
<circle cx="438.1" cy="411.4" r="1.6" fill="#ff1414" fill-opacity="0.8"/>
<circle cx="453.1" cy="373.0" r="1.6" fill="#ff1414" fill-opacity="0.8"/>
<circle cx="434.1" cy="374.8" r="1.6" fill="#ff1414" fill-opacity="0.8"/>
<circle cx="483.3" cy="389.2" r="1.6" fill="#ff1414" fill-opacity="0.8"/>
<circle cx="418.8" cy="377.2" r="1.6" fill="#ff1414" fill-opacity="0.8"/>
<circle cx="459.5" cy="417.9" r="1.6" fill="#ff1414" fill-opacity="0.8"/>
<circle cx="467.3" cy="403.1" r="1.6" fill="#ff1414" fill-opacity="0.8"/>
<circle cx="452.9" cy="405.1" r="1.6" fill="#ff1414" fill-opacity="0.8"/>
<circle cx="455.1" cy="379.1" r="1.6" fill="#ff1414" fill-opacity="0.8"/>
<circle cx="447.2" cy="368.5" r="1.6" fill="#ff1414" fill-opacity="0.8"/>
<circle cx="461.3" cy="388.2" r="1.6" fill="#ff1414" fill-opacity="0.8"/>
<circle cx="455.0" cy="402.3" r="1.6" fill="#ff1414" fill-opacity="0.8"/>
<circle cx="453.6" cy="356.1" r="1.6" fill="#ff1414" fill-opacity="0.8"/>
<circle cx="456.0" cy="378.0" r="1.6" fill="#ff1414" fill-opacity="0.8"/>
<circle cx="424.8" cy="377.0" r="1.6" fill="#ff1414" fill-opacity="0.8"/>
<circle cx="457.4" cy="423.0" r="1.6" fill="#ff1414" fill-opacity="0.8"/>
<circle cx="439.0" cy="426.0" r="1.6" fill="#ff1414" fill-opacity="0.8"/>
<circle cx="450.5" cy="402.6" r="1.6" fill="#ff1414" fill-opacity="0.8"/>
<circle cx="463.0" cy="412.1" r="1.6" fill="#ff1414" fill-opacity="0.8"/>
<circle cx="472.3" cy="370.1" r="1.6" fill="#ff1414" fill-opacity="0.8"/>
<circle cx="459.6" cy="386.4" r="1.6" fill="#ff1414" fill-opacity="0.8"/>
<circle cx="434.8" cy="347.6" r="1.6" fill="#ff1414" fill-opacity="0.8"/>
<circle cx="463.6" cy="365.3" r="1.6" fill="#ff1414" fill-opacity="0.8"/>
<circle cx="421.4" cy="382.9" r="1.6" fill="#ff1414" fill-opacity="0.8"/>
<circle cx="437.6" cy="413.4" r="1.6" fill="#ff1414" fill-opacity="0.8"/>
<circle cx="440.8" cy="397.4" r="1.6" fill="#ff1414" fill-opacity="0.8"/>
<circle cx="432.4" cy="362.2" r="1.6" fill="#ff1414" fill-opacity="0.8"/>
<circle cx="456.6" cy="411.1" r="1.6" fill="#ff1414" fill-opacity="0.8"/>
<circle cx="432.8" cy="408.1" r="1.6" fill="#ff1414" fill-opacity="0.8"/>
<circle cx="446.9" cy="343.2" r="1.6" fill="#ff1414" fill-opacity="0.8"/>
<circle cx="460.4" cy="403.2" r="1.6" fill="#ff1414" fill-opacity="0.8"/>
<circle cx="464.1" cy="375.7" r="1.6" fill="#ff1414" fill-opacity="0.8"/>
<circle cx="450.9" cy="427.0" r="1.6" fill="#ff1414" fill-opacity="0.8"/>
<circle cx="448.4" cy="353.6" r="1.6" fill="#ff1414" fill-opacity="0.8"/>
<circle cx="439.7" cy="408.5" r="1.6" fill="#ff1414" fill-opacity="0.8"/>
<circle cx="486.2" cy="392.6" r="1.6" fill="#ff1414" fill-opacity="0.8"/>
<circle cx="449.1" cy="377.6" r="1.6" fill="#ff1414" fill-opacity="0.8"/>
<circle cx="439.9" cy="344.0" r="1.6" fill="#ff1414" fill-opacity="0.8"/>
<circle cx="486.4" cy="383.5" r="1.6" fill="#ff1414" fill-opacity="0.8"/>
<circle cx="445.8" cy="376.4" r="1.6" fill="#ff1414" fill-opacity="0.8"/>
<circle cx="433.4" cy="388.3" r="1.6" fill="#ff1414" fill-opacity="0.8"/>
<circle cx="465.5" cy="395.0" r="1.6" fill="#ff1414" fill-opacity="0.8"/>
<circle cx="450.3" cy="374.8" r="1.6" fill="#ff1414" fill-opacity="0.8"/>
<circle cx="448.8" cy="388.6" r="1.6" fill="#ff1414" fill-opacity="0.8"/>
<circle cx="442.5" cy="382.9" r="1.6" fill="#ff1414" fill-opacity="0.8"/>
<circle cx="430.5" cy="381.9" r="1.6" fill="#ff1414" fill-opacity="0.8"/>
<circle cx="457.6" cy="404.7" r="1.6" fill="#ff1414" fill-opacity="0.8"/>
<circle cx="439.5" cy="365.3" r="1.6" fill="#ff1414" fill-opacity="0.8"/>
<circle cx="437.0" cy="412.0" r="1.6" fill="#ff1414" fill-opacity="0.8"/>
<circle cx="452.3" cy="384.3" r="1.6" fill="#ff1414" fill-opacity="0.8"/>
<circle cx="429.0" cy="381.1" r="1.6" fill="#ff1414" fill-opacity="0.8"/>
<circle cx="455.0" cy="397.8" r="1.6" fill="#ff1414" fill-opacity="0.8"/>
<circle cx="448.2" cy="359.3" r="1.6" fill="#ff1414" fill-opacity="0.8"/>
<circle cx="485.3" cy="377.7" r="1.6" fill="#ff1414" fill-opacity="0.8"/>
<circle cx="442.9" cy="411.5" r="1.6" fill="#ff1414" fill-opacity="0.8"/>
<circle cx="442.6" cy="416.9" r="1.6" fill="#ff1414" fill-opacity="0.8"/>
<circle cx="426.3" cy="395.9" r="1.6" fill="#ff1414" fill-opacity="0.8"/>
<circle cx="473.9" cy="398.0" r="1.6" fill="#ff1414" fill-opacity="0.8"/>
<circle cx="447.4" cy="421.3" r="1.6" fill="#ff1414" fill-opacity="0.8"/>
<circle cx="444.3" cy="376.0" r="1.6" fill="#ff1414" fill-opacity="0.8"/>
<circle cx="445.5" cy="390.1" r="1.6" fill="#ff1414" fill-opacity="0.8"/>
<circle cx="486.1" cy="389.6" r="1.6" fill="#ff1414" fill-opacity="0.8"/>
<circle cx="437.2" cy="361.1" r="1.6" fill="#ff1414" fill-opacity="0.8"/>
<circle cx="453.5" cy="413.3" r="1.6" fill="#ff1414" fill-opacity="0.8"/>
<circle cx="451.5" cy="394.6" r="1.6" fill="#ff1414" fill-opacity="0.8"/>
<circle cx="433.1" cy="407.8" r="1.6" fill="#ff1414" fill-opacity="0.8"/>
<circle cx="455.1" cy="379.8" r="1.6" fill="#ff1414" fill-opacity="0.8"/>
<circle cx="421.0" cy="358.7" r="1.6" fill="#ff1414" fill-opacity="0.8"/>
<circle cx="451.4" cy="402.6" r="1.6" fill="#ff1414" fill-opacity="0.8"/>
<circle cx="470.2" cy="408.5" r="1.6" fill="#ff1414" fill-opacity="0.8"/>
<circle cx="449.3" cy="392.8" r="1.6" fill="#ff1414" fill-opacity="0.8"/>
<circle cx="452.8" cy="429.6" r="1.6" fill="#ff1414" fill-opacity="0.8"/>
<circle cx="442.0" cy="386.6" r="1.6" fill="#ff1414" fill-opacity="0.8"/>
<circle cx="431.0" cy="389.7" r="1.6" fill="#ff1414" fill-opacity="0.8"/>
<circle cx="441.9" cy="398.3" r="1.6" fill="#ff1414" fill-opacity="0.8"/>
<circle cx="453.2" cy="361.0" r="1.6" fill="#ff1414" fill-opacity="0.8"/>
<circle cx="480.5" cy="396.6" r="1.6" fill="#ff1414" fill-opacity="0.8"/>
<circle cx="452.8" cy="341.3" r="1.6" fill="#ff1414" fill-opacity="0.8"/>
<circle cx="440.9" cy="382.4" r="1.6" fill="#ff1414" fill-opacity="0.8"/>
<circle cx="447.6" cy="356.4" r="1.6" fill="#ff1414" fill-opacity="0.8"/>
<circle cx="455.6" cy="412.5" r="1.6" fill="#ff1414" fill-opacity="0.8"/>
<circle cx="473.1" cy="372.7" r="1.6" fill="#ff1414" fill-opacity="0.8"/>
<circle cx="468.0" cy="414.7" r="1.6" fill="#ff1414" fill-opacity="0.8"/>
<circle cx="459.2" cy="401.4" r="1.6" fill="#ff1414" fill-opacity="0.8"/>
<circle cx="424.6" cy="382.8" r="1.6" fill="#ff1414" fill-opacity="0.8"/>
<circle cx="447.9" cy="396.6" r="1.6" fill="#ff1414" fill-opacity="0.8"/>
<circle cx="446.0" cy="399.8" r="1.6" fill="#ff1414" fill-opacity="0.8"/>
<circle cx="433.1" cy="410.1" r="1.6" fill="#ff1414" fill-opacity="0.8"/>
<circle cx="445.5" cy="413.2" r="1.6" fill="#ff1414" fill-opacity="0.8"/>
<circle cx="455.8" cy="404.7" r="1.6" fill="#ff1414" fill-opacity="0.8"/>
<circle cx="476.5" cy="372.3" r="1.6" fill="#ff1414" fill-opacity="0.8"/>
<circle cx="422.5" cy="362.3" r="1.6" fill="#ff1414" fill-opacity="0.8"/>
<circle cx="433.6" cy="415.4" r="1.6" fill="#ff1414" fill-opacity="0.8"/>
<circle cx="432.6" cy="360.3" r="1.6" fill="#ff1414" fill-opacity="0.8"/>
<circle cx="424.1" cy="350.9" r="1.6" fill="#ff1414" fill-opacity="0.8"/>
<circle cx="461.2" cy="352.9" r="1.6" fill="#ff1414" fill-opacity="0.8"/>
<circle cx="452.1" cy="421.6" r="1.6" fill="#ff1414" fill-opacity="0.8"/>
<circle cx="434.7" cy="386.3" r="1.6" fill="#ff1414" fill-opacity="0.8"/>
<circle cx="463.4" cy="398.5" r="1.6" fill="#ff1414" fill-opacity="0.8"/>
<circle cx="466.6" cy="391.5" r="1.6" fill="#ff1414" fill-opacity="0.8"/>
<circle cx="466.6" cy="361.9" r="1.6" fill="#ff1414" fill-opacity="0.8"/>
<circle cx="466.4" cy="408.8" r="1.6" fill="#ff1414" fill-opacity="0.8"/>
<circle cx="455.7" cy="417.0" r="1.6" fill="#ff1414" fill-opacity="0.8"/>
<circle cx="425.1" cy="388.1" r="1.6" fill="#ff1414" fill-opacity="0.8"/>
<circle cx="424.2" cy="349.1" r="1.6" fill="#ff1414" fill-opacity="0.8"/>
<circle cx="479.7" cy="374.7" r="1.6" fill="#ff1414" fill-opacity="0.8"/>
<circle cx="450.6" cy="394.6" r="1.6" fill="#ff1414" fill-opacity="0.8"/>
<circle cx="444.6" cy="393.9" r="1.6" fill="#ff1414" fill-opacity="0.8"/>
<circle cx="458.3" cy="394.8" r="1.6" fill="#ff1414" fill-opacity="0.8"/>
<circle cx="465.9" cy="369.6" r="1.6" fill="#ff1414" fill-opacity="0.8"/>
<circle cx="421.9" cy="366.1" r="1.6" fill="#ff1414" fill-opacity="0.8"/>
<circle cx="436.5" cy="407.5" r="1.6" fill="#ff1414" fill-opacity="0.8"/>
<circle cx="465.9" cy="392.4" r="1.6" fill="#ff1414" fill-opacity="0.8"/>
<circle cx="469.2" cy="401.9" r="1.6" fill="#ff1414" fill-opacity="0.8"/>
<circle cx="449.0" cy="406.1" r="1.6" fill="#ff1414" fill-opacity="0.8"/>
<circle cx="446.4" cy="340.9" r="1.6" fill="#ff1414" fill-opacity="0.8"/>
<circle cx="430.1" cy="395.1" r="1.6" fill="#ff1414" fill-opacity="0.8"/>
<circle cx="448.5" cy="423.2" r="1.6" fill="#ff1414" fill-opacity="0.8"/>
<circle cx="448.3" cy="383.7" r="1.6" fill="#ff1414" fill-opacity="0.8"/>
<circle cx="468.8" cy="381.4" r="1.6" fill="#ff1414" fill-opacity="0.8"/>
<circle cx="445.1" cy="430.8" r="1.6" fill="#ff1414" fill-opacity="0.8"/>
<circle cx="427.2" cy="356.3" r="1.6" fill="#ff1414" fill-opacity="0.8"/>
<circle cx="456.9" cy="359.9" r="1.6" fill="#ff1414" fill-opacity="0.8"/>
<circle cx="444.6" cy="419.0" r="1.6" fill="#ff1414" fill-opacity="0.8"/>
<circle cx="425.1" cy="351.4" r="1.6" fill="#ff1414" fill-opacity="0.8"/>
<circle cx="435.2" cy="378.1" r="1.6" fill="#ff1414" fill-opacity="0.8"/>
<circle cx="479.5" cy="399.3" r="1.6" fill="#ff1414" fill-opacity="0.8"/>
<circle cx="446.7" cy="417.3" r="1.6" fill="#ff1414" fill-opacity="0.8"/>
<circle cx="442.2" cy="348.2" r="1.6" fill="#ff1414" fill-opacity="0.8"/>
<circle cx="422.4" cy="389.5" r="1.6" fill="#ff1414" fill-opacity="0.8"/>
<circle cx="435.3" cy="419.3" r="1.6" fill="#ff1414" fill-opacity="0.8"/>
<circle cx="478.1" cy="370.4" r="1.6" fill="#ff1414" fill-opacity="0.8"/>
<circle cx="441.1" cy="369.8" r="1.6" fill="#ff1414" fill-opacity="0.8"/>
<circle cx="474.6" cy="405.4" r="1.6" fill="#ff1414" fill-opacity="0.8"/>
<circle cx="457.5" cy="397.2" r="1.6" fill="#ff1414" fill-opacity="0.8"/>
<circle cx="448.1" cy="396.1" r="1.6" fill="#ff1414" fill-opacity="0.8"/>
<circle cx="469.5" cy="379.4" r="1.6" fill="#ff1414" fill-opacity="0.8"/>
<circle cx="482.1" cy="383.3" r="1.6" fill="#ff1414" fill-opacity="0.8"/>
<circle cx="487.7" cy="390.1" r="1.6" fill="#ff1414" fill-opacity="0.8"/>
<circle cx="478.8" cy="374.0" r="1.6" fill="#ff1414" fill-opacity="0.8"/>
<circle cx="452.3" cy="413.8" r="1.6" fill="#ff1414" fill-opacity="0.8"/>
<circle cx="457.8" cy="412.5" r="1.6" fill="#ff1414" fill-opacity="0.8"/>
<circle cx="457.6" cy="414.8" r="1.6" fill="#ff1414" fill-opacity="0.8"/>
<circle cx="463.0" cy="397.9" r="1.6" fill="#ff1414" fill-opacity="0.8"/>
<circle cx="471.4" cy="390.0" r="1.6" fill="#ff1414" fill-opacity="0.8"/>
<circle cx="433.1" cy="391.8" r="1.6" fill="#ff1414" fill-opacity="0.8"/>
<circle cx="451.4" cy="353.8" r="1.6" fill="#ff1414" fill-opacity="0.8"/>
<circle cx="440.7" cy="387.7" r="1.6" fill="#ff1414" fill-opacity="0.8"/>
<circle cx="436.3" cy="402.0" r="1.6" fill="#ff1414" fill-opacity="0.8"/>
<circle cx="424.5" cy="389.1" r="1.6" fill="#ff1414" fill-opacity="0.8"/>
<circle cx="430.6" cy="369.6" r="1.6" fill="#ff1414" fill-opacity="0.8"/>
<circle cx="453.2" cy="380.8" r="1.6" fill="#ff1414" fill-opacity="0.8"/>
<circle cx="474.9" cy="381.7" r="1.6" fill="#ff1414" fill-opacity="0.8"/>
<circle cx="444.3" cy="432.1" r="1.6" fill="#ff1414" fill-opacity="0.8"/>
<circle cx="458.8" cy="395.8" r="1.6" fill="#ff1414" fill-opacity="0.8"/>
<circle cx="449.8" cy="397.0" r="1.6" fill="#ff1414" fill-opacity="0.8"/>
<circle cx="456.3" cy="390.9" r="1.6" fill="#ff1414" fill-opacity="0.8"/>
<circle cx="450.6" cy="400.7" r="1.6" fill="#ff1414" fill-opacity="0.8"/>
<circle cx="441.7" cy="421.6" r="1.6" fill="#ff1414" fill-opacity="0.8"/>
<circle cx="437.3" cy="403.4" r="1.6" fill="#ff1414" fill-opacity="0.8"/>
<circle cx="475.1" cy="401.1" r="1.6" fill="#ff1414" fill-opacity="0.8"/>
<circle cx="426.9" cy="380.3" r="1.6" fill="#ff1414" fill-opacity="0.8"/>
<circle cx="458.5" cy="352.3" r="1.6" fill="#ff1414" fill-opacity="0.8"/>
<circle cx="476.2" cy="398.2" r="1.6" fill="#ff1414" fill-opacity="0.8"/>
<circle cx="484.9" cy="381.3" r="1.6" fill="#ff1414" fill-opacity="0.8"/>
<circle cx="457.8" cy="406.0" r="1.6" fill="#ff1414" fill-opacity="0.8"/>
<circle cx="470.3" cy="374.1" r="1.6" fill="#ff1414" fill-opacity="0.8"/>
<circle cx="439.8" cy="380.2" r="1.6" fill="#ff1414" fill-opacity="0.8"/>
<circle cx="441.9" cy="406.9" r="1.6" fill="#ff1414" fill-opacity="0.8"/>
<circle cx="454.2" cy="380.2" r="1.6" fill="#ff1414" fill-opacity="0.8"/>
<circle cx="426.9" cy="381.7" r="1.6" fill="#ff1414" fill-opacity="0.8"/>
<circle cx="446.1" cy="400.1" r="1.6" fill="#ff1414" fill-opacity="0.8"/>
<circle cx="484.6" cy="393.1" r="1.6" fill="#ff1414" fill-opacity="0.8"/>
<circle cx="450.1" cy="403.8" r="1.6" fill="#ff1414" fill-opacity="0.8"/>
<circle cx="455.0" cy="424.4" r="1.6" fill="#ff1414" fill-opacity="0.8"/>
<circle cx="425.5" cy="400.7" r="1.6" fill="#ff1414" fill-opacity="0.8"/>
<circle cx="461.6" cy="395.8" r="1.6" fill="#ff1414" fill-opacity="0.8"/>
<circle cx="453.7" cy="343.2" r="1.6" fill="#ff1414" fill-opacity="0.8"/>
<circle cx="469.6" cy="411.3" r="1.6" fill="#ff1414" fill-opacity="0.8"/>
<circle cx="468.5" cy="403.2" r="1.6" fill="#ff1414" fill-opacity="0.8"/>
<circle cx="443.2" cy="411.4" r="1.6" fill="#ff1414" fill-opacity="0.8"/>
<circle cx="426.9" cy="374.8" r="1.6" fill="#ff1414" fill-opacity="0.8"/>
<circle cx="468.2" cy="406.8" r="1.6" fill="#ff1414" fill-opacity="0.8"/>
<circle cx="459.9" cy="379.5" r="1.6" fill="#ff1414" fill-opacity="0.8"/>
<circle cx="472.2" cy="383.6" r="1.6" fill="#ff1414" fill-opacity="0.8"/>
<circle cx="486.4" cy="390.3" r="1.6" fill="#ff1414" fill-opacity="0.8"/>
<circle cx="425.8" cy="379.3" r="1.6" fill="#ff1414" fill-opacity="0.8"/>
<circle cx="470.5" cy="363.0" r="1.6" fill="#ff1414" fill-opacity="0.8"/>
<circle cx="444.9" cy="422.3" r="1.6" fill="#ff1414" fill-opacity="0.8"/>
<circle cx="465.6" cy="385.6" r="1.6" fill="#ff1414" fill-opacity="0.8"/>
<circle cx="452.8" cy="403.6" r="1.6" fill="#ff1414" fill-opacity="0.8"/>
<circle cx="425.5" cy="384.2" r="1.6" fill="#ff1414" fill-opacity="0.8"/>
<circle cx="439.8" cy="408.1" r="1.6" fill="#ff1414" fill-opacity="0.8"/>
<circle cx="456.9" cy="419.9" r="1.6" fill="#ff1414" fill-opacity="0.8"/>
<circle cx="466.9" cy="350.8" r="1.6" fill="#ff1414" fill-opacity="0.8"/>
<circle cx="430.1" cy="361.4" r="1.6" fill="#ff1414" fill-opacity="0.8"/>
<circle cx="443.6" cy="420.8" r="1.6" fill="#ff1414" fill-opacity="0.8"/>
<circle cx="445.1" cy="382.5" r="1.6" fill="#ff1414" fill-opacity="0.8"/>
<circle cx="474.7" cy="388.8" r="1.6" fill="#ff1414" fill-opacity="0.8"/>
<circle cx="449.3" cy="374.0" r="1.6" fill="#ff1414" fill-opacity="0.8"/>
<circle cx="442.7" cy="413.4" r="1.6" fill="#ff1414" fill-opacity="0.8"/>
<circle cx="473.2" cy="375.9" r="1.6" fill="#ff1414" fill-opacity="0.8"/>
<circle cx="437.0" cy="384.1" r="1.6" fill="#ff1414" fill-opacity="0.8"/>
<circle cx="466.4" cy="373.0" r="1.6" fill="#ff1414" fill-opacity="0.8"/>
<circle cx="477.7" cy="407.2" r="1.6" fill="#ff1414" fill-opacity="0.8"/>
<circle cx="479.8" cy="372.4" r="1.6" fill="#ff1414" fill-opacity="0.8"/>
<circle cx="449.6" cy="397.0" r="1.6" fill="#ff1414" fill-opacity="0.8"/>
<circle cx="468.7" cy="405.5" r="1.6" fill="#ff1414" fill-opacity="0.8"/>
<circle cx="469.4" cy="389.2" r="1.6" fill="#ff1414" fill-opacity="0.8"/>
<circle cx="484.6" cy="393.0" r="1.6" fill="#ff1414" fill-opacity="0.8"/>
<circle cx="487.1" cy="392.4" r="1.6" fill="#ff1414" fill-opacity="0.8"/>
<circle cx="423.3" cy="360.0" r="1.6" fill="#ff1414" fill-opacity="0.8"/>
<circle cx="463.1" cy="398.9" r="1.6" fill="#ff1414" fill-opacity="0.8"/>
<circle cx="435.9" cy="387.8" r="1.6" fill="#ff1414" fill-opacity="0.8"/>
<circle cx="447.3" cy="377.0" r="1.6" fill="#ff1414" fill-opacity="0.8"/>
<circle cx="437.6" cy="390.1" r="1.6" fill="#ff1414" fill-opacity="0.8"/>
<circle cx="464.6" cy="378.9" r="1.6" fill="#ff1414" fill-opacity="0.8"/>
<circle cx="457.9" cy="380.8" r="1.6" fill="#ff1414" fill-opacity="0.8"/>
<circle cx="435.3" cy="407.1" r="1.6" fill="#ff1414" fill-opacity="0.8"/>
<circle cx="436.4" cy="407.2" r="1.6" fill="#ff1414" fill-opacity="0.8"/>
<circle cx="422.9" cy="382.1" r="1.6" fill="#ff1414" fill-opacity="0.8"/>
<circle cx="463.1" cy="358.9" r="1.6" fill="#ff1414" fill-opacity="0.8"/>
<circle cx="463.9" cy="386.4" r="1.6" fill="#ff1414" fill-opacity="0.8"/>
<circle cx="440.8" cy="371.6" r="1.6" fill="#ff1414" fill-opacity="0.8"/>
<circle cx="439.6" cy="421.4" r="1.6" fill="#ff1414" fill-opacity="0.8"/>
<circle cx="423.3" cy="377.1" r="1.6" fill="#ff1414" fill-opacity="0.8"/>
<circle cx="447.1" cy="378.9" r="1.6" fill="#ff1414" fill-opacity="0.8"/>
<circle cx="451.7" cy="428.8" r="1.6" fill="#ff1414" fill-opacity="0.8"/>
<circle cx="446.2" cy="397.3" r="1.6" fill="#ff1414" fill-opacity="0.8"/>
<circle cx="442.2" cy="338.2" r="1.6" fill="#ff1414" fill-opacity="0.8"/>
<circle cx="461.4" cy="409.2" r="1.6" fill="#ff1414" fill-opacity="0.8"/>
<circle cx="450.3" cy="381.5" r="1.6" fill="#ff1414" fill-opacity="0.8"/>
<circle cx="445.7" cy="426.7" r="1.6" fill="#ff1414" fill-opacity="0.8"/>
<circle cx="445.4" cy="375.0" r="1.6" fill="#ff1414" fill-opacity="0.8"/>
<circle cx="454.2" cy="384.9" r="1.6" fill="#ff1414" fill-opacity="0.8"/>
<circle cx="483.0" cy="374.7" r="1.6" fill="#ff1414" fill-opacity="0.8"/>
<circle cx="460.6" cy="422.5" r="1.6" fill="#ff1414" fill-opacity="0.8"/>
<circle cx="454.0" cy="422.8" r="1.6" fill="#ff1414" fill-opacity="0.8"/>
<circle cx="444.8" cy="407.2" r="1.6" fill="#ff1414" fill-opacity="0.8"/>
<circle cx="458.3" cy="377.8" r="1.6" fill="#ff1414" fill-opacity="0.8"/>
<circle cx="448.4" cy="404.2" r="1.6" fill="#ff1414" fill-opacity="0.8"/>
<circle cx="444.1" cy="420.6" r="1.6" fill="#ff1414" fill-opacity="0.8"/>
<circle cx="446.4" cy="413.8" r="1.6" fill="#ff1414" fill-opacity="0.8"/>
<circle cx="449.3" cy="342.4" r="1.6" fill="#ff1414" fill-opacity="0.8"/>
<circle cx="426.5" cy="391.6" r="1.6" fill="#ff1414" fill-opacity="0.8"/>
<circle cx="446.7" cy="383.6" r="1.6" fill="#ff1414" fill-opacity="0.8"/>
<circle cx="453.2" cy="388.7" r="1.6" fill="#ff1414" fill-opacity="0.8"/>
<circle cx="445.6" cy="395.1" r="1.6" fill="#ff1414" fill-opacity="0.8"/>
<circle cx="465.6" cy="364.0" r="1.6" fill="#ff1414" fill-opacity="0.8"/>
<circle cx="438.3" cy="363.1" r="1.6" fill="#ff1414" fill-opacity="0.8"/>
<circle cx="449.1" cy="395.7" r="1.6" fill="#ff1414" fill-opacity="0.8"/>
<circle cx="448.2" cy="386.7" r="1.6" fill="#ff1414" fill-opacity="0.8"/>
<circle cx="442.6" cy="408.1" r="1.6" fill="#ff1414" fill-opacity="0.8"/>
<circle cx="452.4" cy="397.4" r="1.6" fill="#ff1414" fill-opacity="0.8"/>
<circle cx="442.7" cy="384.8" r="1.6" fill="#ff1414" fill-opacity="0.8"/>
<circle cx="449.9" cy="428.8" r="1.6" fill="#ff1414" fill-opacity="0.8"/>
<circle cx="434.1" cy="403.8" r="1.6" fill="#ff1414" fill-opacity="0.8"/>
<circle cx="433.0" cy="369.5" r="1.6" fill="#ff1414" fill-opacity="0.8"/>
<circle cx="440.7" cy="425.0" r="1.6" fill="#ff1414" fill-opacity="0.8"/>
<circle cx="425.6" cy="374.1" r="1.6" fill="#ff1414" fill-opacity="0.8"/>
<circle cx="449.5" cy="407.4" r="1.6" fill="#ff1414" fill-opacity="0.8"/>
<circle cx="464.5" cy="362.2" r="1.6" fill="#ff1414" fill-opacity="0.8"/>
<circle cx="439.4" cy="413.5" r="1.6" fill="#ff1414" fill-opacity="0.8"/>
<circle cx="450.0" cy="403.0" r="1.6" fill="#ff1414" fill-opacity="0.8"/>
<circle cx="455.7" cy="416.6" r="1.6" fill="#ff1414" fill-opacity="0.8"/>
<circle cx="470.4" cy="389.4" r="1.6" fill="#ff1414" fill-opacity="0.8"/>
<circle cx="451.9" cy="348.6" r="1.6" fill="#ff1414" fill-opacity="0.8"/>
<circle cx="435.8" cy="400.8" r="1.6" fill="#ff1414" fill-opacity="0.8"/>
<circle cx="437.1" cy="353.8" r="1.6" fill="#ff1414" fill-opacity="0.8"/>
<circle cx="445.3" cy="423.2" r="1.6" fill="#ff1414" fill-opacity="0.8"/>
<circle cx="443.7" cy="400.5" r="1.6" fill="#ff1414" fill-opacity="0.8"/>
<circle cx="469.9" cy="395.0" r="1.6" fill="#ff1414" fill-opacity="0.8"/>
<circle cx="462.1" cy="365.6" r="1.6" fill="#ff1414" fill-opacity="0.8"/>
<circle cx="477.7" cy="379.0" r="1.6" fill="#ff1414" fill-opacity="0.8"/>
<circle cx="435.2" cy="406.3" r="1.6" fill="#ff1414" fill-opacity="0.8"/>
<circle cx="430.3" cy="365.6" r="1.6" fill="#ff1414" fill-opacity="0.8"/>
<circle cx="444.8" cy="383.1" r="1.6" fill="#ff1414" fill-opacity="0.8"/>
<circle cx="478.0" cy="395.9" r="1.6" fill="#ff1414" fill-opacity="0.8"/>
<circle cx="444.4" cy="423.1" r="1.6" fill="#ff1414" fill-opacity="0.8"/>
<circle cx="474.3" cy="404.4" r="1.6" fill="#ff1414" fill-opacity="0.8"/>
<circle cx="465.1" cy="396.3" r="1.6" fill="#ff1414" fill-opacity="0.8"/>
<circle cx="448.0" cy="395.8" r="1.6" fill="#ff1414" fill-opacity="0.8"/>
<circle cx="439.2" cy="338.3" r="1.6" fill="#ff1414" fill-opacity="0.8"/>
<circle cx="432.3" cy="393.5" r="1.6" fill="#ff1414" fill-opacity="0.8"/>
<circle cx="424.4" cy="388.9" r="1.6" fill="#ff1414" fill-opacity="0.8"/>
<circle cx="451.7" cy="388.4" r="1.6" fill="#ff1414" fill-opacity="0.8"/>
<circle cx="442.2" cy="425.2" r="1.6" fill="#ff1414" fill-opacity="0.8"/>
<circle cx="446.6" cy="398.7" r="1.6" fill="#ff1414" fill-opacity="0.8"/>
<circle cx="483.1" cy="398.7" r="1.6" fill="#ff1414" fill-opacity="0.8"/>
<circle cx="431.0" cy="396.6" r="1.6" fill="#ff1414" fill-opacity="0.8"/>
<circle cx="478.7" cy="393.0" r="1.6" fill="#ff1414" fill-opacity="0.8"/>
<circle cx="435.0" cy="403.5" r="1.6" fill="#ff1414" fill-opacity="0.8"/>
<circle cx="460.6" cy="424.0" r="1.6" fill="#ff1414" fill-opacity="0.8"/>
<circle cx="464.1" cy="375.2" r="1.6" fill="#ff1414" fill-opacity="0.8"/>
<circle cx="456.8" cy="423.8" r="1.6" fill="#ff1414" fill-opacity="0.8"/>
<circle cx="469.1" cy="395.5" r="1.6" fill="#ff1414" fill-opacity="0.8"/>
<circle cx="433.3" cy="379.9" r="1.6" fill="#ff1414" fill-opacity="0.8"/>
<circle cx="432.2" cy="390.0" r="1.6" fill="#ff1414" fill-opacity="0.8"/>
<circle cx="432.2" cy="410.5" r="1.6" fill="#ff1414" fill-opacity="0.8"/>
<circle cx="431.4" cy="388.6" r="1.6" fill="#ff1414" fill-opacity="0.8"/>
<circle cx="434.4" cy="364.8" r="1.6" fill="#ff1414" fill-opacity="0.8"/>
<circle cx="424.8" cy="382.7" r="1.6" fill="#ff1414" fill-opacity="0.8"/>
<circle cx="470.6" cy="375.1" r="1.6" fill="#ff1414" fill-opacity="0.8"/>
<circle cx="437.7" cy="362.6" r="1.6" fill="#ff1414" fill-opacity="0.8"/>
<circle cx="442.5" cy="415.4" r="1.6" fill="#ff1414" fill-opacity="0.8"/>
<circle cx="478.2" cy="399.8" r="1.6" fill="#ff1414" fill-opacity="0.8"/>
<circle cx="481.1" cy="378.1" r="1.6" fill="#ff1414" fill-opacity="0.8"/>
<circle cx="465.6" cy="356.2" r="1.6" fill="#ff1414" fill-opacity="0.8"/>
<circle cx="443.1" cy="396.8" r="1.6" fill="#ff1414" fill-opacity="0.8"/>
<circle cx="435.0" cy="400.3" r="1.6" fill="#ff1414" fill-opacity="0.8"/>
<circle cx="450.5" cy="364.6" r="1.6" fill="#ff1414" fill-opacity="0.8"/>
<circle cx="473.7" cy="395.3" r="1.6" fill="#ff1414" fill-opacity="0.8"/>
<circle cx="426.2" cy="374.8" r="1.6" fill="#ff1414" fill-opacity="0.8"/>
<circle cx="439.3" cy="398.4" r="1.6" fill="#ff1414" fill-opacity="0.8"/>
<circle cx="427.4" cy="379.4" r="1.6" fill="#ff1414" fill-opacity="0.8"/>
<circle cx="443.9" cy="418.0" r="1.6" fill="#ff1414" fill-opacity="0.8"/>
<circle cx="446.8" cy="356.3" r="1.6" fill="#ff1414" fill-opacity="0.8"/>
<circle cx="456.4" cy="340.3" r="1.6" fill="#ff1414" fill-opacity="0.8"/>
<circle cx="440.6" cy="392.8" r="1.6" fill="#ff1414" fill-opacity="0.8"/>
<circle cx="459.3" cy="421.6" r="1.6" fill="#ff1414" fill-opacity="0.8"/>
<circle cx="471.1" cy="384.4" r="1.6" fill="#ff1414" fill-opacity="0.8"/>
<circle cx="436.3" cy="382.4" r="1.6" fill="#ff1414" fill-opacity="0.8"/>
<circle cx="479.0" cy="392.2" r="1.6" fill="#ff1414" fill-opacity="0.8"/>
<circle cx="459.3" cy="419.3" r="1.6" fill="#ff1414" fill-opacity="0.8"/>
<circle cx="438.6" cy="377.8" r="1.6" fill="#ff1414" fill-opacity="0.8"/>
<circle cx="446.8" cy="406.9" r="1.6" fill="#ff1414" fill-opacity="0.8"/>
<circle cx="426.9" cy="382.1" r="1.6" fill="#ff1414" fill-opacity="0.8"/>
<circle cx="431.7" cy="408.1" r="1.6" fill="#ff1414" fill-opacity="0.8"/>
<circle cx="472.2" cy="366.1" r="1.6" fill="#ff1414" fill-opacity="0.8"/>
<circle cx="482.9" cy="401.5" r="1.6" fill="#ff1414" fill-opacity="0.8"/>
<circle cx="461.1" cy="394.7" r="1.6" fill="#ff1414" fill-opacity="0.8"/>
<circle cx="448.1" cy="385.4" r="1.6" fill="#ff1414" fill-opacity="0.8"/>
<circle cx="436.0" cy="368.3" r="1.6" fill="#ff1414" fill-opacity="0.8"/>
<circle cx="447.0" cy="390.7" r="1.6" fill="#ff1414" fill-opacity="0.8"/>
<circle cx="429.0" cy="401.9" r="1.6" fill="#ff1414" fill-opacity="0.8"/>
<circle cx="442.0" cy="415.3" r="1.6" fill="#ff1414" fill-opacity="0.8"/>
<circle cx="435.6" cy="415.2" r="1.6" fill="#ff1414" fill-opacity="0.8"/>
<circle cx="461.0" cy="356.5" r="1.6" fill="#ff1414" fill-opacity="0.8"/>
<circle cx="469.4" cy="403.5" r="1.6" fill="#ff1414" fill-opacity="0.8"/>
<circle cx="460.3" cy="350.8" r="1.6" fill="#ff1414" fill-opacity="0.8"/>
<circle cx="468.0" cy="372.0" r="1.6" fill="#ff1414" fill-opacity="0.8"/>
<circle cx="453.8" cy="422.2" r="1.6" fill="#ff1414" fill-opacity="0.8"/>
<circle cx="429.5" cy="351.9" r="1.6" fill="#ff1414" fill-opacity="0.8"/>
<circle cx="447.7" cy="395.9" r="1.6" fill="#ff1414" fill-opacity="0.8"/>
<circle cx="449.5" cy="391.8" r="1.6" fill="#ff1414" fill-opacity="0.8"/>
<circle cx="448.0" cy="408.6" r="1.6" fill="#ff1414" fill-opacity="0.8"/>
<circle cx="479.6" cy="395.4" r="1.6" fill="#ff1414" fill-opacity="0.8"/>
<circle cx="428.6" cy="362.0" r="1.6" fill="#ff1414" fill-opacity="0.8"/>
<circle cx="457.6" cy="405.0" r="1.6" fill="#ff1414" fill-opacity="0.8"/>
<circle cx="454.4" cy="416.3" r="1.6" fill="#ff1414" fill-opacity="0.8"/>
<circle cx="472.9" cy="380.0" r="1.6" fill="#ff1414" fill-opacity="0.8"/>
<circle cx="444.5" cy="418.4" r="1.6" fill="#ff1414" fill-opacity="0.8"/>
<circle cx="439.9" cy="364.4" r="1.6" fill="#ff1414" fill-opacity="0.8"/>
<circle cx="438.9" cy="418.7" r="1.6" fill="#ff1414" fill-opacity="0.8"/>
<circle cx="422.1" cy="386.1" r="1.6" fill="#ff1414" fill-opacity="0.8"/>
<circle cx="468.8" cy="412.5" r="1.6" fill="#ff1414" fill-opacity="0.8"/>
<circle cx="475.5" cy="377.8" r="1.6" fill="#ff1414" fill-opacity="0.8"/>
<circle cx="476.5" cy="386.3" r="1.6" fill="#ff1414" fill-opacity="0.8"/>
<circle cx="464.0" cy="400.0" r="1.6" fill="#ff1414" fill-opacity="0.8"/>
<circle cx="449.8" cy="412.4" r="1.6" fill="#ff1414" fill-opacity="0.8"/>
<circle cx="424.1" cy="381.8" r="1.6" fill="#ff1414" fill-opacity="0.8"/>
<circle cx="478.6" cy="403.6" r="1.6" fill="#ff1414" fill-opacity="0.8"/>
<circle cx="437.0" cy="390.0" r="1.6" fill="#ff1414" fill-opacity="0.8"/>
<circle cx="462.7" cy="417.7" r="1.6" fill="#ff1414" fill-opacity="0.8"/>
<circle cx="438.6" cy="343.3" r="1.6" fill="#ff1414" fill-opacity="0.8"/>
<circle cx="486.3" cy="394.6" r="1.6" fill="#ff1414" fill-opacity="0.8"/>
<circle cx="462.1" cy="401.5" r="1.6" fill="#ff1414" fill-opacity="0.8"/>
<circle cx="481.2" cy="374.2" r="1.6" fill="#ff1414" fill-opacity="0.8"/>
<circle cx="454.9" cy="402.8" r="1.6" fill="#ff1414" fill-opacity="0.8"/>
<circle cx="454.0" cy="401.2" r="1.6" fill="#ff1414" fill-opacity="0.8"/>
<circle cx="428.6" cy="402.3" r="1.6" fill="#ff1414" fill-opacity="0.8"/>
<circle cx="459.6" cy="369.0" r="1.6" fill="#ff1414" fill-opacity="0.8"/>
<circle cx="451.6" cy="390.0" r="1.6" fill="#ff1414" fill-opacity="0.8"/>
<circle cx="465.3" cy="407.6" r="1.6" fill="#ff1414" fill-opacity="0.8"/>
<circle cx="444.1" cy="401.7" r="1.6" fill="#ff1414" fill-opacity="0.8"/>
<circle cx="437.9" cy="426.0" r="1.6" fill="#ff1414" fill-opacity="0.8"/>
<circle cx="472.5" cy="402.7" r="1.6" fill="#ff1414" fill-opacity="0.8"/>
<circle cx="442.2" cy="423.7" r="1.6" fill="#ff1414" fill-opacity="0.8"/>
<circle cx="432.5" cy="371.9" r="1.6" fill="#ff1414" fill-opacity="0.8"/>
<circle cx="481.7" cy="370.1" r="1.6" fill="#ff1414" fill-opacity="0.8"/>
<circle cx="451.6" cy="371.7" r="1.6" fill="#ff1414" fill-opacity="0.8"/>
<circle cx="468.8" cy="351.3" r="1.6" fill="#ff1414" fill-opacity="0.8"/>
<circle cx="453.8" cy="372.8" r="1.6" fill="#ff1414" fill-opacity="0.8"/>
<circle cx="438.7" cy="344.6" r="1.6" fill="#ff1414" fill-opacity="0.8"/>
<circle cx="452.6" cy="402.6" r="1.6" fill="#ff1414" fill-opacity="0.8"/>
<circle cx="434.8" cy="391.6" r="1.6" fill="#ff1414" fill-opacity="0.8"/>
<circle cx="461.0" cy="384.2" r="1.6" fill="#ff1414" fill-opacity="0.8"/>
<circle cx="438.9" cy="416.5" r="1.6" fill="#ff1414" fill-opacity="0.8"/>
<circle cx="450.1" cy="397.0" r="1.6" fill="#ff1414" fill-opacity="0.8"/>
<circle cx="464.8" cy="396.4" r="1.6" fill="#ff1414" fill-opacity="0.8"/>
<circle cx="429.0" cy="395.7" r="1.6" fill="#ff1414" fill-opacity="0.8"/>
<circle cx="447.5" cy="429.4" r="1.6" fill="#ff1414" fill-opacity="0.8"/>
<circle cx="429.1" cy="347.3" r="1.6" fill="#ff1414" fill-opacity="0.8"/>
<circle cx="464.0" cy="369.3" r="1.6" fill="#ff1414" fill-opacity="0.8"/>
<circle cx="471.4" cy="407.2" r="1.6" fill="#ff1414" fill-opacity="0.8"/>
<circle cx="450.6" cy="399.8" r="1.6" fill="#ff1414" fill-opacity="0.8"/>
<circle cx="444.9" cy="361.2" r="1.6" fill="#ff1414" fill-opacity="0.8"/>
<circle cx="462.1" cy="357.3" r="1.6" fill="#ff1414" fill-opacity="0.8"/>
<circle cx="476.1" cy="389.5" r="1.6" fill="#ff1414" fill-opacity="0.8"/>
<circle cx="446.6" cy="391.4" r="1.6" fill="#ff1414" fill-opacity="0.8"/>
<circle cx="485.2" cy="387.5" r="1.6" fill="#ff1414" fill-opacity="0.8"/>
<circle cx="443.2" cy="393.4" r="1.6" fill="#ff1414" fill-opacity="0.8"/>
<circle cx="470.8" cy="365.4" r="1.6" fill="#ff1414" fill-opacity="0.8"/>
<circle cx="460.7" cy="346.7" r="1.6" fill="#ff1414" fill-opacity="0.8"/>
<circle cx="454.3" cy="410.2" r="1.6" fill="#ff1414" fill-opacity="0.8"/>
<circle cx="454.1" cy="419.8" r="1.6" fill="#ff1414" fill-opacity="0.8"/>
<circle cx="467.5" cy="413.9" r="1.6" fill="#ff1414" fill-opacity="0.8"/>
<circle cx="449.4" cy="408.6" r="1.6" fill="#ff1414" fill-opacity="0.8"/>
<circle cx="449.3" cy="382.9" r="1.6" fill="#ff1414" fill-opacity="0.8"/>
<circle cx="482.0" cy="371.0" r="1.6" fill="#ff1414" fill-opacity="0.8"/>
<circle cx="434.4" cy="404.0" r="1.6" fill="#ff1414" fill-opacity="0.8"/>
<circle cx="444.6" cy="305.5" r="1.6" fill="#ff1414" fill-opacity="0.8"/>
<circle cx="447.7" cy="309.6" r="1.6" fill="#ff1414" fill-opacity="0.8"/>
<circle cx="452.3" cy="313.4" r="1.6" fill="#ff1414" fill-opacity="0.8"/>
<circle cx="437.0" cy="320.0" r="1.6" fill="#ff1414" fill-opacity="0.8"/>
<circle cx="455.0" cy="325.0" r="1.6" fill="#ff1414" fill-opacity="0.8"/>
<circle cx="463.0" cy="333.0" r="1.6" fill="#ff1414" fill-opacity="0.8"/>
<circle cx="466.0" cy="336.0" r="1.6" fill="#ff1414" fill-opacity="0.8"/>
<circle cx="474.0" cy="346.0" r="1.6" fill="#ff1414" fill-opacity="0.8"/>
<circle cx="462.1" cy="381.0" r="1.6" fill="#1010ff" fill-opacity="0.9"/>
<circle cx="476.0" cy="383.7" r="1.6" fill="#1010ff" fill-opacity="0.9"/>
<circle cx="471.8" cy="377.5" r="1.6" fill="#1010ff" fill-opacity="0.9"/>
<circle cx="476.1" cy="384.0" r="1.6" fill="#1010ff" fill-opacity="0.9"/>
<circle cx="464.3" cy="382.3" r="1.6" fill="#1010ff" fill-opacity="0.9"/>
<circle cx="457.6" cy="351.9" r="1.6" fill="#1010ff" fill-opacity="0.9"/>
<circle cx="439.3" cy="381.3" r="1.6" fill="#1010ff" fill-opacity="0.9"/>
<circle cx="445.0" cy="374.6" r="1.6" fill="#1010ff" fill-opacity="0.9"/>
<circle cx="452.8" cy="386.3" r="1.6" fill="#1010ff" fill-opacity="0.9"/>
<circle cx="444.1" cy="336.0" r="1.6" fill="#1010ff" fill-opacity="0.9"/>
<circle cx="430.5" cy="382.1" r="1.6" fill="#1010ff" fill-opacity="0.9"/>
<circle cx="450.2" cy="344.3" r="1.6" fill="#1010ff" fill-opacity="0.9"/>
<circle cx="465.2" cy="367.6" r="1.6" fill="#1010ff" fill-opacity="0.9"/>
<circle cx="436.3" cy="380.9" r="1.6" fill="#1010ff" fill-opacity="0.9"/>
<circle cx="450.4" cy="376.2" r="1.6" fill="#1010ff" fill-opacity="0.9"/>
<circle cx="441.6" cy="352.8" r="1.6" fill="#1010ff" fill-opacity="0.9"/>
<circle cx="445.7" cy="354.1" r="1.6" fill="#1010ff" fill-opacity="0.9"/>
<circle cx="443.7" cy="358.0" r="1.6" fill="#1010ff" fill-opacity="0.9"/>
<circle cx="449.5" cy="356.3" r="1.6" fill="#1010ff" fill-opacity="0.9"/>
<circle cx="433.4" cy="347.6" r="1.6" fill="#1010ff" fill-opacity="0.9"/>
<circle cx="459.9" cy="341.7" r="1.6" fill="#1010ff" fill-opacity="0.9"/>
<circle cx="431.2" cy="346.3" r="1.6" fill="#1010ff" fill-opacity="0.9"/>
<circle cx="476.5" cy="383.0" r="1.6" fill="#1010ff" fill-opacity="0.9"/>
<circle cx="458.1" cy="378.8" r="1.6" fill="#1010ff" fill-opacity="0.9"/>
<circle cx="448.4" cy="359.8" r="1.6" fill="#1010ff" fill-opacity="0.9"/>
<circle cx="480.8" cy="367.5" r="1.6" fill="#1010ff" fill-opacity="0.9"/>
<circle cx="450.4" cy="332.8" r="1.6" fill="#1010ff" fill-opacity="0.9"/>
<circle cx="476.1" cy="354.2" r="1.6" fill="#1010ff" fill-opacity="0.9"/>
<circle cx="438.4" cy="345.2" r="1.6" fill="#1010ff" fill-opacity="0.9"/>
<circle cx="477.7" cy="375.5" r="1.6" fill="#1010ff" fill-opacity="0.9"/>
<circle cx="469.6" cy="359.9" r="1.6" fill="#1010ff" fill-opacity="0.9"/>
<circle cx="447.2" cy="372.8" r="1.6" fill="#1010ff" fill-opacity="0.9"/>
<circle cx="466.1" cy="352.8" r="1.6" fill="#1010ff" fill-opacity="0.9"/>
<circle cx="485.6" cy="373.0" r="1.6" fill="#1010ff" fill-opacity="0.9"/>
<circle cx="473.7" cy="350.0" r="1.6" fill="#1010ff" fill-opacity="0.9"/>
<circle cx="482.9" cy="379.9" r="1.6" fill="#1010ff" fill-opacity="0.9"/>
<circle cx="468.0" cy="384.8" r="1.6" fill="#1010ff" fill-opacity="0.9"/>
<circle cx="459.6" cy="377.1" r="1.6" fill="#1010ff" fill-opacity="0.9"/>
<circle cx="458.5" cy="343.1" r="1.6" fill="#1010ff" fill-opacity="0.9"/>
<circle cx="434.5" cy="342.0" r="1.6" fill="#1010ff" fill-opacity="0.9"/>
<circle cx="435.6" cy="381.8" r="1.6" fill="#1010ff" fill-opacity="0.9"/>
<circle cx="432.0" cy="333.6" r="1.6" fill="#1010ff" fill-opacity="0.9"/>
<circle cx="459.7" cy="382.3" r="1.6" fill="#1010ff" fill-opacity="0.9"/>
<circle cx="441.5" cy="376.6" r="1.6" fill="#1010ff" fill-opacity="0.9"/>
<circle cx="430.1" cy="352.7" r="1.6" fill="#1010ff" fill-opacity="0.9"/>
<circle cx="436.2" cy="357.3" r="1.6" fill="#1010ff" fill-opacity="0.9"/>
<circle cx="472.7" cy="366.3" r="1.6" fill="#1010ff" fill-opacity="0.9"/>
<circle cx="471.6" cy="373.5" r="1.6" fill="#1010ff" fill-opacity="0.9"/>
<circle cx="473.7" cy="373.8" r="1.6" fill="#1010ff" fill-opacity="0.9"/>
<circle cx="430.1" cy="329.8" r="1.6" fill="#1010ff" fill-opacity="0.9"/>
<circle cx="453.2" cy="352.9" r="1.6" fill="#1010ff" fill-opacity="0.9"/>
<circle cx="481.8" cy="380.0" r="1.6" fill="#1010ff" fill-opacity="0.9"/>
<circle cx="429.7" cy="344.3" r="1.6" fill="#1010ff" fill-opacity="0.9"/>
<circle cx="467.0" cy="367.3" r="1.6" fill="#1010ff" fill-opacity="0.9"/>
<circle cx="469.2" cy="385.4" r="1.6" fill="#1010ff" fill-opacity="0.9"/>
<circle cx="431.3" cy="321.7" r="1.6" fill="#1010ff" fill-opacity="0.9"/>
<circle cx="438.8" cy="330.6" r="1.6" fill="#1010ff" fill-opacity="0.9"/>
<circle cx="481.7" cy="361.8" r="1.6" fill="#1010ff" fill-opacity="0.9"/>
<circle cx="434.2" cy="383.8" r="1.6" fill="#1010ff" fill-opacity="0.9"/>
<circle cx="446.6" cy="376.0" r="1.6" fill="#1010ff" fill-opacity="0.9"/>
<circle cx="459.6" cy="385.0" r="1.6" fill="#1010ff" fill-opacity="0.9"/>
<circle cx="436.6" cy="372.8" r="1.6" fill="#1010ff" fill-opacity="0.9"/>
<circle cx="440.4" cy="364.4" r="1.6" fill="#1010ff" fill-opacity="0.9"/>
<circle cx="442.6" cy="373.6" r="1.6" fill="#1010ff" fill-opacity="0.9"/>
<circle cx="433.0" cy="364.4" r="1.6" fill="#1010ff" fill-opacity="0.9"/>
<circle cx="470.7" cy="367.3" r="1.6" fill="#1010ff" fill-opacity="0.9"/>
<circle cx="460.8" cy="351.6" r="1.6" fill="#1010ff" fill-opacity="0.9"/>
<circle cx="450.5" cy="362.9" r="1.6" fill="#1010ff" fill-opacity="0.9"/>
<circle cx="457.2" cy="344.1" r="1.6" fill="#1010ff" fill-opacity="0.9"/>
<circle cx="429.7" cy="329.0" r="1.6" fill="#1010ff" fill-opacity="0.9"/>
<circle cx="462.4" cy="386.6" r="1.6" fill="#1010ff" fill-opacity="0.9"/>
<circle cx="441.7" cy="373.2" r="1.6" fill="#1010ff" fill-opacity="0.9"/>
<circle cx="430.0" cy="342.6" r="1.6" fill="#1010ff" fill-opacity="0.9"/>
<circle cx="450.5" cy="383.1" r="1.6" fill="#1010ff" fill-opacity="0.9"/>
<circle cx="435.6" cy="372.1" r="1.6" fill="#1010ff" fill-opacity="0.9"/>
<circle cx="448.6" cy="382.2" r="1.6" fill="#1010ff" fill-opacity="0.9"/>
<circle cx="479.7" cy="383.0" r="1.6" fill="#1010ff" fill-opacity="0.9"/>
<circle cx="447.4" cy="344.2" r="1.6" fill="#1010ff" fill-opacity="0.9"/>
<circle cx="436.2" cy="368.9" r="1.6" fill="#1010ff" fill-opacity="0.9"/>
<circle cx="438.8" cy="350.0" r="1.6" fill="#1010ff" fill-opacity="0.9"/>
<circle cx="450.7" cy="369.5" r="1.6" fill="#1010ff" fill-opacity="0.9"/>
<circle cx="452.3" cy="377.0" r="1.6" fill="#1010ff" fill-opacity="0.9"/>
<circle cx="460.1" cy="375.9" r="1.6" fill="#1010ff" fill-opacity="0.9"/>
<circle cx="431.5" cy="320.5" r="1.6" fill="#1010ff" fill-opacity="0.9"/>
<circle cx="448.2" cy="384.6" r="1.6" fill="#1010ff" fill-opacity="0.9"/>
<circle cx="441.4" cy="372.9" r="1.6" fill="#1010ff" fill-opacity="0.9"/>
<circle cx="435.2" cy="384.7" r="1.6" fill="#1010ff" fill-opacity="0.9"/>
<circle cx="442.3" cy="384.6" r="1.6" fill="#1010ff" fill-opacity="0.9"/>
<circle cx="444.5" cy="365.3" r="1.6" fill="#1010ff" fill-opacity="0.9"/>
<circle cx="447.8" cy="368.4" r="1.6" fill="#1010ff" fill-opacity="0.9"/>
<circle cx="430.0" cy="319.5" r="1.6" fill="#1010ff" fill-opacity="0.9"/>
<circle cx="449.5" cy="368.7" r="1.6" fill="#1010ff" fill-opacity="0.9"/>
<circle cx="431.1" cy="363.3" r="1.6" fill="#1010ff" fill-opacity="0.9"/>
<circle cx="436.1" cy="381.5" r="1.6" fill="#1010ff" fill-opacity="0.9"/>
<circle cx="437.0" cy="345.9" r="1.6" fill="#1010ff" fill-opacity="0.9"/>
<circle cx="459.9" cy="385.3" r="1.6" fill="#1010ff" fill-opacity="0.9"/>
<circle cx="480.5" cy="364.0" r="1.6" fill="#1010ff" fill-opacity="0.9"/>
<circle cx="445.0" cy="366.0" r="1.6" fill="#1010ff" fill-opacity="0.9"/>
<circle cx="478.7" cy="387.9" r="1.6" fill="#1010ff" fill-opacity="0.9"/>
<circle cx="457.2" cy="384.3" r="1.6" fill="#1010ff" fill-opacity="0.9"/>
<circle cx="450.8" cy="387.6" r="1.6" fill="#1010ff" fill-opacity="0.9"/>
<circle cx="473.1" cy="360.6" r="1.6" fill="#1010ff" fill-opacity="0.9"/>
<circle cx="431.1" cy="386.1" r="1.6" fill="#1010ff" fill-opacity="0.9"/>
<circle cx="476.2" cy="386.0" r="1.6" fill="#1010ff" fill-opacity="0.9"/>
<circle cx="483.1" cy="368.8" r="1.6" fill="#1010ff" fill-opacity="0.9"/>
<circle cx="472.2" cy="351.6" r="1.6" fill="#1010ff" fill-opacity="0.9"/>
<circle cx="441.2" cy="349.5" r="1.6" fill="#1010ff" fill-opacity="0.9"/>
<circle cx="433.0" cy="359.6" r="1.6" fill="#1010ff" fill-opacity="0.9"/>
<circle cx="456.9" cy="374.5" r="1.6" fill="#1010ff" fill-opacity="0.9"/>
<circle cx="449.7" cy="331.0" r="1.6" fill="#1010ff" fill-opacity="0.9"/>
<circle cx="477.2" cy="381.9" r="1.6" fill="#1010ff" fill-opacity="0.9"/>
<circle cx="439.9" cy="347.2" r="1.6" fill="#1010ff" fill-opacity="0.9"/>
<circle cx="437.6" cy="378.3" r="1.6" fill="#1010ff" fill-opacity="0.9"/>
<circle cx="477.1" cy="377.9" r="1.6" fill="#1010ff" fill-opacity="0.9"/>
<circle cx="434.2" cy="372.9" r="1.6" fill="#1010ff" fill-opacity="0.9"/>
<circle cx="458.9" cy="370.2" r="1.6" fill="#1010ff" fill-opacity="0.9"/>
<circle cx="480.4" cy="357.7" r="1.6" fill="#1010ff" fill-opacity="0.9"/>
<circle cx="440.1" cy="377.3" r="1.6" fill="#1010ff" fill-opacity="0.9"/>
<circle cx="451.3" cy="363.9" r="1.6" fill="#1010ff" fill-opacity="0.9"/>
<circle cx="441.2" cy="355.4" r="1.6" fill="#1010ff" fill-opacity="0.9"/>
<circle cx="438.3" cy="364.1" r="1.6" fill="#1010ff" fill-opacity="0.9"/>
<circle cx="449.3" cy="367.5" r="1.6" fill="#1010ff" fill-opacity="0.9"/>
<circle cx="444.9" cy="382.6" r="1.6" fill="#1010ff" fill-opacity="0.9"/>
<circle cx="441.2" cy="333.9" r="1.6" fill="#1010ff" fill-opacity="0.9"/>
<circle cx="441.3" cy="331.3" r="1.6" fill="#1010ff" fill-opacity="0.9"/>
<circle cx="470.8" cy="359.8" r="1.6" fill="#1010ff" fill-opacity="0.9"/>
<circle cx="456.6" cy="362.7" r="1.6" fill="#1010ff" fill-opacity="0.9"/>
<circle cx="467.6" cy="375.9" r="1.6" fill="#1010ff" fill-opacity="0.9"/>
<circle cx="459.9" cy="371.0" r="1.6" fill="#1010ff" fill-opacity="0.9"/>
<circle cx="441.0" cy="319.0" r="1.6" fill="#1010ff" fill-opacity="0.9"/>
<circle cx="445.0" cy="322.0" r="1.6" fill="#1010ff" fill-opacity="0.9"/>
</g>
<circle cx="357.80" cy="432.80" r="3.50" fill="#a3b1e7" stroke="#84574a" stroke-width="0.5"/>
<ellipse cx="357.80" cy="433.99" rx="0.88" ry="0.81" fill="#8c7470"/>
<circle cx="351.70" cy="438.70" r="3.50" fill="#a3b1e7" stroke="#84574a" stroke-width="0.5"/>
<ellipse cx="351.70" cy="439.89" rx="0.88" ry="0.81" fill="#8c7470"/>
<circle cx="359.60" cy="440.80" r="3.50" fill="#a3b1e7" stroke="#84574a" stroke-width="0.5"/>
<ellipse cx="359.60" cy="441.99" rx="0.88" ry="0.81" fill="#8c7470"/>
<line x1="368.00" y1="436.90" x2="383.80" y2="436.90" stroke="#000" stroke-width="3.0" stroke-linecap="round"/>
<path d="M392.20,436.90 L381.70,433.50 L382.96,436.90 L381.70,440.30 Z" fill="#000"/>
<path d="M421.53,425.91 C421.60,425.72 422.20,425.43 422.66,425.16 C423.12,424.88 423.76,424.52 424.30,424.25 C424.85,423.99 425.46,423.74 425.94,423.56 C426.42,423.39 426.76,423.27 427.16,423.19 C427.57,423.12 428.04,423.06 428.38,423.09 C428.72,423.12 428.92,423.15 429.18,423.39 C429.44,423.63 429.70,424.13 429.95,424.53 C430.21,424.92 430.47,425.25 430.72,425.77 C430.98,426.30 431.26,427.04 431.47,427.68 C431.69,428.31 431.90,429.06 432.02,429.60 C432.14,430.13 432.19,430.62 432.18,430.89 C432.17,431.17 432.17,431.30 431.97,431.24 C431.77,431.19 431.37,430.84 430.98,430.56 C430.58,430.29 430.05,429.91 429.59,429.59 C429.13,429.26 428.67,428.94 428.21,428.61 C427.75,428.29 427.29,427.93 426.82,427.64 C426.36,427.35 425.93,427.08 425.43,426.89 C424.94,426.69 424.37,426.58 423.83,426.48 C423.30,426.38 422.61,426.38 422.22,426.29 C421.84,426.19 421.45,426.10 421.53,425.91 Z" fill="#e9a677" stroke="#84574a" stroke-width="0.5" stroke-linejoin="round"/>
<ellipse cx="427.56" cy="425.91" rx="1.23" ry="0.94" transform="rotate(27.0 427.56 425.91)" fill="#8c7470"/>
<path d="M409.14,433.66 C409.13,433.86 408.66,434.32 408.32,434.73 C407.97,435.13 407.49,435.68 407.07,436.10 C406.64,436.52 406.14,436.95 405.75,437.27 C405.36,437.58 405.08,437.80 404.72,438.00 C404.37,438.20 403.94,438.41 403.62,438.49 C403.30,438.56 403.10,438.60 402.78,438.46 C402.45,438.32 402.06,437.93 401.69,437.64 C401.32,437.35 400.98,437.13 400.57,436.72 C400.17,436.31 399.67,435.70 399.27,435.18 C398.86,434.65 398.42,434.02 398.14,433.55 C397.86,433.09 397.66,432.65 397.58,432.39 C397.50,432.13 397.46,432.01 397.67,432.00 C397.87,431.99 398.35,432.19 398.81,432.32 C399.27,432.45 399.88,432.63 400.41,432.79 C400.95,432.95 401.48,433.10 402.02,433.26 C402.56,433.42 403.10,433.61 403.63,433.73 C404.15,433.85 404.64,433.97 405.17,433.99 C405.70,434.02 406.27,433.94 406.80,433.87 C407.33,433.79 407.98,433.56 408.37,433.53 C408.76,433.49 409.15,433.46 409.14,433.66 Z" fill="#e9a677" stroke="#84574a" stroke-width="0.5" stroke-linejoin="round"/>
<ellipse cx="403.66" cy="435.70" rx="1.22" ry="0.93" transform="rotate(-171.8 403.66 435.70)" fill="#8c7470"/>
<path d="M418.43,429.24 C418.24,429.28 417.88,429.79 417.56,430.18 C417.23,430.57 416.80,431.10 416.47,431.57 C416.14,432.04 415.81,432.57 415.58,432.99 C415.34,433.40 415.19,433.70 415.05,434.07 C414.92,434.43 414.79,434.86 414.77,435.18 C414.75,435.50 414.75,435.69 414.93,435.97 C415.11,436.25 415.54,436.56 415.87,436.86 C416.20,437.16 416.46,437.45 416.91,437.76 C417.36,438.08 418.01,438.45 418.57,438.75 C419.13,439.04 419.79,439.35 420.27,439.54 C420.75,439.74 421.19,439.86 421.45,439.89 C421.70,439.92 421.82,439.94 421.80,439.75 C421.78,439.55 421.52,439.13 421.32,438.72 C421.12,438.32 420.86,437.77 420.63,437.29 C420.39,436.81 420.16,436.34 419.93,435.86 C419.70,435.38 419.43,434.90 419.23,434.42 C419.04,433.95 418.85,433.51 418.74,433.02 C418.64,432.52 418.62,431.98 418.61,431.47 C418.59,430.95 418.70,430.31 418.67,429.94 C418.65,429.57 418.62,429.20 418.43,429.24 Z" fill="#e9a677" stroke="#84574a" stroke-width="0.5" stroke-linejoin="round"/>
<ellipse cx="417.44" cy="435.81" rx="1.16" ry="0.88" transform="rotate(72.2 417.44 435.81)" fill="#8c7470"/>
<path d="M424.38,449.08 C424.32,449.26 423.75,449.55 423.31,449.83 C422.88,450.10 422.28,450.46 421.76,450.73 C421.25,450.99 420.67,451.24 420.21,451.42 C419.76,451.60 419.44,451.71 419.05,451.79 C418.67,451.88 418.21,451.94 417.89,451.92 C417.57,451.89 417.38,451.87 417.12,451.65 C416.87,451.42 416.62,450.95 416.36,450.58 C416.11,450.20 415.85,449.90 415.60,449.40 C415.35,448.91 415.07,448.21 414.85,447.60 C414.63,447.00 414.41,446.29 414.29,445.78 C414.16,445.27 414.10,444.80 414.10,444.54 C414.11,444.28 414.11,444.16 414.30,444.21 C414.49,444.26 414.88,444.58 415.26,444.84 C415.64,445.09 416.15,445.44 416.60,445.74 C417.05,446.04 417.49,446.34 417.94,446.64 C418.39,446.94 418.84,447.27 419.29,447.54 C419.73,447.81 420.15,448.06 420.63,448.23 C421.11,448.41 421.66,448.51 422.17,448.59 C422.68,448.67 423.34,448.65 423.71,448.74 C424.08,448.82 424.45,448.90 424.38,449.08 Z" fill="#e9a677" stroke="#84574a" stroke-width="0.5" stroke-linejoin="round"/>
<ellipse cx="418.31" cy="449.27" rx="1.18" ry="0.90" transform="rotate(-154.2 418.31 449.27)" fill="#8c7470"/>
<circle cx="410.65" cy="429.96" r="3.41" fill="#a3b1e7" stroke="#84574a" stroke-width="0.5"/>
<ellipse cx="410.51" cy="431.12" rx="0.85" ry="0.79" fill="#8c7470"/>
<circle cx="426.85" cy="435.55" r="3.41" fill="#a3b1e7" stroke="#84574a" stroke-width="0.5"/>
<ellipse cx="425.82" cy="435.76" rx="0.85" ry="0.79" fill="#8c7470"/>
<circle cx="411.44" cy="440.16" r="3.41" fill="#a3b1e7" stroke="#84574a" stroke-width="0.5"/>
<ellipse cx="410.49" cy="440.30" rx="0.85" ry="0.79" fill="#8c7470"/>
<circle cx="400.29" cy="443.00" r="3.41" fill="#a3b1e7" stroke="#84574a" stroke-width="0.5"/>
<ellipse cx="400.93" cy="442.55" rx="0.85" ry="0.79" fill="#8c7470"/>
<circle cx="429.47" cy="444.96" r="3.41" fill="#a3b1e7" stroke="#84574a" stroke-width="0.5"/>
<ellipse cx="429.47" cy="445.82" rx="0.85" ry="0.79" fill="#8c7470"/>
</g>
<rect x="346.60" y="280.50" width="163.30" height="171.20" fill="none" stroke="#000" stroke-width="1.2"/>
<line x1="343.10" y1="451.30" x2="346.60" y2="451.30" stroke="#000" stroke-width="1"/>
<text x="339.00" y="455.20" font-size="11.3" text-anchor="end" textLength="13.99" lengthAdjust="spacingAndGlyphs">10</text>
<line x1="343.10" y1="425.75" x2="346.60" y2="425.75" stroke="#000" stroke-width="1"/>
<text x="339.00" y="429.65" font-size="11.3" text-anchor="end" textLength="13.99" lengthAdjust="spacingAndGlyphs">20</text>
<line x1="343.10" y1="400.20" x2="346.60" y2="400.20" stroke="#000" stroke-width="1"/>
<text x="339.00" y="404.10" font-size="11.3" text-anchor="end" textLength="13.99" lengthAdjust="spacingAndGlyphs">30</text>
<line x1="343.10" y1="374.65" x2="346.60" y2="374.65" stroke="#000" stroke-width="1"/>
<text x="339.00" y="378.55" font-size="11.3" text-anchor="end" textLength="13.99" lengthAdjust="spacingAndGlyphs">40</text>
<line x1="343.10" y1="349.10" x2="346.60" y2="349.10" stroke="#000" stroke-width="1"/>
<text x="339.00" y="353.00" font-size="11.3" text-anchor="end" textLength="13.99" lengthAdjust="spacingAndGlyphs">50</text>
<line x1="343.10" y1="323.55" x2="346.60" y2="323.55" stroke="#000" stroke-width="1"/>
<text x="339.00" y="327.45" font-size="11.3" text-anchor="end" textLength="13.99" lengthAdjust="spacingAndGlyphs">60</text>
<line x1="343.10" y1="298.00" x2="346.60" y2="298.00" stroke="#000" stroke-width="1"/>
<text x="339.00" y="301.90" font-size="11.3" text-anchor="end" textLength="13.99" lengthAdjust="spacingAndGlyphs">70</text>
<line x1="361.30" y1="451.70" x2="361.30" y2="455.20" stroke="#000" stroke-width="1"/>
<text x="361.30" y="468.40" font-size="11.3" text-anchor="middle" textLength="17.49" lengthAdjust="spacingAndGlyphs">0.2</text>
<line x1="408.40" y1="451.70" x2="408.40" y2="455.20" stroke="#000" stroke-width="1"/>
<text x="408.40" y="468.40" font-size="11.3" text-anchor="middle" textLength="17.49" lengthAdjust="spacingAndGlyphs">0.4</text>
<line x1="455.50" y1="451.70" x2="455.50" y2="455.20" stroke="#000" stroke-width="1"/>
<text x="455.50" y="468.40" font-size="11.3" text-anchor="middle" textLength="17.49" lengthAdjust="spacingAndGlyphs">0.6</text>
<line x1="502.60" y1="451.70" x2="502.60" y2="455.20" stroke="#000" stroke-width="1"/>
<text x="502.60" y="468.40" font-size="11.3" text-anchor="middle" textLength="17.49" lengthAdjust="spacingAndGlyphs">0.8</text>
<text x="427.7" y="482.3" font-size="11.3" text-anchor="middle" textLength="96.6" lengthAdjust="spacingAndGlyphs" fill="#222222">Target <tspan font-style="italic">X</tspan><tspan font-size="8" dy="2.5">2</tspan><tspan dy="-2.5"> fraction</tspan></text>
<text x="318.00" y="366.30" font-size="11.3" text-anchor="middle" textLength="116.90" lengthAdjust="spacingAndGlyphs" transform="rotate(-90 318.00 366.30)">Saturation time (a.u.)</text>
<path d="M354.80,269.40 C356.82,269.07 363.25,268.55 366.90,267.40 C370.55,266.25 373.45,264.25 376.70,262.50 C379.95,260.75 383.15,258.43 386.40,256.90 C389.65,255.37 392.95,254.40 396.20,253.30 C399.45,252.20 402.85,251.48 405.90,250.30 C408.95,249.12 411.85,247.28 414.50,246.20 C417.15,245.12 419.57,244.05 421.80,243.80 C424.03,243.55 425.27,244.02 427.90,244.70 C430.53,245.38 434.35,246.83 437.60,247.90 C440.85,248.97 444.55,249.88 447.40,251.10 C450.25,252.32 452.27,253.82 454.70,255.20 C457.13,256.58 459.15,258.18 462.00,259.40 C464.85,260.62 468.95,261.37 471.80,262.50 C474.65,263.63 476.67,265.18 479.10,266.20 C481.53,267.22 483.97,268.07 486.40,268.60 C488.83,269.13 492.48,269.27 493.70,269.40 L493.70,269.4 L354.80,269.4 Z" fill="#0000ff" fill-opacity="0.25"/>
<path d="M354.80,269.40 C356.82,269.07 363.25,268.55 366.90,267.40 C370.55,266.25 373.45,264.25 376.70,262.50 C379.95,260.75 383.15,258.43 386.40,256.90 C389.65,255.37 392.95,254.40 396.20,253.30 C399.45,252.20 402.85,251.48 405.90,250.30 C408.95,249.12 411.85,247.28 414.50,246.20 C417.15,245.12 419.57,244.05 421.80,243.80 C424.03,243.55 425.27,244.02 427.90,244.70 C430.53,245.38 434.35,246.83 437.60,247.90 C440.85,248.97 444.55,249.88 447.40,251.10 C450.25,252.32 452.27,253.82 454.70,255.20 C457.13,256.58 459.15,258.18 462.00,259.40 C464.85,260.62 468.95,261.37 471.80,262.50 C474.65,263.63 476.67,265.18 479.10,266.20 C481.53,267.22 483.97,268.07 486.40,268.60 C488.83,269.13 492.48,269.27 493.70,269.40" fill="none" stroke="#0000ff" stroke-width="2.0"/>
<path d="M411.50,269.40 C411.80,269.27 412.20,269.33 413.30,268.60 C414.40,267.87 416.48,267.03 418.10,265.00 C419.72,262.97 421.17,259.85 423.00,256.40 C424.83,252.95 427.07,247.95 429.10,244.30 C431.13,240.65 433.17,237.97 435.20,234.50 C437.23,231.03 439.67,225.65 441.30,223.50 C442.93,221.35 443.78,221.60 445.00,221.60 C446.22,221.60 447.18,221.75 448.60,223.50 C450.02,225.25 451.87,229.87 453.50,232.10 C455.13,234.33 456.57,234.47 458.40,236.90 C460.23,239.33 462.68,243.85 464.50,246.70 C466.32,249.55 467.28,251.77 469.30,254.00 C471.32,256.23 474.15,258.07 476.60,260.10 C479.05,262.13 481.55,264.78 484.00,266.20 C486.45,267.62 488.87,268.07 491.30,268.60 C493.73,269.13 497.38,269.27 498.60,269.40 L498.60,269.4 L411.50,269.4 Z" fill="#ff0000" fill-opacity="0.25"/>
<path d="M411.50,269.40 C411.80,269.27 412.20,269.33 413.30,268.60 C414.40,267.87 416.48,267.03 418.10,265.00 C419.72,262.97 421.17,259.85 423.00,256.40 C424.83,252.95 427.07,247.95 429.10,244.30 C431.13,240.65 433.17,237.97 435.20,234.50 C437.23,231.03 439.67,225.65 441.30,223.50 C442.93,221.35 443.78,221.60 445.00,221.60 C446.22,221.60 447.18,221.75 448.60,223.50 C450.02,225.25 451.87,229.87 453.50,232.10 C455.13,234.33 456.57,234.47 458.40,236.90 C460.23,239.33 462.68,243.85 464.50,246.70 C466.32,249.55 467.28,251.77 469.30,254.00 C471.32,256.23 474.15,258.07 476.60,260.10 C479.05,262.13 481.55,264.78 484.00,266.20 C486.45,267.62 488.87,268.07 491.30,268.60 C493.73,269.13 497.38,269.27 498.60,269.40" fill="none" stroke="#ff0000" stroke-width="2.0"/>
<rect x="346.60" y="219.10" width="163.30" height="50.30" fill="none" stroke="#000" stroke-width="1.2"/>
<line x1="361.30" y1="269.40" x2="361.30" y2="272.90" stroke="#000" stroke-width="1"/>
<line x1="408.40" y1="269.40" x2="408.40" y2="272.90" stroke="#000" stroke-width="1"/>
<line x1="455.50" y1="269.40" x2="455.50" y2="272.90" stroke="#000" stroke-width="1"/>
<line x1="502.60" y1="269.40" x2="502.60" y2="272.90" stroke="#000" stroke-width="1"/>
<line x1="343.10" y1="269.40" x2="346.60" y2="269.40" stroke="#000" stroke-width="1"/>
<text x="339.00" y="273.30" font-size="11.3" text-anchor="end" textLength="7.00" lengthAdjust="spacingAndGlyphs">0</text>
<line x1="343.10" y1="240.80" x2="346.60" y2="240.80" stroke="#000" stroke-width="1"/>
<text x="339.00" y="244.70" font-size="11.3" text-anchor="end" textLength="7.00" lengthAdjust="spacingAndGlyphs">2</text>
<text x="326.30" y="243.90" font-size="11.3" text-anchor="middle" textLength="39.80" lengthAdjust="spacingAndGlyphs" transform="rotate(-90 326.30 243.90)">Density</text>
<text x="350.30" y="229.60" font-size="11.3" fill="#0000ff" textLength="61.60" lengthAdjust="spacingAndGlyphs">SD = 0.106</text>
<text x="350.30" y="240.00" font-size="11.3" fill="#ff0000" textLength="61.60" lengthAdjust="spacingAndGlyphs">SD = 0.060</text>
<path d="M519.40,282.00 C519.40,283.78 519.12,288.07 519.40,292.70 C519.68,297.33 520.40,304.50 521.10,309.80 C521.80,315.10 522.58,320.02 523.60,324.50 C524.62,328.98 525.98,333.03 527.20,336.70 C528.42,340.37 529.67,343.25 530.90,346.50 C532.13,349.75 532.77,352.95 534.60,356.20 C536.43,359.45 539.47,363.35 541.90,366.00 C544.33,368.65 546.75,370.07 549.20,372.10 C551.65,374.13 554.35,375.95 556.60,378.20 C558.85,380.45 561.40,383.55 562.70,385.60 C564.00,387.65 564.60,388.87 564.40,390.50 C564.20,392.13 563.62,393.57 561.50,395.40 C559.38,397.23 555.37,399.47 551.70,401.50 C548.03,403.53 543.17,405.77 539.50,407.60 C535.83,409.43 532.57,410.87 529.70,412.50 C526.83,414.13 523.93,415.77 522.30,417.40 C520.67,419.03 520.38,420.68 519.90,422.30 C519.42,423.92 519.50,425.48 519.40,427.10 C519.30,428.72 519.32,431.18 519.30,432.00 L519.2,432.00 L519.2,282.00 Z" fill="#0000ff" fill-opacity="0.25"/>
<path d="M519.40,282.00 C519.40,283.78 519.12,288.07 519.40,292.70 C519.68,297.33 520.40,304.50 521.10,309.80 C521.80,315.10 522.58,320.02 523.60,324.50 C524.62,328.98 525.98,333.03 527.20,336.70 C528.42,340.37 529.67,343.25 530.90,346.50 C532.13,349.75 532.77,352.95 534.60,356.20 C536.43,359.45 539.47,363.35 541.90,366.00 C544.33,368.65 546.75,370.07 549.20,372.10 C551.65,374.13 554.35,375.95 556.60,378.20 C558.85,380.45 561.40,383.55 562.70,385.60 C564.00,387.65 564.60,388.87 564.40,390.50 C564.20,392.13 563.62,393.57 561.50,395.40 C559.38,397.23 555.37,399.47 551.70,401.50 C548.03,403.53 543.17,405.77 539.50,407.60 C535.83,409.43 532.57,410.87 529.70,412.50 C526.83,414.13 523.93,415.77 522.30,417.40 C520.67,419.03 520.38,420.68 519.90,422.30 C519.42,423.92 519.50,425.48 519.40,427.10 C519.30,428.72 519.32,431.18 519.30,432.00" fill="none" stroke="#0000ff" stroke-width="2.0"/>
<path d="M519.30,323.00 C519.32,323.65 519.10,323.80 519.40,326.90 C519.70,330.00 520.20,337.52 521.10,341.60 C522.00,345.68 523.17,347.73 524.80,351.40 C526.43,355.07 528.47,359.93 530.90,363.60 C533.33,367.27 536.35,370.15 539.40,373.40 C542.45,376.65 546.33,379.85 549.20,383.10 C552.07,386.35 554.97,389.63 556.60,392.90 C558.23,396.17 558.80,399.43 559.00,402.70 C559.20,405.97 559.02,409.65 557.80,412.50 C556.58,415.35 554.77,417.77 551.70,419.80 C548.63,421.83 543.07,423.07 539.40,424.70 C535.73,426.33 532.33,427.97 529.70,429.60 C527.07,431.23 525.15,432.67 523.60,434.50 C522.05,436.33 521.10,438.57 520.40,440.60 C519.70,442.63 519.58,444.97 519.40,446.70 C519.22,448.43 519.32,450.28 519.30,451.00 L519.2,451.00 L519.2,323.00 Z" fill="#ff0000" fill-opacity="0.25"/>
<path d="M519.30,323.00 C519.32,323.65 519.10,323.80 519.40,326.90 C519.70,330.00 520.20,337.52 521.10,341.60 C522.00,345.68 523.17,347.73 524.80,351.40 C526.43,355.07 528.47,359.93 530.90,363.60 C533.33,367.27 536.35,370.15 539.40,373.40 C542.45,376.65 546.33,379.85 549.20,383.10 C552.07,386.35 554.97,389.63 556.60,392.90 C558.23,396.17 558.80,399.43 559.00,402.70 C559.20,405.97 559.02,409.65 557.80,412.50 C556.58,415.35 554.77,417.77 551.70,419.80 C548.63,421.83 543.07,423.07 539.40,424.70 C535.73,426.33 532.33,427.97 529.70,429.60 C527.07,431.23 525.15,432.67 523.60,434.50 C522.05,436.33 521.10,438.57 520.40,440.60 C519.70,442.63 519.58,444.97 519.40,446.70 C519.22,448.43 519.32,450.28 519.30,451.00" fill="none" stroke="#ff0000" stroke-width="2.0"/>
<rect x="519.20" y="280.50" width="47.90" height="170.70" fill="none" stroke="#000" stroke-width="1.2"/>
<line x1="515.70" y1="451.30" x2="519.20" y2="451.30" stroke="#000" stroke-width="1"/>
<line x1="515.70" y1="425.75" x2="519.20" y2="425.75" stroke="#000" stroke-width="1"/>
<line x1="515.70" y1="400.20" x2="519.20" y2="400.20" stroke="#000" stroke-width="1"/>
<line x1="515.70" y1="374.65" x2="519.20" y2="374.65" stroke="#000" stroke-width="1"/>
<line x1="515.70" y1="349.10" x2="519.20" y2="349.10" stroke="#000" stroke-width="1"/>
<line x1="515.70" y1="323.55" x2="519.20" y2="323.55" stroke="#000" stroke-width="1"/>
<line x1="515.70" y1="298.00" x2="519.20" y2="298.00" stroke="#000" stroke-width="1"/>
<line x1="519.30" y1="451.20" x2="519.30" y2="454.70" stroke="#000" stroke-width="1"/>
<text x="519.30" y="468.40" font-size="11.3" text-anchor="middle" textLength="7.00" lengthAdjust="spacingAndGlyphs">0</text>
<line x1="560.20" y1="451.20" x2="560.20" y2="454.70" stroke="#000" stroke-width="1"/>
<text x="560.20" y="468.40" font-size="11.3" text-anchor="middle" textLength="24.49" lengthAdjust="spacingAndGlyphs">0.01</text>
<text x="542.60" y="482.30" font-size="11.3" text-anchor="middle" textLength="42.00" lengthAdjust="spacingAndGlyphs">Density</text>
<rect x="516.50" y="221.70" width="105.90" height="50.80" rx="2" fill="#fff" fill-opacity="0.8" stroke="#d6d6d6" stroke-width="1"/>
<text x="569.50" y="234.60" font-size="11.3" text-anchor="middle" textLength="31.60" lengthAdjust="spacingAndGlyphs">Model</text>
<rect x="519.90" y="242.10" width="23.90" height="9.00" fill="#0000ff" stroke="none" stroke-width="1"/>
<rect x="519.90" y="258.10" width="23.90" height="8.70" fill="#ff0000" stroke="none" stroke-width="1"/>
<text x="551.80" y="250.90" font-size="11.3" textLength="38.90" lengthAdjust="spacingAndGlyphs">Control</text>
<text x="551.80" y="266.50" font-size="11.3" textLength="65.40" lengthAdjust="spacingAndGlyphs">w/ feedback</text>
<text x="270.30" y="509.20" font-size="25.5" fill="#000" font-weight="bold">F</text>
<clipPath id="cF"><rect x="318.8" y="531.2" width="295.3" height="160.0"/></clipPath>
<g clip-path="url(#cF)">
<path d="M356.13,662.81 C356.20,662.62 356.79,662.33 357.25,662.05 C357.70,661.76 358.33,661.40 358.87,661.13 C359.41,660.86 360.02,660.60 360.49,660.42 C360.96,660.24 361.30,660.13 361.70,660.04 C362.11,659.96 362.58,659.90 362.91,659.93 C363.25,659.96 363.45,659.98 363.71,660.22 C363.97,660.46 364.23,660.95 364.49,661.34 C364.75,661.73 365.01,662.05 365.27,662.57 C365.53,663.09 365.81,663.82 366.04,664.46 C366.26,665.09 366.48,665.83 366.60,666.36 C366.72,666.89 366.78,667.38 366.77,667.65 C366.77,667.92 366.77,668.05 366.57,668.00 C366.37,667.94 365.97,667.60 365.58,667.33 C365.18,667.06 364.65,666.70 364.19,666.38 C363.73,666.06 363.26,665.74 362.80,665.42 C362.34,665.11 361.88,664.75 361.41,664.47 C360.95,664.19 360.52,663.92 360.02,663.73 C359.53,663.55 358.96,663.44 358.42,663.34 C357.89,663.25 357.20,663.27 356.82,663.18 C356.44,663.09 356.05,663.00 356.13,662.81 Z" fill="#e9a677" stroke="#84574a" stroke-width="0.5" stroke-linejoin="round"/>
<ellipse cx="362.16" cy="662.81" rx="1.22" ry="0.93" transform="rotate(26.4 362.16 662.81)" fill="#8c7470"/>
<path d="M343.74,670.35 C343.73,670.55 343.26,671.01 342.92,671.42 C342.58,671.83 342.10,672.37 341.68,672.80 C341.25,673.22 340.76,673.65 340.37,673.97 C339.98,674.29 339.70,674.50 339.34,674.71 C338.99,674.91 338.57,675.12 338.24,675.19 C337.92,675.27 337.72,675.31 337.40,675.17 C337.08,675.03 336.68,674.65 336.31,674.36 C335.94,674.07 335.59,673.85 335.19,673.44 C334.78,673.03 334.28,672.43 333.88,671.90 C333.47,671.38 333.03,670.75 332.75,670.28 C332.46,669.82 332.26,669.38 332.18,669.12 C332.10,668.87 332.06,668.74 332.27,668.73 C332.47,668.72 332.95,668.92 333.41,669.05 C333.87,669.18 334.48,669.36 335.02,669.51 C335.55,669.67 336.09,669.82 336.62,669.98 C337.16,670.13 337.70,670.32 338.23,670.44 C338.75,670.56 339.24,670.68 339.77,670.70 C340.30,670.72 340.87,670.64 341.40,670.57 C341.93,670.49 342.58,670.26 342.97,670.22 C343.36,670.19 343.75,670.15 343.74,670.35 Z" fill="#e9a677" stroke="#84574a" stroke-width="0.5" stroke-linejoin="round"/>
<ellipse cx="338.26" cy="672.34" rx="1.22" ry="0.93" transform="rotate(-172.0 338.26 672.34)" fill="#8c7470"/>
<path d="M353.03,666.05 C352.85,666.09 352.50,666.59 352.18,666.97 C351.87,667.35 351.45,667.88 351.13,668.34 C350.81,668.79 350.50,669.32 350.28,669.73 C350.05,670.13 349.90,670.43 349.77,670.79 C349.64,671.14 349.52,671.57 349.50,671.87 C349.49,672.18 349.49,672.37 349.67,672.64 C349.85,672.91 350.27,673.21 350.59,673.50 C350.91,673.79 351.17,674.07 351.61,674.38 C352.05,674.68 352.69,675.04 353.24,675.33 C353.78,675.61 354.43,675.91 354.90,676.09 C355.37,676.27 355.81,676.39 356.06,676.42 C356.31,676.45 356.43,676.47 356.40,676.28 C356.38,676.09 356.12,675.68 355.92,675.28 C355.73,674.88 355.46,674.35 355.24,673.89 C355.01,673.42 354.77,672.96 354.54,672.50 C354.31,672.03 354.05,671.56 353.85,671.10 C353.66,670.64 353.47,670.21 353.36,669.73 C353.26,669.25 353.23,668.72 353.22,668.22 C353.20,667.72 353.31,667.09 353.27,666.73 C353.24,666.37 353.21,666.01 353.03,666.05 Z" fill="#e9a677" stroke="#84574a" stroke-width="0.5" stroke-linejoin="round"/>
<ellipse cx="352.04" cy="672.45" rx="1.13" ry="0.86" transform="rotate(71.7 352.04 672.45)" fill="#8c7470"/>
<path d="M358.98,685.37 C358.92,685.55 358.36,685.84 357.93,686.12 C357.50,686.39 356.91,686.76 356.39,687.03 C355.88,687.30 355.31,687.55 354.86,687.73 C354.41,687.91 354.09,688.03 353.71,688.12 C353.32,688.21 352.88,688.28 352.56,688.26 C352.24,688.23 352.04,688.21 351.79,687.99 C351.53,687.77 351.27,687.31 351.02,686.94 C350.76,686.57 350.51,686.27 350.25,685.78 C349.99,685.29 349.70,684.59 349.48,683.99 C349.25,683.39 349.03,682.69 348.90,682.18 C348.77,681.68 348.71,681.22 348.71,680.95 C348.71,680.69 348.71,680.57 348.90,680.62 C349.09,680.67 349.48,680.98 349.86,681.23 C350.24,681.48 350.76,681.82 351.21,682.12 C351.65,682.41 352.10,682.71 352.55,683.00 C353.00,683.30 353.45,683.62 353.90,683.88 C354.34,684.14 354.76,684.39 355.24,684.56 C355.72,684.73 356.26,684.82 356.78,684.90 C357.29,684.98 357.94,684.95 358.31,685.03 C358.68,685.11 359.05,685.18 358.98,685.37 Z" fill="#e9a677" stroke="#84574a" stroke-width="0.5" stroke-linejoin="round"/>
<ellipse cx="352.91" cy="685.55" rx="1.17" ry="0.89" transform="rotate(-154.8 352.91 685.55)" fill="#8c7470"/>
<circle cx="345.25" cy="666.74" r="3.41" fill="#a3b1e7" stroke="#84574a" stroke-width="0.5"/>
<ellipse cx="345.11" cy="667.91" rx="0.85" ry="0.79" fill="#8c7470"/>
<circle cx="361.45" cy="672.19" r="3.41" fill="#a3b1e7" stroke="#84574a" stroke-width="0.5"/>
<ellipse cx="360.42" cy="672.40" rx="0.85" ry="0.79" fill="#8c7470"/>
<circle cx="346.04" cy="676.68" r="3.41" fill="#a3b1e7" stroke="#84574a" stroke-width="0.5"/>
<ellipse cx="345.09" cy="676.82" rx="0.85" ry="0.79" fill="#8c7470"/>
<circle cx="334.89" cy="679.44" r="3.41" fill="#a3b1e7" stroke="#84574a" stroke-width="0.5"/>
<ellipse cx="335.53" cy="679.00" rx="0.85" ry="0.79" fill="#8c7470"/>
<circle cx="364.07" cy="681.35" r="3.41" fill="#a3b1e7" stroke="#84574a" stroke-width="0.5"/>
<ellipse cx="364.07" cy="682.21" rx="0.85" ry="0.79" fill="#8c7470"/>
<line x1="373.10" y1="673.70" x2="389.40" y2="673.70" stroke="#000" stroke-width="3.0" stroke-linecap="round"/>
<path d="M397.80,673.70 L387.30,670.30 L388.56,673.70 L387.30,677.10 Z" fill="#000"/>
<circle cx="407.20" cy="669.70" r="3.50" fill="#a3b1e7" stroke="#84574a" stroke-width="0.5"/>
<ellipse cx="407.20" cy="670.89" rx="0.88" ry="0.81" fill="#8c7470"/>
<circle cx="401.30" cy="675.80" r="3.50" fill="#a3b1e7" stroke="#84574a" stroke-width="0.5"/>
<ellipse cx="401.30" cy="676.99" rx="0.88" ry="0.81" fill="#8c7470"/>
<path d="M411.50,672.00 C411.67,672.11 411.82,672.75 411.99,673.26 C412.16,673.77 412.38,674.46 412.52,675.05 C412.66,675.64 412.77,676.29 412.84,676.79 C412.91,677.29 412.95,677.64 412.94,678.05 C412.93,678.47 412.88,678.94 412.78,679.26 C412.67,679.58 412.60,679.76 412.31,679.97 C412.02,680.17 411.49,680.31 411.05,680.48 C410.61,680.64 410.24,680.82 409.67,680.96 C409.11,681.09 408.33,681.21 407.67,681.28 C407.00,681.35 406.23,681.40 405.68,681.40 C405.14,681.40 404.66,681.35 404.39,681.28 C404.13,681.21 404.00,681.18 404.10,681.00 C404.20,680.82 404.62,680.51 404.97,680.19 C405.32,679.86 405.80,679.43 406.21,679.05 C406.62,678.67 407.04,678.29 407.45,677.91 C407.86,677.53 408.31,677.16 408.69,676.78 C409.07,676.39 409.43,676.03 409.72,675.59 C410.02,675.14 410.25,674.62 410.46,674.12 C410.67,673.62 410.81,672.95 410.98,672.59 C411.16,672.24 411.33,671.89 411.50,672.00 Z" fill="#e9a677" stroke="#84574a" stroke-width="0.5" stroke-linejoin="round"/>
<ellipse cx="410.20" cy="677.60" rx="1.22" ry="0.93" transform="rotate(129.4 410.20 677.60)" fill="#8c7470"/>
<line x1="418.00" y1="673.80" x2="433.30" y2="673.80" stroke="#000" stroke-width="3.0" stroke-linecap="round"/>
<path d="M441.70,673.80 L431.20,670.40 L432.46,673.80 L431.20,677.20 Z" fill="#000"/>
<path d="M470.91,662.55 C470.98,662.36 471.58,662.08 472.04,661.80 C472.51,661.53 473.14,661.17 473.69,660.90 C474.24,660.64 474.85,660.39 475.33,660.22 C475.80,660.04 476.14,659.93 476.55,659.86 C476.96,659.78 477.43,659.72 477.76,659.75 C478.10,659.79 478.30,659.82 478.56,660.06 C478.82,660.30 479.08,660.80 479.33,661.20 C479.59,661.59 479.85,661.92 480.10,662.44 C480.35,662.97 480.62,663.71 480.84,664.35 C481.05,664.98 481.26,665.73 481.38,666.27 C481.49,666.80 481.54,667.29 481.54,667.56 C481.53,667.84 481.52,667.97 481.32,667.91 C481.12,667.85 480.73,667.50 480.34,667.23 C479.94,666.95 479.42,666.58 478.96,666.25 C478.50,665.93 478.04,665.60 477.58,665.27 C477.12,664.95 476.66,664.59 476.20,664.30 C475.74,664.01 475.31,663.73 474.81,663.54 C474.31,663.34 473.74,663.23 473.21,663.12 C472.67,663.02 471.98,663.03 471.60,662.93 C471.22,662.84 470.83,662.74 470.91,662.55 Z" fill="#e9a677" stroke="#84574a" stroke-width="0.5" stroke-linejoin="round"/>
<ellipse cx="476.93" cy="662.55" rx="1.23" ry="0.94" transform="rotate(27.2 476.93 662.55)" fill="#8c7470"/>
<path d="M458.55,670.34 C458.54,670.54 458.08,671.00 457.73,671.41 C457.39,671.81 456.91,672.35 456.48,672.77 C456.06,673.20 455.56,673.62 455.17,673.94 C454.78,674.25 454.50,674.46 454.14,674.67 C453.79,674.87 453.36,675.07 453.04,675.15 C452.72,675.23 452.52,675.26 452.20,675.12 C451.88,674.98 451.48,674.59 451.12,674.30 C450.75,674.02 450.41,673.80 450.00,673.38 C449.60,672.97 449.10,672.37 448.70,671.84 C448.30,671.32 447.86,670.69 447.58,670.22 C447.30,669.76 447.10,669.32 447.02,669.06 C446.94,668.80 446.90,668.68 447.11,668.67 C447.31,668.66 447.79,668.86 448.25,668.99 C448.70,669.12 449.31,669.31 449.85,669.46 C450.38,669.62 450.92,669.78 451.45,669.93 C451.98,670.09 452.53,670.28 453.05,670.41 C453.58,670.53 454.06,670.65 454.59,670.67 C455.12,670.69 455.69,670.62 456.22,670.54 C456.75,670.47 457.39,670.24 457.78,670.21 C458.17,670.18 458.56,670.14 458.55,670.34 Z" fill="#e9a677" stroke="#84574a" stroke-width="0.5" stroke-linejoin="round"/>
<ellipse cx="453.09" cy="672.39" rx="1.21" ry="0.93" transform="rotate(-171.7 453.09 672.39)" fill="#8c7470"/>
<path d="M467.82,665.90 C467.63,665.94 467.27,666.45 466.94,666.84 C466.61,667.23 466.17,667.76 465.84,668.23 C465.51,668.70 465.18,669.24 464.95,669.65 C464.71,670.07 464.55,670.37 464.41,670.74 C464.28,671.11 464.15,671.54 464.13,671.86 C464.11,672.18 464.11,672.37 464.29,672.65 C464.47,672.93 464.90,673.25 465.23,673.55 C465.56,673.85 465.82,674.14 466.27,674.46 C466.72,674.77 467.37,675.15 467.93,675.45 C468.50,675.75 469.16,676.06 469.64,676.25 C470.13,676.45 470.57,676.57 470.83,676.61 C471.08,676.64 471.21,676.66 471.18,676.46 C471.16,676.26 470.90,675.84 470.70,675.43 C470.51,675.02 470.24,674.47 470.01,673.99 C469.78,673.51 469.54,673.03 469.31,672.55 C469.08,672.07 468.81,671.58 468.62,671.11 C468.42,670.63 468.23,670.19 468.13,669.69 C468.02,669.20 468.00,668.65 467.99,668.13 C467.98,667.62 468.09,666.98 468.06,666.60 C468.04,666.23 468.01,665.86 467.82,665.90 Z" fill="#e9a677" stroke="#84574a" stroke-width="0.5" stroke-linejoin="round"/>
<ellipse cx="466.83" cy="672.51" rx="1.16" ry="0.89" transform="rotate(72.3 466.83 672.51)" fill="#8c7470"/>
<path d="M473.76,685.85 C473.69,686.03 473.13,686.31 472.69,686.59 C472.25,686.86 471.65,687.22 471.14,687.48 C470.62,687.74 470.04,687.99 469.59,688.17 C469.13,688.34 468.81,688.46 468.42,688.54 C468.04,688.62 467.59,688.69 467.27,688.66 C466.95,688.63 466.75,688.61 466.50,688.38 C466.24,688.16 465.99,687.69 465.74,687.32 C465.49,686.94 465.23,686.64 464.98,686.14 C464.73,685.64 464.45,684.94 464.24,684.34 C464.02,683.73 463.80,683.02 463.68,682.51 C463.56,682.00 463.50,681.54 463.50,681.28 C463.51,681.02 463.51,680.89 463.70,680.94 C463.89,680.99 464.27,681.32 464.66,681.58 C465.04,681.83 465.55,682.18 465.99,682.48 C466.44,682.78 466.89,683.08 467.33,683.39 C467.78,683.69 468.22,684.02 468.67,684.29 C469.12,684.56 469.53,684.81 470.01,684.99 C470.49,685.16 471.04,685.26 471.55,685.35 C472.06,685.43 472.72,685.41 473.09,685.50 C473.46,685.58 473.82,685.66 473.76,685.85 Z" fill="#e9a677" stroke="#84574a" stroke-width="0.5" stroke-linejoin="round"/>
<ellipse cx="467.70" cy="686.04" rx="1.17" ry="0.90" transform="rotate(-154.0 467.70 686.04)" fill="#8c7470"/>
<circle cx="460.06" cy="666.62" r="3.41" fill="#a3b1e7" stroke="#84574a" stroke-width="0.5"/>
<ellipse cx="459.92" cy="667.78" rx="0.85" ry="0.78" fill="#8c7470"/>
<circle cx="476.21" cy="672.24" r="3.41" fill="#a3b1e7" stroke="#84574a" stroke-width="0.5"/>
<ellipse cx="475.19" cy="672.45" rx="0.85" ry="0.78" fill="#8c7470"/>
<circle cx="460.85" cy="676.88" r="3.41" fill="#a3b1e7" stroke="#84574a" stroke-width="0.5"/>
<ellipse cx="459.90" cy="677.01" rx="0.85" ry="0.78" fill="#8c7470"/>
<circle cx="449.72" cy="679.73" r="3.41" fill="#a3b1e7" stroke="#84574a" stroke-width="0.5"/>
<ellipse cx="450.37" cy="679.29" rx="0.85" ry="0.78" fill="#8c7470"/>
<circle cx="478.83" cy="681.70" r="3.41" fill="#a3b1e7" stroke="#84574a" stroke-width="0.5"/>
<ellipse cx="478.83" cy="682.56" rx="0.85" ry="0.78" fill="#8c7470"/>
<path d="M316.80,540.69 L377.70,540.69 L377.70,669.63 L377.70,669.63 L378.29,667.14 L378.88,664.70 L379.47,662.30 L380.06,659.95 L380.66,657.65 L381.25,655.39 L381.84,653.18 L382.43,651.01 L383.02,648.87 L383.61,646.79 L384.20,644.74 L384.79,642.73 L385.39,640.76 L385.98,638.82 L386.57,636.93 L387.16,635.07 L387.75,633.25 L388.34,631.46 L388.93,629.71 L389.52,627.99 L390.12,626.30 L390.71,624.65 L391.30,623.03 L391.89,621.44 L392.48,619.88 L393.07,618.35 L393.66,616.85 L394.25,615.38 L394.85,613.94 L395.44,612.52 L396.03,611.13 L396.62,609.77 L397.21,608.44 L397.80,607.13 L398.39,605.85 L398.99,604.59 L399.58,603.36 L400.17,602.15 L400.76,600.96 L401.35,599.79 L401.94,598.65 L402.53,597.53 L403.12,596.44 L403.71,595.36 L404.31,594.30 L404.90,593.27 L405.49,592.25 L406.08,591.26 L406.67,590.28 L407.26,589.32 L407.85,588.38 L408.44,587.46 L409.04,586.56 L409.63,585.67 L410.22,584.80 L410.81,583.95 L411.40,583.12 L411.99,582.30 L412.58,581.49 L413.17,580.71 L413.77,579.93 L414.36,579.17 L414.95,578.43 L415.54,577.70 L416.13,576.99 L416.72,576.29 L417.31,575.60 L417.90,574.93 L418.50,574.26 L419.09,573.62 L419.68,572.98 L420.27,572.36 L420.86,571.74 L421.45,571.14 L422.04,570.56 L422.63,569.98 L423.23,569.41 L423.82,568.86 L424.41,568.31 L425.00,567.78 L425.59,567.26 L426.18,566.74 L426.77,566.24 L427.37,565.75 L427.96,565.26 L428.55,564.79 L429.14,564.32 L429.73,563.87 L430.32,563.42 L430.91,562.98 L431.50,562.55 L432.09,562.13 L432.69,561.71 L433.28,561.31 L433.87,560.91 L434.46,560.52 L435.05,560.14 L435.64,559.76 L436.23,559.39 L436.82,559.03 L437.42,558.68 L438.01,558.33 L438.60,557.99 L439.19,557.65 L439.78,557.33 L440.37,557.01 L440.96,556.69 L441.56,556.38 L442.15,556.08 L442.74,555.78 L443.33,555.49 L443.92,555.20 L444.51,554.92 L445.10,554.65 L445.69,554.38 L446.28,554.11 L446.88,553.85 L447.47,553.60 L448.06,553.35 L448.65,553.11 L449.24,552.87 L449.83,552.63 L450.42,552.40 L451.01,552.17 L451.61,551.95 L452.20,551.73 L452.79,551.52 L453.38,551.31 L453.97,551.11 L454.56,550.91 L455.15,550.71 L455.75,550.51 L456.34,550.33 L456.93,550.14 L457.52,549.96 L458.11,549.78 L458.70,549.60 L459.29,549.43 L459.88,549.26 L460.48,549.10 L461.07,548.93 L461.66,548.77 L462.25,548.62 L462.84,548.46 L463.43,548.31 L464.02,548.17 L464.61,548.02 L465.20,547.88 L465.80,547.74 L466.39,547.61 L466.98,547.47 L467.57,547.34 L468.16,547.21 L468.75,547.09 L469.34,546.96 L469.94,546.84 L470.53,546.72 L471.12,546.61 L471.71,546.49 L472.30,546.38 L472.89,546.27 L473.48,546.16 L474.07,546.06 L474.66,545.95 L475.26,545.85 L475.85,545.75 L476.44,545.65 L477.03,545.56 L477.62,545.46 L478.21,545.37 L478.80,545.28 L479.39,545.19 L479.99,545.10 L480.58,545.02 L481.17,544.94 L481.76,544.85 L482.35,544.77 L482.94,544.69 L483.53,544.62 L484.12,544.54 L484.72,544.47 L485.31,544.39 L485.90,544.32 L486.49,544.25 L487.08,544.18 L487.67,544.11 L488.26,544.05 L488.86,543.98 L489.45,543.92 L490.04,543.86 L490.63,543.80 L491.22,543.74 L491.81,543.68 L492.40,543.62 L492.99,543.56 L493.58,543.51 L494.18,543.45 L494.77,543.40 L495.36,543.35 L495.95,543.30 L496.54,543.25 L497.13,543.20 L497.72,543.15 L498.31,543.10 L498.91,543.05 L499.50,543.01 L500.09,542.96 L500.68,542.92 L501.27,542.88 L501.86,542.83 L502.45,542.79 L503.04,542.75 L503.64,542.71 L504.23,542.67 L504.82,542.63 L505.41,542.60 L506.00,542.56 L506.59,542.52 L507.18,542.49 L507.77,542.45 L508.37,542.42 L508.96,542.39 L509.55,542.35 L510.14,542.32 L510.73,542.29 L511.32,542.26 L511.91,542.23 L512.50,542.20 L513.10,542.17 L513.69,542.14 L514.28,542.11 L514.87,542.08 L515.46,542.06 L516.05,542.03 L516.64,542.00 L517.24,541.98 L517.83,541.95 L518.42,541.93 L519.01,541.91 L519.60,541.88 L520.19,541.86 L520.78,541.84 L521.37,541.81 L521.97,541.79 L522.56,541.77 L523.15,541.75 L523.74,541.73 L524.33,541.71 L524.92,541.69 L525.51,541.67 L526.10,541.65 L526.69,541.63 L527.29,541.61 L527.88,541.60 L528.47,541.58 L529.06,541.56 L529.65,541.54 L530.24,541.53 L530.83,541.51 L531.42,541.50 L532.02,541.48 L532.61,541.46 L533.20,541.45 L533.79,541.43 L534.38,541.42 L534.97,541.41 L535.56,541.39 L536.15,541.38 L536.75,541.37 L537.34,541.35 L537.93,541.34 L538.52,541.33 L539.11,541.31 L539.70,541.30 L540.29,541.29 L540.88,541.28 L541.48,541.27 L542.07,541.26 L542.66,541.24 L543.25,541.23 L543.84,541.22 L544.43,541.21 L545.02,541.20 L545.62,541.19 L546.21,541.18 L546.80,541.17 L547.39,541.16 L547.98,541.15 L548.57,541.15 L549.16,541.14 L549.75,541.13 L550.35,541.12 L550.94,541.11 L551.53,541.10 L552.12,541.09 L552.71,541.09 L553.30,541.08 L553.89,541.07 L554.48,541.06 L555.08,541.06 L555.67,541.05 L556.26,541.04 L556.85,541.04 L557.44,541.03 L558.03,541.02 L558.62,541.02 L559.21,541.01 L559.81,541.00 L560.40,541.00 L560.99,540.99 L561.58,540.99 L562.17,540.98 L562.76,540.97 L563.35,540.97 L563.94,540.96 L564.53,540.96 L565.13,540.95 L565.72,540.95 L566.31,540.94 L566.90,540.94 L567.49,540.93 L568.08,540.93 L568.67,540.92 L569.26,540.92 L569.86,540.91 L570.45,540.91 L571.04,540.90 L571.63,540.90 L572.22,540.90 L572.81,540.89 L573.40,540.89 L574.00,540.88 L574.59,540.88 L575.18,540.88 L575.77,540.87 L576.36,540.87 L576.95,540.87 L577.54,540.86 L578.13,540.86 L578.73,540.86 L579.32,540.85 L579.91,540.85 L580.50,540.85 L581.09,540.84 L581.68,540.84 L582.27,540.84 L582.86,540.83 L583.46,540.83 L584.05,540.83 L584.64,540.83 L585.23,540.82 L585.82,540.82 L586.41,540.82 L587.00,540.82 L587.59,540.81 L588.18,540.81 L588.78,540.81 L589.37,540.81 L589.96,540.80 L590.55,540.80 L591.14,540.80 L591.73,540.80 L592.32,540.79 L592.91,540.79 L593.51,540.79 L594.10,540.79 L594.69,540.79 L595.28,540.78 L595.87,540.78 L596.46,540.78 L597.05,540.78 L597.64,540.78 L598.24,540.77 L598.83,540.77 L599.42,540.77 L600.01,540.77 L600.60,540.77 L601.19,540.77 L601.78,540.77 L602.38,540.76 L602.97,540.76 L603.56,540.76 L604.15,540.76 L604.74,540.76 L605.33,540.76 L605.92,540.75 L606.51,540.75 L607.11,540.75 L607.70,540.75 L608.29,540.75 L608.88,540.75 L609.47,540.75 L610.06,540.75 L610.65,540.74 L611.24,540.74 L611.84,540.74 L612.43,540.74 L613.02,540.74 L613.61,540.74 L614.20,540.74" stroke="#0000ff" stroke-width="2.1" fill="none" stroke-linejoin="round"/>
<path d="M316.80,538.70 L377.70,538.70 L377.70,669.63 L377.70,669.63 L378.29,666.88 L378.88,664.16 L379.47,661.48 L380.06,658.82 L380.66,656.19 L381.25,653.59 L381.84,651.02 L382.43,648.48 L383.02,645.97 L383.61,643.50 L384.20,641.05 L384.79,638.63 L385.39,636.24 L385.98,633.88 L386.57,631.55 L387.16,629.25 L387.75,626.98 L388.34,624.74 L388.93,622.53 L389.52,620.35 L390.12,618.20 L390.71,616.08 L391.30,613.99 L391.89,611.94 L392.48,609.91 L393.07,607.92 L393.66,605.96 L394.25,604.03 L394.85,602.13 L395.44,600.27 L396.03,598.43 L396.62,596.63 L397.21,594.87 L397.80,593.13 L398.39,591.43 L398.99,589.76 L399.58,588.13 L400.17,586.53 L400.76,584.96 L401.35,583.43 L401.94,581.93 L402.53,580.46 L403.12,579.03 L403.71,577.63 L404.31,576.27 L404.90,574.94 L405.49,573.64 L406.08,572.38 L406.67,571.15 L407.26,569.96 L407.85,568.79 L408.44,567.66 L409.04,566.57 L409.63,565.50 L410.22,564.47 L410.81,563.47 L411.40,562.50 L411.99,561.56 L412.58,560.65 L413.17,559.77 L413.77,558.92 L414.36,558.10 L414.95,557.31 L415.54,556.54 L416.13,555.80 L416.72,555.09 L417.31,554.40 L417.90,553.74 L418.50,553.10 L419.09,552.49 L419.68,551.90 L420.27,551.33 L420.86,550.79 L421.45,550.26 L422.04,549.76 L422.63,549.28 L423.23,548.81 L423.82,548.37 L424.41,547.94 L425.00,547.53 L425.59,547.14 L426.18,546.76 L426.77,546.40 L427.37,546.06 L427.96,545.73 L428.55,545.41 L429.14,545.11 L429.73,544.81 L430.32,544.54 L430.91,544.27 L431.50,544.02 L432.09,543.77 L432.69,543.54 L433.28,543.32 L433.87,543.11 L434.46,542.91 L435.05,542.71 L435.64,542.53 L436.23,542.35 L436.82,542.18 L437.42,542.02 L438.01,541.87 L438.60,541.72 L439.19,541.58 L439.78,541.45 L440.37,541.32 L440.96,541.20 L441.56,541.08 L442.15,540.97 L442.74,540.86 L443.33,540.76 L443.92,540.67 L444.51,540.57 L445.10,540.49 L445.69,540.40 L446.28,540.32 L446.88,540.25 L447.47,540.18 L448.06,540.11 L448.65,540.04 L449.24,539.98 L449.83,539.92 L450.42,539.86 L451.01,539.81 L451.61,539.76 L452.20,539.71 L452.79,539.66 L453.38,539.61 L453.97,539.57 L454.56,539.53 L455.15,539.49 L455.75,539.46 L456.34,539.42 L456.93,539.39 L457.52,539.35 L458.11,539.32 L458.70,539.29 L459.29,539.27 L459.88,539.24 L460.48,539.22 L461.07,539.19 L461.66,539.17 L462.25,539.15 L462.84,539.13 L463.43,539.11 L464.02,539.09 L464.61,539.07 L465.20,539.05 L465.80,539.04 L466.39,539.02 L466.98,539.01 L467.57,538.99 L468.16,538.98 L468.75,538.97 L469.34,538.95 L469.94,538.94 L470.53,538.93 L471.12,538.92 L471.71,538.91 L472.30,538.90 L472.89,538.89 L473.48,538.88 L474.07,538.88 L474.66,538.87 L475.26,538.86 L475.85,538.85 L476.44,538.85 L477.03,538.84 L477.62,538.83 L478.21,538.83 L478.80,538.82 L479.39,538.82 L479.99,538.81 L480.58,538.81 L481.17,538.80 L481.76,538.80 L482.35,538.80 L482.94,538.79 L483.53,538.79 L484.12,538.78 L484.72,538.78 L485.31,538.78 L485.90,538.77 L486.49,538.77 L487.08,538.77 L487.67,538.77 L488.26,538.76 L488.86,538.76 L489.45,538.76 L490.04,538.76 L490.63,538.75 L491.22,538.75 L491.81,538.75 L492.40,538.75 L492.99,538.75 L493.58,538.75 L494.18,538.74 L494.77,538.74 L495.36,538.74 L495.95,538.74 L496.54,538.74 L497.13,538.74 L497.72,538.74 L498.31,538.73 L498.91,538.73 L499.50,538.73 L500.09,538.73 L500.68,538.73 L501.27,538.73 L501.86,538.73 L502.45,538.73 L503.04,538.73 L503.64,538.73 L504.23,538.73 L504.82,538.73 L505.41,538.72 L506.00,538.72 L506.59,538.72 L507.18,538.72 L507.77,538.72 L508.37,538.72 L508.96,538.72 L509.55,538.72 L510.14,538.72 L510.73,538.72 L511.32,538.72 L511.91,538.72 L512.50,538.72 L513.10,538.72 L513.69,538.72 L514.28,538.72 L514.87,538.72 L515.46,538.72 L516.05,538.72 L516.64,538.72 L517.24,538.72 L517.83,538.72 L518.42,538.72 L519.01,538.72 L519.60,538.72 L520.19,538.72 L520.78,538.72 L521.37,538.72 L521.97,538.72 L522.56,538.72 L523.15,538.72 L523.74,538.72 L524.33,538.72 L524.92,538.72 L525.51,538.72 L526.10,538.71 L526.69,538.71 L527.29,538.71 L527.88,538.71 L528.47,538.71 L529.06,538.71 L529.65,538.71 L530.24,538.71 L530.83,538.71 L531.42,538.71 L532.02,538.71 L532.61,538.71 L533.20,538.71 L533.79,538.71 L534.38,538.71 L534.97,538.71 L535.56,538.71 L536.15,538.71 L536.75,538.71 L537.34,538.71 L537.93,538.71 L538.52,538.71 L539.11,538.71 L539.70,538.71 L540.29,538.71 L540.88,538.71 L541.48,538.71 L542.07,538.71 L542.66,538.71 L543.25,538.71 L543.84,538.71 L544.43,538.71 L545.02,538.71 L545.62,538.71 L546.21,538.71 L546.80,538.71 L547.39,538.71 L547.98,538.71 L548.57,538.71 L549.16,538.71 L549.75,538.71 L550.35,538.71 L550.94,538.71 L551.53,538.71 L552.12,538.71 L552.71,538.71 L553.30,538.71 L553.89,538.71 L554.48,538.71 L555.08,538.71 L555.67,538.71 L556.26,538.71 L556.85,538.71 L557.44,538.71 L558.03,538.71 L558.62,538.71 L559.21,538.71 L559.81,538.71 L560.40,538.71 L560.99,538.71 L561.58,538.71 L562.17,538.71 L562.76,538.71 L563.35,538.71 L563.94,538.71 L564.53,538.71 L565.13,538.71 L565.72,538.71 L566.31,538.71 L566.90,538.71 L567.49,538.71 L568.08,538.71 L568.67,538.71 L569.26,538.71 L569.86,538.71 L570.45,538.71 L571.04,538.71 L571.63,538.71 L572.22,538.71 L572.81,538.71 L573.40,538.71 L574.00,538.71 L574.59,538.71 L575.18,538.71 L575.77,538.71 L576.36,538.71 L576.95,538.71 L577.54,538.71 L578.13,538.71 L578.73,538.71 L579.32,538.71 L579.91,538.71 L580.50,538.71 L581.09,538.71 L581.68,538.71 L582.27,538.71 L582.86,538.71 L583.46,538.71 L584.05,538.71 L584.64,538.71 L585.23,538.71 L585.82,538.71 L586.41,538.71 L587.00,538.71 L587.59,538.71 L588.18,538.71 L588.78,538.71 L589.37,538.71 L589.96,538.71 L590.55,538.71 L591.14,538.71 L591.73,538.71 L592.32,538.71 L592.91,538.71 L593.51,538.71 L594.10,538.71 L594.69,538.71 L595.28,538.71 L595.87,538.71 L596.46,538.71 L597.05,538.71 L597.64,538.71 L598.24,538.71 L598.83,538.71 L599.42,538.71 L600.01,538.71 L600.60,538.71 L601.19,538.71 L601.78,538.71 L602.38,538.71 L602.97,538.71 L603.56,538.71 L604.15,538.71 L604.74,538.71 L605.33,538.71 L605.92,538.71 L606.51,538.71 L607.11,538.71 L607.70,538.71 L608.29,538.71 L608.88,538.71 L609.47,538.71 L610.06,538.71 L610.65,538.71 L611.24,538.71 L611.84,538.71 L612.43,538.71 L613.02,538.71 L613.61,538.71 L614.20,538.71" stroke="#ff0000" stroke-width="2.1" fill="none" stroke-linejoin="round"/>
<path d="M316.80,554.90 L377.80,538.70 L377.80,669.50 L378.60,667.51 L379.39,665.52 L380.19,663.52 L380.99,661.49 L381.78,659.46 L382.58,657.49 L383.38,655.64 L384.17,653.90 L384.97,652.21 L385.77,650.54 L386.56,648.85 L387.36,647.12 L388.16,645.38 L388.95,643.67 L389.75,642.01 L390.55,640.41 L391.34,638.86 L392.14,637.34 L392.94,635.87 L393.73,634.46 L394.53,633.11 L395.33,631.79 L396.12,630.52 L396.92,629.30 L397.72,628.12 L398.51,626.98 L399.31,625.91 L400.11,624.90 L400.90,623.93 L401.70,622.97 L402.50,621.99 L403.29,620.97 L404.09,619.89 L404.89,618.75 L405.68,617.57 L406.48,616.40 L407.28,615.27 L408.07,614.21 L408.87,613.18 L409.67,612.18 L410.46,611.20 L411.26,610.26 L412.06,609.37 L412.85,608.55 L413.65,607.77 L414.45,607.02 L415.24,606.29 L416.04,605.57 L416.84,604.89 L417.63,604.22 L418.43,603.58 L419.23,602.97 L420.02,602.38 L420.82,601.82 L421.62,601.29 L422.41,600.79 L423.21,600.32 L424.01,599.86 L424.80,599.41 L425.60,598.99 L426.40,598.58 L427.19,598.19 L427.99,597.81 L428.79,597.44 L429.58,597.09 L430.38,596.75 L431.18,596.43 L431.97,596.11 L432.77,595.81 L433.57,595.52 L434.36,595.24 L435.16,594.97 L435.96,594.71 L436.75,594.45 L437.55,594.21 L438.35,593.97 L439.14,593.73 L439.94,593.50 L440.74,593.28 L441.53,593.05 L442.33,592.83 L443.13,592.62 L443.92,592.41 L444.72,592.20 L445.52,592.00 L446.31,591.80 L447.11,591.60 L447.91,591.41 L448.70,591.22 L449.50,591.03 L450.30,590.84 L451.09,590.65 L451.89,590.47 L452.69,590.29 L453.48,590.11 L454.28,589.93 L455.08,589.75 L455.87,589.58 L456.67,589.40 L457.47,589.23 L458.26,589.06 L459.06,588.89 L459.86,588.72 L460.65,588.55 L461.45,588.39 L462.25,588.22 L463.04,588.05 L463.84,587.88 L464.64,587.72 L465.43,587.55 L466.23,587.38 L467.03,587.21 L467.82,587.05 L468.62,586.88 L469.42,586.70 L470.21,586.53 L471.01,586.36 L471.81,586.19 L472.60,586.01 L473.40,585.84 L474.20,585.67 L474.99,585.50 L475.79,585.32 L476.59,585.15 L477.38,584.98 L478.18,584.80 L478.98,584.63 L479.77,584.46 L480.57,584.28 L481.37,584.11 L482.16,583.94 L482.96,583.77 L483.76,583.59 L484.55,583.42 L485.35,583.25 L486.15,583.07 L486.94,582.90 L487.74,582.73 L488.54,582.56 L489.33,582.38 L490.13,582.21 L490.93,582.04 L491.72,581.86 L492.52,581.69 L493.32,581.52 L494.11,581.35 L494.91,581.17 L495.71,581.00 L496.50,580.83 L497.30,580.65 L498.09,580.48 L498.89,580.31 L499.69,580.14 L500.48,579.96 L501.28,579.79 L502.08,579.62 L502.87,579.44 L503.67,579.27 L504.47,579.10 L505.26,578.93 L506.06,578.75 L506.86,578.58 L507.65,578.41 L508.45,578.23 L509.25,578.06 L510.04,577.89 L510.84,577.72 L511.64,577.54 L512.43,577.37 L513.23,577.20 L514.03,577.02 L514.82,576.85 L515.62,576.68 L516.42,576.51 L517.21,576.33 L518.01,576.16 L518.81,575.99 L519.60,575.81 L520.40,575.64 L521.20,575.47 L521.99,575.30 L522.79,575.12 L523.59,574.95 L524.38,574.78 L525.18,574.60 L525.98,574.43 L526.77,574.26 L527.57,574.09 L528.37,573.91 L529.16,573.74 L529.96,573.57 L530.76,573.39 L531.55,573.22 L532.35,573.05 L533.15,572.88 L533.94,572.70 L534.74,572.53 L535.54,572.36 L536.33,572.18 L537.13,572.01 L537.93,571.84 L538.72,571.67 L539.52,571.49 L540.32,571.32 L541.11,571.15 L541.91,570.97 L542.71,570.80 L543.50,570.63 L544.30,570.45 L545.10,570.28 L545.89,570.11 L546.69,569.94 L547.49,569.76 L548.28,569.59 L549.08,569.42 L549.88,569.24 L550.67,569.07 L551.47,568.90 L552.27,568.73 L553.06,568.55 L553.86,568.38 L554.66,568.21 L555.45,568.03 L556.25,567.86 L557.05,567.69 L557.84,567.52 L558.64,567.34 L559.44,567.17 L560.23,567.00 L561.03,566.82 L561.83,566.65 L562.62,566.48 L563.42,566.31 L564.22,566.13 L565.01,565.96 L565.81,565.79 L566.61,565.61 L567.40,565.44 L568.20,565.27 L569.00,565.10 L569.79,564.92 L570.59,564.75 L571.39,564.58 L572.18,564.40 L572.98,564.23 L573.78,564.06 L574.57,563.89 L575.37,563.71 L576.17,563.54 L576.96,563.37 L577.76,563.19 L578.56,563.02 L579.35,562.85 L580.15,562.68 L580.95,562.50 L581.74,562.33 L582.54,562.16 L583.34,561.98 L584.13,561.81 L584.93,561.64 L585.73,561.47 L586.52,561.29 L587.32,561.12 L588.12,560.95 L588.91,560.77 L589.71,560.60 L590.51,560.43 L591.30,560.26 L592.10,560.08 L592.90,559.91 L593.69,559.74 L594.49,559.56 L595.29,559.39 L596.08,559.22 L596.88,559.05 L597.68,558.87 L598.47,558.70 L599.27,558.53 L600.07,558.35 L600.86,558.18 L601.66,558.01 L602.46,557.84 L603.25,557.66 L604.05,557.49 L604.85,557.32 L605.64,557.14 L606.44,556.97 L607.24,556.80 L608.03,556.63 L608.83,556.45 L609.63,556.28 L610.42,556.11 L611.22,555.93 L612.02,555.76 L612.81,555.59 L613.61,555.41 L614.41,555.24 L615.20,555.07 L616.00,554.90" stroke="#ffa500" stroke-width="2.3" fill="none" stroke-linejoin="round"/>
<path d="M316.80,554.90 L377.80,538.70 L377.80,669.50 L378.60,667.23 L379.39,665.05 L380.19,662.97 L380.99,661.03 L381.78,659.22 L382.58,657.51 L383.38,655.86 L384.17,654.28 L384.97,652.73 L385.77,651.21 L386.56,649.69 L387.36,648.18 L388.16,646.69 L388.95,645.26 L389.75,643.90 L390.55,642.64 L391.34,641.42 L392.14,640.25 L392.94,639.15 L393.73,638.13 L394.53,637.17 L395.33,636.27 L396.12,635.42 L396.92,634.59 L397.72,633.80 L398.51,633.03 L399.31,632.28 L400.11,631.53 L400.90,630.79 L401.70,630.04 L402.50,629.28 L403.29,628.51 L404.09,627.71 L404.89,626.90 L405.68,626.08 L406.48,625.25 L407.28,624.43 L408.07,623.61 L408.87,622.79 L409.67,621.98 L410.46,621.19 L411.26,620.42 L412.06,619.66 L412.85,618.93 L413.65,618.22 L414.45,617.53 L415.24,616.85 L416.04,616.18 L416.84,615.52 L417.63,614.88 L418.43,614.24 L419.23,613.61 L420.02,613.00 L420.82,612.39 L421.62,611.79 L422.41,611.19 L423.21,610.60 L424.01,610.00 L424.80,609.41 L425.60,608.83 L426.40,608.25 L427.19,607.68 L427.99,607.12 L428.79,606.58 L429.58,606.06 L430.38,605.55 L431.18,605.07 L431.97,604.62 L432.77,604.18 L433.57,603.75 L434.36,603.33 L435.16,602.92 L435.96,602.52 L436.75,602.13 L437.55,601.75 L438.35,601.37 L439.14,601.00 L439.94,600.64 L440.74,600.28 L441.53,599.93 L442.33,599.59 L443.13,599.25 L443.92,598.91 L444.72,598.58 L445.52,598.25 L446.31,597.93 L447.11,597.61 L447.91,597.29 L448.70,596.97 L449.50,596.65 L450.30,596.34 L451.09,596.02 L451.89,595.71 L452.69,595.41 L453.48,595.11 L454.28,594.81 L455.08,594.52 L455.87,594.23 L456.67,593.94 L457.47,593.66 L458.26,593.38 L459.06,593.10 L459.86,592.83 L460.65,592.56 L461.45,592.28 L462.25,592.01 L463.04,591.74 L463.84,591.47 L464.64,591.20 L465.43,590.93 L466.23,590.66 L467.03,590.39 L467.82,590.12 L468.62,589.85 L469.42,589.57 L470.21,589.29 L471.01,589.01 L471.81,588.73 L472.60,588.44 L473.40,588.16 L474.20,587.88 L474.99,587.59 L475.79,587.30 L476.59,587.02 L477.38,586.73 L478.18,586.45 L478.98,586.16 L479.77,585.88 L480.57,585.60 L481.37,585.32 L482.16,585.04 L482.96,584.76 L483.76,584.49 L484.55,584.22 L485.35,583.95 L486.15,583.69 L486.94,583.43 L487.74,583.17 L488.54,582.91 L489.33,582.67 L490.13,582.42 L490.93,582.18 L491.72,581.94 L492.52,581.70 L493.32,581.46 L494.11,581.23 L494.91,581.00 L495.71,580.77 L496.50,580.54 L497.30,580.32 L498.09,580.09 L498.89,579.87 L499.69,579.65 L500.48,579.43 L501.28,579.21 L502.08,578.99 L502.87,578.78 L503.67,578.56 L504.47,578.34 L505.26,578.13 L506.06,577.91 L506.86,577.70 L507.65,577.49 L508.45,577.28 L509.25,577.06 L510.04,576.85 L510.84,576.65 L511.64,576.44 L512.43,576.23 L513.23,576.03 L514.03,575.82 L514.82,575.62 L515.62,575.41 L516.42,575.21 L517.21,575.01 L518.01,574.80 L518.81,574.60 L519.60,574.40 L520.40,574.20 L521.20,574.00 L521.99,573.80 L522.79,573.60 L523.59,573.40 L524.38,573.20 L525.18,573.00 L525.98,572.80 L526.77,572.60 L527.57,572.41 L528.37,572.21 L529.16,572.01 L529.96,571.81 L530.76,571.61 L531.55,571.41 L532.35,571.21 L533.15,571.02 L533.94,570.82 L534.74,570.62 L535.54,570.43 L536.33,570.23 L537.13,570.03 L537.93,569.84 L538.72,569.64 L539.52,569.45 L540.32,569.25 L541.11,569.06 L541.91,568.86 L542.71,568.67 L543.50,568.48 L544.30,568.28 L545.10,568.09 L545.89,567.90 L546.69,567.70 L547.49,567.51 L548.28,567.32 L549.08,567.13 L549.88,566.93 L550.67,566.74 L551.47,566.55 L552.27,566.36 L553.06,566.17 L553.86,565.97 L554.66,565.78 L555.45,565.59 L556.25,565.40 L557.05,565.21 L557.84,565.02 L558.64,564.83 L559.44,564.63 L560.23,564.44 L561.03,564.25 L561.83,564.06 L562.62,563.87 L563.42,563.68 L564.22,563.49 L565.01,563.30 L565.81,563.11 L566.61,562.92 L567.40,562.73 L568.20,562.54 L569.00,562.35 L569.79,562.17 L570.59,561.98 L571.39,561.79 L572.18,561.60 L572.98,561.41 L573.78,561.22 L574.57,561.03 L575.37,560.85 L576.17,560.66 L576.96,560.47 L577.76,560.28 L578.56,560.09 L579.35,559.91 L580.15,559.72 L580.95,559.53 L581.74,559.34 L582.54,559.16 L583.34,558.97 L584.13,558.78 L584.93,558.59 L585.73,558.41 L586.52,558.22 L587.32,558.03 L588.12,557.84 L588.91,557.66 L589.71,557.47 L590.51,557.28 L591.30,557.09 L592.10,556.91 L592.90,556.72 L593.69,556.53 L594.49,556.34 L595.29,556.16 L596.08,555.97 L596.88,555.78 L597.68,555.59 L598.47,555.41 L599.27,555.22 L600.07,555.03 L600.86,554.85 L601.66,554.66 L602.46,554.47 L603.25,554.28 L604.05,554.10 L604.85,553.91 L605.64,553.72 L606.44,553.54 L607.24,553.35 L608.03,553.16 L608.83,552.98 L609.63,552.79 L610.42,552.60 L611.22,552.42 L612.02,552.23 L612.81,552.04 L613.61,551.86 L614.41,551.67 L615.20,551.49 L616.00,551.30" stroke="#ffa500" stroke-width="2.3" fill="none" stroke-linejoin="round" stroke-dasharray="9.6,3.2" stroke-linejoin="miter"/>
</g>
<line x1="318.80" y1="531.20" x2="614.10" y2="531.20" stroke="#000" stroke-width="1.2"/>
<line x1="318.80" y1="531.20" x2="318.80" y2="691.20" stroke="#000" stroke-width="1.2"/>
<line x1="318.80" y1="691.20" x2="614.10" y2="691.20" stroke="#000" stroke-width="1.2"/>
<line x1="614.10" y1="530.60" x2="614.10" y2="691.80" stroke="#ffa500" stroke-width="1.3"/>
<line x1="315.30" y1="684.20" x2="318.80" y2="684.20" stroke="#000" stroke-width="1"/>
<text x="311.20" y="688.10" font-size="11.3" text-anchor="end" textLength="17.49" lengthAdjust="spacingAndGlyphs">0.0</text>
<line x1="315.30" y1="655.06" x2="318.80" y2="655.06" stroke="#000" stroke-width="1"/>
<text x="311.20" y="658.96" font-size="11.3" text-anchor="end" textLength="17.49" lengthAdjust="spacingAndGlyphs">0.1</text>
<line x1="315.30" y1="625.92" x2="318.80" y2="625.92" stroke="#000" stroke-width="1"/>
<text x="311.20" y="629.82" font-size="11.3" text-anchor="end" textLength="17.49" lengthAdjust="spacingAndGlyphs">0.2</text>
<line x1="315.30" y1="596.78" x2="318.80" y2="596.78" stroke="#000" stroke-width="1"/>
<text x="311.20" y="600.68" font-size="11.3" text-anchor="end" textLength="17.49" lengthAdjust="spacingAndGlyphs">0.3</text>
<line x1="315.30" y1="567.64" x2="318.80" y2="567.64" stroke="#000" stroke-width="1"/>
<text x="311.20" y="571.54" font-size="11.3" text-anchor="end" textLength="17.49" lengthAdjust="spacingAndGlyphs">0.4</text>
<line x1="315.30" y1="538.50" x2="318.80" y2="538.50" stroke="#000" stroke-width="1"/>
<text x="311.20" y="542.40" font-size="11.3" text-anchor="end" textLength="17.49" lengthAdjust="spacingAndGlyphs">0.5</text>
<line x1="330.40" y1="691.20" x2="330.40" y2="694.70" stroke="#000" stroke-width="1"/>
<text x="330.40" y="707.90" font-size="11.3" text-anchor="middle" textLength="13.99" lengthAdjust="spacingAndGlyphs">80</text>
<line x1="377.70" y1="691.20" x2="377.70" y2="694.70" stroke="#000" stroke-width="1"/>
<text x="377.70" y="707.90" font-size="11.3" text-anchor="middle" textLength="20.99" lengthAdjust="spacingAndGlyphs">100</text>
<line x1="425.00" y1="691.20" x2="425.00" y2="694.70" stroke="#000" stroke-width="1"/>
<text x="425.00" y="707.90" font-size="11.3" text-anchor="middle" textLength="20.99" lengthAdjust="spacingAndGlyphs">120</text>
<line x1="472.30" y1="691.20" x2="472.30" y2="694.70" stroke="#000" stroke-width="1"/>
<text x="472.30" y="707.90" font-size="11.3" text-anchor="middle" textLength="20.99" lengthAdjust="spacingAndGlyphs">140</text>
<line x1="519.60" y1="691.20" x2="519.60" y2="694.70" stroke="#000" stroke-width="1"/>
<text x="519.60" y="707.90" font-size="11.3" text-anchor="middle" textLength="20.99" lengthAdjust="spacingAndGlyphs">160</text>
<line x1="566.90" y1="691.20" x2="566.90" y2="694.70" stroke="#000" stroke-width="1"/>
<text x="566.90" y="707.90" font-size="11.3" text-anchor="middle" textLength="20.99" lengthAdjust="spacingAndGlyphs">180</text>
<line x1="614.20" y1="691.20" x2="614.20" y2="694.70" stroke="#000" stroke-width="1"/>
<text x="614.20" y="707.90" font-size="11.3" text-anchor="middle" textLength="20.99" lengthAdjust="spacingAndGlyphs">200</text>
<line x1="614.10" y1="684.20" x2="617.60" y2="684.20" stroke="#ffa500" stroke-width="1"/>
<text x="621.40" y="688.10" font-size="11.3" fill="#ffa500" textLength="7.00" lengthAdjust="spacingAndGlyphs">0</text>
<line x1="614.10" y1="648.20" x2="617.60" y2="648.20" stroke="#ffa500" stroke-width="1"/>
<text x="621.40" y="652.10" font-size="11.3" fill="#ffa500" textLength="7.00" lengthAdjust="spacingAndGlyphs">2</text>
<line x1="614.10" y1="612.20" x2="617.60" y2="612.20" stroke="#ffa500" stroke-width="1"/>
<text x="621.40" y="616.10" font-size="11.3" fill="#ffa500" textLength="7.00" lengthAdjust="spacingAndGlyphs">4</text>
<line x1="614.10" y1="576.20" x2="617.60" y2="576.20" stroke="#ffa500" stroke-width="1"/>
<text x="621.40" y="580.10" font-size="11.3" fill="#ffa500" textLength="7.00" lengthAdjust="spacingAndGlyphs">6</text>
<line x1="614.10" y1="540.20" x2="617.60" y2="540.20" stroke="#ffa500" stroke-width="1"/>
<text x="621.40" y="544.10" font-size="11.3" fill="#ffa500" textLength="7.00" lengthAdjust="spacingAndGlyphs">8</text>
<text x="466.50" y="722.00" font-size="11.3" text-anchor="middle" textLength="59.50" lengthAdjust="spacingAndGlyphs">Time (a.u.)</text>
<text transform="translate(286.2,611.6) rotate(-90)" font-size="11.3" text-anchor="middle" textLength="135" lengthAdjust="spacingAndGlyphs" fill="#222222">Fraction of <tspan font-style="italic">X</tspan><tspan font-size="8" dy="2.5">2</tspan><tspan dy="-2.5"> population</tspan></text>
<text transform="translate(640.6,611.1) rotate(-90)" font-size="11.3" text-anchor="middle" textLength="145" lengthAdjust="spacingAndGlyphs" fill="#ffa500">Population size of <tspan font-style="italic">X</tspan><tspan font-size="8" dy="2.5">2</tspan><tspan dy="-2.5"> (a.u.)</tspan></text>
<rect x="502.60" y="651.40" width="106.00" height="35.00" rx="2" fill="#fff" fill-opacity="0.8" stroke="#d6d6d6" stroke-width="1"/>
<line x1="506.10" y1="659.80" x2="530.10" y2="659.80" stroke="#ffa500" stroke-width="2.3"/>
<line x1="507.00" y1="675.90" x2="528.00" y2="675.90" stroke="#ffa500" stroke-width="2.3" stroke-dasharray="9.6,2.6"/>
<text x="538.20" y="663.70" font-size="11.3" textLength="65.50" lengthAdjust="spacingAndGlyphs">w/ feedback</text>
<text x="538.20" y="680.00" font-size="11.3" textLength="38.50" lengthAdjust="spacingAndGlyphs">Control</text>
</svg></body></html>
